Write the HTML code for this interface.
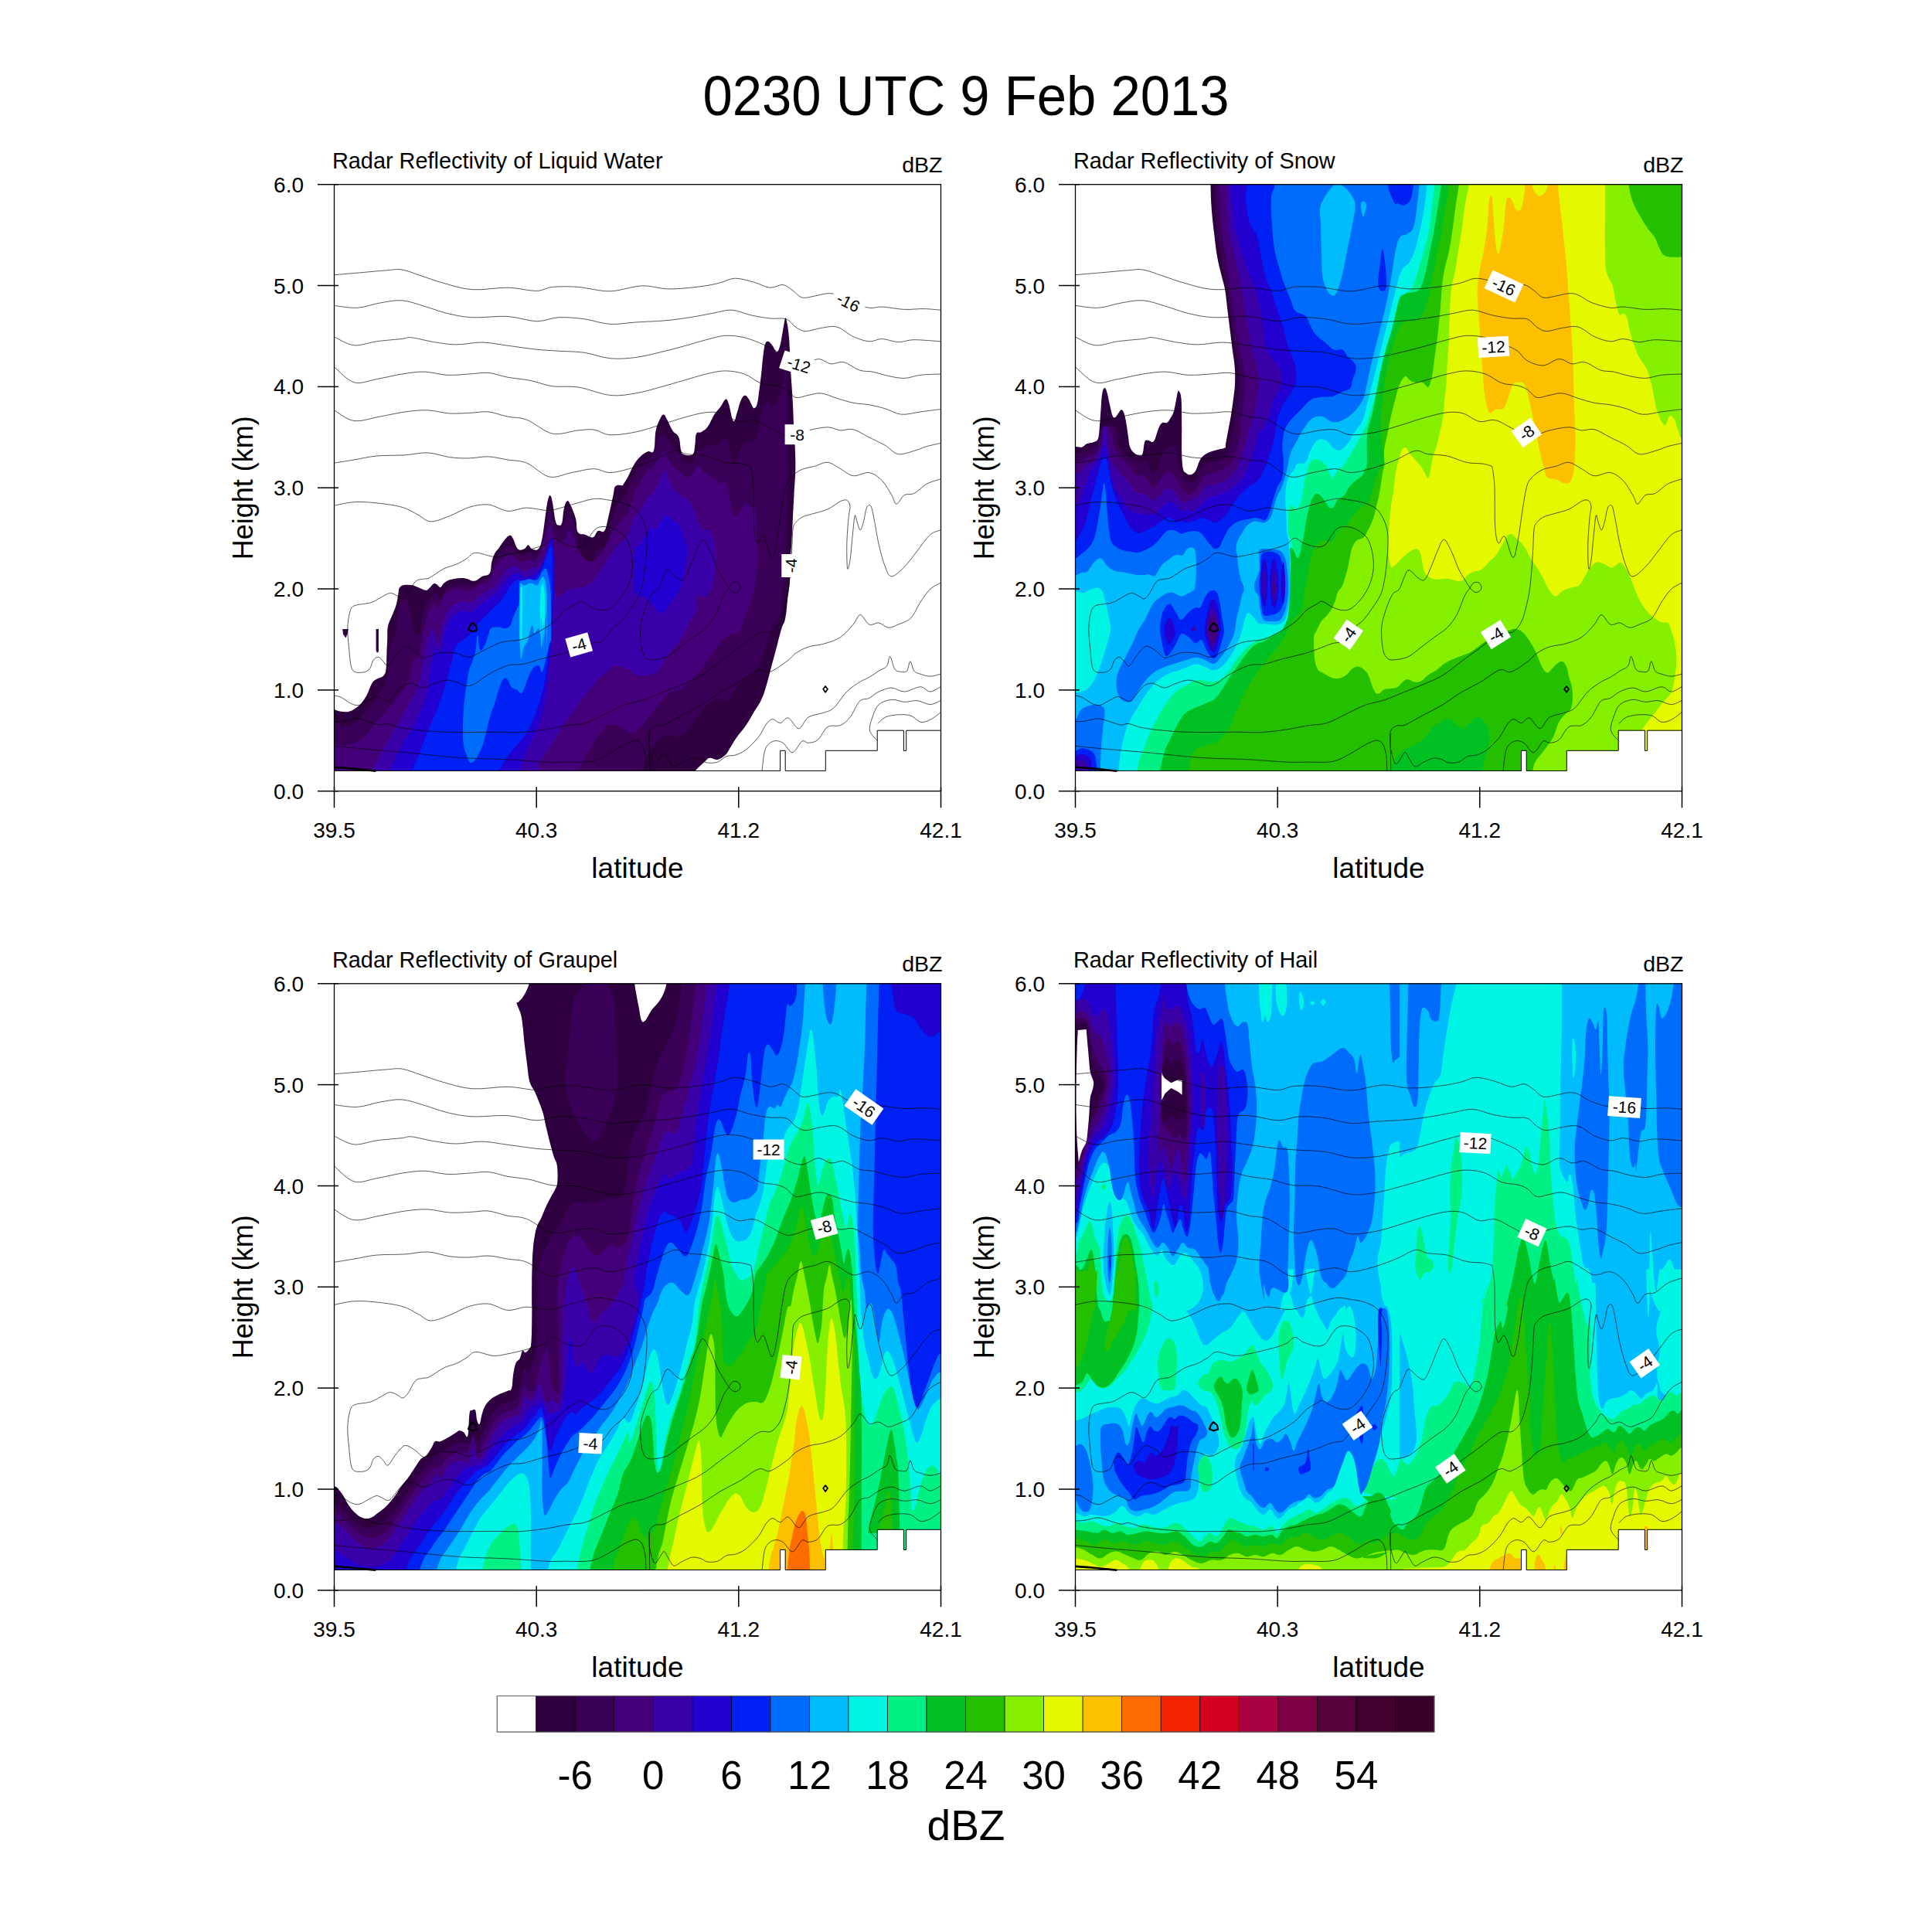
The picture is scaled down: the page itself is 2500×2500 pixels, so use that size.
<!DOCTYPE html>
<html><head><meta charset="utf-8"><title>0230 UTC 9 Feb 2013</title>
<style>html,body{margin:0;padding:0;background:#fff}svg{display:block}text{fill:#000}</style></head><body>
<svg width="2500" height="2500" viewBox="0 0 2500 2500">
<rect width="2500" height="2500" fill="#fff"/>
<text x="1250" y="148.5" font-family="Liberation Sans, Arial, Helvetica, sans-serif" font-size="72" text-anchor="middle" textLength="681" lengthAdjust="spacingAndGlyphs">0230 UTC 9 Feb 2013</text>
<clipPath id="cp0"><rect x="432.5" y="238.7" width="785.0" height="785.0"/></clipPath>
<g clip-path="url(#cp0)">
<g transform="translate(432.5,238.7)">
<path d="M-0.0,679.6 C1.8,680.2 5.3,681.6 9.1,682.1 C12.9,682.6 15.4,682.9 19.0,682.1 C22.6,681.3 24.0,680.3 27.3,677.9 C30.6,675.6 32.6,674.0 35.6,670.5 C38.5,667.0 39.5,665.5 42.2,660.6 C44.8,655.6 46.2,649.8 48.8,645.6 C51.5,641.5 52.5,641.8 55.4,639.9 C58.4,637.9 61.4,638.2 63.7,635.7 C66.0,633.2 66.2,633.1 67.0,627.4 C67.9,621.8 67.5,615.4 67.9,607.6 C68.2,599.7 68.4,595.5 68.7,588.3 C69.0,581.2 68.2,578.1 69.5,571.8 C70.8,565.5 73.2,562.5 75.3,556.9 C77.5,551.2 78.8,548.9 80.3,543.6 C81.8,538.3 81.9,534.7 82.8,530.4 C83.6,526.1 82.9,524.5 84.4,522.1 C85.9,519.7 87.1,519.2 90.2,518.4 C93.4,517.7 96.5,517.9 100.2,518.4 C103.8,519.0 104.8,519.9 108.4,521.3 C112.1,522.6 115.4,524.9 118.4,525.1 C121.4,525.2 121.4,523.7 123.3,522.1 C125.3,520.4 126.5,517.7 128.3,516.8 C130.1,515.9 130.6,516.6 132.5,517.4 C134.3,518.3 135.6,521.5 137.4,521.3 C139.2,521.0 139.4,518.1 141.6,516.3 C143.7,514.5 144.9,513.5 148.2,512.1 C151.5,510.8 153.8,510.2 158.1,509.7 C162.4,509.2 165.1,509.0 169.7,509.7 C174.4,510.3 177.0,513.5 181.3,513.0 C185.6,512.5 187.3,509.2 191.3,507.2 C195.2,505.2 198.7,506.7 201.2,503.0 C203.7,499.4 202.4,494.1 203.7,489.0 C205.0,483.8 206.0,481.0 207.8,477.4 C209.6,473.7 210.1,474.4 212.8,470.7 C215.4,467.1 218.3,462.5 221.1,459.1 C223.9,455.8 224.9,454.5 226.9,454.2 C228.9,453.8 228.9,454.0 231.0,457.5 C233.2,461.0 234.7,468.8 237.6,471.6 C240.6,474.4 243.3,472.6 245.9,471.6 C248.6,470.6 248.9,466.6 250.9,466.6 C252.9,466.6 253.2,470.6 255.9,471.6 C258.5,472.6 261.5,474.4 264.1,471.6 C266.8,468.8 267.1,467.3 269.1,457.5 C271.1,447.7 272.6,432.6 274.1,422.7 C275.6,412.8 275.5,411.8 276.6,407.8 C277.7,403.8 278.4,401.8 279.5,402.5 C280.7,403.2 281.0,404.4 282.4,411.1 C283.7,417.8 284.8,430.0 286.5,436.0 C288.2,441.9 289.0,440.6 290.6,440.9 C292.3,441.3 293.5,441.9 294.8,437.6 C296.1,433.3 295.9,425.0 297.3,419.4 C298.6,413.8 299.7,410.5 301.4,409.5 C303.1,408.5 303.3,409.8 305.5,414.4 C307.8,419.1 310.6,425.5 312.5,432.6 C314.4,439.8 312.7,445.8 315.2,449.9 C317.7,454.1 321.1,451.9 325.0,453.2 C328.9,454.5 331.5,457.5 334.8,456.5 C338.1,455.5 338.4,449.9 341.3,448.3 C344.3,446.7 346.9,451.6 349.5,448.3 C352.1,445.1 352.1,441.1 354.4,432.0 C356.6,422.9 358.9,411.0 360.9,402.7 C362.8,394.3 361.5,392.9 364.1,390.3 C366.8,387.7 372.0,389.9 373.9,389.6 C375.8,389.3 372.5,391.2 373.7,388.9 C374.9,386.7 377.0,384.0 379.9,378.6 C382.8,373.2 384.9,367.4 388.2,362.0 C391.5,356.7 393.0,355.0 396.5,351.7 C400.0,348.4 402.4,346.9 405.8,345.5 C409.2,344.0 411.4,349.8 413.4,344.5 C415.5,339.1 414.4,327.1 416.1,318.6 C417.9,310.1 420.3,306.2 422.3,302.0 C424.4,297.9 424.8,297.5 426.5,297.9 C428.1,298.3 428.3,300.0 430.6,304.1 C432.9,308.2 434.8,314.0 437.9,318.6 C440.9,323.1 443.6,321.9 445.7,326.9 C447.9,331.8 447.3,338.9 448.6,343.4 C450.0,347.9 449.3,348.1 452.4,349.2 C455.4,350.4 460.8,351.6 463.7,349.2 C466.6,346.8 465.9,342.5 466.8,337.2 C467.8,331.9 466.8,326.1 468.5,322.7 C470.1,319.3 472.1,322.1 475.1,320.2 C478.1,318.4 480.1,317.9 483.4,313.4 C486.7,308.9 488.4,303.1 491.7,297.9 C495.0,292.7 497.1,291.5 500.0,287.5 C502.8,283.6 504.1,279.1 506.2,278.2 C508.2,277.4 508.2,277.8 510.3,283.4 C512.4,289.0 514.2,304.1 516.5,306.2 C518.8,308.2 519.8,298.9 521.7,293.8 C523.5,288.6 524.0,284.4 525.8,280.3 C527.7,276.2 528.9,273.7 531.0,273.1 C533.1,272.4 534.3,274.7 536.2,277.2 C538.0,279.7 538.9,283.0 540.3,285.5 C541.8,288.0 542.0,289.8 543.4,289.6 C544.8,289.4 545.9,288.6 547.1,284.4 C548.4,280.3 548.5,277.0 549.6,268.9 C550.7,260.8 551.7,253.2 552.7,244.1 C553.8,235.0 553.8,230.8 554.8,223.4 C555.7,215.9 556.1,210.9 557.5,206.8 C558.8,202.8 559.7,202.7 561.6,203.1 C563.6,203.5 565.1,206.2 567.2,208.9 C569.4,211.6 570.5,216.6 572.4,216.8 C574.2,217.0 575.1,214.4 576.5,209.9 C578.0,205.5 578.6,200.0 579.6,194.4 C580.7,188.8 580.8,186.3 581.7,182.0 C582.6,177.6 583.0,172.7 584.0,172.7 C584.9,172.7 585.5,176.8 586.5,182.0 C587.4,187.2 587.9,192.3 588.5,198.6 C589.1,204.8 588.9,204.8 589.4,213.0 C589.8,221.3 590.1,230.4 590.6,239.9 C591.1,249.5 591.5,251.5 592.0,260.6 C592.6,269.7 593.0,274.7 593.5,285.5 C594.0,296.2 594.2,303.7 594.7,314.4 C595.3,325.2 595.8,328.5 596.2,339.3 C596.6,350.0 597.0,356.3 596.8,368.3 C596.6,380.3 595.8,386.9 595.1,399.3 C594.5,411.7 594.1,417.9 593.5,430.3 C592.9,442.8 592.6,451.0 592.0,461.4 C591.5,471.7 591.1,471.7 590.6,482.1 C590.1,492.4 590.1,502.8 589.4,513.1 C588.6,523.5 588.0,524.2 586.9,533.8 C585.8,543.4 585.4,553.0 583.8,561.1 C582.2,569.3 581.2,566.8 578.9,574.4 C576.6,582.1 574.9,589.3 572.3,599.3 C569.6,609.2 568.3,614.2 565.6,624.1 C563.0,634.1 561.7,640.3 559.0,649.0 C556.4,657.6 555.7,660.2 552.4,667.2 C549.1,674.1 546.4,677.1 542.4,683.7 C538.5,690.4 536.8,694.0 532.5,700.3 C528.2,706.6 524.9,709.6 520.9,715.2 C516.9,720.8 515.6,723.8 512.6,728.5 C509.7,733.1 509.3,735.3 506.0,738.4 C502.7,741.5 500.0,743.5 496.1,744.2 C492.1,744.9 489.4,741.5 486.1,742.0 C482.8,742.5 483.5,743.2 479.5,746.7 C475.5,750.1 466.3,759.3 466.3,759.3 L0.0,759.7 L0.0,679.3 C0.0,679.3 -1.9,679.0 -0.0,679.6Z" fill="#2e0040"/>
<path d="M10.7,575.3 L18.2,575.3 L17.3,581.1 L14.9,586.8 L11.5,581.9Z" fill="#2e0040"/>
<path d="M54.1,575.3 L57.4,575.3 L57.4,604.2 L55.4,606.2 L54.1,602.6Z" fill="#2e0040"/>
<path d="M-0.0,694.5 C2.4,695.9 7.6,700.5 12.4,701.1 C17.2,701.8 19.3,700.3 24.0,697.8 C28.6,695.3 30.9,693.5 35.6,688.7 C40.2,683.9 42.5,680.1 47.2,673.8 C51.8,667.5 54.8,663.5 58.8,657.2 C62.7,650.9 64.7,649.6 67.0,642.3 C69.4,635.0 69.4,629.4 70.3,620.8 C71.3,612.2 70.2,607.4 72.0,599.3 C73.8,591.1 77.5,588.9 79.5,580.1 C81.4,571.2 80.5,563.5 81.9,555.2 C83.4,546.9 84.9,542.5 86.9,538.6 C88.9,534.8 89.9,534.8 91.9,536.2 C93.9,537.5 95.2,539.8 96.8,545.3 C98.5,550.7 98.8,556.5 100.2,563.5 C101.5,570.5 102.1,576.1 103.5,580.1 C104.8,584.0 105.1,584.0 106.8,583.4 C108.4,582.7 110.1,582.4 111.8,576.7 C113.4,571.1 113.4,562.5 115.1,555.2 C116.7,547.9 118.0,544.3 120.0,540.3 C122.0,536.3 123.3,537.7 125.0,535.3 C126.7,533.0 127.0,529.7 128.3,528.7 C129.6,527.7 129.6,528.7 131.6,530.4 C133.6,532.0 136.3,537.3 138.3,537.0 C140.2,536.7 139.9,531.7 141.6,528.7 C143.2,525.7 143.9,524.1 146.5,522.1 C149.2,520.1 150.8,519.9 154.8,518.8 C158.8,517.6 161.4,516.1 166.4,516.3 C171.4,516.5 175.4,520.1 179.7,519.6 C184.0,519.1 184.0,516.0 187.9,513.8 C191.9,511.7 196.2,512.1 199.5,508.8 C202.9,505.5 202.9,501.5 204.5,497.2 C206.2,492.9 205.8,491.3 207.8,487.3 C209.8,483.3 211.1,481.3 214.4,477.4 C217.8,473.4 221.1,469.1 224.4,467.4 C227.7,465.8 228.4,467.1 231.0,469.1 C233.7,471.1 234.7,475.4 237.6,477.4 C240.6,479.4 242.9,479.4 245.9,479.0 C248.9,478.7 249.6,475.7 252.5,475.7 C255.5,475.7 257.8,480.0 260.8,479.0 C263.8,478.0 265.1,477.0 267.4,470.7 C269.8,464.4 270.8,456.2 272.4,447.6 C274.1,438.9 274.3,433.0 275.7,427.7 C277.2,422.4 277.9,419.1 279.5,421.1 C281.2,423.0 281.8,432.6 284.0,437.6 C286.2,442.6 288.3,444.6 290.6,445.9 C293.0,447.2 293.9,447.2 295.6,444.2 C297.3,441.3 297.6,434.3 298.9,431.0 C300.2,427.7 299.5,425.4 302.2,427.7 C304.9,430.0 309.6,433.2 312.5,442.6 C315.4,451.9 312.7,465.4 316.9,474.4 C321.0,483.4 328.6,487.5 333.2,487.5 C337.7,487.5 335.8,479.0 339.7,474.4 C343.6,469.8 349.1,471.1 352.7,464.6 C356.3,458.1 355.0,451.6 357.6,441.8 C360.2,432.0 362.1,423.4 365.8,415.7 C369.4,408.0 372.5,408.8 375.8,403.4 C379.0,398.1 379.1,395.2 382.0,388.9 C384.9,382.7 386.5,378.6 390.3,372.4 C394.0,366.2 396.5,362.0 400.6,357.9 C404.8,353.8 407.9,355.8 411.0,351.7 C414.1,347.6 414.1,342.2 416.1,337.2 C418.2,332.2 419.2,330.0 421.3,326.9 C423.4,323.8 424.4,321.3 426.5,321.7 C428.6,322.1 429.0,325.4 431.7,328.9 C434.3,332.5 437.0,335.6 439.9,339.3 C442.8,343.0 444.3,344.0 446.1,347.6 C448.0,351.1 447.2,354.2 449.2,356.9 C451.3,359.6 453.4,360.6 456.5,361.0 C459.6,361.4 462.3,361.6 464.8,358.9 C467.3,356.3 466.8,350.7 468.9,347.6 C471.0,344.5 471.8,345.5 475.1,343.4 C478.4,341.3 481.3,338.5 485.5,337.2 C489.6,336.0 492.1,338.9 495.8,337.2 C499.5,335.6 501.4,329.8 504.1,328.9 C506.8,328.1 507.6,329.3 509.3,333.1 C510.9,336.8 510.9,341.8 512.4,347.6 C513.8,353.4 514.6,361.2 516.5,362.0 C518.4,362.9 519.6,356.3 521.7,351.7 C523.8,347.1 524.6,343.0 526.9,339.3 C529.1,335.6 529.8,334.7 533.1,333.1 C536.4,331.4 540.3,333.9 543.4,331.0 C546.5,328.1 546.5,326.0 548.6,318.6 C550.7,311.1 551.7,301.0 553.8,293.8 C555.8,286.5 556.7,283.8 558.9,282.4 C561.2,280.9 562.5,286.7 565.1,286.5 C567.8,286.3 569.7,285.7 572.4,281.3 C575.1,277.0 576.5,272.2 578.6,264.8 C580.7,257.3 581.5,249.0 582.7,244.1 C584.0,239.1 584.2,235.8 584.8,239.9 C585.4,244.1 585.5,251.5 585.8,264.8 C586.2,278.0 586.3,289.6 586.5,306.2 C586.7,322.7 586.8,331.0 586.9,347.6 C587.0,364.1 587.1,372.4 586.9,388.9 C586.7,405.5 586.5,413.8 585.8,430.3 C585.2,446.9 584.8,455.2 583.8,471.7 C582.7,488.3 582.3,495.2 580.7,513.1 C579.0,531.0 578.2,549.5 575.5,561.1 C572.8,572.7 570.3,565.1 567.3,571.1 C564.3,577.1 563.3,583.0 560.7,591.0 C558.0,598.9 557.0,603.6 554.0,610.9 C551.1,618.2 550.1,621.8 545.8,627.4 C541.5,633.1 537.1,634.7 532.5,639.0 C527.9,643.3 526.5,644.0 522.6,649.0 C518.6,653.9 515.9,660.1 512.6,663.9 C509.3,667.7 509.3,667.7 506.0,668.0 C502.7,668.3 500.0,664.7 496.1,665.2 C492.1,665.7 490.1,667.4 486.1,670.5 C482.2,673.5 480.2,675.8 476.2,680.4 C472.2,685.1 470.6,688.0 466.3,693.7 C462.0,699.3 459.0,704.4 454.7,708.6 C450.4,712.7 449.0,713.6 444.7,714.4 C440.4,715.2 437.1,712.6 433.1,712.7 C429.2,712.9 428.8,712.4 424.8,715.2 C420.9,718.0 417.2,721.8 413.3,726.8 C409.3,731.8 408.0,733.6 405.0,740.1 C402.0,746.6 398.3,759.3 398.3,759.3 L0.0,759.7 L0.0,694.3 C0.0,694.3 -2.5,693.1 -0.0,694.5Z" fill="#3a0058"/>
<path d="M-0.1,724.5 C-0.1,724.5 8.6,726.5 13.9,726.0 C19.2,725.6 21.0,724.8 26.3,722.3 C31.6,719.8 35.6,717.8 40.3,713.6 C45.0,709.4 45.3,706.5 49.6,701.2 C54.0,695.9 57.1,692.8 62.0,687.2 C67.0,681.6 69.8,678.8 74.5,673.2 C79.1,667.6 81.3,664.8 85.3,659.3 C89.4,653.7 91.8,651.2 94.6,645.3 C97.4,639.4 97.7,636.0 99.3,629.7 C100.9,623.5 100.5,617.6 102.4,614.2 C104.3,610.8 106.8,615.8 108.6,612.7 C110.5,609.6 110.5,605.2 111.7,598.7 C113.0,592.2 113.3,587.5 114.8,580.1 C116.4,572.6 117.6,567.6 119.5,561.4 C121.4,555.2 122.3,553.0 124.1,549.0 C126.0,545.0 126.9,541.2 128.8,541.2 C130.7,541.2 131.6,549.3 133.5,549.0 C135.3,548.7 136.3,543.4 138.1,539.7 C140.0,536.0 140.0,533.5 142.8,530.4 C145.6,527.3 148.4,525.7 152.1,524.2 C155.8,522.6 157.1,522.3 161.4,522.6 C165.8,522.9 169.8,525.7 173.8,525.7 C177.9,525.7 178.2,524.5 181.6,522.6 C185.0,520.7 186.9,518.6 190.9,516.4 C195.0,514.2 198.7,515.2 201.8,511.7 C204.9,508.3 204.3,504.0 206.4,499.3 C208.6,494.7 209.5,492.2 212.7,488.4 C215.8,484.7 217.9,482.2 222.0,480.7 C226.0,479.1 229.1,479.1 232.8,480.7 C236.6,482.2 237.2,487.5 240.6,488.4 C244.0,489.4 246.2,485.6 249.9,485.3 C253.6,485.0 255.8,489.1 259.2,486.9 C262.7,484.7 264.2,481.3 267.0,474.5 C269.8,467.6 270.7,459.6 273.2,452.7 C275.7,445.9 277.3,440.0 279.4,440.3 C281.6,440.6 281.9,449.9 284.1,454.3 C286.3,458.6 287.5,461.1 290.3,462.0 C293.1,463.0 295.6,461.7 298.1,458.9 C300.5,456.1 300.5,449.0 302.7,448.1 C304.9,447.1 306.1,449.0 308.9,454.3 C311.7,459.6 312.0,467.6 316.7,474.5 C321.4,481.3 326.0,488.4 332.2,488.4 C338.4,488.4 342.2,482.2 347.7,474.5 C353.3,466.7 354.8,458.2 360.2,449.6 C365.6,441.0 370.4,437.3 374.7,431.4 C379.1,425.4 379.3,426.4 382.0,420.0 C384.7,413.6 385.3,406.3 388.2,399.3 C391.1,392.3 393.2,390.6 396.5,384.8 C399.8,379.0 401.6,374.0 404.8,370.3 C407.9,366.6 409.1,369.1 412.0,366.2 C414.9,363.3 416.3,360.2 419.2,355.8 C422.1,351.5 424.0,344.9 426.5,344.5 C429.0,344.0 429.0,349.4 431.7,353.8 C434.3,358.1 436.2,362.0 439.9,366.2 C443.7,370.3 446.8,371.8 450.3,374.5 C453.8,377.2 454.6,380.0 457.5,379.6 C460.4,379.2 462.3,375.5 464.8,372.4 C467.3,369.3 467.9,364.9 469.9,364.1 C472.0,363.3 472.4,365.8 475.1,368.3 C477.8,370.7 480.1,374.0 483.4,376.5 C486.7,379.0 488.6,378.6 491.7,380.7 C494.8,382.7 496.0,386.1 498.9,386.9 C501.8,387.7 503.9,382.3 506.2,384.8 C508.4,387.3 508.6,392.3 510.3,399.3 C512.0,406.3 512.6,414.0 514.4,420.0 C516.3,426.0 517.1,429.3 519.6,429.3 C522.1,429.3 524.2,423.5 526.9,420.0 C529.5,416.5 530.6,412.1 533.1,411.7 C535.5,411.3 536.9,415.8 539.3,417.9 C541.7,420.0 543.6,415.6 545.1,422.3 C546.5,428.9 545.9,438.0 546.5,451.0 C547.2,464.1 549.0,473.0 548.4,487.5 C547.8,501.9 545.3,512.7 543.4,523.5 C541.5,534.2 540.6,536.0 539.1,541.3 C537.5,546.5 537.8,544.6 535.8,549.6 C533.8,554.6 531.8,560.2 529.2,566.1 C526.5,572.1 525.9,576.1 522.6,579.4 C519.3,582.7 516.6,580.7 512.6,582.7 C508.7,584.7 507.0,585.0 502.7,589.3 C498.4,593.6 495.7,597.9 491.1,604.2 C486.5,610.5 484.5,614.2 479.5,620.8 C474.5,627.4 471.2,632.1 466.3,637.4 C461.3,642.7 458.6,644.0 454.7,647.3 C450.7,650.6 451.0,651.6 446.4,653.9 C441.7,656.2 436.4,655.6 431.5,658.9 C426.5,662.2 426.2,664.9 421.5,670.5 C416.9,676.1 413.6,680.4 408.3,687.1 C403.0,693.7 399.3,699.0 395.0,703.6 C390.7,708.3 389.7,709.4 386.8,710.2 C383.8,711.1 384.1,709.6 380.1,707.8 C376.2,705.9 371.8,702.8 366.9,701.1 C361.9,699.5 359.3,698.3 355.3,699.5 C351.3,700.6 350.6,702.8 347.0,706.9 C343.4,711.1 341.4,713.6 337.1,720.2 C332.8,726.8 329.8,732.2 325.5,740.1 C321.2,747.9 315.5,759.3 315.5,759.3 L0.0,759.7 L-0.1,724.5Z" fill="#440078"/>
<path d="M48.7,759.6 C48.7,759.6 54.4,747.0 58.9,738.4 C63.5,729.9 66.4,725.4 71.4,716.7 C76.3,708.0 78.8,703.7 83.8,695.0 C88.7,686.3 91.8,681.3 96.2,673.2 C100.5,665.2 102.4,662.0 105.5,654.6 C108.6,647.1 109.9,643.4 111.7,636.0 C113.6,628.5 113.3,625.4 114.8,617.3 C116.4,609.3 117.6,603.0 119.5,595.6 C121.4,588.1 122.6,584.1 124.1,580.1 C125.7,576.0 125.7,574.2 127.3,575.4 C128.8,576.6 130.4,582.2 131.9,586.3 C133.5,590.3 133.8,596.8 135.0,595.6 C136.3,594.3 136.6,586.9 138.1,580.1 C139.7,573.2 140.6,567.6 142.8,561.4 C145.0,555.2 146.2,552.7 149.0,549.0 C151.8,545.3 153.0,544.7 156.8,542.8 C160.5,540.9 163.6,540.0 167.6,539.7 C171.7,539.4 173.2,542.5 176.9,541.2 C180.7,540.0 181.9,536.6 186.3,533.5 C190.6,530.4 194.0,528.8 198.7,525.7 C203.3,522.6 205.8,522.0 209.5,517.9 C213.3,513.9 213.9,509.9 217.3,505.5 C220.7,501.2 222.9,498.4 226.6,496.2 C230.4,494.0 232.2,493.7 235.9,494.7 C239.7,495.6 241.5,500.6 245.3,500.9 C249.0,501.2 250.9,497.8 254.6,496.2 C258.3,494.7 260.5,496.2 263.9,493.1 C267.3,490.0 268.9,486.9 271.7,480.7 C274.5,474.5 276.0,467.0 277.9,462.0 C279.7,457.1 279.7,453.3 281.0,455.8 C282.2,458.3 282.8,459.6 284.1,474.5 C285.3,489.4 283.2,520.4 287.2,530.4 C291.2,540.3 295.9,526.6 304.3,524.2 C312.7,521.7 321.0,522.9 329.1,517.9 C337.2,513.0 338.4,508.0 344.6,499.3 C350.9,490.6 354.0,482.5 360.2,474.5 C366.4,466.4 372.6,462.0 375.7,458.9 C378.8,455.9 374.5,461.3 375.8,459.3 C377.0,457.3 379.9,453.9 382.0,449.0 C384.1,444.0 384.1,439.0 386.1,434.5 C388.2,429.9 389.9,429.5 392.3,426.2 C394.8,422.9 396.1,422.1 398.5,417.9 C401.0,413.8 402.1,409.2 404.8,405.5 C407.4,401.8 409.1,402.6 412.0,399.3 C414.9,396.0 416.1,394.7 419.2,388.9 C422.3,383.2 424.6,371.2 427.5,370.3 C430.4,369.5 431.2,379.8 433.7,384.8 C436.2,389.8 436.6,391.4 439.9,395.2 C443.2,398.9 446.1,400.1 450.3,403.4 C454.4,406.7 457.5,408.0 460.6,411.7 C463.7,415.4 463.7,417.1 465.8,422.1 C467.9,427.0 468.7,431.6 471.0,436.5 C473.3,441.5 474.7,445.0 477.2,446.9 C479.7,448.8 481.3,445.0 483.4,445.9 C485.5,446.7 485.9,447.5 487.5,451.0 C489.2,454.6 490.4,456.8 491.7,463.5 C492.9,470.1 493.5,476.3 493.7,484.1 C493.9,492.0 493.5,496.2 492.7,502.8 C491.9,509.4 490.6,512.7 489.6,517.3 C488.6,521.8 488.8,522.6 487.5,525.5 C486.3,528.4 485.5,530.1 483.4,531.7 C481.3,533.4 479.7,533.8 477.2,533.8 C474.7,533.8 473.0,529.3 471.0,531.7 C468.9,534.2 468.1,540.4 466.8,546.2 C465.6,552.1 463.9,562.1 464.8,561.1 C465.6,560.1 470.9,543.3 471.2,541.3 C471.5,539.3 468.9,545.6 466.3,551.2 C463.6,556.9 462.0,561.5 458.0,569.5 C454.0,577.4 451.4,583.4 446.4,591.0 C441.4,598.6 437.8,601.3 433.1,607.6 C428.5,613.8 426.5,617.7 423.2,622.5 C419.9,627.3 419.5,629.3 416.6,631.6 C413.6,633.9 412.6,633.2 408.3,634.1 C404.0,634.9 400.7,637.0 395.0,635.7 C389.4,634.4 385.8,630.1 380.1,627.4 C374.5,624.8 370.9,623.1 366.9,622.5 C362.9,621.8 364.2,621.5 360.3,624.1 C356.3,626.8 352.3,630.7 347.0,635.7 C341.7,640.7 339.7,642.0 333.8,649.0 C327.8,655.9 323.8,661.5 317.2,670.5 C310.6,679.4 307.3,683.7 300.6,693.7 C294.0,703.6 290.7,709.9 284.1,720.2 C277.4,730.5 271.5,737.1 267.5,745.0 C263.5,752.9 264.1,759.7 264.1,759.7 L48.7,759.6Z" fill="#3a00a8"/>
<path d="M72.0,759.6 C72.0,759.6 76.4,747.0 80.7,738.4 C84.9,729.9 88.1,725.4 93.1,716.7 C98.1,708.0 101.2,703.7 105.5,695.0 C109.9,686.3 111.7,681.9 114.8,673.2 C117.9,664.5 119.2,660.2 121.0,651.5 C122.9,642.8 122.9,637.8 124.1,629.7 C125.4,621.7 125.7,617.3 127.3,611.1 C128.8,604.9 130.4,599.9 131.9,598.7 C133.5,597.4 133.5,604.9 135.0,604.9 C136.6,604.9 138.1,603.7 139.7,598.7 C141.2,593.7 140.9,586.9 142.8,580.1 C144.6,573.2 145.9,569.5 149.0,564.5 C152.1,559.6 154.6,557.7 158.3,555.2 C162.0,552.7 163.9,552.4 167.6,552.1 C171.4,551.8 173.2,554.9 176.9,553.7 C180.7,552.4 181.9,549.3 186.3,545.9 C190.6,542.5 193.7,540.3 198.7,536.6 C203.6,532.9 206.8,531.6 211.1,527.3 C215.5,522.9 216.7,519.2 220.4,514.8 C224.1,510.5 226.0,507.7 229.7,505.5 C233.5,503.3 235.3,503.3 239.1,504.0 C242.8,504.6 244.6,508.6 248.4,508.6 C252.1,508.6 254.0,506.5 257.7,504.0 C261.4,501.5 263.9,500.9 267.0,496.2 C270.1,491.5 271.0,486.9 273.2,480.7 C275.4,474.5 276.1,469.5 277.9,465.2 C279.6,460.8 280.7,457.1 281.9,458.9 C283.2,460.8 283.3,465.2 284.1,474.5 C284.8,483.8 285.6,493.1 285.6,505.5 C285.6,517.9 284.7,524.2 284.1,536.6 C283.5,549.0 283.2,555.2 282.5,567.6 C281.9,580.1 281.9,586.9 281.0,598.7 C280.0,610.5 279.1,615.5 277.9,626.6 C276.6,637.8 276.3,644.0 274.8,654.6 C273.2,665.2 272.3,670.1 270.1,679.4 C267.9,688.8 267.0,693.1 263.9,701.2 C260.8,709.3 258.3,711.7 254.6,719.8 C250.9,727.9 248.3,733.6 245.3,741.5 C242.2,749.5 239.4,759.6 239.4,759.6 L72.0,759.6Z" fill="#2200d0"/>
<path d="M389.2,469.7 C390.3,464.7 391.3,471.3 394.4,467.6 C397.5,463.9 401.4,455.7 404.8,451.0 C408.1,446.4 408.7,445.4 411.0,444.4 C413.2,443.4 413.9,447.4 416.1,445.9 C418.4,444.3 420.1,439.7 422.3,436.5 C424.6,433.4 425.7,431.8 427.5,430.3 C429.4,428.9 429.6,428.5 431.7,429.3 C433.7,430.1 435.0,432.2 437.9,434.5 C440.8,436.8 443.7,437.4 446.1,440.7 C448.6,444.0 448.6,446.5 450.3,451.0 C451.9,455.6 453.0,459.3 454.4,463.5 C455.9,467.6 457.3,467.6 457.5,471.7 C457.7,475.9 456.3,479.2 455.5,484.1 C454.6,489.1 454.4,490.8 453.4,496.6 C452.4,502.4 451.7,507.3 450.3,513.1 C448.8,518.9 448.6,520.6 446.1,525.5 C443.7,530.5 441.2,533.0 437.9,538.0 C434.6,542.9 432.5,547.1 429.6,550.4 C426.7,553.7 425.9,554.5 423.4,554.5 C420.9,554.5 420.1,553.3 417.2,550.4 C414.3,547.5 412.2,543.3 408.9,540.0 C405.6,536.7 403.7,535.5 400.6,533.8 C397.5,532.2 395.9,533.8 393.4,531.7 C390.9,529.7 389.0,531.3 388.2,523.5 C387.4,515.6 389.0,503.2 389.2,492.4 C389.4,481.7 388.2,474.6 389.2,469.7Z" fill="#2200d0"/>
<path d="M100.2,759.6 C100.2,759.6 107.6,742.7 111.7,732.2 C115.9,721.8 117.3,716.7 121.0,707.4 C124.8,698.1 126.6,695.0 130.4,685.6 C134.1,676.3 136.6,670.1 139.7,660.8 C142.8,651.5 143.4,647.8 145.9,639.1 C148.4,630.4 149.9,625.4 152.1,617.3 C154.3,609.3 154.6,603.7 156.8,598.7 C158.9,593.7 160.2,595.0 163.0,592.5 C165.8,590.0 167.9,588.8 170.7,586.3 C173.5,583.8 173.8,583.8 176.9,580.1 C180.0,576.3 182.5,572.0 186.3,567.6 C190.0,563.3 191.8,562.0 195.6,558.3 C199.3,554.6 200.5,553.3 204.9,549.0 C209.2,544.7 213.0,542.2 217.3,536.6 C221.7,531.0 222.9,526.0 226.6,521.1 C230.4,516.1 232.2,513.3 235.9,511.7 C239.7,510.2 241.5,513.3 245.3,513.3 C249.0,513.3 250.9,513.3 254.6,511.7 C258.3,510.2 260.5,509.9 263.9,505.5 C267.3,501.2 268.9,496.8 271.7,490.0 C274.5,483.2 276.0,476.0 277.9,471.4 C279.7,466.7 280.0,464.2 281.0,466.7 C281.9,469.2 282.2,472.9 282.5,483.8 C282.8,494.7 282.8,506.8 282.5,521.1 C282.2,535.3 281.6,542.2 281.0,555.2 C280.4,568.3 280.4,573.8 279.4,586.3 C278.5,598.7 277.9,605.5 276.3,617.3 C274.8,629.1 273.8,634.7 271.7,645.3 C269.5,655.8 268.2,660.8 265.5,670.1 C262.7,679.4 261.1,683.8 257.7,691.9 C254.3,699.9 252.7,703.7 248.4,710.5 C244.0,717.3 240.9,719.8 235.9,726.0 C231.0,732.2 228.2,734.8 223.5,741.5 C218.9,748.3 212.7,759.6 212.7,759.6 L100.2,759.6Z" fill="#0020f4"/>
<path d="M178.0,748.3 C174.2,749.3 172.7,741.7 170.6,736.7 C168.4,731.8 168.1,729.5 167.2,723.5 C166.4,717.5 166.4,715.2 166.4,706.9 C166.4,698.6 166.6,692.0 167.2,682.1 C167.9,672.1 168.7,665.5 169.7,657.2 C170.7,649.0 171.2,646.6 172.2,640.7 C173.2,634.7 173.2,632.7 174.7,627.4 C176.2,622.1 178.0,619.1 179.7,614.2 C181.3,609.2 181.8,608.9 183.0,602.6 C184.1,596.3 184.3,582.7 185.5,582.7 C186.6,582.7 187.0,599.9 188.8,602.6 C190.6,605.2 192.4,599.9 194.6,596.0 C196.7,592.0 197.9,587.0 199.5,582.7 C201.2,578.4 200.2,576.4 202.9,574.4 C205.5,572.4 209.1,572.8 212.8,572.8 C216.4,572.8 218.1,574.8 221.1,574.4 C224.1,574.1 225.7,573.8 227.7,571.1 C229.7,568.5 229.4,565.5 231.0,561.2 C232.7,556.9 234.3,553.6 236.0,549.6 C237.6,545.6 238.6,546.8 239.3,541.3 C240.0,535.8 239.1,527.6 239.3,522.1 C239.5,516.6 238.8,515.8 240.1,513.8 C241.4,511.8 243.4,512.8 245.9,512.1 C248.4,511.5 249.6,510.5 252.5,510.5 C255.5,510.5 258.2,512.8 260.8,512.1 C263.5,511.5 264.1,509.5 265.8,507.2 C267.4,504.9 267.4,502.5 269.1,500.6 C270.8,498.6 272.4,495.9 274.1,497.2 C275.7,498.6 276.2,501.9 277.4,507.2 C278.5,512.5 279.2,515.8 279.9,523.7 C280.5,531.7 280.5,530.4 280.7,546.9 C280.9,563.4 280.9,597.4 280.7,606.2 C280.5,615.0 281.5,588.1 279.9,591.0 C278.2,593.9 274.7,612.9 272.4,620.8 C270.1,628.8 269.6,630.1 268.3,630.7 C267.0,631.4 267.0,625.8 265.8,624.1 C264.6,622.5 264.1,622.1 262.5,622.5 C260.8,622.8 259.5,623.5 257.5,625.8 C255.5,628.1 254.5,629.7 252.5,634.1 C250.6,638.4 249.6,642.5 247.6,647.3 C245.6,652.1 244.9,656.7 242.6,658.1 C240.3,659.4 238.6,655.4 236.0,653.9 C233.3,652.4 231.7,653.3 229.4,650.6 C227.0,648.0 226.4,642.8 224.4,640.7 C222.4,638.5 221.4,638.2 219.4,639.9 C217.4,641.5 216.8,642.8 214.4,649.0 C212.1,655.1 210.5,662.2 207.8,670.5 C205.2,678.8 203.5,682.4 201.2,690.4 C198.9,698.3 198.5,702.0 196.2,710.2 C193.9,718.5 193.2,724.2 189.6,731.8 C186.0,739.4 181.8,747.3 178.0,748.3Z" fill="#006cfc"/>
<path d="M240.9,516.3 C241.9,514.4 243.7,518.9 245.9,518.8 C248.1,518.6 251.4,515.5 254.2,515.5 C257.0,515.5 260.4,519.3 262.5,518.8 C264.5,518.2 265.4,514.1 266.6,512.1 C267.9,510.2 268.8,506.9 269.9,507.2 C271.0,507.5 272.4,509.9 273.2,513.8 C274.1,517.7 274.5,522.1 274.9,530.4 C275.3,538.6 275.7,550.9 275.7,563.5 C275.7,576.1 275.0,609.9 274.9,606.2 C274.8,602.5 275.0,549.4 274.9,541.3 C274.8,533.2 274.8,551.0 274.1,557.9 C273.4,564.8 271.7,575.8 270.8,582.7 C269.8,589.6 269.0,599.3 268.3,599.3 C267.6,599.3 267.3,586.8 266.6,582.7 C265.9,578.6 265.4,574.7 264.1,574.4 C262.9,574.2 260.4,581.6 259.2,581.1 C257.9,580.5 257.5,572.2 256.7,571.1 C255.9,570.0 255.2,571.4 254.2,574.4 C253.2,577.5 252.3,585.5 250.9,589.3 C249.5,593.2 247.2,594.6 245.9,597.6 C244.7,600.7 244.1,604.8 243.4,607.6 C242.7,610.3 242.3,616.1 241.8,614.2 C241.2,612.2 240.5,602.6 240.1,596.0 C239.7,589.3 239.4,583.5 239.3,574.4 C239.2,565.3 239.3,543.1 239.3,541.3 C239.3,539.5 239.2,565.3 239.3,563.5 C239.4,561.7 239.8,538.2 240.1,530.4 C240.4,522.5 240.0,518.2 240.9,516.3Z" fill="#00bcfc"/>
<path d="M267.4,522.1 L270.4,515.5 L272.4,530.4 L272.1,571.8 L270.8,606.2 L271.6,566.1 L269.4,574.4 L267.4,557.9 L266.6,580.1 L266.1,546.9Z" fill="#00f4e4"/>
<path d="M240.6,522.1 L243.4,520.4 L243.9,546.9 L242.9,588.3 L240.6,588.3Z" fill="#00f4e4"/>
<path d="M-2.0,790.0 L-2.0,758.7 L577.1,758.7 L577.1,732.6 L583.7,732.6 L583.7,758.7 L635.8,758.7 L635.8,732.6 L702.7,732.6 L702.7,706.5 L736.9,706.5 L736.9,732.6 L740.2,732.6 L740.2,706.5 L785.0,706.5 L790.0,706.5 L790.0,790.0Z" fill="#fff"/>
<path d="M0.0,758.7 L577.1,758.7 L577.1,732.6 L583.7,732.6 L583.7,758.7 L635.8,758.7 L635.8,732.6 L702.7,732.6 L702.7,706.5 L736.9,706.5 L736.9,732.6 L740.2,732.6 L740.2,706.5 L785.0,706.5" fill="none" stroke="#000" stroke-width="1.0"/>
<path d="M-0.0,117.0 C5.6,116.5 22.7,115.0 33.9,114.1 C45.1,113.1 58.1,111.8 67.0,111.2 C76.0,110.6 80.1,109.2 87.7,110.3 C95.3,111.5 103.6,115.3 112.6,118.2 C121.6,121.1 130.5,124.8 141.6,127.7 C152.6,130.7 165.0,135.1 178.8,136.0 C192.6,137.0 210.6,133.3 224.4,133.5 C238.2,133.8 252.0,137.8 261.7,137.7 C271.3,137.5 273.4,133.5 282.4,132.7 C291.3,131.9 303.1,131.8 315.5,132.7 C327.9,133.6 343.1,138.4 356.9,138.1 C370.7,137.8 385.9,131.5 398.3,131.1 C410.7,130.6 419.7,134.9 431.4,135.2 C443.2,135.5 457.6,134.0 468.7,132.7 C479.7,131.5 489.4,129.6 497.7,127.7 C506.0,125.9 510.8,121.7 518.4,121.5 C526.0,121.3 535.6,124.5 543.2,126.5 C550.8,128.5 557.7,133.0 563.9,133.5 C570.1,134.1 575.7,129.3 580.5,129.8 C585.3,130.4 588.8,134.1 592.9,136.8 C597.1,139.6 600.5,145.1 605.3,146.4 C610.2,147.6 616.4,145.2 621.9,144.3 C627.4,143.4 633.6,141.2 638.5,141.0 C643.3,140.8 646.1,141.1 650.9,143.1 C655.7,145.0 660.5,149.8 667.4,152.6 C674.3,155.3 685.4,158.7 692.3,159.6 C699.2,160.6 701.3,158.0 708.9,158.4 C716.4,158.7 728.9,161.3 737.8,161.7 C746.8,162.1 754.9,160.7 762.7,160.9 C770.5,161.0 781.0,162.2 784.6,162.5" fill="none" stroke="#000" stroke-width="0.65" stroke-linejoin="round"/>
<path d="M-0.0,156.7 C4.9,157.2 20.0,160.2 29.8,159.6 C39.6,159.1 49.1,155.0 58.8,153.4 C68.4,151.8 78.1,149.4 87.7,150.1 C97.4,150.8 107.1,154.8 116.7,157.6 C126.4,160.3 135.4,164.2 145.7,166.7 C156.1,169.1 165.7,171.4 178.8,172.0 C191.9,172.7 210.6,170.0 224.4,170.8 C238.2,171.6 250.6,176.8 261.7,177.0 C272.7,177.2 280.3,172.5 290.6,172.0 C301.0,171.6 312.7,172.7 323.8,174.1 C334.8,175.6 345.8,180.1 356.9,180.7 C367.9,181.4 378.3,179.0 390.0,178.3 C401.7,177.5 415.6,177.2 427.3,176.2 C439.0,175.2 450.1,173.6 460.4,172.0 C470.8,170.5 480.4,168.2 489.4,166.7 C498.4,165.1 506.0,162.1 514.2,162.5 C522.5,162.9 530.8,167.4 539.1,169.1 C547.4,170.9 556.3,172.5 563.9,173.3 C571.5,174.1 579.1,172.3 584.6,174.1 C590.2,176.0 592.9,181.8 597.1,184.5 C601.2,187.1 604.0,189.6 609.5,189.9 C615.0,190.1 623.3,186.6 630.2,185.7 C637.1,184.8 644.0,182.6 650.9,184.5 C657.8,186.3 664.7,193.8 671.6,196.9 C678.5,200.0 686.1,202.6 692.3,203.1 C698.5,203.6 702.6,199.7 708.9,199.8 C715.1,199.9 722.7,203.7 729.6,203.9 C736.5,204.1 741.1,201.2 750.3,201.0 C759.4,200.9 778.9,202.8 784.6,203.1" fill="none" stroke="#000" stroke-width="0.65" stroke-linejoin="round"/>
<path d="M-0.0,197.3 C4.2,199.1 16.5,207.1 25.6,208.1 C34.7,209.0 44.3,204.5 54.6,203.1 C65.0,201.7 80.1,200.6 87.7,199.8 C95.3,199.0 93.3,197.4 100.2,198.1 C107.1,198.8 119.5,202.4 129.1,203.9 C138.8,205.4 147.8,207.2 158.1,207.2 C168.5,207.3 180.2,204.1 191.3,204.3 C202.3,204.6 212.7,207.0 224.4,208.5 C236.1,210.0 250.6,212.3 261.7,213.5 C272.7,214.6 280.3,214.8 290.6,215.5 C301.0,216.2 312.7,216.0 323.8,217.6 C334.8,219.2 345.8,224.0 356.9,225.0 C367.9,226.1 379.0,225.2 390.0,223.8 C401.1,222.4 412.8,219.2 423.1,216.8 C433.5,214.4 442.5,211.9 452.1,209.3 C461.8,206.7 472.1,203.3 481.1,201.0 C490.1,198.8 497.7,196.1 506.0,195.6 C514.2,195.2 522.5,196.2 530.8,198.1 C539.1,200.1 548.7,204.3 555.6,207.2 C562.5,210.1 567.4,212.1 572.2,215.5 C577.0,219.0 579.1,224.8 584.6,227.9 C590.2,231.1 598.4,234.5 605.3,234.2 C612.2,233.8 619.8,226.2 626.0,225.9 C632.3,225.5 637.1,231.4 642.6,232.1 C648.1,232.8 653.0,228.6 659.2,230.0 C665.4,231.4 673.7,238.3 679.9,240.4 C686.1,242.4 690.2,241.2 696.4,242.4 C702.6,243.7 710.2,246.4 717.1,247.8 C724.0,249.2 730.9,250.9 737.8,250.7 C744.7,250.5 750.7,247.5 758.5,246.6 C766.3,245.7 780.3,245.5 784.6,245.3" fill="none" stroke="#000" stroke-width="0.65" stroke-linejoin="round"/>
<path d="M-0.0,236.2 C4.2,239.5 16.5,253.5 25.6,256.1 C34.7,258.7 44.3,253.8 54.6,252.0 C65.0,250.2 77.4,246.9 87.7,245.3 C98.1,243.7 107.1,242.2 116.7,242.4 C126.4,242.6 136.0,246.1 145.7,246.6 C155.4,247.1 165.7,245.8 174.7,245.3 C183.7,244.9 191.3,243.0 199.5,243.7 C207.8,244.4 215.4,247.8 224.4,249.5 C233.4,251.1 243.7,251.7 253.4,253.6 C263.0,255.6 272.0,259.6 282.4,261.1 C292.7,262.5 303.1,260.4 315.5,262.3 C327.9,264.2 344.5,271.4 356.9,272.7 C369.3,274.0 379.0,272.0 390.0,270.2 C401.1,268.4 412.8,264.7 423.1,261.9 C433.5,259.1 442.5,256.4 452.1,253.6 C461.8,250.9 472.1,247.4 481.1,245.3 C490.1,243.3 497.7,241.2 506.0,241.2 C514.2,241.2 523.2,242.7 530.8,245.3 C538.4,248.0 544.6,254.4 551.5,256.9 C558.4,259.4 566.7,258.9 572.2,260.2 C577.7,261.6 580.5,262.7 584.6,265.2 C588.8,267.8 592.2,274.3 597.1,275.6 C601.9,276.8 608.1,273.6 613.6,272.7 C619.1,271.8 624.0,269.5 630.2,270.2 C636.4,270.9 644.0,274.7 650.9,276.8 C657.8,278.9 664.7,281.2 671.6,282.6 C678.5,284.0 685.4,283.8 692.3,285.1 C699.2,286.3 706.1,288.0 713.0,290.1 C719.9,292.1 726.1,296.8 733.7,297.5 C741.3,298.2 750.1,295.3 758.5,294.2 C767.0,293.1 780.3,291.4 784.6,290.9" fill="none" stroke="#000" stroke-width="0.65" stroke-linejoin="round"/>
<path d="M-0.0,292.1 C4.2,294.4 15.8,304.4 25.6,305.8 C35.4,307.2 47.7,302.3 58.8,300.4 C69.8,298.5 81.5,295.6 91.9,294.2 C102.2,292.8 111.2,291.8 120.9,292.1 C130.5,292.5 140.2,295.7 149.8,296.3 C159.5,296.8 170.6,295.8 178.8,295.4 C187.1,295.1 191.9,293.4 199.5,294.2 C207.1,295.0 216.1,298.7 224.4,300.4 C232.7,302.1 239.6,300.9 249.2,304.6 C258.9,308.2 271.3,320.1 282.4,322.4 C293.4,324.6 306.5,319.0 315.5,318.2 C324.5,317.4 329.3,316.4 336.2,317.4 C343.1,318.4 347.9,323.5 356.9,324.0 C365.9,324.5 379.0,322.5 390.0,320.3 C401.1,318.1 412.8,313.9 423.1,310.8 C433.5,307.7 442.5,304.3 452.1,301.7 C461.8,299.0 472.8,295.9 481.1,295.0 C489.4,294.1 494.9,294.3 501.8,296.3 C508.7,298.2 515.6,305.2 522.5,306.6 C529.4,308.1 536.3,303.6 543.2,305.0 C550.1,306.3 557.0,311.5 563.9,314.9 C570.8,318.3 578.8,323.9 584.6,325.3 C590.5,326.6 594.3,324.4 599.1,323.2 C604.0,322.0 607.1,319.7 613.6,318.2 C620.2,316.7 631.6,314.1 638.5,314.1 C645.4,314.1 649.5,317.7 655.0,318.2 C660.5,318.7 665.4,315.5 671.6,317.0 C677.8,318.5 685.4,323.9 692.3,327.3 C699.2,330.8 706.8,334.1 713.0,337.7 C719.2,341.3 723.3,347.7 729.6,348.9 C735.8,350.0 744.1,346.4 750.3,344.7 C756.5,343.1 761.1,340.6 766.8,338.9 C772.6,337.3 781.7,335.5 784.6,334.8" fill="none" stroke="#000" stroke-width="0.65" stroke-linejoin="round"/>
<path d="M-0.0,360.5 C4.2,359.8 16.5,357.8 25.6,356.3 C34.7,354.8 43.6,352.4 54.6,351.3 C65.7,350.3 80.8,350.8 91.9,350.1 C102.9,349.4 111.2,346.7 120.9,347.2 C130.5,347.7 140.9,351.8 149.8,353.0 C158.8,354.2 166.4,354.4 174.7,354.2 C183.0,354.1 191.3,351.8 199.5,352.2 C207.8,352.5 216.1,354.9 224.4,356.3 C232.7,357.7 240.3,356.8 249.2,360.5 C258.2,364.1 268.6,376.2 278.2,378.3 C287.9,380.3 297.5,374.6 307.2,372.9 C316.9,371.1 327.9,367.9 336.2,367.9 C344.5,367.9 348.6,373.1 356.9,372.9 C365.2,372.7 376.2,369.4 385.9,366.7 C395.5,363.9 405.9,360.0 414.9,356.3 C423.8,352.7 432.8,346.0 439.7,344.7 C446.6,343.5 449.4,347.8 456.3,348.9 C463.2,350.0 472.8,349.5 481.1,351.3 C489.4,353.1 498.4,358.0 506.0,359.6 C513.5,361.3 521.1,360.5 526.7,361.3 C532.2,362.1 539.1,364.6 539.1,364.6 C539.1,364.6 541.7,376.3 542.4,389.4 C543.1,402.5 542.4,430.8 543.2,443.3 C544.1,455.7 545.3,461.9 547.4,464.0 C549.4,466.0 552.5,452.6 555.6,455.7 C558.8,458.8 563.2,481.2 566.0,482.6 C568.8,484.0 570.1,474.0 572.2,464.0 C574.3,454.0 576.4,435.0 578.4,422.6 C580.5,410.1 582.2,397.0 584.6,389.4 C587.0,381.8 589.5,380.5 592.9,377.0 C596.4,373.6 600.5,370.8 605.3,368.7 C610.2,366.7 616.4,366.1 621.9,364.6 C627.4,363.1 632.9,359.1 638.5,359.6 C644.0,360.2 649.5,365.0 655.0,367.9 C660.5,370.8 665.4,376.2 671.6,377.0 C677.8,377.8 686.1,371.8 692.3,372.9 C698.5,373.9 704.0,378.4 708.9,383.2 C713.7,388.1 718.2,396.8 721.3,401.9 C724.4,406.9 724.7,413.5 727.5,413.5 C730.3,413.5 734.0,404.1 737.8,401.9 C741.6,399.6 745.4,402.2 750.3,399.8 C755.1,397.4 761.1,390.5 766.8,387.4 C772.6,384.3 781.7,382.2 784.6,381.2" fill="none" stroke="#000" stroke-width="0.65" stroke-linejoin="round"/>
<path d="M-0.0,415.5 C4.2,414.8 16.5,411.5 25.6,411.0 C34.7,410.4 44.3,411.1 54.6,412.2 C65.0,413.3 78.8,415.0 87.7,417.6 C96.7,420.1 102.2,424.4 108.4,427.5 C114.7,430.6 118.1,436.0 125.0,436.2 C131.9,436.4 141.6,431.9 149.8,428.8 C158.1,425.7 166.4,420.0 174.7,417.6 C183.0,415.2 191.3,413.5 199.5,414.3 C207.8,415.1 216.1,421.9 224.4,422.6 C232.7,423.3 240.3,418.6 249.2,418.4 C258.2,418.3 268.6,422.4 278.2,421.7 C287.9,421.0 297.5,416.8 307.2,414.3 C316.9,411.8 327.9,407.8 336.2,406.8 C344.5,405.9 350.7,407.8 356.9,408.7 C363.1,409.6 367.9,410.1 373.5,412.0 C379.0,413.9 385.5,416.1 390.0,420.3 C394.5,424.4 398.0,430.6 400.4,436.8 C402.8,443.1 404.2,447.9 404.5,457.6 C404.9,467.2 403.6,483.8 402.4,494.8 C401.3,505.9 399.2,516.9 397.5,523.8 C395.7,530.7 393.9,532.8 392.1,536.2 C390.3,539.7 389.8,540.1 386.7,544.5 C383.6,548.9 377.9,557.8 373.5,562.7 C369.0,567.7 364.6,569.6 360.2,574.3 C355.8,579.0 351.6,587.6 347.0,590.9 C342.3,594.2 339.8,591.7 332.0,594.2 C324.3,596.7 311.3,602.5 300.6,605.8 C289.8,609.1 276.8,611.6 267.4,614.1 C258.1,616.6 251.4,619.3 244.3,620.7 C237.1,622.1 231.8,620.1 224.4,622.4 C216.9,624.6 206.4,630.1 199.5,634.0 C192.6,637.8 187.7,643.1 183.0,645.5 C178.3,648.0 175.5,649.1 171.4,648.9 C167.2,648.6 162.5,645.1 158.1,643.9 C153.7,642.6 149.8,641.0 144.9,641.4 C139.9,641.8 133.3,644.7 128.3,646.4 C123.3,648.0 119.8,651.5 115.1,651.3 C110.4,651.2 104.6,646.0 100.2,645.5 C95.7,645.1 92.2,646.4 88.6,648.9 C85.0,651.3 81.7,657.1 78.6,660.5 C75.6,663.8 73.4,668.0 70.3,668.7 C67.3,669.4 63.2,665.6 60.4,664.6 C57.6,663.6 56.8,662.2 53.8,662.9 C50.7,663.6 45.8,666.9 42.2,668.7 C38.6,670.5 35.6,673.1 32.3,673.7 C28.9,674.3 26.2,673.7 22.3,672.0 C18.4,670.4 12.8,665.6 9.1,663.8 C5.3,662.0 1.5,661.7 -0.0,661.3" fill="none" stroke="#000" stroke-width="0.65" stroke-linejoin="round"/>
<path d="M396.2,573.5 C395.5,582.5 396.9,595.8 398.3,602.5 C399.7,609.2 401.7,611.6 404.5,613.7 C407.3,615.7 410.4,615.4 414.9,614.9 C419.3,614.4 425.9,613.5 431.4,610.8 C436.9,608.0 442.5,602.5 448.0,598.3 C453.5,594.2 459.0,590.1 464.5,585.9 C470.1,581.8 476.3,578.3 481.1,573.5 C485.9,568.7 489.7,563.8 493.5,556.9 C497.3,550.0 501.1,537.7 503.9,532.1 C506.6,526.4 508.2,525.7 510.1,523.0 C512.0,520.2 513.0,516.8 515.1,515.5 C517.1,514.3 520.8,514.3 522.5,515.5 C524.2,516.8 526.0,520.9 525.4,523.0 C524.9,525.0 521.4,527.8 519.2,527.9 C517.0,528.1 514.7,526.6 512.2,523.8 C509.6,521.0 506.6,515.9 503.9,511.4 C501.1,506.9 498.4,502.8 495.6,496.9 C492.8,491.0 490.4,482.4 487.3,476.2 C484.2,470.0 480.1,460.0 477.0,459.6 C473.9,459.3 471.5,468.2 468.7,474.1 C465.9,480.0 463.2,488.6 460.4,494.8 C457.6,501.0 454.9,509.0 452.1,511.4 C449.4,513.8 447.3,511.4 443.8,509.3 C440.4,507.2 434.5,499.0 431.4,499.0 C428.3,499.0 427.3,505.2 425.2,509.3 C423.1,513.5 421.4,520.4 419.0,523.8 C416.6,527.3 413.5,525.9 410.7,530.0 C408.0,534.2 404.9,541.4 402.4,548.6 C400.0,555.9 396.9,564.5 396.2,573.5Z" fill="none" stroke="#000" stroke-width="0.65" stroke-linejoin="round"/>
<path d="M19.8,555.3 C21.2,550.4 21.1,547.7 25.6,545.3 C30.2,543.0 41.6,542.9 47.2,541.2 C52.7,539.5 54.6,537.5 58.8,535.4 C62.9,533.3 68.0,529.2 72.0,528.8 C76.0,528.4 80.0,531.7 82.8,532.9 C85.5,534.2 86.5,536.6 88.6,536.2 C90.6,535.8 92.4,534.2 95.2,530.4 C98.0,526.7 101.8,517.2 105.1,513.9 C108.4,510.6 112.0,511.4 115.1,510.6 C118.1,509.7 118.9,511.1 123.3,508.9 C127.8,506.7 135.8,500.2 141.6,497.3 C147.4,494.4 153.2,493.7 158.1,491.5 C163.1,489.3 167.2,486.5 171.4,484.1 C175.5,481.6 177.2,477.0 183.0,476.6 C188.8,476.2 199.3,481.2 206.2,481.6 C213.1,482.0 217.8,480.3 224.4,479.1 C231.0,477.8 239.3,475.8 245.9,474.1 C252.5,472.5 259.4,470.7 264.1,469.1 C268.8,467.6 270.8,466.9 274.1,465.0 C277.4,463.1 280.4,457.7 284.0,457.6 C287.6,457.4 290.8,462.2 295.6,464.2 C300.4,466.1 307.9,468.9 312.6,469.1 C317.3,469.4 320.5,468.5 323.8,465.8 C327.0,463.2 329.3,457.0 332.0,453.4 C334.8,449.8 336.9,446.0 340.3,444.3 C343.8,442.6 348.6,442.6 352.7,443.1 C356.9,443.5 361.0,444.8 365.2,447.2 C369.3,449.6 374.5,453.1 377.6,457.6 C380.7,462.0 382.4,467.9 383.8,474.1 C385.2,480.3 386.2,487.9 385.9,494.8 C385.5,501.7 384.1,509.0 381.7,515.5 C379.3,522.1 375.5,528.6 371.4,534.2 C367.2,539.7 361.4,545.9 356.9,548.6 C352.4,551.4 348.6,551.1 344.5,550.7 C340.3,550.4 336.2,548.4 332.0,546.6 C327.9,544.7 322.9,540.2 319.6,539.5 C316.4,538.9 316.0,540.9 312.6,542.9 C309.1,544.8 304.0,547.0 298.9,551.1 C293.9,555.3 289.3,562.5 282.4,567.7 C275.5,572.9 264.4,579.0 257.5,582.6 C250.6,586.2 247.8,587.6 240.9,589.2 C234.0,590.9 224.4,590.1 216.1,592.5 C207.8,595.0 198.2,601.0 191.3,604.1 C184.4,607.3 180.2,611.2 174.7,611.6 C169.2,612.0 164.2,607.6 158.1,606.6 C152.1,605.7 143.8,605.2 138.3,605.8 C132.7,606.3 128.9,608.8 125.0,609.9 C121.1,611.0 118.4,613.4 115.1,612.4 C111.8,611.5 108.4,606.5 105.1,604.1 C101.8,601.8 98.0,599.2 95.2,598.3 C92.4,597.5 91.3,597.1 88.6,599.2 C85.8,601.2 81.8,606.8 78.6,610.8 C75.5,614.8 72.0,622.1 69.5,623.2 C67.0,624.3 65.8,619.3 63.7,617.4 C61.7,615.5 59.3,611.9 57.1,611.6 C54.9,611.3 52.4,613.1 50.5,615.7 C48.5,618.4 48.0,624.7 45.5,627.3 C43.0,629.9 39.3,631.5 35.6,631.5 C31.8,631.5 25.9,632.7 23.1,627.3 C20.4,621.9 20.0,608.0 19.0,599.2 C18.0,590.3 17.2,581.6 17.3,574.3 C17.5,567.0 18.4,560.1 19.8,555.3Z" fill="none" stroke="#000" stroke-width="0.65" stroke-linejoin="round"/>
<path d="M-0.0,695.2 C2.0,695.1 7.5,695.1 12.4,694.4 C17.2,693.7 24.0,691.1 28.9,691.1 C33.9,691.1 37.2,693.0 42.2,694.4 C47.2,695.8 54.3,698.8 58.8,699.4 C63.2,699.9 64.3,697.2 68.7,697.7 C73.1,698.3 78.6,701.3 85.3,702.7 C91.9,704.1 99.1,705.0 108.4,706.0 C117.8,707.0 130.5,708.0 141.6,708.5 C152.6,709.0 163.7,708.9 174.7,708.9 C185.7,708.9 196.8,708.5 207.8,708.5 C218.9,708.5 229.9,709.5 240.9,708.9 C252.0,708.3 264.1,706.6 274.1,705.2 C284.0,703.7 292.0,701.6 300.6,700.2 C309.1,698.8 317.1,699.4 325.4,696.9 C333.7,694.4 342.0,689.2 350.3,685.3 C358.5,681.4 366.8,676.7 375.1,673.7 C383.4,670.7 391.7,669.8 400.0,667.1 C408.2,664.3 416.5,660.5 424.8,657.1 C433.1,653.8 441.4,650.8 449.6,647.2 C457.9,643.6 466.2,640.6 474.5,635.6 C482.8,630.6 491.1,623.5 499.3,617.4 C507.6,611.3 515.9,605.2 524.2,599.2 C532.5,593.1 542.1,584.3 549.0,580.9 C555.9,577.6 560.9,581.8 565.6,579.3 C570.3,576.8 574.1,571.8 577.2,566.0 C580.2,560.2 582.0,551.5 583.8,544.5 C585.6,537.5 586.8,531.4 587.9,523.8 C589.0,516.2 589.7,507.2 590.4,499.0 C591.1,490.7 591.5,483.1 592.1,474.1 C592.6,465.1 592.8,451.3 593.7,445.1 C594.7,438.9 596.0,439.3 597.9,436.8 C599.8,434.4 602.0,432.4 605.3,430.6 C608.6,428.9 612.2,428.2 617.8,426.5 C623.3,424.8 632.3,423.0 638.5,420.3 C644.7,417.5 650.9,411.9 655.0,409.9 C659.2,408.0 661.2,407.7 663.3,408.7 C665.4,409.7 667.1,412.1 667.4,416.1 C667.8,420.1 666.1,424.4 665.4,432.7 C664.7,441.0 663.5,455.1 663.3,465.8 C663.1,476.5 663.4,493.4 664.1,496.9 C664.8,500.3 666.3,493.8 667.4,486.5 C668.6,479.3 669.7,463.1 670.8,453.4 C671.8,443.7 672.7,431.3 673.7,428.6 C674.6,425.8 675.4,433.7 676.6,436.8 C677.7,440.0 679.3,447.2 680.7,447.2 C682.1,447.2 683.5,441.7 684.8,436.8 C686.2,432.0 687.4,421.7 689.0,418.2 C690.6,414.8 692.8,413.7 694.4,416.1 C696.0,418.6 696.8,424.4 698.5,432.7 C700.2,441.0 702.3,455.5 704.7,465.8 C707.1,476.2 710.2,487.9 713.0,494.8 C715.8,501.7 717.1,507.2 721.3,507.2 C725.4,507.2 732.3,500.3 737.8,494.8 C743.4,489.3 748.9,481.0 754.4,474.1 C759.9,467.2 765.9,457.9 771.0,453.4 C776.0,448.9 782.4,448.2 784.6,447.2" fill="none" stroke="#000" stroke-width="0.65" stroke-linejoin="round"/>
<path d="M-0.0,726.7 C7.0,727.4 26.9,729.5 42.2,730.8 C57.5,732.2 75.3,733.5 91.9,735.0 C108.4,736.5 127.8,738.7 141.6,740.0 C155.4,741.2 160.9,741.7 174.7,742.4 C188.5,743.1 207.8,743.3 224.4,744.1 C240.9,744.9 261.4,746.9 274.1,747.4 C286.8,748.0 290.6,747.5 300.6,747.4 C310.5,747.3 324.0,748.6 333.7,746.6 C343.4,744.5 351.6,738.6 358.5,735.0 C365.4,731.4 369.9,727.7 375.1,725.0 C380.4,722.4 386.2,719.3 390.0,719.3 C393.9,719.3 396.2,721.6 398.3,725.0 C400.4,728.5 401.6,734.4 402.4,740.0 C403.3,745.5 403.1,755.1 403.3,758.2" fill="none" stroke="#000" stroke-width="0.65" stroke-linejoin="round"/>
<path d="M784.6,515.5 C782.4,516.9 775.3,519.7 771.0,523.8 C766.6,527.9 762.7,534.2 758.5,540.4 C754.4,546.6 751.0,556.2 746.1,561.1 C741.3,565.9 734.4,567.3 729.6,569.4 C724.7,571.4 721.3,573.8 717.1,573.5 C713.0,573.1 708.9,568.0 704.7,567.3 C700.6,566.6 696.3,571.1 692.3,569.4 C688.3,567.6 684.1,556.9 680.7,556.9 C677.2,556.9 675.9,564.5 671.6,569.4 C667.3,574.2 661.2,581.8 655.0,585.9 C648.8,590.1 641.2,592.1 634.3,594.2 C627.4,596.3 619.8,596.3 613.6,598.3 C607.4,600.4 601.6,603.6 597.1,606.6 C592.5,609.7 591.8,612.6 586.3,616.6 C580.8,620.6 570.1,628.7 563.9,630.6 C557.7,632.6 555.6,625.9 549.0,628.2 C542.4,630.4 532.5,639.1 524.2,643.9 C515.9,648.7 507.6,652.2 499.3,657.1 C491.1,662.1 482.8,668.7 474.5,673.7 C466.2,678.7 457.6,682.7 449.6,687.0 C441.6,691.2 432.0,697.2 426.5,699.4 C420.9,701.6 419.6,699.0 416.5,700.2 C413.5,701.4 409.8,703.1 408.2,706.8 C406.7,710.6 407.3,717.9 407.4,722.6 C407.5,727.3 407.8,730.4 409.1,735.0 C410.3,739.5 412.5,749.2 414.9,749.9 C417.2,750.6 421.1,741.6 423.1,739.1 C425.2,736.6 425.6,734.0 427.3,735.0 C428.9,736.0 431.0,741.9 433.1,744.9 C435.2,748.0 436.9,752.7 439.7,753.2 C442.5,753.8 445.8,750.0 449.6,748.2 C453.5,746.4 458.8,743.1 462.9,742.4 C467.0,741.7 471.2,743.1 474.5,744.1 C477.8,745.1 479.2,747.7 482.8,748.2 C486.4,748.8 491.9,748.8 496.0,747.4 C500.2,746.0 503.7,741.5 507.6,740.0 C511.5,738.4 515.1,739.7 519.2,738.3 C523.3,736.9 527.5,735.5 532.5,731.7 C537.4,727.8 544.6,720.6 549.0,715.1 C553.4,709.6 555.9,702.4 559.0,698.5 C562.0,694.7 564.2,692.2 567.2,691.9 C570.3,691.6 573.8,697.2 577.2,696.9 C580.6,696.6 583.5,689.1 587.5,690.3 C591.5,691.4 596.8,704.1 601.2,703.9 C605.5,703.8 608.1,692.9 613.6,689.4 C619.1,686.0 628.8,685.3 634.3,683.2 C639.8,681.2 641.9,681.5 646.7,677.0 C651.6,672.5 657.8,661.8 663.3,656.3 C668.8,650.8 675.0,647.0 679.9,643.9 C684.7,640.8 688.2,640.1 692.3,637.7 C696.4,635.3 700.9,631.8 704.7,629.4 C708.5,627.0 712.7,626.3 715.1,623.2 C717.5,620.1 717.5,610.1 719.2,610.8 C720.9,611.5 723.0,624.0 725.4,627.3 C727.8,630.6 731.1,630.3 733.7,630.6 C736.3,631.0 739.2,631.7 741.2,629.4 C743.1,627.1 743.8,617.0 745.3,617.0 C746.8,617.0 748.1,626.6 750.3,629.4 C752.5,632.2 755.1,632.4 758.5,633.5 C762.0,634.7 766.6,636.4 771.0,636.4 C775.3,636.4 782.4,634.0 784.6,633.5" fill="none" stroke="#000" stroke-width="0.65" stroke-linejoin="round"/>
<path d="M784.6,650.1 C782.4,651.1 775.3,656.3 771.0,656.3 C766.6,656.3 764.1,650.1 758.5,650.1 C753.0,650.1 744.1,656.1 737.8,656.3 C731.6,656.5 726.8,651.3 721.3,651.3 C715.8,651.3 709.5,654.1 704.7,656.3 C699.9,658.5 696.4,662.5 692.3,664.6 C688.2,666.7 684.0,664.6 679.9,668.7 C675.7,672.9 671.6,684.3 667.4,689.4 C663.3,694.6 659.9,697.7 655.0,699.8 C650.2,701.9 643.3,698.8 638.5,701.9 C633.6,705.0 630.2,715.0 626.0,718.4 C621.9,721.9 617.1,722.2 613.6,722.6 C610.2,722.9 608.8,718.4 605.3,720.5 C601.9,722.6 597.1,734.6 592.9,735.0 C588.8,735.3 584.6,725.0 580.5,722.6 C576.4,720.1 571.9,719.1 568.1,720.5 C564.3,721.9 560.1,724.6 557.7,730.8 C555.3,737.1 554.3,753.6 553.6,758.2" fill="none" stroke="#000" stroke-width="0.65" stroke-linejoin="round"/>
<path d="M784.6,667.9 C782.4,668.7 776.0,672.9 771.0,672.9 C765.9,672.9 759.9,668.5 754.4,667.9 C748.9,667.4 743.4,669.8 737.8,669.6 C732.3,669.4 726.8,666.1 721.3,666.7 C715.8,667.2 708.9,669.1 704.7,672.9 C700.6,676.7 698.4,683.8 696.4,689.4 C694.5,695.1 691.9,701.7 693.1,706.8 C694.3,712.0 701.7,718.2 703.5,720.5" fill="none" stroke="#000" stroke-width="0.65" stroke-linejoin="round"/>
<path d="M784.6,683.2 C782.4,684.8 775.3,690.7 771.0,692.7 C766.6,694.8 762.7,696.5 758.5,695.6 C754.4,694.8 751.0,689.0 746.1,687.4 C741.3,685.8 735.1,685.8 729.6,686.1 C724.0,686.5 717.3,687.5 713.0,689.4 C708.6,691.4 705.1,696.3 703.5,697.7" fill="none" stroke="#000" stroke-width="0.65" stroke-linejoin="round"/>
<path d="M408.2,758.2 C408.2,752.2 407.8,730.6 407.8,722.6 C407.8,714.6 408.2,712.2 408.2,710.1" fill="none" stroke="#000" stroke-width="0.65" stroke-linejoin="round"/>
<path d="M-0.0,754.0 C2.9,754.2 11.7,754.8 17.3,755.3 C23.0,755.8 27.8,756.3 33.9,756.9 C40.0,757.6 50.5,758.7 53.8,759.0" fill="none" stroke="#000" stroke-width="2.60" stroke-linejoin="round"/>
<path d="M178.8,567.3 L183.4,571.4 L184.6,576.8 L178.8,578.5 L173.5,576.4 L175.5,571.0Z" fill="none" stroke="#000" stroke-width="2.20" stroke-linejoin="round"/>
<path d="M635.6,649.3 L638.5,653.0 L635.6,657.1 L632.7,653.0Z" fill="none" stroke="#000" stroke-width="1.80" stroke-linejoin="round"/>
<g transform="translate(665.3,152.6) rotate(27.0)">
<rect x="-22.0" y="-12.0" width="44.0" height="24.0" fill="#fff"/>
<text x="0" y="7.5" font-family="Liberation Sans, Arial, Helvetica, sans-serif" font-size="21" text-anchor="middle">-16</text>
</g>
<g transform="translate(601.2,233.2) rotate(18.0)">
<rect x="-23.0" y="-12.0" width="46.0" height="24.0" fill="#fff"/>
<text x="0" y="7.5" font-family="Liberation Sans, Arial, Helvetica, sans-serif" font-size="21" text-anchor="middle">-12</text>
</g>
<g transform="translate(599.1,323.5) rotate(0.0)">
<rect x="-16.0" y="-13.0" width="32.0" height="26.0" fill="#fff"/>
<text x="0" y="7.5" font-family="Liberation Sans, Arial, Helvetica, sans-serif" font-size="21" text-anchor="middle">-8</text>
</g>
<g transform="translate(590.8,493.3) rotate(-90.0)">
<rect x="-15.0" y="-12.0" width="30.0" height="24.0" fill="#fff"/>
<text x="0" y="7.5" font-family="Liberation Sans, Arial, Helvetica, sans-serif" font-size="21" text-anchor="middle">-4</text>
</g>
<g transform="translate(316.7,595.6) rotate(-16.0)">
<rect x="-15.0" y="-12.5" width="30.0" height="25.0" fill="#fff"/>
<text x="0" y="7.5" font-family="Liberation Sans, Arial, Helvetica, sans-serif" font-size="21" text-anchor="middle">-4</text>
</g>
</g>
</g>
<rect x="432.5" y="238.7" width="785.0" height="785.0" fill="none" stroke="#000" stroke-width="1.3"/>
<line x1="411.0" y1="1023.7" x2="438.0" y2="1023.7" stroke="#000" stroke-width="1.5"/>
<text x="393.0" y="1033.7" font-family="Liberation Sans, Arial, Helvetica, sans-serif" font-size="28" text-anchor="end">0.0</text>
<line x1="411.0" y1="892.9" x2="438.0" y2="892.9" stroke="#000" stroke-width="1.5"/>
<text x="393.0" y="902.9" font-family="Liberation Sans, Arial, Helvetica, sans-serif" font-size="28" text-anchor="end">1.0</text>
<line x1="411.0" y1="762.0" x2="438.0" y2="762.0" stroke="#000" stroke-width="1.5"/>
<text x="393.0" y="772.0" font-family="Liberation Sans, Arial, Helvetica, sans-serif" font-size="28" text-anchor="end">2.0</text>
<line x1="411.0" y1="631.2" x2="438.0" y2="631.2" stroke="#000" stroke-width="1.5"/>
<text x="393.0" y="641.2" font-family="Liberation Sans, Arial, Helvetica, sans-serif" font-size="28" text-anchor="end">3.0</text>
<line x1="411.0" y1="500.4" x2="438.0" y2="500.4" stroke="#000" stroke-width="1.5"/>
<text x="393.0" y="510.4" font-family="Liberation Sans, Arial, Helvetica, sans-serif" font-size="28" text-anchor="end">4.0</text>
<line x1="411.0" y1="369.5" x2="438.0" y2="369.5" stroke="#000" stroke-width="1.5"/>
<text x="393.0" y="379.5" font-family="Liberation Sans, Arial, Helvetica, sans-serif" font-size="28" text-anchor="end">5.0</text>
<line x1="411.0" y1="238.7" x2="438.0" y2="238.7" stroke="#000" stroke-width="1.5"/>
<text x="393.0" y="248.7" font-family="Liberation Sans, Arial, Helvetica, sans-serif" font-size="28" text-anchor="end">6.0</text>
<line x1="432.5" y1="1018.2" x2="432.5" y2="1045.2" stroke="#000" stroke-width="1.5"/>
<text x="432.5" y="1084.2" font-family="Liberation Sans, Arial, Helvetica, sans-serif" font-size="28" text-anchor="middle">39.5</text>
<line x1="694.2" y1="1018.2" x2="694.2" y2="1045.2" stroke="#000" stroke-width="1.5"/>
<text x="694.2" y="1084.2" font-family="Liberation Sans, Arial, Helvetica, sans-serif" font-size="28" text-anchor="middle">40.3</text>
<line x1="955.8" y1="1018.2" x2="955.8" y2="1045.2" stroke="#000" stroke-width="1.5"/>
<text x="955.8" y="1084.2" font-family="Liberation Sans, Arial, Helvetica, sans-serif" font-size="28" text-anchor="middle">41.2</text>
<line x1="1217.5" y1="1018.2" x2="1217.5" y2="1045.2" stroke="#000" stroke-width="1.5"/>
<text x="1217.5" y="1084.2" font-family="Liberation Sans, Arial, Helvetica, sans-serif" font-size="28" text-anchor="middle">42.1</text>
<text x="825.0" y="1135.7" font-family="Liberation Sans, Arial, Helvetica, sans-serif" font-size="37" text-anchor="middle">latitude</text>
<text transform="translate(326.5,631.2) rotate(-90)" font-family="Liberation Sans, Arial, Helvetica, sans-serif" font-size="36" text-anchor="middle">Height (km)</text>
<text x="429.9" y="217.7" font-family="Liberation Sans, Arial, Helvetica, sans-serif" font-size="28.9">Radar Reflectivity of Liquid Water</text>
<text x="1219.5" y="223.0" font-family="Liberation Sans, Arial, Helvetica, sans-serif" font-size="28.5" text-anchor="end">dBZ</text>
<clipPath id="cp1"><rect x="1391.5" y="238.7" width="785.0" height="785.0"/></clipPath>
<g clip-path="url(#cp1)">
<g transform="translate(1391.5,238.7)">
<path d="M175.0,-12.4 C175.0,-12.4 174.8,-8.3 175.0,-0.0 C175.2,8.3 175.2,16.6 176.1,28.9 C177.0,41.2 177.8,48.5 179.4,61.5 C180.9,74.6 181.8,82.8 183.7,94.1 C185.7,105.4 187.2,109.8 189.2,118.0 C191.1,126.3 192.0,126.7 193.5,135.4 C195.0,144.1 195.5,151.1 196.8,161.5 C198.1,172.0 198.7,177.2 200.0,187.6 C201.3,198.0 202.1,204.1 203.3,213.7 C204.5,223.3 205.5,226.7 206.1,235.4 C206.8,244.1 206.8,249.3 206.5,257.2 C206.3,265.0 205.8,266.7 204.8,274.6 C203.8,282.4 203.2,287.6 201.8,296.3 C200.4,305.0 199.3,310.2 197.8,318.0 C196.4,325.9 195.5,330.9 194.6,335.4 C193.7,340.0 195.5,339.3 193.5,340.9 C191.5,342.4 188.7,342.0 184.8,343.0 C180.9,344.1 177.6,344.8 173.9,346.3 C170.2,347.8 168.9,348.5 166.3,350.6 C163.7,352.8 162.6,354.1 160.9,357.2 C159.2,360.2 158.9,362.8 157.6,365.9 C156.3,368.9 156.1,370.4 154.4,372.4 C152.6,374.3 151.1,375.4 148.9,375.6 C146.8,375.9 145.5,375.2 143.5,373.5 C141.5,371.7 140.3,372.8 139.2,367.0 C138.0,361.1 137.6,344.1 137.6,344.1 C137.6,344.1 137.8,314.1 137.6,300.6 C137.5,287.2 137.5,283.2 137.0,276.7 C136.4,270.3 135.7,270.1 134.8,268.5 C133.9,266.8 133.5,266.4 132.6,268.5 C131.8,270.6 131.5,273.8 130.5,278.9 C129.4,284.0 128.7,289.3 127.2,294.1 C125.7,298.9 124.6,300.0 122.8,302.8 C121.1,305.6 120.7,307.1 118.5,308.3 C116.3,309.4 114.2,307.2 112.0,308.7 C109.8,310.2 109.4,311.8 107.6,315.9 C105.9,319.9 104.8,325.4 103.3,328.9 C101.8,332.4 101.5,332.7 100.0,333.3 C98.5,333.8 97.4,332.0 95.7,331.5 C93.9,331.1 92.6,330.3 91.3,331.1 C90.0,331.9 90.0,332.0 89.2,335.4 C88.3,338.9 88.3,345.4 87.0,348.5 C85.7,351.5 84.8,350.9 82.6,350.6 C80.5,350.4 78.5,349.6 76.1,347.4 C73.7,345.2 72.2,343.9 70.7,339.8 C69.2,335.6 69.4,332.4 68.5,326.7 C67.6,321.1 67.4,317.6 66.3,311.5 C65.2,305.4 64.5,300.3 63.1,296.3 C61.7,292.3 60.9,291.5 59.4,291.5 C57.8,291.5 57.1,294.3 55.5,296.3 C53.8,298.3 52.6,301.3 51.1,301.7 C49.6,302.2 49.2,301.7 47.8,298.5 C46.5,295.2 45.9,291.1 44.6,285.4 C43.3,279.8 42.6,274.6 41.3,270.2 C40.0,265.8 39.4,263.3 38.1,263.3 C36.8,263.3 35.8,264.9 34.8,270.2 C33.8,275.5 33.7,281.5 33.1,289.8 C32.4,298.0 32.3,303.7 31.5,311.5 C30.8,319.3 30.9,324.6 29.4,328.9 C27.8,333.3 26.8,332.0 23.9,333.3 C21.1,334.6 18.3,334.1 15.2,335.4 C12.2,336.7 11.8,339.0 8.7,339.8 C5.7,340.6 5.7,339.4 0.0,339.3 C-5.6,339.3 -19.5,339.3 -19.5,339.3 L-50.0,700.0 L-50.0,900.0 L900.0,900.0 L900.0,-50.0 L175.0,-12.4Z" fill="#2e0040"/>
<path d="M180.0,-12.4 C180.0,-12.4 179.7,-8.3 180.0,-0.0 C180.3,8.3 180.7,16.6 181.5,28.9 C182.4,41.2 183.1,49.8 184.4,61.5 C185.7,73.3 186.5,77.2 188.1,87.6 C189.7,98.0 190.7,104.1 192.4,113.7 C194.2,123.3 195.2,125.9 196.8,135.4 C198.3,145.0 198.7,151.1 200.0,161.5 C201.3,172.0 201.8,177.2 203.3,187.6 C204.8,198.0 206.1,204.1 207.6,213.7 C209.2,223.3 210.0,226.7 210.9,235.4 C211.8,244.1 212.1,248.5 212.0,257.2 C211.9,265.9 211.3,270.2 210.5,278.9 C209.6,287.6 208.8,292.8 207.6,300.6 C206.4,308.5 205.2,313.9 204.4,318.0 C203.6,322.2 204.4,317.2 203.6,321.3 C202.9,325.4 202.2,332.9 200.7,338.7 C199.3,344.5 198.7,346.8 196.4,350.3 C194.1,353.8 192.3,354.3 189.2,356.1 C186.0,357.8 183.9,358.1 180.5,359.0 C177.0,359.9 174.9,359.3 171.8,360.4 C168.6,361.6 166.8,362.2 164.5,364.8 C162.2,367.4 161.9,370.0 160.2,373.5 C158.4,377.0 157.8,379.7 155.8,382.2 C153.8,384.6 152.3,385.5 150.0,385.8 C147.7,386.1 146.5,385.2 144.2,383.6 C141.9,382.0 140.3,380.7 138.4,377.8 C136.5,374.9 136.0,373.2 134.8,369.1 C133.6,365.1 133.5,362.7 132.6,357.5 C131.8,352.3 131.6,346.7 130.5,343.0 C129.3,339.4 129.0,339.7 126.8,339.4 C124.7,339.1 122.2,340.0 119.6,341.6 C117.0,343.2 115.8,344.2 113.8,347.4 C111.8,350.6 110.9,353.5 109.4,357.5 C108.0,361.6 108.3,364.6 106.5,367.7 C104.8,370.7 102.8,372.7 100.7,372.7 C98.7,372.7 98.1,370.1 96.4,367.7 C94.7,365.2 93.8,362.5 92.1,360.4 C90.3,358.4 89.4,357.5 87.7,357.5 C86.0,357.5 85.4,360.4 83.4,360.4 C81.3,360.4 79.9,358.5 77.6,357.5 C75.2,356.5 74.1,356.8 71.8,355.4 C69.4,353.9 68.6,352.7 66.0,350.3 C63.4,347.8 61.0,346.5 58.7,343.0 C56.4,339.6 55.5,338.1 54.4,332.9 C53.2,327.7 55.2,321.0 52.9,317.0 C50.6,312.9 46.8,312.6 42.8,312.6 C38.7,312.6 34.9,314.1 32.6,317.0 C30.4,319.9 32.2,323.3 31.5,327.1 C30.7,330.9 30.4,333.3 29.0,335.8 C27.6,338.3 27.1,338.0 24.7,339.4 C22.2,340.9 20.0,341.4 16.7,343.0 C13.4,344.6 11.3,346.3 8.0,347.4 C4.7,348.5 4.7,348.3 0.0,348.5 C-4.6,348.8 -15.2,348.5 -15.2,348.5 L-50.0,700.0 L-50.0,900.0 L900.0,900.0 L900.0,-50.0 L180.0,-12.4Z" fill="#3a0058"/>
<path d="M185.9,-12.4 C185.9,-12.4 185.7,-8.3 185.9,-0.0 C186.1,8.3 186.3,16.6 187.0,28.9 C187.6,41.2 187.8,49.8 189.2,61.5 C190.5,73.3 191.8,77.2 193.5,87.6 C195.2,98.0 196.3,104.1 197.8,113.7 C199.4,123.3 199.6,125.9 201.1,135.4 C202.6,145.0 203.9,151.1 205.5,161.5 C207.0,172.0 207.2,177.2 208.7,187.6 C210.2,198.0 211.3,204.1 213.1,213.7 C214.8,223.3 216.1,226.7 217.4,235.4 C218.7,244.1 219.5,248.5 219.6,257.2 C219.7,265.9 218.7,270.2 217.8,278.9 C217.0,287.6 216.1,292.8 215.2,300.6 C214.4,308.5 213.8,313.9 213.5,318.0 C213.2,322.2 214.3,317.7 213.8,321.3 C213.3,324.9 212.3,330.3 210.9,335.8 C209.4,341.3 208.6,343.9 206.5,348.8 C204.5,353.8 203.6,356.7 200.7,360.4 C197.8,364.2 195.8,365.4 192.1,367.7 C188.3,370.0 186.0,370.6 181.9,372.0 C177.8,373.5 175.2,373.5 171.8,374.9 C168.3,376.4 167.1,376.1 164.5,379.3 C161.9,382.5 161.0,387.1 158.7,390.9 C156.4,394.6 155.2,396.1 152.9,398.1 C150.6,400.1 149.4,401.0 147.1,401.0 C144.8,401.0 143.6,400.1 141.3,398.1 C139.0,396.1 137.6,394.1 135.5,390.9 C133.5,387.7 132.9,385.4 131.2,382.2 C129.4,379.0 128.9,377.0 126.8,374.9 C124.8,372.9 123.6,371.7 121.0,372.0 C118.4,372.3 116.4,373.8 113.8,376.4 C111.2,379.0 110.6,381.9 108.0,385.1 C105.4,388.3 103.6,392.9 100.7,392.3 C97.8,391.7 96.1,385.4 93.5,382.2 C90.9,379.0 90.3,377.5 87.7,376.4 C85.1,375.2 83.1,377.2 80.5,376.4 C77.8,375.5 76.4,374.1 74.7,372.0 C72.9,370.0 73.5,368.5 71.8,366.2 C70.0,363.9 68.6,363.0 66.0,360.4 C63.4,357.8 61.3,356.1 58.7,353.2 C56.1,350.3 54.8,349.4 52.9,345.9 C51.0,342.5 50.7,341.6 49.3,335.8 C47.8,330.0 47.6,321.6 45.7,317.0 C43.8,312.3 42.1,312.6 39.9,312.6 C37.6,312.6 35.7,313.2 34.4,317.0 C33.1,320.7 34.3,326.2 33.4,331.4 C32.4,336.7 31.6,339.6 29.7,343.0 C27.8,346.5 26.8,347.0 23.9,348.8 C21.0,350.7 18.4,350.9 15.2,352.5 C12.1,354.1 11.0,355.6 8.0,356.8 C4.9,358.0 4.7,358.0 0.0,358.3 C-4.6,358.5 -15.2,358.3 -15.2,358.3 L-50.0,700.0 L-50.0,900.0 L900.0,900.0 L900.0,-50.0 L185.9,-12.4Z" fill="#440078"/>
<path d="M195.7,-12.4 C195.7,-12.4 195.5,-8.3 195.7,-0.0 C195.9,8.3 196.1,16.6 196.8,28.9 C197.4,41.2 197.4,49.8 198.9,61.5 C200.5,73.3 202.0,77.2 204.4,87.6 C206.8,98.0 208.7,104.1 210.9,113.7 C213.1,123.3 213.5,125.9 215.2,135.4 C217.0,145.0 217.8,151.1 219.6,161.5 C221.3,172.0 222.2,177.2 223.9,187.6 C225.7,198.0 226.1,204.1 228.3,213.7 C230.5,223.3 232.8,226.7 234.8,235.4 C236.8,244.1 238.1,248.5 238.1,257.2 C238.1,265.9 236.3,270.2 234.8,278.9 C233.3,287.6 232.4,292.8 230.5,300.6 C228.5,308.5 226.3,313.9 225.0,318.0 C223.7,322.2 224.7,318.3 223.9,321.3 C223.1,324.3 222.5,327.7 221.0,332.9 C219.6,338.1 218.7,341.3 216.7,347.4 C214.7,353.5 213.5,357.8 210.9,363.3 C208.3,368.8 206.8,371.2 203.6,374.9 C200.5,378.7 198.7,379.9 194.9,382.2 C191.2,384.5 188.9,385.1 184.8,386.5 C180.7,388.0 178.4,388.0 174.7,389.4 C170.9,390.9 168.9,391.2 166.0,393.8 C163.1,396.4 162.8,399.9 160.2,402.5 C157.6,405.1 155.5,405.4 152.9,406.8 C150.3,408.3 149.4,408.8 147.1,409.7 C144.8,410.6 143.9,411.7 141.3,411.2 C138.7,410.6 136.7,409.4 134.1,406.8 C131.5,404.2 130.6,400.7 128.3,398.1 C126.0,395.5 125.1,394.3 122.5,393.8 C119.9,393.2 118.1,393.5 115.2,395.2 C112.3,397.0 110.9,399.7 108.0,402.5 C105.1,405.2 103.9,409.0 100.7,409.0 C97.6,409.0 95.5,404.3 92.1,402.5 C88.6,400.6 86.5,400.7 83.4,399.6 C80.2,398.4 78.4,398.7 76.1,396.7 C73.8,394.6 73.8,392.3 71.8,389.4 C69.7,386.5 68.3,384.8 66.0,382.2 C63.6,379.6 62.5,379.0 60.2,376.4 C57.8,373.8 56.7,372.0 54.4,369.1 C52.1,366.2 50.6,366.2 48.6,361.9 C46.5,357.5 45.5,353.2 44.2,347.4 C42.9,341.6 42.9,339.0 42.1,332.9 C41.2,326.8 41.0,321.0 40.2,317.0 C39.3,312.9 38.8,312.6 37.8,312.6 C36.9,312.6 36.1,313.5 35.5,317.0 C34.9,320.4 35.5,324.8 34.8,330.0 C34.1,335.2 33.5,338.1 31.9,343.0 C30.3,348.0 29.3,351.2 26.8,354.6 C24.4,358.1 22.5,358.4 19.6,360.4 C16.7,362.5 14.8,362.5 12.3,364.8 C9.9,367.1 9.7,370.4 7.3,372.0 C4.8,373.6 4.5,372.6 0.0,372.7 C-4.5,372.9 -15.2,372.7 -15.2,372.7 L-50.0,700.0 L-50.0,900.0 L900.0,900.0 L900.0,-50.0 L195.7,-12.4Z" fill="#3a00a8"/>
<path d="M201.1,-12.4 C201.1,-12.4 200.7,-8.3 201.1,-0.0 C201.5,8.3 202.0,16.6 203.3,28.9 C204.6,41.2 205.2,49.8 207.6,61.5 C210.0,73.3 212.0,77.2 215.2,87.6 C218.5,98.0 220.5,104.1 223.9,113.7 C227.4,123.3 229.6,125.9 232.6,135.4 C235.7,145.0 237.0,151.1 239.2,161.5 C241.3,172.0 241.8,177.2 243.5,187.6 C245.2,198.0 244.8,205.0 247.8,213.7 C250.9,222.4 255.2,225.4 258.7,231.1 C262.2,236.7 263.9,235.9 265.2,242.0 C266.5,248.0 267.0,254.1 265.2,261.5 C263.5,268.9 259.6,271.1 256.5,278.9 C253.5,286.7 253.1,292.8 250.0,300.6 C247.0,308.5 243.9,313.9 241.3,318.0 C238.7,322.2 238.7,317.2 237.0,321.3 C235.2,325.4 234.4,332.3 232.6,338.7 C230.9,345.1 230.3,347.4 228.3,353.2 C226.3,359.0 224.8,362.5 222.5,367.7 C220.2,372.9 219.6,375.2 216.7,379.3 C213.8,383.3 211.5,384.8 208.0,388.0 C204.5,391.2 202.8,392.9 199.3,395.2 C195.8,397.5 194.1,398.1 190.6,399.6 C187.1,401.0 185.4,401.3 181.9,402.5 C178.4,403.6 176.4,403.6 173.2,405.4 C170.0,407.1 168.9,408.5 166.0,411.2 C163.1,413.8 161.3,416.1 158.7,418.4 C156.1,420.7 155.5,422.2 152.9,422.7 C150.3,423.3 148.6,421.3 145.7,421.3 C142.8,421.3 141.0,423.3 138.4,422.7 C135.8,422.2 134.7,420.3 132.6,418.4 C130.6,416.5 130.6,414.8 128.3,413.3 C126.0,411.9 123.9,410.7 121.0,411.2 C118.1,411.6 116.1,413.8 113.8,415.5 C111.5,417.2 111.5,417.8 109.4,419.9 C107.4,421.9 106.5,424.2 103.6,425.6 C100.7,427.1 98.4,427.0 94.9,427.1 C91.5,427.2 89.7,426.8 86.3,426.4 C82.8,425.9 80.7,425.9 77.6,424.9 C74.4,423.9 73.2,424.1 70.3,421.3 C67.4,418.5 65.7,414.9 63.1,411.2 C60.5,407.4 59.6,405.9 57.3,402.5 C54.9,399.0 53.5,398.4 51.5,393.8 C49.4,389.1 48.6,385.1 47.1,379.3 C45.7,373.5 45.5,371.2 44.2,364.8 C42.9,358.4 42.1,353.3 40.6,347.4 C39.2,341.4 38.4,335.1 37.0,335.1 C35.5,335.1 35.1,342.6 33.4,347.4 C31.6,352.2 30.7,354.6 28.3,359.0 C25.8,363.3 23.6,364.5 21.0,369.1 C18.4,373.8 17.3,377.0 15.2,382.2 C13.2,387.4 12.6,390.0 10.9,395.2 C9.2,400.4 8.7,404.3 6.5,408.3 C4.4,412.2 4.4,413.5 0.0,414.8 C-4.3,416.1 -15.2,414.8 -15.2,414.8 L-50.0,700.0 L-50.0,900.0 L900.0,900.0 L900.0,-50.0 L201.1,-12.4Z" fill="#2200d0"/>
<path d="M221.8,-12.4 C221.8,-12.4 222.0,-7.4 221.8,-0.0 C221.5,7.4 219.8,14.4 220.7,24.6 C221.5,34.7 223.3,42.4 226.1,50.6 C228.9,58.9 232.2,58.5 234.8,65.9 C237.4,73.3 237.0,77.2 239.2,87.6 C241.3,98.0 243.1,108.5 245.7,118.0 C248.3,127.6 249.2,126.7 252.2,135.4 C255.2,144.1 257.6,152.0 260.9,161.5 C264.2,171.1 265.9,174.6 268.5,183.3 C271.1,192.0 271.5,197.2 273.9,205.0 C276.3,212.8 278.3,216.3 280.5,222.4 C282.6,228.5 283.9,228.5 284.8,235.4 C285.7,242.4 286.1,250.2 284.8,257.2 C283.5,264.1 281.3,265.0 278.3,270.2 C275.2,275.4 272.8,277.2 269.6,283.3 C266.3,289.3 264.1,293.7 262.0,300.6 C259.9,307.6 259.8,313.9 259.2,318.0 C258.5,322.2 259.7,316.9 258.7,321.3 C257.8,325.7 256.4,332.9 254.4,340.1 C252.3,347.4 250.9,351.2 248.6,357.5 C246.3,363.9 245.4,366.8 242.8,372.0 C240.2,377.2 238.7,380.1 235.5,383.6 C232.3,387.1 230.3,386.8 226.8,389.4 C223.4,392.0 221.3,393.8 218.1,396.7 C214.9,399.6 213.8,400.4 210.9,403.9 C208.0,407.4 206.5,409.7 203.6,414.1 C200.7,418.4 199.3,421.9 196.4,425.6 C193.5,429.4 192.1,430.6 189.2,432.9 C186.3,435.2 184.5,436.7 181.9,437.2 C179.3,437.8 178.4,436.7 176.1,435.8 C173.8,434.9 172.6,433.8 170.3,432.9 C168.0,432.0 166.8,431.4 164.5,431.4 C162.2,431.4 161.3,432.0 158.7,432.9 C156.1,433.8 154.4,434.9 151.5,435.8 C148.6,436.7 146.8,437.2 144.2,437.2 C141.6,437.2 140.7,435.8 138.4,435.8 C136.1,435.8 134.9,437.7 132.6,437.2 C130.3,436.8 129.2,434.8 126.8,433.6 C124.5,432.5 123.6,431.3 121.0,431.4 C118.4,431.6 116.7,432.9 113.8,434.3 C110.9,435.8 109.7,436.7 106.5,438.7 C103.4,440.7 101.3,442.5 97.8,444.5 C94.4,446.5 92.6,447.5 89.2,448.8 C85.7,450.1 83.9,451.9 80.5,451.0 C77.0,450.1 74.9,448.4 71.8,444.5 C68.6,440.6 67.1,436.4 64.5,431.4 C61.9,426.5 61.0,424.5 58.7,419.9 C56.4,415.2 55.2,414.3 52.9,408.3 C50.6,402.2 49.0,396.7 47.1,389.4 C45.2,382.2 44.7,378.1 43.5,372.0 C42.3,365.9 42.6,362.9 41.3,359.0 C40.0,355.1 38.6,352.5 37.0,352.5 C35.4,352.5 34.8,355.1 33.4,359.0 C31.9,362.9 31.3,366.2 29.7,372.0 C28.1,377.8 27.1,381.3 25.4,388.0 C23.6,394.6 22.8,398.4 21.0,405.4 C19.3,412.3 18.4,415.8 16.7,422.7 C14.9,429.7 14.4,434.3 12.3,440.1 C10.3,445.9 9.0,447.8 6.5,451.7 C4.1,455.6 4.4,458.1 0.0,459.7 C-4.3,461.3 -15.2,459.7 -15.2,459.7 L-50.0,700.0 L-50.0,900.0 L900.0,900.0 L900.0,-50.0 L221.8,-12.4Z" fill="#0020f4"/>
<path d="M257.6,-12.4 C257.6,-12.4 258.5,-3.3 257.6,2.8 C256.8,8.9 253.9,8.5 253.3,18.0 C252.6,27.6 253.5,37.6 254.4,50.6 C255.2,63.7 255.9,72.4 257.6,83.3 C259.4,94.1 260.7,96.3 263.1,105.0 C265.5,113.7 266.5,118.0 269.6,126.7 C272.6,135.4 275.2,141.1 278.3,148.5 C281.3,155.9 280.9,159.3 284.8,163.7 C288.7,168.0 293.9,166.3 297.8,170.2 C301.8,174.1 301.8,178.5 304.4,183.3 C307.0,188.0 307.0,189.8 310.9,194.1 C314.8,198.5 319.2,201.1 323.9,205.0 C328.7,208.9 330.5,212.0 334.8,213.7 C339.2,215.4 342.2,212.0 345.7,213.7 C349.2,215.4 349.2,218.9 352.2,222.4 C355.2,225.9 358.7,227.6 360.9,231.1 C363.1,234.6 363.5,235.4 363.1,239.8 C362.6,244.1 360.2,248.0 358.7,252.8 C357.2,257.6 358.1,260.6 355.5,263.7 C352.8,266.7 349.8,266.1 345.7,268.0 C341.5,270.0 338.3,272.2 334.8,273.5 C331.3,274.8 332.2,274.1 328.3,274.6 C324.4,275.0 320.0,274.8 315.2,275.6 C310.5,276.5 308.7,276.1 304.4,278.9 C300.0,281.7 297.8,285.4 293.5,289.8 C289.2,294.1 286.5,296.3 282.6,300.6 C278.7,305.0 276.5,307.2 273.9,311.5 C271.3,315.9 270.8,316.7 269.6,322.4 C268.4,328.0 267.9,333.3 267.8,339.8 C267.8,346.3 269.1,347.4 269.2,355.0 C269.2,362.6 269.6,370.6 268.1,377.8 C266.6,385.0 264.1,384.8 261.6,390.9 C259.2,397.0 258.0,401.3 255.8,408.3 C253.6,415.2 252.8,420.4 250.7,425.6 C248.7,430.9 247.8,432.9 245.7,434.3 C243.5,435.8 242.5,433.5 239.9,432.9 C237.3,432.3 235.5,431.4 232.6,431.4 C229.7,431.4 228.6,432.3 225.4,432.9 C222.2,433.5 220.2,433.5 216.7,434.3 C213.2,435.2 210.9,435.8 208.0,437.2 C205.1,438.7 204.5,439.3 202.2,441.6 C199.9,443.9 198.7,445.1 196.4,448.8 C194.1,452.6 192.6,456.4 190.6,460.4 C188.6,464.5 188.3,467.0 186.3,469.1 C184.2,471.3 182.8,471.9 180.5,471.3 C178.1,470.7 177.0,468.7 174.7,466.2 C172.3,463.8 171.2,461.9 168.9,459.0 C166.5,456.1 165.4,453.8 163.1,451.7 C160.7,449.7 159.9,449.4 157.3,448.8 C154.7,448.3 152.9,448.5 150.0,448.8 C147.1,449.1 145.4,449.7 142.8,450.3 C140.2,450.9 139.3,452.0 137.0,451.7 C134.7,451.4 133.5,449.7 131.2,448.8 C128.9,448.0 128.0,447.4 125.4,447.4 C122.8,447.4 120.7,447.4 118.1,448.8 C115.5,450.3 114.9,451.7 112.3,454.6 C109.7,457.5 108.0,460.4 105.1,463.3 C102.2,466.2 101.0,467.1 97.8,469.1 C94.7,471.2 92.6,472.0 89.2,473.5 C85.7,474.9 84.2,476.1 80.5,476.4 C76.7,476.7 74.1,475.5 70.3,474.9 C66.5,474.3 65.1,474.6 61.6,473.5 C58.1,472.3 55.8,471.2 52.9,469.1 C50.0,467.1 48.9,466.8 47.1,463.3 C45.4,459.9 45.2,457.5 44.2,451.7 C43.2,445.9 42.8,441.9 42.1,434.3 C41.3,426.8 41.2,421.6 40.6,414.1 C40.0,406.5 39.9,402.2 39.2,396.7 C38.4,391.2 37.8,385.9 37.0,386.5 C36.1,387.1 35.8,392.9 34.8,399.6 C33.8,406.2 33.1,412.3 31.9,419.9 C30.7,427.4 30.3,430.3 29.0,437.2 C27.7,444.2 27.0,449.1 25.4,454.6 C23.8,460.1 23.1,461.3 21.0,464.8 C19.0,468.3 17.8,469.4 15.2,472.0 C12.6,474.6 11.0,475.5 8.0,477.8 C4.9,480.1 4.7,482.5 0.0,483.6 C-4.6,484.8 -15.2,483.6 -15.2,483.6 L-50.0,700.0 L-50.0,900.0 L900.0,900.0 L900.0,-50.0 L257.6,-12.4Z" fill="#006cfc"/>
<path d="M402.8,-8.0 C402.8,-8.0 404.8,3.9 406.5,9.3 C408.3,14.8 411.8,22.0 413.5,24.6 C415.2,27.1 414.9,24.2 417.0,24.6 C419.0,24.9 422.8,27.8 425.7,26.7 C428.6,25.6 432.2,23.8 434.4,18.0 C436.5,12.2 438.7,-8.0 438.7,-8.0 L402.8,-8.0Z" fill="#0020f4"/>
<path d="M397.4,83.3 C398.5,84.0 400.2,97.0 401.1,105.0 C402.0,113.0 403.1,125.6 402.6,131.1 C402.2,136.6 399.8,137.3 398.3,138.0 C396.8,138.8 394.6,137.3 393.5,135.4 C392.4,133.5 391.6,132.5 391.8,126.7 C391.9,120.9 393.6,107.9 394.6,100.6 C395.5,93.4 396.3,82.5 397.4,83.3Z" fill="#0020f4"/>
<path d="M445.2,-12.4 C445.2,-12.4 445.9,-8.3 445.2,-0.0 C444.6,8.3 443.5,17.9 442.0,28.9 C440.5,39.9 440.0,48.0 437.6,55.0 C435.2,62.0 433.5,61.1 430.0,63.7 C426.5,66.3 423.3,64.1 420.2,68.0 C417.2,72.0 416.8,75.0 414.8,83.3 C412.8,91.5 412.2,98.9 410.5,109.3 C408.7,119.8 408.1,125.0 406.1,135.4 C404.2,145.9 403.1,151.1 400.7,161.5 C398.3,172.0 396.8,177.2 394.2,187.6 C391.5,198.0 390.2,203.3 387.6,213.7 C385.0,224.1 383.5,229.3 381.1,239.8 C378.7,250.2 377.5,258.0 375.7,265.9 C373.8,273.7 374.7,273.3 371.8,278.9 C368.8,284.6 366.1,288.9 360.9,294.1 C355.7,299.3 351.3,302.4 345.7,305.0 C340.0,307.6 337.8,308.0 332.6,307.2 C327.4,306.3 324.8,301.5 319.6,300.6 C314.4,299.8 311.3,299.8 306.5,302.8 C301.8,305.9 299.6,310.2 295.7,315.9 C291.8,321.5 290.5,324.6 287.0,331.1 C283.5,337.6 280.9,340.9 278.3,348.5 C275.7,356.1 276.1,360.6 273.9,369.1 C271.8,377.6 269.9,384.2 267.4,390.9 C264.9,397.5 263.6,397.5 261.6,402.5 C259.6,407.4 259.0,410.0 257.3,415.5 C255.5,421.0 255.2,425.6 252.9,430.0 C250.6,434.3 248.3,435.8 245.7,437.2 C243.1,438.7 242.5,437.5 239.9,437.2 C237.3,437.0 235.5,435.5 232.6,435.8 C229.7,436.1 228.0,437.0 225.4,438.7 C222.8,440.4 221.6,441.9 219.6,444.5 C217.6,447.1 217.0,448.8 215.2,451.7 C213.5,454.6 212.3,455.5 210.9,459.0 C209.4,462.5 208.3,464.8 208.0,469.1 C207.7,473.5 208.9,475.5 209.4,480.7 C210.0,485.9 210.0,489.4 210.9,495.2 C211.8,501.0 212.3,504.2 213.8,509.7 C215.2,515.2 217.8,518.1 218.1,522.7 C218.4,527.4 216.5,527.8 215.2,532.8 C214.0,537.9 213.3,542.4 212.0,548.0 C210.7,553.7 210.0,554.6 208.7,561.1 C207.4,567.6 207.2,574.1 205.5,580.6 C203.7,587.2 202.4,588.9 200.0,593.7 C197.6,598.5 196.1,600.6 193.5,604.6 C190.9,608.5 189.6,610.2 187.0,613.3 C184.4,616.3 183.1,618.7 180.5,619.8 C177.8,620.9 177.0,619.8 173.9,618.7 C170.9,617.6 169.2,615.6 165.2,614.3 C161.3,613.0 158.7,612.0 154.4,612.2 C150.0,612.4 147.8,614.1 143.5,615.4 C139.2,616.7 137.0,617.4 132.6,618.7 C128.3,620.0 126.1,620.4 121.8,622.0 C117.4,623.5 115.2,624.1 110.9,626.3 C106.5,628.5 104.4,629.3 100.0,632.8 C95.7,636.3 93.1,638.9 89.2,643.7 C85.2,648.5 83.5,652.0 80.5,656.7 C77.4,661.5 76.5,665.0 73.9,667.6 C71.3,670.2 70.2,670.0 67.4,669.8 C64.6,669.6 62.4,669.1 59.8,666.5 C57.2,663.9 55.7,661.7 54.4,656.7 C53.1,651.7 52.8,647.2 53.3,641.5 C53.7,635.9 54.6,633.7 56.5,628.5 C58.5,623.3 60.5,620.6 63.1,615.4 C65.7,610.2 67.3,607.0 69.6,602.4 C71.9,597.8 72.8,596.4 74.7,592.3 C76.5,588.3 77.3,585.9 79.0,582.2 C80.7,578.4 81.3,577.0 83.4,573.5 C85.4,570.0 87.1,568.3 89.2,564.8 C91.2,561.3 91.8,559.6 93.5,556.1 C95.2,552.6 96.1,550.6 97.8,547.4 C99.6,544.2 100.2,542.5 102.2,540.1 C104.2,537.8 105.7,537.5 108.0,535.8 C110.3,534.1 111.5,532.9 113.8,531.4 C116.1,530.0 117.0,529.1 119.6,528.5 C122.2,528.0 124.2,528.0 126.8,528.5 C129.4,529.1 130.3,530.6 132.6,531.4 C134.9,532.3 136.1,533.2 138.4,532.9 C140.7,532.6 141.9,531.2 144.2,530.0 C146.5,528.8 148.0,528.5 150.0,527.1 C152.1,525.6 153.2,526.2 154.4,522.7 C155.5,519.3 155.4,515.2 155.8,509.7 C156.3,504.2 156.5,501.0 156.5,495.2 C156.5,489.4 156.3,485.4 155.8,480.7 C155.4,476.1 155.7,474.2 154.4,472.0 C153.1,469.9 151.3,469.9 149.3,469.9 C147.3,469.9 145.8,470.7 144.2,472.0 C142.6,473.3 142.5,474.8 141.3,476.4 C140.2,478.0 140.2,479.4 138.4,480.0 C136.7,480.6 134.9,479.1 132.6,479.3 C130.3,479.4 129.2,479.6 126.8,480.7 C124.5,481.9 123.4,483.3 121.0,485.1 C118.7,486.8 117.3,487.7 115.2,489.4 C113.2,491.2 112.6,491.4 110.9,493.8 C109.2,496.1 108.3,498.4 106.5,501.0 C104.8,503.6 104.5,506.1 102.2,506.8 C99.9,507.5 97.6,504.9 94.9,504.6 C92.3,504.3 92.1,505.2 89.2,505.4 C86.3,505.5 83.9,505.6 80.5,505.4 C77.0,505.1 75.2,504.6 71.8,503.9 C68.3,503.2 66.5,502.3 63.1,501.7 C59.6,501.2 57.6,501.7 54.4,501.0 C51.2,500.3 49.7,499.6 47.1,498.1 C44.5,496.7 43.4,495.8 41.3,493.8 C39.3,491.7 38.4,489.9 37.0,488.0 C35.5,486.1 35.5,485.1 34.1,484.3 C32.6,483.6 31.8,483.3 29.7,484.3 C27.7,485.4 26.0,487.2 23.9,489.4 C21.9,491.6 21.3,492.9 19.6,495.2 C17.8,497.5 17.6,499.6 15.2,501.0 C12.9,502.5 11.0,501.6 8.0,502.5 C4.9,503.3 4.7,504.8 0.0,505.4 C-4.6,505.9 -15.2,505.4 -15.2,505.4 L-50.0,700.0 L-50.0,900.0 L900.0,900.0 L900.0,-50.0 L445.2,-12.4Z" fill="#00bcfc"/>
<path d="M317.4,26.7 C319.9,18.8 328.6,7.3 332.6,2.8 C336.6,-1.6 338.1,-0.7 341.3,-0.0 C344.6,0.7 348.8,3.1 352.2,7.2 C355.6,11.3 360.9,17.3 362.0,24.6 C363.1,31.8 360.3,40.9 358.7,50.6 C357.1,60.4 354.4,72.4 352.2,83.3 C350.0,94.1 347.8,106.8 345.7,115.9 C343.5,124.9 341.1,132.9 339.2,137.6 C337.2,142.3 335.9,144.1 333.7,144.1 C331.5,144.1 328.5,142.0 326.1,137.6 C323.8,133.3 320.9,127.1 319.6,118.0 C318.3,109.0 318.9,94.5 318.5,83.3 C318.1,72.0 317.6,60.1 317.4,50.6 C317.2,41.2 314.9,34.7 317.4,26.7Z" fill="#00bcfc"/>
<path d="M369.6,24.6 C370.2,22.7 372.3,21.6 373.5,22.0 C374.7,22.3 376.3,24.5 376.5,26.7 C376.8,29.0 375.7,32.9 375.0,35.4 C374.3,38.0 373.0,42.3 372.2,42.0 C371.4,41.6 370.5,36.2 370.0,33.3 C369.6,30.4 369.0,26.4 369.6,24.6Z" fill="#00bcfc"/>
<path d="M455.0,-12.4 C455.0,-12.4 455.7,-8.3 455.0,-0.0 C454.4,8.3 453.5,17.5 451.8,28.9 C450.0,40.3 448.7,46.3 446.3,57.2 C443.9,68.0 442.6,74.6 439.8,83.3 C437.0,92.0 435.5,95.4 432.2,100.6 C428.9,105.9 426.5,104.1 423.5,109.3 C420.5,114.6 419.6,118.0 417.0,126.7 C414.4,135.4 413.1,142.4 410.5,152.8 C407.8,163.3 406.5,168.5 403.9,178.9 C401.3,189.3 400.0,194.6 397.4,205.0 C394.8,215.4 393.5,220.6 390.9,231.1 C388.3,241.5 387.0,246.7 384.4,257.2 C381.8,267.6 380.4,273.7 377.8,283.3 C375.3,292.8 374.7,298.0 371.8,305.0 C368.8,312.0 367.0,312.0 363.1,318.0 C359.2,324.1 356.5,330.2 352.2,335.4 C347.8,340.6 345.2,343.3 341.3,344.1 C337.4,345.0 336.1,342.4 332.6,339.8 C329.2,337.2 327.8,332.8 323.9,331.1 C320.0,329.3 317.0,328.5 313.1,331.1 C309.2,333.7 307.4,338.5 304.4,344.1 C301.3,349.8 301.3,355.9 297.8,359.3 C294.4,362.8 290.0,359.5 287.2,361.3 C284.4,363.1 285.9,364.9 283.8,368.1 C281.8,371.3 279.1,372.9 277.0,377.2 C274.8,381.6 274.0,383.9 273.0,389.8 C272.0,395.7 271.8,398.9 271.8,406.9 C271.8,414.8 272.5,420.5 273.0,429.6 C273.4,438.7 273.5,445.7 274.1,452.4 C274.8,459.1 275.4,454.1 276.1,463.3 C276.9,472.4 277.5,485.0 277.8,498.0 C278.2,511.1 278.4,518.0 277.8,528.5 C277.3,538.9 276.7,542.8 275.0,550.2 C273.4,557.6 272.8,561.5 269.6,565.4 C266.3,569.3 263.1,569.1 258.7,569.8 C254.4,570.4 252.2,569.1 247.8,568.7 C243.5,568.3 240.7,569.6 237.0,567.6 C233.3,565.6 232.0,561.5 229.4,558.9 C226.8,556.3 225.9,554.1 223.9,554.6 C222.0,555.0 221.3,556.3 219.6,561.1 C217.8,565.9 217.4,571.5 215.2,578.5 C213.1,585.4 211.8,589.3 208.7,595.9 C205.7,602.4 203.9,605.4 200.0,611.1 C196.1,616.7 193.5,620.6 189.2,624.1 C184.8,627.6 182.6,628.5 178.3,628.5 C173.9,628.5 171.8,625.6 167.4,624.1 C163.1,622.6 160.9,620.9 156.5,620.9 C152.2,620.9 150.0,622.6 145.7,624.1 C141.3,625.6 139.2,627.0 134.8,628.5 C130.5,630.0 128.3,630.0 123.9,631.7 C119.6,633.5 117.4,634.3 113.1,637.2 C108.7,640.0 106.1,642.0 102.2,645.9 C98.3,649.8 97.0,652.0 93.5,656.7 C90.0,661.5 87.8,665.0 84.8,669.8 C81.8,674.6 80.9,676.3 78.3,680.6 C75.7,685.0 74.4,686.3 71.8,691.5 C69.2,696.7 67.4,700.2 65.2,706.7 C63.1,713.3 62.4,717.2 60.9,724.1 C59.4,731.1 58.7,732.8 57.6,741.5 C56.5,750.2 55.5,767.6 55.5,767.6 L900.0,900.0 L900.0,-50.0 L455.0,-12.4Z" fill="#00f4e4"/>
<path d="M-10.8,526.3 C-10.8,526.3 -3.6,525.9 0.0,526.3 C3.6,526.7 7.6,528.8 10.9,528.5 C14.2,528.1 16.7,525.2 19.6,524.1 C22.5,523.0 25.7,521.6 28.3,522.0 C30.8,522.3 33.0,523.0 34.8,526.3 C36.6,529.6 37.7,535.7 39.2,541.5 C40.6,547.3 42.4,555.3 43.5,561.1 C44.6,566.9 46.0,570.9 45.7,576.3 C45.3,581.7 43.1,587.2 41.3,593.7 C39.5,600.2 37.0,608.9 34.8,615.4 C32.6,622.0 30.5,627.7 28.3,632.8 C26.1,637.9 24.3,642.2 21.8,645.9 C19.2,649.5 16.7,652.6 13.1,654.6 C9.4,656.6 4.0,657.3 0.0,657.8 C-4.0,658.4 -10.8,657.8 -10.8,657.8 L-10.8,526.3Z" fill="#00f4e4"/>
<path d="M464.8,-12.4 C464.8,-12.4 465.5,-8.3 464.8,-0.0 C464.2,8.3 463.1,16.6 461.5,28.9 C460.0,41.2 459.2,50.6 457.2,61.5 C455.2,72.4 454.2,74.6 451.8,83.3 C449.4,92.0 447.8,96.3 445.2,105.0 C442.6,113.7 441.3,120.2 438.7,126.7 C436.1,133.3 435.0,134.1 432.2,137.6 C429.4,141.1 427.4,139.3 424.6,144.1 C421.8,148.9 420.5,153.7 418.1,161.5 C415.7,169.3 415.0,174.6 412.6,183.3 C410.2,192.0 408.7,196.3 406.1,205.0 C403.5,213.7 402.2,217.2 399.6,226.7 C397.0,236.3 395.7,242.4 393.1,252.8 C390.5,263.3 389.2,269.3 386.5,278.9 C383.9,288.5 382.6,292.8 380.0,300.6 C377.4,308.5 379.8,305.9 373.5,318.0 C367.2,330.2 355.0,351.5 348.7,361.3 C342.4,371.1 344.4,364.3 341.9,367.0 C339.4,369.7 338.2,372.7 336.2,375.0 C334.1,377.2 333.5,379.8 331.6,378.4 C329.8,377.0 328.9,371.6 327.1,368.1 C325.3,364.7 325.5,363.8 322.5,361.3 C319.6,358.8 315.9,356.1 312.3,355.6 C308.6,355.1 306.8,355.6 304.3,359.0 C301.8,362.4 301.3,367.7 299.8,372.7 C298.2,377.7 297.5,378.4 296.3,384.1 C295.2,389.8 295.2,395.2 294.1,401.2 C292.9,407.1 292.2,410.0 290.6,413.7 C289.0,417.3 287.9,418.9 286.1,419.4 C284.3,419.8 283.4,416.2 281.5,416.0 C279.7,415.7 278.2,415.5 277.0,418.2 C275.7,421.0 275.5,422.8 275.3,429.6 C275.0,436.5 274.9,445.7 275.8,452.4 C276.8,459.1 278.7,454.1 280.0,463.3 C281.3,472.4 281.8,485.0 282.2,498.0 C282.6,511.1 282.8,517.6 282.2,528.5 C281.6,539.3 281.0,544.1 279.4,552.4 C277.7,560.6 277.2,564.6 273.9,569.8 C270.7,575.0 267.8,575.4 263.1,578.5 C258.3,581.5 255.2,582.8 250.0,585.0 C244.8,587.2 241.8,587.2 237.0,589.3 C232.2,591.5 230.5,592.4 226.1,595.9 C221.8,599.3 219.2,602.4 215.2,606.7 C211.3,611.1 210.0,612.8 206.5,617.6 C203.1,622.4 201.3,626.3 197.8,630.6 C194.4,635.0 193.1,636.7 189.2,639.3 C185.2,642.0 183.1,643.3 178.3,643.7 C173.5,644.1 170.0,641.7 165.2,641.5 C160.5,641.3 158.7,641.3 154.4,642.6 C150.0,643.9 147.8,645.6 143.5,648.0 C139.2,650.4 137.0,651.1 132.6,654.6 C128.3,658.0 125.7,660.6 121.8,665.4 C117.8,670.2 116.5,672.8 113.1,678.5 C109.6,684.1 107.8,687.2 104.4,693.7 C100.9,700.2 98.7,704.1 95.7,711.1 C92.6,718.0 91.8,721.5 89.2,728.5 C86.5,735.4 84.8,738.0 82.6,745.9 C80.5,753.7 78.3,767.6 78.3,767.6 L900.0,900.0 L900.0,-50.0 L464.8,-12.4Z" fill="#00f084"/>
<path d="M473.5,-12.4 C473.5,-12.4 474.4,-8.3 473.5,-0.0 C472.6,8.3 471.1,16.6 469.2,28.9 C467.2,41.2 465.7,50.6 463.7,61.5 C461.8,72.4 461.1,74.6 459.4,83.3 C457.6,92.0 457.0,96.3 455.0,105.0 C453.1,113.7 452.0,120.2 449.6,126.7 C447.2,133.3 446.1,135.0 443.1,137.6 C440.0,140.2 437.8,138.9 434.4,139.8 C430.9,140.6 428.7,140.2 425.7,142.0 C422.6,143.7 421.5,142.8 419.2,148.5 C416.8,154.1 415.9,161.5 413.7,170.2 C411.5,178.9 410.7,183.3 408.3,192.0 C405.9,200.6 404.4,204.1 401.8,213.7 C399.2,223.3 397.6,228.9 395.2,239.8 C392.8,250.6 392.0,256.7 389.8,268.0 C387.6,279.3 386.8,285.4 384.4,296.3 C382.0,307.2 379.3,309.4 377.8,322.4 C376.4,335.4 377.8,352.2 377.2,361.3 C376.6,370.4 376.1,365.2 374.9,368.1 C373.8,371.1 373.6,373.4 371.5,376.1 C369.5,378.8 367.4,379.5 364.7,381.8 C361.9,384.1 360.1,385.2 357.8,387.5 C355.6,389.8 355.1,390.5 353.3,393.2 C351.5,395.9 350.8,398.7 348.7,401.2 C346.7,403.7 345.1,404.1 343.0,405.7 C341.0,407.3 340.1,407.1 338.5,409.1 C336.9,411.2 336.4,414.0 335.1,416.0 C333.7,417.9 333.0,418.5 331.6,418.8 C330.3,419.2 329.8,419.2 328.2,417.7 C326.6,416.2 325.5,414.0 323.7,411.4 C321.8,408.8 320.9,406.7 319.1,404.6 C317.3,402.4 316.4,401.3 314.6,400.6 C312.7,399.9 311.8,399.5 310.0,401.2 C308.2,402.9 307.0,405.3 305.4,409.1 C303.9,413.0 303.4,415.3 302.0,420.5 C300.7,425.8 299.8,429.4 298.6,435.3 C297.5,441.3 297.2,444.9 296.3,450.1 C295.4,455.4 294.9,457.7 294.1,461.5 C293.3,465.4 293.0,466.1 292.3,469.5 C291.7,472.9 291.4,475.9 290.6,478.6 C289.8,481.3 289.3,482.5 288.4,483.2 C287.5,483.9 287.2,483.9 286.1,482.0 C284.9,480.2 284.1,476.6 282.7,474.1 C281.2,471.6 279.7,469.3 278.7,469.5 C277.7,469.7 277.5,471.8 277.5,475.2 C277.5,478.6 278.5,479.8 278.7,486.6 C278.8,493.4 278.6,500.3 278.3,509.4 C278.1,518.5 278.0,523.0 277.5,532.1 C277.0,541.3 277.1,547.4 275.8,554.9 C274.6,562.4 273.4,565.0 271.3,569.7 C269.2,574.4 268.6,575.4 265.2,578.5 C261.9,581.5 258.7,582.4 254.4,585.0 C250.0,587.6 247.8,589.3 243.5,591.5 C239.2,593.7 237.0,592.8 232.6,595.9 C228.3,598.9 226.1,601.5 221.8,606.7 C217.4,612.0 215.2,615.9 210.9,622.0 C206.5,628.0 204.4,630.6 200.0,637.2 C195.7,643.7 193.1,648.9 189.2,654.6 C185.2,660.2 184.8,662.0 180.5,665.4 C176.1,668.9 173.1,669.3 167.4,672.0 C161.8,674.6 157.4,675.9 152.2,678.5 C147.0,681.1 145.2,681.1 141.3,685.0 C137.4,688.9 136.1,692.0 132.6,698.0 C129.2,704.1 127.4,708.0 123.9,715.4 C120.5,722.8 118.5,724.6 115.2,735.0 C112.0,745.4 107.6,767.6 107.6,767.6 L900.0,900.0 L900.0,-50.0 L473.5,-12.4Z" fill="#00c024"/>
<path d="M483.3,-12.4 C483.3,-12.4 484.2,-8.3 483.3,-0.0 C482.4,8.3 480.9,16.6 478.9,28.9 C477.0,41.2 475.5,50.6 473.5,61.5 C471.5,72.4 470.9,74.6 469.2,83.3 C467.4,92.0 466.5,96.3 464.8,105.0 C463.1,113.7 462.2,118.0 460.5,126.7 C458.7,135.4 458.7,139.8 456.1,148.5 C453.5,157.2 450.9,164.6 447.4,170.2 C443.9,175.9 442.2,175.4 438.7,176.7 C435.2,178.0 433.5,175.9 430.0,176.7 C426.5,177.6 424.4,177.2 421.3,181.1 C418.3,185.0 417.4,188.9 414.8,196.3 C412.2,203.7 410.7,209.3 408.3,218.0 C405.9,226.7 404.8,229.8 402.8,239.8 C400.9,249.8 400.0,255.9 398.5,268.0 C397.0,280.2 395.7,288.9 395.2,300.6 C394.8,312.4 395.6,314.6 396.3,326.7 C397.0,338.9 399.2,353.0 398.8,361.3 C398.4,369.6 396.1,364.7 394.3,368.1 C392.5,371.6 391.3,374.1 389.7,378.4 C388.1,382.7 387.7,385.2 386.3,389.8 C384.9,394.3 384.3,397.1 382.9,401.2 C381.5,405.3 381.3,407.3 379.5,410.3 C377.7,413.2 376.3,413.9 373.8,416.0 C371.3,418.0 369.7,418.2 367.0,420.5 C364.2,422.8 362.9,424.2 360.1,427.4 C357.4,430.5 355.8,433.3 353.3,436.5 C350.8,439.7 350.1,441.3 347.6,443.3 C345.1,445.4 342.8,444.9 340.8,446.7 C338.7,448.5 338.7,449.7 337.3,452.4 C336.0,455.1 335.5,458.3 333.9,460.4 C332.3,462.4 331.4,462.7 329.4,462.7 C327.3,462.7 326.2,460.4 323.7,460.4 C321.2,460.4 319.3,461.3 316.8,462.7 C314.3,464.0 313.2,464.3 311.1,467.2 C309.1,470.2 308.2,472.5 306.6,477.5 C305.0,482.5 304.5,485.9 303.2,492.3 C301.8,498.7 301.1,502.5 299.8,509.4 C298.4,516.2 297.5,519.6 296.3,526.4 C295.2,533.3 295.2,537.8 294.1,543.5 C292.9,549.2 292.9,551.3 290.6,554.9 C288.4,558.6 285.4,558.3 282.7,561.8 C279.9,565.2 279.0,568.1 277.0,572.0 C274.9,575.9 274.8,577.0 272.4,581.3 C270.1,585.7 270.2,586.9 265.2,593.7 C260.3,600.5 254.4,607.2 247.8,615.4 C241.3,623.7 238.3,626.7 232.6,635.0 C227.0,643.3 224.4,647.6 219.6,656.7 C214.8,665.9 212.6,671.5 208.7,680.6 C204.8,689.8 204.8,694.6 200.0,702.4 C195.2,710.2 191.3,715.0 184.8,719.8 C178.3,724.6 173.9,723.3 167.4,726.3 C160.9,729.3 156.5,726.7 152.2,735.0 C147.8,743.3 145.7,767.6 145.7,767.6 L900.0,900.0 L900.0,-50.0 L483.3,-12.4Z" fill="#24c000"/>
<path d="M403.9,767.6 C403.9,767.6 409.4,751.7 412.6,745.9 C415.9,740.1 419.5,736.1 423.5,732.8 C427.5,729.6 432.6,728.5 436.5,726.3 C440.5,724.1 444.2,722.3 447.4,719.8 C450.7,717.2 453.2,714.3 456.1,711.1 C459.0,707.8 461.5,703.1 464.8,700.2 C468.1,697.3 472.4,695.1 475.7,693.7 C478.9,692.2 481.5,690.8 484.4,691.5 C487.3,692.2 490.2,695.9 493.1,698.0 C496.0,700.2 498.9,704.9 501.8,704.6 C504.7,704.2 507.2,698.4 510.5,695.9 C513.7,693.3 518.4,689.7 521.3,689.3 C524.2,689.0 525.7,691.2 527.8,693.7 C530.0,696.2 533.1,700.2 534.4,704.6 C535.6,708.9 535.8,714.7 535.5,719.8 C535.1,724.9 533.5,729.9 532.2,735.0 C530.9,740.1 528.9,744.8 527.8,750.2 C526.8,755.6 525.7,767.6 525.7,767.6 L403.9,767.6Z" fill="#00c024"/>
<path d="M496.3,-12.4 C496.3,-12.4 497.2,-8.3 496.3,-0.0 C495.5,8.3 493.7,16.6 492.0,28.9 C490.2,41.2 489.4,49.8 487.6,61.5 C485.9,73.3 485.2,78.0 483.3,87.6 C481.3,97.2 479.6,100.6 477.8,109.3 C476.1,118.0 475.7,121.1 474.6,131.1 C473.5,141.1 473.5,147.2 472.4,159.3 C471.3,171.5 470.7,178.9 469.2,192.0 C467.6,205.0 466.3,213.3 464.8,224.6 C463.3,235.9 463.1,241.1 461.5,248.5 C460.0,255.9 458.7,259.1 457.2,261.5 C455.7,263.9 455.7,261.5 453.9,260.4 C452.2,259.3 451.5,257.0 448.5,256.1 C445.5,255.2 442.0,256.7 438.7,256.1 C435.5,255.4 434.6,254.3 432.2,252.8 C429.8,251.3 429.2,247.6 426.8,248.5 C424.4,249.3 422.6,252.0 420.2,257.2 C417.8,262.4 417.2,265.9 414.8,274.6 C412.4,283.3 410.5,291.1 408.3,300.6 C406.1,310.2 405.7,313.7 403.9,322.4 C402.2,331.1 400.4,336.3 399.6,344.1 C398.8,351.9 400.4,355.6 400.0,361.3 C399.6,367.0 398.5,368.1 397.7,372.7 C396.9,377.2 396.9,378.4 396.0,384.1 C395.1,389.8 394.4,394.8 393.1,401.2 C391.9,407.5 391.1,410.3 389.7,416.0 C388.4,421.7 387.7,425.1 386.3,429.6 C384.9,434.2 384.5,435.1 382.9,438.7 C381.3,442.4 379.9,444.7 378.3,447.9 C376.7,451.0 376.5,452.6 374.9,454.7 C373.3,456.7 372.4,457.0 370.4,458.1 C368.3,459.2 366.7,458.8 364.7,460.4 C362.6,462.0 361.7,463.1 360.1,466.1 C358.5,469.0 357.8,471.1 356.7,475.2 C355.6,479.3 355.3,482.0 354.4,486.6 C353.5,491.1 353.3,493.4 352.1,498.0 C351.0,502.5 350.1,505.0 348.7,509.4 C347.4,513.7 347.1,516.0 345.3,519.6 C343.5,523.3 341.4,523.7 339.6,527.6 C337.8,531.5 337.8,534.6 336.2,539.0 C334.6,543.3 333.7,545.6 331.6,549.2 C329.6,552.9 328.5,554.2 325.9,557.2 C323.4,560.2 321.4,561.1 319.1,564.0 C316.8,567.0 316.4,568.5 314.6,572.0 C312.7,575.5 311.0,580.5 310.0,581.3 C309.1,582.2 310.1,573.0 309.8,576.3 C309.5,579.6 308.3,588.5 308.7,598.0 C309.2,607.6 309.4,617.2 312.0,624.1 C314.6,631.1 316.8,629.8 321.8,632.8 C326.8,635.9 331.3,638.9 337.0,639.3 C342.6,639.8 345.7,637.6 350.0,635.0 C354.4,632.4 355.2,628.5 358.7,626.3 C362.2,624.1 363.9,623.3 367.4,624.1 C370.9,625.0 373.6,628.0 376.1,630.6 C378.6,633.3 377.9,632.4 380.0,637.2 C382.1,642.0 384.2,650.2 386.5,654.6 C388.9,658.9 389.4,659.1 392.0,658.9 C394.6,658.7 396.3,654.8 399.6,653.5 C402.8,652.2 404.8,653.0 408.3,652.4 C411.8,651.7 413.9,652.0 417.0,650.2 C420.0,648.5 420.9,645.6 423.5,643.7 C426.1,641.7 427.0,640.4 430.0,640.4 C433.1,640.4 435.2,643.3 438.7,643.7 C442.2,644.1 443.9,644.3 447.4,642.6 C450.9,640.9 452.2,637.8 456.1,635.0 C460.0,632.2 462.6,631.5 467.0,628.5 C471.3,625.4 473.5,622.6 477.8,619.8 C482.2,617.0 484.4,616.3 488.7,614.3 C493.1,612.4 495.2,611.7 499.6,610.0 C503.9,608.3 506.1,608.0 510.5,605.6 C514.8,603.3 517.4,600.9 521.3,598.0 C525.2,595.2 525.2,594.6 530.0,591.5 C534.8,588.5 539.2,585.6 545.2,582.8 C551.3,580.0 555.7,578.9 560.5,577.4 C565.2,575.9 565.7,575.0 569.2,575.2 C572.6,575.4 574.6,576.1 577.8,578.5 C581.1,580.9 582.8,583.7 585.5,587.2 C588.1,590.6 588.5,591.5 590.9,595.9 C593.3,600.2 594.8,603.3 597.4,608.9 C600.0,614.6 601.3,619.6 603.9,624.1 C606.5,628.7 607.8,631.3 610.5,631.7 C613.1,632.2 614.4,628.7 617.0,626.3 C619.6,623.9 620.9,621.6 623.5,619.8 C626.1,618.0 627.6,616.3 630.0,617.2 C632.4,618.0 633.7,620.1 635.5,624.1 C637.2,628.1 637.2,631.1 638.7,637.2 C640.2,643.3 642.4,646.7 643.1,654.6 C643.7,662.4 643.7,670.2 642.0,676.3 C640.2,682.4 637.6,681.1 634.4,685.0 C631.1,688.9 628.7,690.2 625.7,695.9 C622.6,701.5 621.8,707.6 619.2,713.3 C616.5,718.9 615.2,720.2 612.6,724.1 C610.0,728.0 609.2,728.9 606.1,732.8 C603.1,736.7 600.0,739.8 597.4,743.7 C594.8,747.6 594.4,747.6 593.1,752.4 C591.8,757.2 590.9,767.6 590.9,767.6 L900.0,900.0 L799.6,93.7 C799.6,93.7 789.8,93.6 785.0,93.7 C780.2,93.8 780.2,94.5 775.7,94.1 C771.2,93.8 766.5,94.1 762.6,92.0 C758.7,89.8 758.7,88.0 756.1,83.3 C753.5,78.5 752.6,73.3 749.6,68.0 C746.5,62.8 744.8,62.8 740.9,57.2 C737.0,51.5 733.9,46.7 730.0,39.8 C726.1,32.8 724.2,30.3 721.3,22.4 C718.5,14.4 717.0,7.0 715.9,-0.0 C714.8,-7.0 715.9,-12.4 715.9,-12.4 L496.3,-12.4Z" fill="#84f000"/>
<path d="M509.4,-12.4 C509.4,-12.4 510.5,-8.3 509.4,-0.0 C508.3,8.3 505.9,16.6 503.9,28.9 C502.0,41.2 501.3,49.8 499.6,61.5 C497.8,73.3 496.8,78.0 495.2,87.6 C493.7,97.2 493.7,99.8 492.0,109.3 C490.2,118.9 488.1,123.3 486.5,135.4 C485.0,147.6 485.0,156.7 484.4,170.2 C483.7,183.7 483.9,189.8 483.3,202.8 C482.6,215.9 481.8,224.6 481.1,235.4 C480.5,246.3 480.7,248.5 480.0,257.2 C479.4,265.9 478.7,270.2 477.8,278.9 C477.0,287.6 477.0,292.0 475.7,300.6 C474.4,309.3 473.1,314.6 471.3,322.4 C469.6,330.2 468.7,333.7 467.0,339.8 C465.2,345.9 464.2,346.7 462.6,352.8 C461.1,358.9 460.7,364.8 459.4,370.2 C458.1,375.6 457.6,379.6 456.1,380.0 C454.6,380.4 453.7,375.6 451.8,372.4 C449.8,369.1 448.9,367.2 446.3,363.7 C443.7,360.2 441.3,358.0 438.7,355.0 C436.1,352.0 435.5,351.3 433.3,348.5 C431.1,345.6 430.0,341.7 427.8,340.9 C425.7,340.0 424.6,340.0 422.4,344.1 C420.2,348.3 418.7,354.6 417.0,361.5 C415.2,368.5 414.8,371.5 413.7,378.9 C412.6,386.3 412.4,392.5 411.5,398.5 C410.7,404.5 410.5,400.3 409.4,408.9 C408.3,417.5 407.0,428.5 406.1,441.5 C405.2,454.6 404.6,463.7 405.0,474.1 C405.5,484.6 406.3,490.2 408.3,493.7 C410.2,497.2 411.8,493.7 414.8,491.5 C417.8,489.3 419.6,486.3 423.5,482.8 C427.4,479.3 430.5,476.3 434.4,474.1 C438.3,472.0 440.5,470.6 443.1,472.0 C445.7,473.3 445.9,475.4 447.4,480.6 C448.9,485.9 448.9,492.8 450.7,498.0 C452.4,503.3 452.8,504.1 456.1,506.7 C459.4,509.3 462.2,510.4 467.0,511.1 C471.8,511.7 475.2,509.8 480.0,510.0 C484.8,510.2 487.0,511.5 490.9,512.2 C494.8,512.8 496.5,514.3 499.6,513.3 C502.6,512.2 503.1,509.1 506.1,506.7 C509.2,504.3 510.9,503.0 514.8,501.3 C518.7,499.6 521.3,500.9 525.7,498.0 C530.0,495.2 532.6,491.1 536.5,487.2 C540.5,483.3 541.8,483.3 545.2,478.5 C548.7,473.7 550.5,468.5 553.9,463.3 C557.4,458.0 559.2,453.3 562.6,452.4 C566.1,451.5 567.8,455.9 571.3,458.9 C574.8,462.0 576.5,462.8 580.0,467.6 C583.5,472.4 585.2,477.2 588.7,482.8 C592.2,488.5 593.9,490.2 597.4,495.9 C600.9,501.5 603.1,505.4 606.1,511.1 C609.2,516.7 609.6,519.8 612.6,524.1 C615.7,528.5 617.8,532.4 621.3,532.8 C624.8,533.3 626.1,528.5 630.0,526.3 C633.9,524.1 636.5,523.5 640.9,522.0 C645.2,520.4 648.3,521.3 651.8,518.7 C655.2,516.1 655.7,513.0 658.3,508.9 C660.9,504.8 661.8,502.0 664.8,498.0 C667.8,494.1 670.0,490.9 673.5,489.3 C677.0,487.8 678.3,489.1 682.2,490.4 C686.1,491.7 689.6,495.4 693.1,495.9 C696.5,496.3 697.0,493.9 699.6,492.6 C702.2,491.3 703.5,488.3 706.1,489.3 C708.7,490.4 710.0,493.7 712.6,498.0 C715.2,502.4 716.5,505.0 719.2,511.1 C721.8,517.2 723.1,522.4 725.7,528.5 C728.3,534.6 729.2,536.5 732.2,541.5 C735.2,546.5 737.4,549.6 740.9,553.5 C744.4,557.4 746.1,558.5 749.6,561.1 C753.1,563.7 754.8,565.2 758.3,566.5 C761.8,567.8 764.4,565.2 767.0,567.6 C769.6,570.0 769.6,573.3 771.3,578.5 C773.1,583.7 774.4,586.3 775.7,593.7 C777.0,601.1 777.8,606.7 777.8,615.4 C777.8,624.1 777.0,628.9 775.7,637.2 C774.4,645.4 773.9,650.6 771.3,656.7 C768.7,662.8 766.1,663.3 762.6,667.6 C759.2,672.0 757.4,674.1 753.9,678.5 C750.5,682.8 748.3,685.4 745.2,689.3 C742.2,693.3 742.6,692.8 738.7,698.0 C734.8,703.3 725.7,715.4 725.7,715.4 L799.6,715.4 L799.6,328.9 C799.6,328.9 788.9,331.1 785.0,328.9 C781.1,326.7 781.9,322.8 780.0,318.0 C778.2,313.3 777.8,308.7 775.7,305.0 C773.5,301.3 771.8,298.3 769.2,299.6 C766.5,300.9 765.7,312.2 762.6,311.5 C759.6,310.9 756.5,302.8 753.9,296.3 C751.3,289.8 751.3,286.7 749.6,278.9 C747.8,271.1 747.4,265.4 745.2,257.2 C743.1,248.9 741.8,244.1 738.7,237.6 C735.7,231.1 733.1,230.2 730.0,224.6 C727.0,218.9 725.9,215.9 723.5,209.3 C721.1,202.8 720.0,199.3 718.1,192.0 C716.1,184.6 715.5,177.4 713.7,172.4 C712.0,167.4 711.3,167.8 709.4,167.0 C707.4,166.1 705.9,170.9 703.9,168.0 C702.0,165.2 701.3,160.2 699.6,152.8 C697.8,145.4 697.0,137.2 695.2,131.1 C693.5,125.0 692.6,126.7 690.9,122.4 C689.2,118.0 687.6,117.2 686.5,109.3 C685.5,101.5 685.7,97.2 685.5,83.3 C685.2,69.3 685.5,56.4 685.5,39.8 C685.5,23.1 685.5,10.4 685.5,-0.0 C685.5,-10.4 685.5,-12.4 685.5,-12.4 L509.4,-12.4Z" fill="#e4f800"/>
<path d="M736.5,702.4 L740.9,702.4 L740.9,737.2 L736.5,737.2Z" fill="#e4f800"/>
<path d="M582.2,-12.4 C582.2,-12.4 582.8,-7.4 582.2,-0.0 C581.5,7.4 580.2,17.9 578.9,24.6 C577.6,31.2 577.4,31.7 575.7,33.3 C573.9,34.8 572.4,34.8 570.2,32.2 C568.1,29.6 566.8,23.3 564.8,20.2 C562.8,17.2 562.0,16.1 560.5,17.0 C558.9,17.8 558.5,16.5 557.2,24.6 C555.9,32.6 555.5,45.4 553.9,57.2 C552.4,68.9 551.0,76.7 549.6,83.3 C548.2,89.8 548.1,90.6 547.0,89.8 C545.9,88.9 545.4,88.9 544.2,78.9 C542.9,68.9 541.9,52.2 540.9,39.8 C539.9,27.4 540.2,20.9 539.2,17.0 C538.1,13.0 536.6,13.5 535.5,20.2 C534.3,27.0 534.6,38.0 533.3,50.6 C532.0,63.3 530.9,71.5 528.9,83.3 C527.0,95.0 525.2,98.9 523.5,109.3 C521.8,119.8 520.7,125.0 520.2,135.4 C519.8,145.9 520.7,150.2 521.3,161.5 C522.0,172.8 522.6,179.3 523.5,192.0 C524.4,204.6 524.8,212.4 525.7,224.6 C526.5,236.7 527.0,242.8 527.8,252.8 C528.7,262.8 528.9,267.2 530.0,274.6 C531.1,282.0 532.0,285.5 533.3,289.8 C534.6,294.0 534.8,295.4 536.5,295.9 C538.3,296.3 539.8,293.0 542.0,292.0 C544.2,291.0 545.0,291.3 547.4,290.9 C549.8,290.4 551.8,291.7 553.9,289.8 C556.1,287.8 556.5,285.4 558.3,281.1 C560.0,276.7 560.9,272.8 562.6,268.0 C564.4,263.3 564.8,259.6 567.0,257.2 C569.2,254.8 570.9,256.1 573.5,256.1 C576.1,256.1 577.8,254.8 580.0,257.2 C582.2,259.6 582.6,262.4 584.4,268.0 C586.1,273.7 587.0,278.0 588.7,285.4 C590.5,292.8 591.3,296.7 593.1,305.0 C594.8,313.3 595.7,318.0 597.4,326.7 C599.2,335.4 600.0,340.6 601.8,348.5 C603.5,356.3 604.4,359.8 606.1,365.9 C607.8,372.0 607.8,375.9 610.5,378.9 C613.1,382.0 616.1,380.2 619.2,381.1 C622.2,382.0 623.1,382.2 625.7,383.3 C628.3,384.3 629.4,386.1 632.2,386.5 C635.0,387.0 637.4,387.8 639.8,385.4 C642.2,383.0 642.8,380.6 644.2,374.6 C645.5,368.5 645.8,365.4 646.3,355.0 C646.9,344.6 647.2,337.6 647.0,322.4 C646.8,307.2 645.8,296.3 645.2,278.9 C644.7,261.5 644.8,252.8 644.2,235.4 C643.5,218.0 643.1,209.3 642.0,192.0 C640.9,174.6 640.0,165.9 638.7,148.5 C637.4,131.1 637.0,122.4 635.5,105.0 C633.9,87.6 632.8,77.6 631.1,61.5 C629.4,45.4 628.1,36.9 626.8,24.6 C625.5,12.3 625.0,7.4 624.6,-0.0 C624.2,-7.4 624.6,-12.4 624.6,-12.4 L582.2,-12.4Z" fill="#fcc000"/>
<path d="M589.8,-12.4 C589.8,-12.4 590.2,-3.0 590.9,0.6 C591.6,4.3 592.5,7.0 594.2,9.3 C595.8,11.7 598.3,14.8 600.7,14.8 C603.0,14.8 606.5,11.7 608.3,9.3 C610.1,7.0 610.8,4.3 611.5,0.6 C612.3,-3.0 612.6,-12.4 612.6,-12.4 L589.8,-12.4Z" fill="#e4f800"/>
<path d="M112.0,556.7 C113.4,551.5 116.5,547.0 118.5,544.8 C120.5,542.6 121.9,542.1 123.9,543.7 C125.9,545.3 128.3,551.3 130.5,554.6 C132.6,557.8 134.4,563.3 137.0,563.3 C139.5,563.3 142.8,557.1 145.7,554.6 C148.6,552.0 151.7,549.3 154.4,548.0 C157.1,546.8 159.8,549.1 162.0,547.0 C164.2,544.8 165.4,538.4 167.4,535.0 C169.4,531.6 171.4,527.6 173.9,526.3 C176.5,525.0 180.5,524.9 182.6,527.4 C184.8,529.9 185.7,535.5 187.0,541.5 C188.2,547.5 189.3,557.1 190.2,563.3 C191.1,569.4 192.8,573.0 192.4,578.5 C192.1,583.9 189.7,590.4 188.1,595.9 C186.4,601.3 184.6,608.4 182.6,611.1 C180.6,613.8 178.3,613.6 176.1,612.2 C173.9,610.7 171.8,606.2 169.6,602.4 C167.4,598.6 165.4,590.8 163.1,589.3 C160.7,587.9 158.4,594.4 155.5,593.7 C152.6,593.0 148.8,587.0 145.7,585.0 C142.6,583.0 139.5,580.3 137.0,581.7 C134.4,583.2 132.6,589.9 130.5,593.7 C128.3,597.5 126.1,601.8 123.9,604.6 C121.8,607.3 119.2,611.1 117.4,610.0 C115.6,608.9 114.3,603.7 113.1,598.0 C111.8,592.4 110.0,583.2 109.8,576.3 C109.6,569.4 110.5,562.0 112.0,556.7Z" fill="#0020f4"/>
<path d="M115.2,574.1 C115.5,569.6 118.2,565.4 119.6,563.3 C120.9,561.1 122.0,560.0 123.3,561.1 C124.6,562.2 126.2,566.9 127.2,569.8 C128.2,572.7 129.6,575.4 129.4,578.5 C129.2,581.6 127.4,585.5 126.1,588.3 C124.8,591.0 123.1,594.4 121.8,594.8 C120.4,595.1 118.9,593.9 117.8,590.4 C116.8,587.0 114.9,578.7 115.2,574.1Z" fill="#2200d0"/>
<path d="M167.4,576.3 C167.4,570.1 169.4,560.7 170.7,554.6 C171.9,548.4 173.4,542.1 175.0,539.3 C176.7,536.6 178.8,536.4 180.5,538.3 C182.1,540.1 183.5,544.6 184.8,550.2 C186.1,555.8 188.1,565.1 188.1,572.0 C188.1,578.8 186.1,586.1 184.8,591.5 C183.5,597.0 182.1,602.7 180.5,604.6 C178.8,606.4 176.7,604.6 175.0,602.4 C173.4,600.2 171.9,595.9 170.7,591.5 C169.4,587.2 167.4,582.5 167.4,576.3Z" fill="#2200d0"/>
<path d="M169.6,575.2 C169.5,569.4 171.6,561.3 172.8,556.7 C174.1,552.2 175.6,548.0 177.2,548.0 C178.8,548.0 180.9,552.4 182.2,556.7 C183.5,561.1 184.8,568.3 184.8,574.1 C184.8,579.9 183.4,587.2 182.2,591.5 C181.0,595.9 179.3,600.2 177.8,600.2 C176.4,600.2 174.9,595.7 173.5,591.5 C172.1,587.4 169.7,581.0 169.6,575.2Z" fill="#3a00a8"/>
<path d="M172.2,575.2 C172.3,570.9 174.0,564.2 175.0,561.1 C176.0,558.0 177.2,556.0 178.3,556.7 C179.4,557.5 180.8,562.2 181.5,565.4 C182.3,568.7 182.8,572.3 182.6,576.3 C182.4,580.3 181.4,586.4 180.5,589.3 C179.6,592.2 178.2,594.1 177.2,593.7 C176.2,593.3 175.2,590.2 174.4,587.2 C173.5,584.1 172.1,579.6 172.2,575.2Z" fill="#440078"/>
<path d="M149.6,575.2 L153.3,572.0 L157.0,575.2 L153.3,578.9Z" fill="#3a00a8"/>
<path d="M239.2,472.0 C241.9,470.5 250.0,471.6 254.4,472.0 C258.7,472.3 262.3,472.0 265.2,474.1 C268.1,476.3 270.1,479.6 271.8,485.0 C273.4,490.4 274.5,498.8 275.0,506.7 C275.6,514.7 275.6,525.6 275.0,532.8 C274.5,540.1 273.4,545.1 271.8,550.2 C270.1,555.3 268.1,560.7 265.2,563.3 C262.3,565.8 258.0,565.4 254.4,565.4 C250.7,565.4 246.0,565.8 243.5,563.3 C241.0,560.7 240.2,555.3 239.2,550.2 C238.1,545.1 238.1,536.8 237.0,532.8 C235.9,528.8 233.5,528.8 232.6,526.3 C231.7,523.8 231.2,520.5 231.5,517.6 C231.9,514.7 233.7,512.2 234.8,508.9 C235.9,505.6 237.5,502.7 238.1,498.0 C238.6,493.3 237.9,485.0 238.1,480.6 C238.2,476.3 236.4,473.4 239.2,472.0Z" fill="#006cfc"/>
<path d="M241.3,478.5 C243.8,474.7 250.6,474.9 254.4,475.2 C258.2,475.6 261.6,476.8 264.2,480.6 C266.7,484.5 268.3,491.9 269.6,498.0 C270.9,504.2 271.8,510.7 271.8,517.6 C271.8,524.5 270.9,533.5 269.6,539.3 C268.3,545.1 266.7,549.5 264.2,552.4 C261.6,555.3 257.8,556.0 254.4,556.7 C250.9,557.5 245.9,559.6 243.5,556.7 C241.1,553.8 241.1,545.5 240.2,539.3 C239.3,533.2 238.2,526.7 238.1,519.8 C238.0,512.9 239.0,504.9 239.6,498.0 C240.1,491.2 238.9,482.3 241.3,478.5Z" fill="#0020f4"/>
<path d="M240.9,498.0 C241.4,491.5 242.5,486.4 243.5,485.0 C244.5,483.5 245.9,485.7 246.8,489.3 C247.7,493.0 248.7,500.2 248.9,506.7 C249.2,513.3 248.8,522.0 248.3,528.5 C247.7,535.0 246.7,543.7 245.7,545.9 C244.7,548.0 243.3,545.1 242.4,541.5 C241.5,537.9 240.7,531.4 240.5,524.1 C240.2,516.9 240.4,504.6 240.9,498.0Z" fill="#2200d0"/>
<path d="M251.8,506.7 C251.9,498.8 253.4,493.1 254.4,489.3 C255.3,485.5 256.5,482.5 257.6,483.9 C258.8,485.4 260.4,492.1 261.3,498.0 C262.2,504.0 263.1,512.9 263.1,519.8 C263.0,526.7 261.9,534.6 260.9,539.3 C259.9,544.1 258.2,548.4 257.0,548.0 C255.7,547.7 254.2,544.1 253.3,537.2 C252.4,530.3 251.6,514.7 251.8,506.7Z" fill="#2200d0"/>
<path d="M266.3,515.4 C266.5,508.9 267.3,498.0 267.8,493.7 C268.4,489.3 269.0,487.2 269.6,489.3 C270.2,491.5 271.0,500.2 271.3,506.7 C271.6,513.3 271.7,522.5 271.3,528.5 C271.0,534.5 269.9,541.9 269.2,542.6 C268.4,543.3 267.4,537.4 267.0,532.8 C266.5,528.3 266.2,522.0 266.3,515.4Z" fill="#2200d0"/>
<path d="M241.8,517.6 C241.9,512.5 242.8,502.0 243.5,500.2 C244.2,498.4 245.2,502.7 245.7,506.7 C246.2,510.7 246.7,519.1 246.5,524.1 C246.4,529.2 245.2,536.1 244.6,537.2 C243.9,538.3 243.1,533.9 242.6,530.6 C242.2,527.4 241.6,522.7 241.8,517.6Z" fill="#3a00a8"/>
<path d="M253.9,522.0 C253.9,516.2 255.0,508.2 255.7,504.6 C256.3,500.9 257.1,499.1 257.8,500.2 C258.6,501.3 259.5,506.7 260.0,511.1 C260.5,515.4 261.1,521.8 260.9,526.3 C260.7,530.8 259.5,536.1 258.7,538.3 C257.9,540.4 256.9,542.1 256.1,539.3 C255.3,536.6 254.0,527.7 253.9,522.0Z" fill="#3a00a8"/>
<path d="M255.2,523.0 L257.0,516.5 L259.2,523.0 L257.0,529.6Z" fill="#440078"/>
<path d="M-10.8,692.6 C-10.8,692.6 -2.9,694.6 0.0,692.6 C2.9,690.6 4.0,683.5 6.5,680.6 C9.1,677.7 12.0,676.5 15.2,675.2 C18.5,673.9 22.7,672.9 26.1,673.0 C29.6,673.2 33.9,674.3 35.9,676.3 C37.9,678.3 38.1,680.6 38.1,685.0 C38.1,689.3 36.6,695.9 35.9,702.4 C35.2,708.9 34.3,716.9 33.7,724.1 C33.2,731.4 32.8,738.6 32.6,745.9 C32.4,753.1 32.6,767.6 32.6,767.6 L-10.8,767.6 L-10.8,692.6Z" fill="#006cfc"/>
<path d="M-10.8,732.8 C-10.8,732.8 -3.2,733.4 0.0,732.8 C3.3,732.3 5.5,729.6 8.7,729.6 C12.0,729.6 16.7,730.8 19.6,732.8 C22.5,734.8 24.7,735.7 26.1,741.5 C27.6,747.3 28.3,767.6 28.3,767.6 L-10.8,767.6 L-10.8,732.8Z" fill="#0020f4"/>
<path d="M-10.8,739.3 C-10.8,739.3 -3.6,739.7 0.0,739.3 C3.6,739.0 7.6,736.4 10.9,737.2 C14.2,737.9 17.4,738.6 19.6,743.7 C21.8,748.8 23.9,767.6 23.9,767.6 L-10.8,767.6 L-10.8,739.3Z" fill="#2200d0"/>
<path d="M-10.8,745.9 C-10.8,745.9 -3.2,746.0 0.0,745.9 C3.3,745.7 6.2,744.1 8.7,744.8 C11.3,745.5 13.8,746.4 15.2,750.2 C16.7,754.0 17.4,767.6 17.4,767.6 L-10.8,767.6 L-10.8,745.9Z" fill="#3a00a8"/>
<path d="M-2.0,790.0 L-2.0,758.7 L577.1,758.7 L577.1,732.6 L583.7,732.6 L583.7,758.7 L635.8,758.7 L635.8,732.6 L702.7,732.6 L702.7,706.5 L736.9,706.5 L736.9,732.6 L740.2,732.6 L740.2,706.5 L785.0,706.5 L790.0,706.5 L790.0,790.0Z" fill="#fff"/>
<path d="M0.0,758.7 L577.1,758.7 L577.1,732.6 L583.7,732.6 L583.7,758.7 L635.8,758.7 L635.8,732.6 L702.7,732.6 L702.7,706.5 L736.9,706.5 L736.9,732.6 L740.2,732.6 L740.2,706.5 L785.0,706.5" fill="none" stroke="#000" stroke-width="1.0"/>
<path d="M-0.0,117.0 C5.6,116.5 22.7,115.0 33.9,114.1 C45.1,113.1 58.1,111.8 67.0,111.2 C76.0,110.6 80.1,109.2 87.7,110.3 C95.3,111.5 103.6,115.3 112.6,118.2 C121.6,121.1 130.5,124.8 141.6,127.7 C152.6,130.7 165.0,135.1 178.8,136.0 C192.6,137.0 210.6,133.3 224.4,133.5 C238.2,133.8 252.0,137.8 261.7,137.7 C271.3,137.5 273.4,133.5 282.4,132.7 C291.3,131.9 303.1,131.8 315.5,132.7 C327.9,133.6 343.1,138.4 356.9,138.1 C370.7,137.8 385.9,131.5 398.3,131.1 C410.7,130.6 419.7,134.9 431.4,135.2 C443.2,135.5 457.6,134.0 468.7,132.7 C479.7,131.5 489.4,129.6 497.7,127.7 C506.0,125.9 510.8,121.7 518.4,121.5 C526.0,121.3 535.6,124.5 543.2,126.5 C550.8,128.5 557.7,133.0 563.9,133.5 C570.1,134.1 575.7,129.3 580.5,129.8 C585.3,130.4 588.8,134.1 592.9,136.8 C597.1,139.6 600.5,145.1 605.3,146.4 C610.2,147.6 616.4,145.2 621.9,144.3 C627.4,143.4 633.6,141.2 638.5,141.0 C643.3,140.8 646.1,141.1 650.9,143.1 C655.7,145.0 660.5,149.8 667.4,152.6 C674.3,155.3 685.4,158.7 692.3,159.6 C699.2,160.6 701.3,158.0 708.9,158.4 C716.4,158.7 728.9,161.3 737.8,161.7 C746.8,162.1 754.9,160.7 762.7,160.9 C770.5,161.0 781.0,162.2 784.6,162.5" fill="none" stroke="#000" stroke-width="0.65" stroke-linejoin="round"/>
<path d="M-0.0,156.7 C4.9,157.2 20.0,160.2 29.8,159.6 C39.6,159.1 49.1,155.0 58.8,153.4 C68.4,151.8 78.1,149.4 87.7,150.1 C97.4,150.8 107.1,154.8 116.7,157.6 C126.4,160.3 135.4,164.2 145.7,166.7 C156.1,169.1 165.7,171.4 178.8,172.0 C191.9,172.7 210.6,170.0 224.4,170.8 C238.2,171.6 250.6,176.8 261.7,177.0 C272.7,177.2 280.3,172.5 290.6,172.0 C301.0,171.6 312.7,172.7 323.8,174.1 C334.8,175.6 345.8,180.1 356.9,180.7 C367.9,181.4 378.3,179.0 390.0,178.3 C401.7,177.5 415.6,177.2 427.3,176.2 C439.0,175.2 450.1,173.6 460.4,172.0 C470.8,170.5 480.4,168.2 489.4,166.7 C498.4,165.1 506.0,162.1 514.2,162.5 C522.5,162.9 530.8,167.4 539.1,169.1 C547.4,170.9 556.3,172.5 563.9,173.3 C571.5,174.1 579.1,172.3 584.6,174.1 C590.2,176.0 592.9,181.8 597.1,184.5 C601.2,187.1 604.0,189.6 609.5,189.9 C615.0,190.1 623.3,186.6 630.2,185.7 C637.1,184.8 644.0,182.6 650.9,184.5 C657.8,186.3 664.7,193.8 671.6,196.9 C678.5,200.0 686.1,202.6 692.3,203.1 C698.5,203.6 702.6,199.7 708.9,199.8 C715.1,199.9 722.7,203.7 729.6,203.9 C736.5,204.1 741.1,201.2 750.3,201.0 C759.4,200.9 778.9,202.8 784.6,203.1" fill="none" stroke="#000" stroke-width="0.65" stroke-linejoin="round"/>
<path d="M-0.0,197.3 C4.2,199.1 16.5,207.1 25.6,208.1 C34.7,209.0 44.3,204.5 54.6,203.1 C65.0,201.7 80.1,200.6 87.7,199.8 C95.3,199.0 93.3,197.4 100.2,198.1 C107.1,198.8 119.5,202.4 129.1,203.9 C138.8,205.4 147.8,207.2 158.1,207.2 C168.5,207.3 180.2,204.1 191.3,204.3 C202.3,204.6 212.7,207.0 224.4,208.5 C236.1,210.0 250.6,212.3 261.7,213.5 C272.7,214.6 280.3,214.8 290.6,215.5 C301.0,216.2 312.7,216.0 323.8,217.6 C334.8,219.2 345.8,224.0 356.9,225.0 C367.9,226.1 379.0,225.2 390.0,223.8 C401.1,222.4 412.8,219.2 423.1,216.8 C433.5,214.4 442.5,211.9 452.1,209.3 C461.8,206.7 472.1,203.3 481.1,201.0 C490.1,198.8 497.7,196.1 506.0,195.6 C514.2,195.2 522.5,196.2 530.8,198.1 C539.1,200.1 548.7,204.3 555.6,207.2 C562.5,210.1 567.4,212.1 572.2,215.5 C577.0,219.0 579.1,224.8 584.6,227.9 C590.2,231.1 598.4,234.5 605.3,234.2 C612.2,233.8 619.8,226.2 626.0,225.9 C632.3,225.5 637.1,231.4 642.6,232.1 C648.1,232.8 653.0,228.6 659.2,230.0 C665.4,231.4 673.7,238.3 679.9,240.4 C686.1,242.4 690.2,241.2 696.4,242.4 C702.6,243.7 710.2,246.4 717.1,247.8 C724.0,249.2 730.9,250.9 737.8,250.7 C744.7,250.5 750.7,247.5 758.5,246.6 C766.3,245.7 780.3,245.5 784.6,245.3" fill="none" stroke="#000" stroke-width="0.65" stroke-linejoin="round"/>
<path d="M-0.0,236.2 C4.2,239.5 16.5,253.5 25.6,256.1 C34.7,258.7 44.3,253.8 54.6,252.0 C65.0,250.2 77.4,246.9 87.7,245.3 C98.1,243.7 107.1,242.2 116.7,242.4 C126.4,242.6 136.0,246.1 145.7,246.6 C155.4,247.1 165.7,245.8 174.7,245.3 C183.7,244.9 191.3,243.0 199.5,243.7 C207.8,244.4 215.4,247.8 224.4,249.5 C233.4,251.1 243.7,251.7 253.4,253.6 C263.0,255.6 272.0,259.6 282.4,261.1 C292.7,262.5 303.1,260.4 315.5,262.3 C327.9,264.2 344.5,271.4 356.9,272.7 C369.3,274.0 379.0,272.0 390.0,270.2 C401.1,268.4 412.8,264.7 423.1,261.9 C433.5,259.1 442.5,256.4 452.1,253.6 C461.8,250.9 472.1,247.4 481.1,245.3 C490.1,243.3 497.7,241.2 506.0,241.2 C514.2,241.2 523.2,242.7 530.8,245.3 C538.4,248.0 544.6,254.4 551.5,256.9 C558.4,259.4 566.7,258.9 572.2,260.2 C577.7,261.6 580.5,262.7 584.6,265.2 C588.8,267.8 592.2,274.3 597.1,275.6 C601.9,276.8 608.1,273.6 613.6,272.7 C619.1,271.8 624.0,269.5 630.2,270.2 C636.4,270.9 644.0,274.7 650.9,276.8 C657.8,278.9 664.7,281.2 671.6,282.6 C678.5,284.0 685.4,283.8 692.3,285.1 C699.2,286.3 706.1,288.0 713.0,290.1 C719.9,292.1 726.1,296.8 733.7,297.5 C741.3,298.2 750.1,295.3 758.5,294.2 C767.0,293.1 780.3,291.4 784.6,290.9" fill="none" stroke="#000" stroke-width="0.65" stroke-linejoin="round"/>
<path d="M-0.0,292.1 C4.2,294.4 15.8,304.4 25.6,305.8 C35.4,307.2 47.7,302.3 58.8,300.4 C69.8,298.5 81.5,295.6 91.9,294.2 C102.2,292.8 111.2,291.8 120.9,292.1 C130.5,292.5 140.2,295.7 149.8,296.3 C159.5,296.8 170.6,295.8 178.8,295.4 C187.1,295.1 191.9,293.4 199.5,294.2 C207.1,295.0 216.1,298.7 224.4,300.4 C232.7,302.1 239.6,300.9 249.2,304.6 C258.9,308.2 271.3,320.1 282.4,322.4 C293.4,324.6 306.5,319.0 315.5,318.2 C324.5,317.4 329.3,316.4 336.2,317.4 C343.1,318.4 347.9,323.5 356.9,324.0 C365.9,324.5 379.0,322.5 390.0,320.3 C401.1,318.1 412.8,313.9 423.1,310.8 C433.5,307.7 442.5,304.3 452.1,301.7 C461.8,299.0 472.8,295.9 481.1,295.0 C489.4,294.1 494.9,294.3 501.8,296.3 C508.7,298.2 515.6,305.2 522.5,306.6 C529.4,308.1 536.3,303.6 543.2,305.0 C550.1,306.3 557.0,311.5 563.9,314.9 C570.8,318.3 578.8,323.9 584.6,325.3 C590.5,326.6 594.3,324.4 599.1,323.2 C604.0,322.0 607.1,319.7 613.6,318.2 C620.2,316.7 631.6,314.1 638.5,314.1 C645.4,314.1 649.5,317.7 655.0,318.2 C660.5,318.7 665.4,315.5 671.6,317.0 C677.8,318.5 685.4,323.9 692.3,327.3 C699.2,330.8 706.8,334.1 713.0,337.7 C719.2,341.3 723.3,347.7 729.6,348.9 C735.8,350.0 744.1,346.4 750.3,344.7 C756.5,343.1 761.1,340.6 766.8,338.9 C772.6,337.3 781.7,335.5 784.6,334.8" fill="none" stroke="#000" stroke-width="0.65" stroke-linejoin="round"/>
<path d="M-0.0,360.5 C4.2,359.8 16.5,357.8 25.6,356.3 C34.7,354.8 43.6,352.4 54.6,351.3 C65.7,350.3 80.8,350.8 91.9,350.1 C102.9,349.4 111.2,346.7 120.9,347.2 C130.5,347.7 140.9,351.8 149.8,353.0 C158.8,354.2 166.4,354.4 174.7,354.2 C183.0,354.1 191.3,351.8 199.5,352.2 C207.8,352.5 216.1,354.9 224.4,356.3 C232.7,357.7 240.3,356.8 249.2,360.5 C258.2,364.1 268.6,376.2 278.2,378.3 C287.9,380.3 297.5,374.6 307.2,372.9 C316.9,371.1 327.9,367.9 336.2,367.9 C344.5,367.9 348.6,373.1 356.9,372.9 C365.2,372.7 376.2,369.4 385.9,366.7 C395.5,363.9 405.9,360.0 414.9,356.3 C423.8,352.7 432.8,346.0 439.7,344.7 C446.6,343.5 449.4,347.8 456.3,348.9 C463.2,350.0 472.8,349.5 481.1,351.3 C489.4,353.1 498.4,358.0 506.0,359.6 C513.5,361.3 521.1,360.5 526.7,361.3 C532.2,362.1 539.1,364.6 539.1,364.6 C539.1,364.6 541.7,376.3 542.4,389.4 C543.1,402.5 542.4,430.8 543.2,443.3 C544.1,455.7 545.3,461.9 547.4,464.0 C549.4,466.0 552.5,452.6 555.6,455.7 C558.8,458.8 563.2,481.2 566.0,482.6 C568.8,484.0 570.1,474.0 572.2,464.0 C574.3,454.0 576.4,435.0 578.4,422.6 C580.5,410.1 582.2,397.0 584.6,389.4 C587.0,381.8 589.5,380.5 592.9,377.0 C596.4,373.6 600.5,370.8 605.3,368.7 C610.2,366.7 616.4,366.1 621.9,364.6 C627.4,363.1 632.9,359.1 638.5,359.6 C644.0,360.2 649.5,365.0 655.0,367.9 C660.5,370.8 665.4,376.2 671.6,377.0 C677.8,377.8 686.1,371.8 692.3,372.9 C698.5,373.9 704.0,378.4 708.9,383.2 C713.7,388.1 718.2,396.8 721.3,401.9 C724.4,406.9 724.7,413.5 727.5,413.5 C730.3,413.5 734.0,404.1 737.8,401.9 C741.6,399.6 745.4,402.2 750.3,399.8 C755.1,397.4 761.1,390.5 766.8,387.4 C772.6,384.3 781.7,382.2 784.6,381.2" fill="none" stroke="#000" stroke-width="0.65" stroke-linejoin="round"/>
<path d="M-0.0,415.5 C4.2,414.8 16.5,411.5 25.6,411.0 C34.7,410.4 44.3,411.1 54.6,412.2 C65.0,413.3 78.8,415.0 87.7,417.6 C96.7,420.1 102.2,424.4 108.4,427.5 C114.7,430.6 118.1,436.0 125.0,436.2 C131.9,436.4 141.6,431.9 149.8,428.8 C158.1,425.7 166.4,420.0 174.7,417.6 C183.0,415.2 191.3,413.5 199.5,414.3 C207.8,415.1 216.1,421.9 224.4,422.6 C232.7,423.3 240.3,418.6 249.2,418.4 C258.2,418.3 268.6,422.4 278.2,421.7 C287.9,421.0 297.5,416.8 307.2,414.3 C316.9,411.8 327.9,407.8 336.2,406.8 C344.5,405.9 350.7,407.8 356.9,408.7 C363.1,409.6 367.9,410.1 373.5,412.0 C379.0,413.9 385.5,416.1 390.0,420.3 C394.5,424.4 398.0,430.6 400.4,436.8 C402.8,443.1 404.2,447.9 404.5,457.6 C404.9,467.2 403.6,483.8 402.4,494.8 C401.3,505.9 399.2,516.9 397.5,523.8 C395.7,530.7 393.9,532.8 392.1,536.2 C390.3,539.7 389.8,540.1 386.7,544.5 C383.6,548.9 377.9,557.8 373.5,562.7 C369.0,567.7 364.6,569.6 360.2,574.3 C355.8,579.0 351.6,587.6 347.0,590.9 C342.3,594.2 339.8,591.7 332.0,594.2 C324.3,596.7 311.3,602.5 300.6,605.8 C289.8,609.1 276.8,611.6 267.4,614.1 C258.1,616.6 251.4,619.3 244.3,620.7 C237.1,622.1 231.8,620.1 224.4,622.4 C216.9,624.6 206.4,630.1 199.5,634.0 C192.6,637.8 187.7,643.1 183.0,645.5 C178.3,648.0 175.5,649.1 171.4,648.9 C167.2,648.6 162.5,645.1 158.1,643.9 C153.7,642.6 149.8,641.0 144.9,641.4 C139.9,641.8 133.3,644.7 128.3,646.4 C123.3,648.0 119.8,651.5 115.1,651.3 C110.4,651.2 104.6,646.0 100.2,645.5 C95.7,645.1 92.2,646.4 88.6,648.9 C85.0,651.3 81.7,657.1 78.6,660.5 C75.6,663.8 73.4,668.0 70.3,668.7 C67.3,669.4 63.2,665.6 60.4,664.6 C57.6,663.6 56.8,662.2 53.8,662.9 C50.7,663.6 45.8,666.9 42.2,668.7 C38.6,670.5 35.6,673.1 32.3,673.7 C28.9,674.3 26.2,673.7 22.3,672.0 C18.4,670.4 12.8,665.6 9.1,663.8 C5.3,662.0 1.5,661.7 -0.0,661.3" fill="none" stroke="#000" stroke-width="0.65" stroke-linejoin="round"/>
<path d="M396.2,573.5 C395.5,582.5 396.9,595.8 398.3,602.5 C399.7,609.2 401.7,611.6 404.5,613.7 C407.3,615.7 410.4,615.4 414.9,614.9 C419.3,614.4 425.9,613.5 431.4,610.8 C436.9,608.0 442.5,602.5 448.0,598.3 C453.5,594.2 459.0,590.1 464.5,585.9 C470.1,581.8 476.3,578.3 481.1,573.5 C485.9,568.7 489.7,563.8 493.5,556.9 C497.3,550.0 501.1,537.7 503.9,532.1 C506.6,526.4 508.2,525.7 510.1,523.0 C512.0,520.2 513.0,516.8 515.1,515.5 C517.1,514.3 520.8,514.3 522.5,515.5 C524.2,516.8 526.0,520.9 525.4,523.0 C524.9,525.0 521.4,527.8 519.2,527.9 C517.0,528.1 514.7,526.6 512.2,523.8 C509.6,521.0 506.6,515.9 503.9,511.4 C501.1,506.9 498.4,502.8 495.6,496.9 C492.8,491.0 490.4,482.4 487.3,476.2 C484.2,470.0 480.1,460.0 477.0,459.6 C473.9,459.3 471.5,468.2 468.7,474.1 C465.9,480.0 463.2,488.6 460.4,494.8 C457.6,501.0 454.9,509.0 452.1,511.4 C449.4,513.8 447.3,511.4 443.8,509.3 C440.4,507.2 434.5,499.0 431.4,499.0 C428.3,499.0 427.3,505.2 425.2,509.3 C423.1,513.5 421.4,520.4 419.0,523.8 C416.6,527.3 413.5,525.9 410.7,530.0 C408.0,534.2 404.9,541.4 402.4,548.6 C400.0,555.9 396.9,564.5 396.2,573.5Z" fill="none" stroke="#000" stroke-width="0.65" stroke-linejoin="round"/>
<path d="M19.8,555.3 C21.2,550.4 21.1,547.7 25.6,545.3 C30.2,543.0 41.6,542.9 47.2,541.2 C52.7,539.5 54.6,537.5 58.8,535.4 C62.9,533.3 68.0,529.2 72.0,528.8 C76.0,528.4 80.0,531.7 82.8,532.9 C85.5,534.2 86.5,536.6 88.6,536.2 C90.6,535.8 92.4,534.2 95.2,530.4 C98.0,526.7 101.8,517.2 105.1,513.9 C108.4,510.6 112.0,511.4 115.1,510.6 C118.1,509.7 118.9,511.1 123.3,508.9 C127.8,506.7 135.8,500.2 141.6,497.3 C147.4,494.4 153.2,493.7 158.1,491.5 C163.1,489.3 167.2,486.5 171.4,484.1 C175.5,481.6 177.2,477.0 183.0,476.6 C188.8,476.2 199.3,481.2 206.2,481.6 C213.1,482.0 217.8,480.3 224.4,479.1 C231.0,477.8 239.3,475.8 245.9,474.1 C252.5,472.5 259.4,470.7 264.1,469.1 C268.8,467.6 270.8,466.9 274.1,465.0 C277.4,463.1 280.4,457.7 284.0,457.6 C287.6,457.4 290.8,462.2 295.6,464.2 C300.4,466.1 307.9,468.9 312.6,469.1 C317.3,469.4 320.5,468.5 323.8,465.8 C327.0,463.2 329.3,457.0 332.0,453.4 C334.8,449.8 336.9,446.0 340.3,444.3 C343.8,442.6 348.6,442.6 352.7,443.1 C356.9,443.5 361.0,444.8 365.2,447.2 C369.3,449.6 374.5,453.1 377.6,457.6 C380.7,462.0 382.4,467.9 383.8,474.1 C385.2,480.3 386.2,487.9 385.9,494.8 C385.5,501.7 384.1,509.0 381.7,515.5 C379.3,522.1 375.5,528.6 371.4,534.2 C367.2,539.7 361.4,545.9 356.9,548.6 C352.4,551.4 348.6,551.1 344.5,550.7 C340.3,550.4 336.2,548.4 332.0,546.6 C327.9,544.7 322.9,540.2 319.6,539.5 C316.4,538.9 316.0,540.9 312.6,542.9 C309.1,544.8 304.0,547.0 298.9,551.1 C293.9,555.3 289.3,562.5 282.4,567.7 C275.5,572.9 264.4,579.0 257.5,582.6 C250.6,586.2 247.8,587.6 240.9,589.2 C234.0,590.9 224.4,590.1 216.1,592.5 C207.8,595.0 198.2,601.0 191.3,604.1 C184.4,607.3 180.2,611.2 174.7,611.6 C169.2,612.0 164.2,607.6 158.1,606.6 C152.1,605.7 143.8,605.2 138.3,605.8 C132.7,606.3 128.9,608.8 125.0,609.9 C121.1,611.0 118.4,613.4 115.1,612.4 C111.8,611.5 108.4,606.5 105.1,604.1 C101.8,601.8 98.0,599.2 95.2,598.3 C92.4,597.5 91.3,597.1 88.6,599.2 C85.8,601.2 81.8,606.8 78.6,610.8 C75.5,614.8 72.0,622.1 69.5,623.2 C67.0,624.3 65.8,619.3 63.7,617.4 C61.7,615.5 59.3,611.9 57.1,611.6 C54.9,611.3 52.4,613.1 50.5,615.7 C48.5,618.4 48.0,624.7 45.5,627.3 C43.0,629.9 39.3,631.5 35.6,631.5 C31.8,631.5 25.9,632.7 23.1,627.3 C20.4,621.9 20.0,608.0 19.0,599.2 C18.0,590.3 17.2,581.6 17.3,574.3 C17.5,567.0 18.4,560.1 19.8,555.3Z" fill="none" stroke="#000" stroke-width="0.65" stroke-linejoin="round"/>
<path d="M-0.0,695.2 C2.0,695.1 7.5,695.1 12.4,694.4 C17.2,693.7 24.0,691.1 28.9,691.1 C33.9,691.1 37.2,693.0 42.2,694.4 C47.2,695.8 54.3,698.8 58.8,699.4 C63.2,699.9 64.3,697.2 68.7,697.7 C73.1,698.3 78.6,701.3 85.3,702.7 C91.9,704.1 99.1,705.0 108.4,706.0 C117.8,707.0 130.5,708.0 141.6,708.5 C152.6,709.0 163.7,708.9 174.7,708.9 C185.7,708.9 196.8,708.5 207.8,708.5 C218.9,708.5 229.9,709.5 240.9,708.9 C252.0,708.3 264.1,706.6 274.1,705.2 C284.0,703.7 292.0,701.6 300.6,700.2 C309.1,698.8 317.1,699.4 325.4,696.9 C333.7,694.4 342.0,689.2 350.3,685.3 C358.5,681.4 366.8,676.7 375.1,673.7 C383.4,670.7 391.7,669.8 400.0,667.1 C408.2,664.3 416.5,660.5 424.8,657.1 C433.1,653.8 441.4,650.8 449.6,647.2 C457.9,643.6 466.2,640.6 474.5,635.6 C482.8,630.6 491.1,623.5 499.3,617.4 C507.6,611.3 515.9,605.2 524.2,599.2 C532.5,593.1 542.1,584.3 549.0,580.9 C555.9,577.6 560.9,581.8 565.6,579.3 C570.3,576.8 574.1,571.8 577.2,566.0 C580.2,560.2 582.0,551.5 583.8,544.5 C585.6,537.5 586.8,531.4 587.9,523.8 C589.0,516.2 589.7,507.2 590.4,499.0 C591.1,490.7 591.5,483.1 592.1,474.1 C592.6,465.1 592.8,451.3 593.7,445.1 C594.7,438.9 596.0,439.3 597.9,436.8 C599.8,434.4 602.0,432.4 605.3,430.6 C608.6,428.9 612.2,428.2 617.8,426.5 C623.3,424.8 632.3,423.0 638.5,420.3 C644.7,417.5 650.9,411.9 655.0,409.9 C659.2,408.0 661.2,407.7 663.3,408.7 C665.4,409.7 667.1,412.1 667.4,416.1 C667.8,420.1 666.1,424.4 665.4,432.7 C664.7,441.0 663.5,455.1 663.3,465.8 C663.1,476.5 663.4,493.4 664.1,496.9 C664.8,500.3 666.3,493.8 667.4,486.5 C668.6,479.3 669.7,463.1 670.8,453.4 C671.8,443.7 672.7,431.3 673.7,428.6 C674.6,425.8 675.4,433.7 676.6,436.8 C677.7,440.0 679.3,447.2 680.7,447.2 C682.1,447.2 683.5,441.7 684.8,436.8 C686.2,432.0 687.4,421.7 689.0,418.2 C690.6,414.8 692.8,413.7 694.4,416.1 C696.0,418.6 696.8,424.4 698.5,432.7 C700.2,441.0 702.3,455.5 704.7,465.8 C707.1,476.2 710.2,487.9 713.0,494.8 C715.8,501.7 717.1,507.2 721.3,507.2 C725.4,507.2 732.3,500.3 737.8,494.8 C743.4,489.3 748.9,481.0 754.4,474.1 C759.9,467.2 765.9,457.9 771.0,453.4 C776.0,448.9 782.4,448.2 784.6,447.2" fill="none" stroke="#000" stroke-width="0.65" stroke-linejoin="round"/>
<path d="M-0.0,726.7 C7.0,727.4 26.9,729.5 42.2,730.8 C57.5,732.2 75.3,733.5 91.9,735.0 C108.4,736.5 127.8,738.7 141.6,740.0 C155.4,741.2 160.9,741.7 174.7,742.4 C188.5,743.1 207.8,743.3 224.4,744.1 C240.9,744.9 261.4,746.9 274.1,747.4 C286.8,748.0 290.6,747.5 300.6,747.4 C310.5,747.3 324.0,748.6 333.7,746.6 C343.4,744.5 351.6,738.6 358.5,735.0 C365.4,731.4 369.9,727.7 375.1,725.0 C380.4,722.4 386.2,719.3 390.0,719.3 C393.9,719.3 396.2,721.6 398.3,725.0 C400.4,728.5 401.6,734.4 402.4,740.0 C403.3,745.5 403.1,755.1 403.3,758.2" fill="none" stroke="#000" stroke-width="0.65" stroke-linejoin="round"/>
<path d="M784.6,515.5 C782.4,516.9 775.3,519.7 771.0,523.8 C766.6,527.9 762.7,534.2 758.5,540.4 C754.4,546.6 751.0,556.2 746.1,561.1 C741.3,565.9 734.4,567.3 729.6,569.4 C724.7,571.4 721.3,573.8 717.1,573.5 C713.0,573.1 708.9,568.0 704.7,567.3 C700.6,566.6 696.3,571.1 692.3,569.4 C688.3,567.6 684.1,556.9 680.7,556.9 C677.2,556.9 675.9,564.5 671.6,569.4 C667.3,574.2 661.2,581.8 655.0,585.9 C648.8,590.1 641.2,592.1 634.3,594.2 C627.4,596.3 619.8,596.3 613.6,598.3 C607.4,600.4 601.6,603.6 597.1,606.6 C592.5,609.7 591.8,612.6 586.3,616.6 C580.8,620.6 570.1,628.7 563.9,630.6 C557.7,632.6 555.6,625.9 549.0,628.2 C542.4,630.4 532.5,639.1 524.2,643.9 C515.9,648.7 507.6,652.2 499.3,657.1 C491.1,662.1 482.8,668.7 474.5,673.7 C466.2,678.7 457.6,682.7 449.6,687.0 C441.6,691.2 432.0,697.2 426.5,699.4 C420.9,701.6 419.6,699.0 416.5,700.2 C413.5,701.4 409.8,703.1 408.2,706.8 C406.7,710.6 407.3,717.9 407.4,722.6 C407.5,727.3 407.8,730.4 409.1,735.0 C410.3,739.5 412.5,749.2 414.9,749.9 C417.2,750.6 421.1,741.6 423.1,739.1 C425.2,736.6 425.6,734.0 427.3,735.0 C428.9,736.0 431.0,741.9 433.1,744.9 C435.2,748.0 436.9,752.7 439.7,753.2 C442.5,753.8 445.8,750.0 449.6,748.2 C453.5,746.4 458.8,743.1 462.9,742.4 C467.0,741.7 471.2,743.1 474.5,744.1 C477.8,745.1 479.2,747.7 482.8,748.2 C486.4,748.8 491.9,748.8 496.0,747.4 C500.2,746.0 503.7,741.5 507.6,740.0 C511.5,738.4 515.1,739.7 519.2,738.3 C523.3,736.9 527.5,735.5 532.5,731.7 C537.4,727.8 544.6,720.6 549.0,715.1 C553.4,709.6 555.9,702.4 559.0,698.5 C562.0,694.7 564.2,692.2 567.2,691.9 C570.3,691.6 573.8,697.2 577.2,696.9 C580.6,696.6 583.5,689.1 587.5,690.3 C591.5,691.4 596.8,704.1 601.2,703.9 C605.5,703.8 608.1,692.9 613.6,689.4 C619.1,686.0 628.8,685.3 634.3,683.2 C639.8,681.2 641.9,681.5 646.7,677.0 C651.6,672.5 657.8,661.8 663.3,656.3 C668.8,650.8 675.0,647.0 679.9,643.9 C684.7,640.8 688.2,640.1 692.3,637.7 C696.4,635.3 700.9,631.8 704.7,629.4 C708.5,627.0 712.7,626.3 715.1,623.2 C717.5,620.1 717.5,610.1 719.2,610.8 C720.9,611.5 723.0,624.0 725.4,627.3 C727.8,630.6 731.1,630.3 733.7,630.6 C736.3,631.0 739.2,631.7 741.2,629.4 C743.1,627.1 743.8,617.0 745.3,617.0 C746.8,617.0 748.1,626.6 750.3,629.4 C752.5,632.2 755.1,632.4 758.5,633.5 C762.0,634.7 766.6,636.4 771.0,636.4 C775.3,636.4 782.4,634.0 784.6,633.5" fill="none" stroke="#000" stroke-width="0.65" stroke-linejoin="round"/>
<path d="M784.6,650.1 C782.4,651.1 775.3,656.3 771.0,656.3 C766.6,656.3 764.1,650.1 758.5,650.1 C753.0,650.1 744.1,656.1 737.8,656.3 C731.6,656.5 726.8,651.3 721.3,651.3 C715.8,651.3 709.5,654.1 704.7,656.3 C699.9,658.5 696.4,662.5 692.3,664.6 C688.2,666.7 684.0,664.6 679.9,668.7 C675.7,672.9 671.6,684.3 667.4,689.4 C663.3,694.6 659.9,697.7 655.0,699.8 C650.2,701.9 643.3,698.8 638.5,701.9 C633.6,705.0 630.2,715.0 626.0,718.4 C621.9,721.9 617.1,722.2 613.6,722.6 C610.2,722.9 608.8,718.4 605.3,720.5 C601.9,722.6 597.1,734.6 592.9,735.0 C588.8,735.3 584.6,725.0 580.5,722.6 C576.4,720.1 571.9,719.1 568.1,720.5 C564.3,721.9 560.1,724.6 557.7,730.8 C555.3,737.1 554.3,753.6 553.6,758.2" fill="none" stroke="#000" stroke-width="0.65" stroke-linejoin="round"/>
<path d="M784.6,667.9 C782.4,668.7 776.0,672.9 771.0,672.9 C765.9,672.9 759.9,668.5 754.4,667.9 C748.9,667.4 743.4,669.8 737.8,669.6 C732.3,669.4 726.8,666.1 721.3,666.7 C715.8,667.2 708.9,669.1 704.7,672.9 C700.6,676.7 698.4,683.8 696.4,689.4 C694.5,695.1 691.9,701.7 693.1,706.8 C694.3,712.0 701.7,718.2 703.5,720.5" fill="none" stroke="#000" stroke-width="0.65" stroke-linejoin="round"/>
<path d="M784.6,683.2 C782.4,684.8 775.3,690.7 771.0,692.7 C766.6,694.8 762.7,696.5 758.5,695.6 C754.4,694.8 751.0,689.0 746.1,687.4 C741.3,685.8 735.1,685.8 729.6,686.1 C724.0,686.5 717.3,687.5 713.0,689.4 C708.6,691.4 705.1,696.3 703.5,697.7" fill="none" stroke="#000" stroke-width="0.65" stroke-linejoin="round"/>
<path d="M408.2,758.2 C408.2,752.2 407.8,730.6 407.8,722.6 C407.8,714.6 408.2,712.2 408.2,710.1" fill="none" stroke="#000" stroke-width="0.65" stroke-linejoin="round"/>
<path d="M-0.0,754.0 C2.9,754.2 11.7,754.8 17.3,755.3 C23.0,755.8 27.8,756.3 33.9,756.9 C40.0,757.6 50.5,758.7 53.8,759.0" fill="none" stroke="#000" stroke-width="2.60" stroke-linejoin="round"/>
<path d="M178.8,567.3 L183.4,571.4 L184.6,576.8 L178.8,578.5 L173.5,576.4 L175.5,571.0Z" fill="none" stroke="#000" stroke-width="2.20" stroke-linejoin="round"/>
<path d="M635.6,649.3 L638.5,653.0 L635.6,657.1 L632.7,653.0Z" fill="none" stroke="#000" stroke-width="1.80" stroke-linejoin="round"/>
<g transform="translate(554.5,131.8) rotate(25.0)">
<rect x="-22.0" y="-13.0" width="44.0" height="26.0" fill="#fff"/>
<text x="0" y="7.5" font-family="Liberation Sans, Arial, Helvetica, sans-serif" font-size="21" text-anchor="middle">-16</text>
</g>
<g transform="translate(541.1,210.2) rotate(-3.0)">
<rect x="-20.0" y="-13.0" width="40.0" height="26.0" fill="#fff"/>
<text x="0" y="7.5" font-family="Liberation Sans, Arial, Helvetica, sans-serif" font-size="21" text-anchor="middle">-12</text>
</g>
<g transform="translate(583.9,321.3) rotate(-35.0)">
<rect x="-15.0" y="-13.0" width="30.0" height="26.0" fill="#fff"/>
<text x="0" y="7.5" font-family="Liberation Sans, Arial, Helvetica, sans-serif" font-size="21" text-anchor="middle">-8</text>
</g>
<g transform="translate(353.3,582.5) rotate(-55.0)">
<rect x="-15.0" y="-13.0" width="30.0" height="26.0" fill="#fff"/>
<text x="0" y="7.5" font-family="Liberation Sans, Arial, Helvetica, sans-serif" font-size="21" text-anchor="middle">-4</text>
</g>
<g transform="translate(544.1,582.5) rotate(-32.0)">
<rect x="-15.0" y="-13.0" width="30.0" height="26.0" fill="#fff"/>
<text x="0" y="7.5" font-family="Liberation Sans, Arial, Helvetica, sans-serif" font-size="21" text-anchor="middle">-4</text>
</g>
</g>
</g>
<rect x="1391.5" y="238.7" width="785.0" height="785.0" fill="none" stroke="#000" stroke-width="1.3"/>
<line x1="1370.0" y1="1023.7" x2="1397.0" y2="1023.7" stroke="#000" stroke-width="1.5"/>
<text x="1352.0" y="1033.7" font-family="Liberation Sans, Arial, Helvetica, sans-serif" font-size="28" text-anchor="end">0.0</text>
<line x1="1370.0" y1="892.9" x2="1397.0" y2="892.9" stroke="#000" stroke-width="1.5"/>
<text x="1352.0" y="902.9" font-family="Liberation Sans, Arial, Helvetica, sans-serif" font-size="28" text-anchor="end">1.0</text>
<line x1="1370.0" y1="762.0" x2="1397.0" y2="762.0" stroke="#000" stroke-width="1.5"/>
<text x="1352.0" y="772.0" font-family="Liberation Sans, Arial, Helvetica, sans-serif" font-size="28" text-anchor="end">2.0</text>
<line x1="1370.0" y1="631.2" x2="1397.0" y2="631.2" stroke="#000" stroke-width="1.5"/>
<text x="1352.0" y="641.2" font-family="Liberation Sans, Arial, Helvetica, sans-serif" font-size="28" text-anchor="end">3.0</text>
<line x1="1370.0" y1="500.4" x2="1397.0" y2="500.4" stroke="#000" stroke-width="1.5"/>
<text x="1352.0" y="510.4" font-family="Liberation Sans, Arial, Helvetica, sans-serif" font-size="28" text-anchor="end">4.0</text>
<line x1="1370.0" y1="369.5" x2="1397.0" y2="369.5" stroke="#000" stroke-width="1.5"/>
<text x="1352.0" y="379.5" font-family="Liberation Sans, Arial, Helvetica, sans-serif" font-size="28" text-anchor="end">5.0</text>
<line x1="1370.0" y1="238.7" x2="1397.0" y2="238.7" stroke="#000" stroke-width="1.5"/>
<text x="1352.0" y="248.7" font-family="Liberation Sans, Arial, Helvetica, sans-serif" font-size="28" text-anchor="end">6.0</text>
<line x1="1391.5" y1="1018.2" x2="1391.5" y2="1045.2" stroke="#000" stroke-width="1.5"/>
<text x="1391.5" y="1084.2" font-family="Liberation Sans, Arial, Helvetica, sans-serif" font-size="28" text-anchor="middle">39.5</text>
<line x1="1653.2" y1="1018.2" x2="1653.2" y2="1045.2" stroke="#000" stroke-width="1.5"/>
<text x="1653.2" y="1084.2" font-family="Liberation Sans, Arial, Helvetica, sans-serif" font-size="28" text-anchor="middle">40.3</text>
<line x1="1914.8" y1="1018.2" x2="1914.8" y2="1045.2" stroke="#000" stroke-width="1.5"/>
<text x="1914.8" y="1084.2" font-family="Liberation Sans, Arial, Helvetica, sans-serif" font-size="28" text-anchor="middle">41.2</text>
<line x1="2176.5" y1="1018.2" x2="2176.5" y2="1045.2" stroke="#000" stroke-width="1.5"/>
<text x="2176.5" y="1084.2" font-family="Liberation Sans, Arial, Helvetica, sans-serif" font-size="28" text-anchor="middle">42.1</text>
<text x="1784.0" y="1135.7" font-family="Liberation Sans, Arial, Helvetica, sans-serif" font-size="37" text-anchor="middle">latitude</text>
<text transform="translate(1285.5,631.2) rotate(-90)" font-family="Liberation Sans, Arial, Helvetica, sans-serif" font-size="36" text-anchor="middle">Height (km)</text>
<text x="1388.9" y="217.7" font-family="Liberation Sans, Arial, Helvetica, sans-serif" font-size="28.9">Radar Reflectivity of Snow</text>
<text x="2178.5" y="223.0" font-family="Liberation Sans, Arial, Helvetica, sans-serif" font-size="28.5" text-anchor="end">dBZ</text>
<clipPath id="cp2"><rect x="432.5" y="1272.8" width="785.0" height="785.0"/></clipPath>
<g clip-path="url(#cp2)">
<g transform="translate(432.5,1272.8)">
<path d="M252.2,-12.5 C252.2,-12.5 253.6,-5.8 252.2,-0.1 C250.8,5.5 247.9,11.1 245.2,15.8 C242.5,20.5 240.5,21.4 238.7,23.4 C236.9,25.3 236.1,23.8 236.1,25.5 C236.1,27.3 237.5,28.8 238.7,32.1 C239.9,35.3 240.9,36.9 242.0,41.9 C243.1,46.9 243.3,49.7 244.2,57.1 C245.0,64.5 245.2,69.2 246.3,78.8 C247.4,88.4 248.3,95.3 249.6,104.9 C250.9,114.5 250.9,119.7 252.8,126.6 C254.8,133.6 257.0,134.5 259.4,139.7 C261.8,144.9 262.6,147.1 264.8,152.7 C267.0,158.4 268.3,161.0 270.2,167.9 C272.2,174.9 272.6,179.2 274.6,187.5 C276.5,195.8 278.1,201.9 280.0,209.2 C282.0,216.6 282.7,219.2 284.4,224.5 C286.0,229.7 287.4,228.8 288.3,235.3 C289.2,241.9 289.3,250.8 288.7,257.1 C288.2,263.4 287.2,262.9 285.5,266.9 C283.7,270.8 282.4,272.1 280.0,276.6 C277.6,281.2 275.9,284.5 273.5,289.7 C271.1,294.9 270.2,297.9 268.1,302.7 C265.9,307.5 264.4,308.8 262.6,313.6 C260.9,318.4 260.5,320.5 259.4,326.6 C258.3,332.7 257.8,336.2 257.2,344.0 C256.5,351.9 256.4,357.1 256.1,365.8 C255.8,374.5 255.8,377.4 255.7,387.5 C255.6,397.6 255.6,409.8 255.7,416.2 C255.7,422.6 255.9,412.5 255.9,419.7 C255.8,426.9 255.8,442.3 255.5,452.3 C255.2,462.3 254.4,469.7 254.4,469.7 C254.4,469.7 250.0,476.2 247.8,477.3 C245.7,478.4 245.0,473.6 243.5,475.1 C242.0,476.6 242.0,481.6 240.2,484.9 C238.5,488.2 236.5,487.1 234.8,491.4 C233.1,495.8 232.6,500.1 231.5,506.6 C230.5,513.2 230.9,519.9 229.4,524.0 C227.8,528.2 227.6,525.5 223.9,527.3 C220.2,529.0 215.2,530.5 210.9,532.7 C206.5,534.9 205.2,535.5 202.2,538.2 C199.2,540.8 197.8,542.1 195.7,545.8 C193.5,549.5 192.8,551.9 191.3,556.6 C189.8,561.4 189.4,567.9 188.1,569.7 C186.8,571.4 185.9,568.8 184.8,565.3 C183.7,561.9 183.9,554.9 182.6,552.3 C181.3,549.7 179.8,551.4 178.3,552.3 C176.8,553.2 176.1,550.1 175.0,556.6 C173.9,563.2 174.4,580.1 172.8,584.9 C171.3,589.7 169.6,581.9 167.4,580.5 C165.2,579.2 164.2,578.2 162.0,578.4 C159.8,578.6 159.8,579.7 156.5,581.6 C153.3,583.6 149.6,586.0 145.7,588.2 C141.8,590.3 140.0,591.6 137.0,592.5 C133.9,593.4 132.6,591.0 130.5,592.5 C128.3,594.0 128.3,596.6 126.1,600.1 C123.9,603.6 122.4,606.9 119.6,609.9 C116.8,612.9 115.0,612.1 112.0,615.3 C108.9,618.6 107.6,621.4 104.4,626.2 C101.1,631.0 99.2,634.5 95.7,639.2 C92.2,644.0 90.5,645.3 87.0,650.1 C83.5,654.9 82.2,657.9 78.3,663.2 C74.4,668.4 71.8,671.9 67.4,676.2 C63.1,680.5 60.7,681.9 56.5,684.9 C52.4,687.9 50.7,690.1 46.8,691.4 C42.8,692.7 40.7,692.5 37.0,691.4 C33.3,690.3 31.8,689.0 28.3,686.0 C24.8,682.9 22.8,680.8 19.6,676.2 C16.3,671.6 14.8,667.5 12.0,663.2 C9.2,658.8 7.8,657.0 5.5,654.5 C3.1,651.9 5.0,651.9 0.0,650.5 C-5.0,649.2 -19.5,647.9 -19.5,647.9 L-50.0,650.0 L-50.0,900.0 L900.0,900.0 L900.0,-50.0 L252.2,-12.5Z" fill="#2e0040"/>
<path d="M388.7,-10.3 C388.7,-10.3 388.3,-4.9 388.7,-0.1 C389.2,4.7 389.8,7.4 390.9,13.6 C392.0,19.8 392.8,24.2 394.2,31.0 C395.5,37.7 395.9,43.8 397.4,47.3 C398.9,50.8 400.0,49.5 401.8,48.4 C403.5,47.3 404.2,44.9 406.1,41.9 C408.1,38.8 408.9,36.6 411.5,33.2 C414.2,29.7 416.3,28.4 419.2,24.5 C422.0,20.5 423.5,18.5 425.7,13.6 C427.8,8.7 429.2,4.7 430.0,-0.1 C430.9,-4.9 430.0,-10.3 430.0,-10.3 L388.7,-10.3Z" fill="#ffffff"/>
<path d="M449.6,-12.5 C449.6,-12.5 450.2,-7.5 449.6,-0.1 C448.9,7.3 447.8,14.3 446.3,24.5 C444.8,34.6 443.9,42.3 442.0,50.5 C440.0,58.8 439.2,59.7 436.5,65.8 C433.9,71.9 432.0,74.9 428.9,81.0 C425.9,87.1 424.2,89.7 421.3,96.2 C418.5,102.7 417.2,105.8 414.8,113.6 C412.4,121.4 411.5,125.8 409.4,135.3 C407.2,144.9 406.8,152.3 403.9,161.4 C401.1,170.5 398.5,174.0 395.2,181.0 C392.0,187.9 390.2,189.7 387.6,196.2 C385.0,202.7 383.7,205.8 382.2,213.6 C380.7,221.4 380.9,226.6 380.0,235.3 C379.2,244.0 379.2,249.7 377.8,257.1 C376.5,264.5 376.1,267.9 373.5,272.3 C370.9,276.6 368.3,277.9 364.8,278.8 C361.3,279.7 360.0,276.2 356.1,276.6 C352.2,277.1 349.6,279.7 345.2,281.0 C340.9,282.3 338.3,282.5 334.4,283.2 C330.5,283.8 330.0,284.2 325.7,284.2 C321.3,284.2 317.0,282.1 312.6,283.2 C308.3,284.2 307.0,286.2 303.9,289.7 C300.9,293.2 299.8,296.2 297.4,300.5 C295.0,304.9 294.6,307.1 292.0,311.4 C289.4,315.8 287.2,317.5 284.4,322.3 C281.5,327.1 280.7,330.1 277.8,335.3 C275.0,340.5 272.8,343.2 270.2,348.4 C267.6,353.6 266.3,355.3 264.8,361.4 C263.3,367.5 262.8,371.4 262.6,378.8 C262.4,386.2 263.6,390.2 263.7,398.4 C263.8,406.5 263.4,406.7 263.1,419.7 C262.7,432.6 262.8,450.1 262.0,463.2 C261.1,476.2 260.5,477.9 258.7,484.9 C257.0,491.9 255.0,493.6 253.3,497.9 C251.5,502.3 251.3,506.6 250.0,506.6 C248.7,506.6 248.1,497.9 246.8,497.9 C245.5,497.9 245.0,501.4 243.5,506.6 C242.0,511.9 240.9,517.9 239.2,524.0 C237.4,530.1 237.4,533.6 234.8,537.1 C232.2,540.5 230.0,539.7 226.1,541.4 C222.2,543.2 219.2,543.2 215.2,545.8 C211.3,548.4 209.6,550.5 206.5,554.5 C203.5,558.4 202.6,560.5 200.0,565.3 C197.4,570.1 196.1,573.2 193.5,578.4 C190.9,583.6 189.6,588.4 187.0,591.4 C184.4,594.5 183.1,592.7 180.5,593.6 C177.8,594.5 177.0,595.8 173.9,595.8 C170.9,595.8 168.7,593.6 165.2,593.6 C161.8,593.6 160.5,594.0 156.5,595.8 C152.6,597.5 149.6,600.1 145.7,602.3 C141.8,604.5 140.0,604.9 137.0,606.6 C133.9,608.4 133.1,608.4 130.5,611.0 C127.8,613.6 127.0,616.2 123.9,619.7 C120.9,623.2 118.7,624.5 115.2,628.4 C111.8,632.3 110.0,634.5 106.5,639.2 C103.1,644.0 101.3,647.1 97.8,652.3 C94.4,657.5 92.6,660.1 89.2,665.3 C85.7,670.5 84.4,673.2 80.5,678.4 C76.5,683.6 73.9,687.1 69.6,691.4 C65.2,695.8 63.1,697.5 58.7,700.1 C54.4,702.7 52.2,703.8 47.8,704.5 C43.5,705.1 41.3,705.1 37.0,703.4 C32.6,701.6 30.0,699.0 26.1,695.8 C22.2,692.5 20.9,690.5 17.4,687.1 C13.9,683.6 12.2,681.0 8.7,678.4 C5.2,675.8 5.7,675.3 0.0,674.0 C-5.6,672.7 -19.5,671.9 -19.5,671.9 L-50.0,650.0 L-50.0,900.0 L900.0,900.0 L900.0,-50.0 L449.6,-12.5Z" fill="#3a0058"/>
<path d="M323.5,-10.3 C323.5,-10.3 325.2,-4.5 323.5,-0.1 C321.8,4.2 317.8,6.1 314.8,11.4 C311.8,16.8 310.2,16.6 308.3,26.6 C306.3,36.6 306.3,47.9 305.0,61.4 C303.7,74.9 303.1,81.0 301.8,94.0 C300.5,107.1 298.5,116.6 298.5,126.6 C298.5,136.6 300.0,137.1 301.8,144.0 C303.5,151.0 304.6,154.5 307.2,161.4 C309.8,168.4 311.1,172.3 314.8,178.8 C318.5,185.3 321.5,189.0 325.7,194.0 C329.8,199.0 332.2,202.9 335.5,203.8 C338.7,204.7 339.2,202.1 342.0,198.4 C344.8,194.7 346.3,191.9 349.6,185.3 C352.8,178.8 355.5,173.2 358.3,165.8 C361.1,158.4 362.1,156.2 363.7,148.4 C365.4,140.5 366.1,137.5 366.5,126.6 C367.0,115.8 366.3,107.1 365.9,94.0 C365.5,81.0 364.8,74.5 364.4,61.4 C363.9,48.4 364.7,38.4 363.7,28.8 C362.7,19.2 361.3,19.4 359.4,13.6 C357.4,7.8 355.0,4.7 353.9,-0.1 C352.8,-4.9 353.9,-10.3 353.9,-10.3 L323.5,-10.3Z" fill="#3a0058"/>
<path d="M468.1,-12.5 C468.1,-12.5 468.7,-7.5 468.1,-0.1 C467.4,7.3 466.3,12.2 464.8,24.5 C463.3,36.8 462.4,47.5 460.5,61.4 C458.5,75.3 457.2,82.7 455.0,94.0 C452.8,105.3 452.0,109.7 449.6,117.9 C447.2,126.2 446.1,131.0 443.1,135.3 C440.0,139.7 437.8,137.9 434.4,139.7 C430.9,141.4 428.5,140.5 425.7,144.0 C422.8,147.5 422.4,150.1 420.2,157.1 C418.1,164.0 417.2,170.1 414.8,178.8 C412.4,187.5 410.9,191.9 408.3,200.5 C405.7,209.2 404.4,214.0 401.8,222.3 C399.2,230.5 397.6,233.6 395.2,241.9 C392.8,250.1 391.8,254.0 389.8,263.6 C387.8,273.2 387.0,278.8 385.5,289.7 C383.9,300.5 384.2,308.8 382.2,317.9 C380.2,327.1 378.7,330.5 375.7,335.3 C372.6,340.1 370.9,341.2 367.0,341.9 C363.1,342.5 360.0,337.7 356.1,338.6 C352.2,339.5 350.9,343.6 347.4,346.2 C343.9,348.8 342.2,352.1 338.7,351.6 C335.2,351.2 333.5,348.2 330.0,344.0 C326.5,339.9 324.8,334.7 321.3,331.0 C317.8,327.3 315.9,325.5 312.6,325.5 C309.4,325.5 307.6,327.3 305.0,331.0 C302.4,334.7 301.8,337.9 299.6,344.0 C297.4,350.1 296.1,353.6 294.2,361.4 C292.2,369.2 291.0,374.5 289.8,383.2 C288.6,391.9 288.4,397.6 288.3,404.9 C288.2,412.2 288.8,408.0 289.2,419.7 C289.5,431.3 290.0,445.8 290.2,463.2 C290.5,480.5 290.1,493.6 290.2,506.6 C290.4,519.7 292.0,524.5 290.9,528.4 C289.8,532.3 286.9,528.8 284.8,526.2 C282.7,523.6 281.8,522.7 280.5,515.3 C279.2,507.9 279.2,497.9 278.3,489.2 C277.4,480.5 277.4,474.0 276.1,471.9 C274.8,469.7 273.5,474.5 271.8,478.4 C270.0,482.3 269.2,485.8 267.4,491.4 C265.7,497.1 264.6,500.1 263.1,506.6 C261.5,513.2 261.3,519.7 259.8,524.0 C258.3,528.4 257.4,527.9 255.5,528.4 C253.5,528.8 252.0,527.9 250.0,526.2 C248.1,524.5 247.4,518.4 245.7,519.7 C243.9,521.0 243.1,527.1 241.3,532.7 C239.6,538.4 239.6,544.0 237.0,547.9 C234.4,551.9 232.2,550.5 228.3,552.3 C224.4,554.0 221.3,554.0 217.4,556.6 C213.5,559.2 211.8,561.4 208.7,565.3 C205.7,569.2 204.8,571.4 202.2,576.2 C199.6,581.0 198.3,584.0 195.7,589.2 C193.1,594.5 191.3,598.8 189.2,602.3 C187.0,605.8 186.1,608.4 184.8,606.6 C183.5,604.9 183.7,597.9 182.6,593.6 C181.5,589.2 180.7,584.9 179.4,584.9 C178.1,584.9 177.4,589.2 176.1,593.6 C174.8,597.9 175.0,604.2 172.8,606.6 C170.7,609.0 168.5,605.3 165.2,605.5 C162.0,605.8 160.5,606.0 156.5,607.7 C152.6,609.5 149.6,610.5 145.7,614.2 C141.8,617.9 140.0,623.8 137.0,626.2 C133.9,628.6 133.1,624.9 130.5,626.2 C127.8,627.5 127.0,629.7 123.9,632.7 C120.9,635.8 118.7,637.5 115.2,641.4 C111.8,645.3 110.0,647.5 106.5,652.3 C103.1,657.1 101.3,660.1 97.8,665.3 C94.4,670.5 92.6,673.2 89.2,678.4 C85.7,683.6 83.9,686.2 80.5,691.4 C77.0,696.6 75.7,700.1 71.8,704.5 C67.8,708.8 65.2,710.5 60.9,713.2 C56.5,715.8 54.4,717.1 50.0,717.5 C45.7,717.9 43.5,717.1 39.2,715.3 C34.8,713.6 32.6,712.3 28.3,708.8 C23.9,705.3 21.3,701.9 17.4,697.9 C13.5,694.0 12.2,691.9 8.7,689.2 C5.2,686.6 5.7,686.2 0.0,684.9 C-5.6,683.6 -19.5,682.7 -19.5,682.7 L-50.0,650.0 L-50.0,900.0 L900.0,900.0 L900.0,-50.0 L468.1,-12.5Z" fill="#440078"/>
<path d="M482.2,-12.5 C482.2,-12.5 482.8,-8.4 482.2,-0.1 C481.5,8.2 480.5,16.5 478.9,28.8 C477.4,41.1 476.5,48.4 474.6,61.4 C472.6,74.5 471.5,81.9 469.2,94.0 C466.8,106.2 465.2,111.4 462.6,122.3 C460.0,133.2 458.7,138.8 456.1,148.4 C453.5,157.9 451.8,162.3 449.6,170.1 C447.4,177.9 447.4,182.7 445.2,187.5 C443.1,192.3 441.8,193.2 438.7,194.0 C435.7,194.9 433.1,190.1 430.0,191.9 C427.0,193.6 426.1,196.6 423.5,202.7 C420.9,208.8 419.6,214.9 417.0,222.3 C414.4,229.7 413.1,232.7 410.5,239.7 C407.8,246.6 406.5,249.2 403.9,257.1 C401.3,264.9 399.8,270.1 397.4,278.8 C395.0,287.5 393.9,291.9 392.0,300.5 C390.0,309.2 389.6,313.6 387.6,322.3 C385.7,331.0 384.2,335.3 382.2,344.0 C380.2,352.7 379.4,357.5 377.8,365.8 C376.3,374.0 375.8,379.8 374.6,385.3 C373.4,390.9 374.1,388.9 371.8,393.6 C369.5,398.3 366.5,403.6 363.1,408.8 C359.6,414.0 357.8,416.2 354.4,419.7 C350.9,423.2 348.7,422.7 345.7,426.2 C342.6,429.7 341.8,435.3 339.2,437.1 C336.5,438.8 334.8,438.4 332.6,434.9 C330.5,431.4 330.0,425.8 328.3,419.7 C326.5,413.6 325.8,410.0 323.9,404.5 C322.1,398.9 321.2,397.9 319.2,391.9 C317.1,385.9 315.9,379.5 313.7,374.5 C311.5,369.5 310.2,366.9 308.3,366.9 C306.3,366.9 305.7,369.0 303.9,374.5 C302.2,379.9 300.8,387.1 299.6,394.0 C298.4,401.0 298.4,403.2 297.8,409.2 C297.3,415.2 297.2,413.2 296.8,424.0 C296.3,434.8 296.1,446.6 295.7,463.2 C295.2,479.7 295.5,491.0 294.6,506.6 C293.7,522.3 293.7,534.9 291.3,541.4 C288.9,547.9 285.7,539.2 282.6,539.2 C279.6,539.2 278.3,541.9 276.1,541.4 C273.9,541.0 273.3,540.1 271.8,537.1 C270.2,534.0 269.8,530.1 268.5,526.2 C267.2,522.3 266.5,517.1 265.2,517.5 C263.9,517.9 263.7,524.5 262.0,528.4 C260.2,532.3 258.7,534.9 256.5,537.1 C254.4,539.2 253.1,539.7 251.1,539.2 C249.2,538.8 248.3,533.6 246.8,534.9 C245.2,536.2 245.0,541.4 243.5,545.8 C242.0,550.1 241.8,553.6 239.2,556.6 C236.5,559.7 234.4,559.2 230.5,561.0 C226.5,562.7 223.5,562.7 219.6,565.3 C215.7,567.9 214.2,569.7 210.9,574.0 C207.6,578.4 206.1,581.9 203.3,587.1 C200.5,592.3 199.2,595.3 196.8,600.1 C194.4,604.9 193.3,607.9 191.3,611.0 C189.4,614.0 188.5,615.3 187.0,615.3 C185.5,615.3 185.0,614.0 183.7,611.0 C182.4,607.9 181.8,601.0 180.5,600.1 C179.2,599.2 178.7,602.7 177.2,606.6 C175.7,610.5 175.2,617.5 172.8,619.7 C170.5,621.9 168.5,617.5 165.2,617.5 C162.0,617.5 160.5,617.9 156.5,619.7 C152.6,621.4 149.2,622.3 145.7,626.2 C142.2,630.1 141.8,637.1 139.2,639.2 C136.5,641.4 135.7,635.8 132.6,637.1 C129.6,638.4 127.4,642.3 123.9,645.8 C120.5,649.2 118.7,650.5 115.2,654.5 C111.8,658.4 110.0,660.5 106.5,665.3 C103.1,670.1 101.3,673.2 97.8,678.4 C94.4,683.6 92.6,686.2 89.2,691.4 C85.7,696.6 83.9,699.2 80.5,704.5 C77.0,709.7 75.7,713.2 71.8,717.5 C67.8,721.9 65.2,723.6 60.9,726.2 C56.5,728.8 54.4,730.1 50.0,730.5 C45.7,731.0 43.5,730.1 39.2,728.4 C34.8,726.6 32.6,725.3 28.3,721.9 C23.9,718.4 21.3,714.9 17.4,711.0 C13.5,707.1 12.2,705.1 8.7,702.3 C5.2,699.5 5.7,698.4 0.0,696.9 C-5.6,695.3 -19.5,694.7 -19.5,694.7 L-50.0,650.0 L-50.0,900.0 L900.0,900.0 L900.0,-50.0 L482.2,-12.5Z" fill="#3a00a8"/>
<path d="M495.2,-12.5 C495.2,-12.5 495.9,-8.4 495.2,-0.1 C494.6,8.2 493.5,16.5 492.0,28.8 C490.5,41.1 489.6,48.4 487.6,61.4 C485.7,74.5 484.4,81.0 482.2,94.0 C480.0,107.1 478.9,113.6 476.8,126.6 C474.6,139.7 473.3,146.2 471.3,159.2 C469.4,172.3 468.3,178.8 467.0,191.9 C465.7,204.9 466.5,214.9 464.8,224.5 C463.1,234.0 461.8,235.8 458.3,239.7 C454.8,243.6 452.2,241.4 447.4,244.0 C442.6,246.6 438.3,252.3 434.4,252.7 C430.5,253.2 430.5,245.3 427.8,246.2 C425.2,247.1 424.4,251.0 421.3,257.1 C418.3,263.2 415.7,268.8 412.6,276.6 C409.6,284.5 408.5,287.9 406.1,296.2 C403.7,304.5 402.8,308.4 400.7,317.9 C398.5,327.5 397.2,334.5 395.2,344.0 C393.3,353.6 392.2,357.1 390.9,365.8 C389.6,374.5 388.2,378.9 388.7,387.5 C389.2,396.1 393.8,398.0 393.5,408.8 C393.2,419.6 389.8,430.1 387.0,441.4 C384.2,452.7 382.4,457.9 379.4,465.3 C376.3,472.7 375.0,474.9 371.8,478.4 C368.5,481.9 367.0,482.3 363.1,482.7 C359.2,483.2 356.1,480.1 352.2,480.5 C348.3,481.0 346.5,481.4 343.5,484.9 C340.5,488.4 339.4,494.0 337.0,497.9 C334.6,501.9 333.7,504.5 331.5,504.5 C329.4,504.5 328.1,501.0 326.1,497.9 C324.2,494.9 323.5,490.1 321.8,489.2 C320.0,488.4 319.2,492.3 317.4,493.6 C315.7,494.9 314.6,497.5 313.1,495.8 C311.5,494.0 310.9,490.5 309.8,484.9 C308.7,479.2 308.5,473.2 307.6,467.5 C306.8,461.9 306.3,456.6 305.5,456.6 C304.6,456.6 304.2,459.7 303.3,467.5 C302.4,475.3 302.2,483.6 301.1,495.8 C300.0,507.9 299.4,517.5 297.8,528.4 C296.3,539.2 295.7,544.9 293.5,550.1 C291.3,555.3 289.6,553.2 287.0,554.5 C284.4,555.8 283.1,557.5 280.5,556.6 C277.8,555.8 276.1,553.2 273.9,550.1 C271.8,547.1 271.1,544.0 269.6,541.4 C268.1,538.8 268.1,536.2 266.3,537.1 C264.6,537.9 263.3,543.6 260.9,545.8 C258.5,547.9 257.0,545.8 254.4,547.9 C251.8,550.1 250.5,552.7 247.8,556.6 C245.2,560.5 244.4,564.5 241.3,567.5 C238.3,570.5 236.1,569.7 232.6,571.9 C229.2,574.0 227.4,575.3 223.9,578.4 C220.5,581.4 218.7,583.2 215.2,587.1 C211.8,591.0 210.0,593.2 206.5,597.9 C203.1,602.7 201.3,606.2 197.8,611.0 C194.4,615.8 192.6,619.2 189.2,621.9 C185.7,624.5 183.9,623.2 180.5,624.0 C177.0,624.9 175.2,624.5 171.8,626.2 C168.3,627.9 166.5,629.2 163.1,632.7 C159.6,636.2 157.8,638.8 154.4,643.6 C150.9,648.4 149.2,651.9 145.7,656.6 C142.2,661.4 140.5,664.9 137.0,667.5 C133.5,670.1 131.8,667.5 128.3,669.7 C124.8,671.9 123.1,674.5 119.6,678.4 C116.1,682.3 114.4,684.5 110.9,689.2 C107.4,694.0 105.7,697.1 102.2,702.3 C98.7,707.5 97.0,710.1 93.5,715.3 C90.0,720.5 88.3,723.2 84.8,728.4 C81.3,733.6 80.0,737.1 76.1,741.4 C72.2,745.8 70.0,747.5 65.2,750.1 C60.5,752.7 57.8,753.8 52.2,754.5 C46.5,755.1 42.6,754.7 37.0,753.4 C31.3,752.1 29.2,750.8 23.9,747.9 C18.7,745.1 15.7,742.3 10.9,739.2 C6.1,736.2 6.1,734.5 0.0,732.7 C-6.1,731.0 -19.5,730.5 -19.5,730.5 L-50.0,650.0 L-50.0,900.0 L900.0,900.0 L900.0,-50.0 L495.2,-12.5Z" fill="#2200d0"/>
<path d="M511.5,-12.5 C511.5,-12.5 512.4,-8.4 511.5,-0.1 C510.7,8.2 509.2,16.5 507.2,28.8 C505.2,41.1 503.7,48.4 501.8,61.4 C499.8,74.5 499.4,81.0 497.4,94.0 C495.5,107.1 494.2,113.6 492.0,126.6 C489.8,139.7 488.5,146.2 486.5,159.2 C484.6,172.3 483.7,178.8 482.2,191.9 C480.7,204.9 480.2,211.4 478.9,224.5 C477.6,237.5 477.2,246.2 475.7,257.1 C474.2,267.9 473.5,270.1 471.3,278.8 C469.2,287.5 467.4,292.7 464.8,300.5 C462.2,308.4 460.5,314.0 458.3,317.9 C456.1,321.9 456.1,322.3 453.9,320.1 C451.8,317.9 450.5,311.0 447.4,307.1 C444.4,303.2 441.8,302.3 438.7,300.5 C435.7,298.8 434.4,299.5 432.2,298.4 C430.0,297.3 430.0,294.2 427.8,295.1 C425.7,296.0 423.9,297.3 421.3,302.7 C418.7,308.2 417.2,314.0 414.8,322.3 C412.4,330.5 411.3,335.3 409.4,344.0 C407.4,352.7 406.5,357.1 405.0,365.8 C403.5,374.5 403.2,378.9 401.8,387.5 C400.3,396.1 399.5,401.1 397.8,408.8 C396.2,416.5 395.7,417.5 393.5,426.2 C391.3,434.9 389.6,442.7 387.0,452.3 C384.4,461.9 383.5,465.8 380.5,474.0 C377.4,482.3 375.2,487.1 371.8,493.6 C368.3,500.1 366.5,501.9 363.1,506.6 C359.6,511.4 357.8,513.2 354.4,517.5 C350.9,521.9 349.2,524.5 345.7,528.4 C342.2,532.3 340.5,534.0 337.0,537.1 C333.5,540.1 331.8,541.0 328.3,543.6 C324.8,546.2 322.6,547.5 319.6,550.1 C316.5,552.7 315.7,555.8 313.1,556.6 C310.5,557.5 309.2,553.6 306.5,554.5 C303.9,555.3 302.6,557.5 300.0,561.0 C297.4,564.5 296.1,567.1 293.5,571.9 C290.9,576.6 289.2,579.7 287.0,584.9 C284.8,590.1 284.3,593.8 282.6,597.9 C281.0,602.1 280.0,606.4 278.7,605.5 C277.4,604.7 277.1,600.3 276.1,593.6 C275.2,586.9 275.0,579.2 273.9,571.9 C272.8,564.5 272.0,561.4 270.7,556.6 C269.4,551.9 269.4,547.9 267.4,547.9 C265.5,547.9 263.5,553.2 260.9,556.6 C258.3,560.1 257.4,561.4 254.4,565.3 C251.3,569.2 249.2,572.7 245.7,576.2 C242.2,579.7 240.5,580.1 237.0,582.7 C233.5,585.3 231.8,586.2 228.3,589.2 C224.8,592.3 223.1,594.0 219.6,597.9 C216.1,601.9 214.4,604.5 210.9,608.8 C207.4,613.2 205.7,616.2 202.2,619.7 C198.7,623.2 197.0,624.0 193.5,626.2 C190.0,628.4 188.3,627.9 184.8,630.5 C181.3,633.2 179.6,635.8 176.1,639.2 C172.6,642.7 170.9,644.0 167.4,647.9 C163.9,651.9 162.2,654.0 158.7,658.8 C155.2,663.6 153.5,666.6 150.0,671.9 C146.5,677.1 144.8,680.1 141.3,684.9 C137.8,689.7 136.1,691.4 132.6,695.8 C129.2,700.1 127.4,701.9 123.9,706.6 C120.5,711.4 118.7,714.5 115.2,719.7 C111.8,724.9 110.0,727.5 106.5,732.7 C103.1,737.9 101.1,738.8 97.8,745.8 C94.6,752.7 90.2,767.5 90.2,767.5 L900.0,900.0 L900.0,-50.0 L511.5,-12.5Z" fill="#0020f4"/>
<path d="M721.3,-12.5 C721.3,-12.5 720.9,-6.2 721.3,-0.1 C721.8,6.0 722.2,10.9 723.5,17.9 C724.8,25.0 724.8,31.0 727.8,35.3 C730.9,39.7 734.4,37.9 738.7,39.7 C743.1,41.4 745.7,40.5 749.6,44.0 C753.5,47.5 754.8,52.5 758.3,57.1 C761.8,61.6 763.5,64.7 767.0,66.9 C770.5,69.0 772.1,69.0 775.7,67.9 C779.3,66.9 780.2,62.7 785.0,61.4 C789.8,60.1 799.6,61.4 799.6,61.4 L799.6,-12.5 L721.3,-12.5Z" fill="#2200d0"/>
<path d="M598.5,-12.5 C598.5,-12.5 598.7,-6.2 598.5,-0.1 C598.3,6.0 598.9,12.2 597.4,17.9 C595.9,23.7 593.1,27.1 590.9,28.8 C588.7,30.5 587.8,24.5 586.5,26.6 C585.2,28.8 585.2,32.7 584.4,39.7 C583.5,46.6 583.5,52.7 582.2,61.4 C580.9,70.1 579.8,76.9 577.8,83.2 C575.9,89.5 574.6,92.5 572.4,92.9 C570.2,93.4 569.2,88.2 567.0,85.3 C564.8,82.5 563.5,78.8 561.5,78.8 C559.6,78.8 558.7,79.2 557.2,85.3 C555.7,91.4 555.2,98.8 553.9,109.2 C552.6,119.7 552.0,127.5 550.7,137.5 C549.4,147.5 548.7,156.2 547.4,159.2 C546.1,162.3 545.5,159.2 544.2,152.7 C542.8,146.2 542.0,138.4 540.9,126.6 C539.8,114.9 539.8,101.0 538.7,94.0 C537.6,87.1 536.8,87.1 535.5,91.9 C534.2,96.6 534.2,107.5 532.2,117.9 C530.2,128.4 527.8,134.5 525.7,144.0 C523.5,153.6 523.5,157.1 521.3,165.8 C519.2,174.5 517.2,181.4 514.8,187.5 C512.4,193.6 511.5,196.2 509.4,196.2 C507.2,196.2 505.7,191.0 503.9,187.5 C502.2,184.0 502.2,181.0 500.7,178.8 C499.2,176.6 498.1,174.5 496.3,176.6 C494.6,178.8 493.5,182.3 492.0,189.7 C490.5,197.1 490.2,204.5 488.7,213.6 C487.2,222.7 486.1,226.6 484.4,235.3 C482.6,244.0 481.8,246.2 480.0,257.1 C478.3,267.9 477.8,277.5 475.7,289.7 C473.5,301.9 472.2,307.1 469.2,317.9 C466.1,328.8 463.5,337.1 460.5,344.0 C457.4,351.0 457.0,352.7 453.9,352.7 C450.9,352.7 448.7,347.5 445.2,344.0 C441.8,340.5 439.6,336.2 436.5,335.3 C433.5,334.5 432.6,335.3 430.0,339.7 C427.4,344.0 426.1,349.2 423.5,357.1 C420.9,364.9 419.4,370.5 417.0,378.8 C414.6,387.1 414.5,392.4 411.5,398.4 C408.6,404.4 404.5,404.5 402.2,408.8 C399.9,413.1 401.8,411.9 400.0,419.7 C398.3,427.5 396.1,437.1 393.5,447.9 C390.9,458.8 390.0,464.0 387.0,474.0 C383.9,484.0 381.8,489.7 378.3,497.9 C374.8,506.2 373.1,509.2 369.6,515.3 C366.1,521.4 364.4,523.6 360.9,528.4 C357.4,533.2 355.7,534.9 352.2,539.2 C348.7,543.6 347.0,545.8 343.5,550.1 C340.0,554.5 338.3,557.1 334.8,561.0 C331.3,564.9 329.6,566.2 326.1,569.7 C322.6,573.2 320.9,575.3 317.4,578.4 C313.9,581.4 311.8,581.9 308.7,584.9 C305.7,587.9 304.8,589.7 302.2,593.6 C299.6,597.5 298.3,599.7 295.7,604.5 C293.1,609.2 291.5,612.3 289.2,617.5 C286.8,622.7 285.7,626.2 283.7,630.5 C281.8,634.9 280.7,641.4 279.4,639.2 C278.1,637.1 278.1,628.8 277.2,619.7 C276.3,610.5 276.1,603.2 275.0,593.6 C273.9,584.0 273.1,578.4 271.8,571.9 C270.5,565.3 270.2,562.3 268.5,561.0 C266.8,559.7 265.9,562.3 263.1,565.3 C260.2,568.4 257.8,572.3 254.4,576.2 C250.9,580.1 249.2,581.9 245.7,584.9 C242.2,587.9 240.5,588.4 237.0,591.4 C233.5,594.5 231.8,596.6 228.3,600.1 C224.8,603.6 223.1,604.9 219.6,608.8 C216.1,612.7 214.4,615.3 210.9,619.7 C207.4,624.0 205.7,627.5 202.2,630.5 C198.7,633.6 197.0,632.3 193.5,634.9 C190.0,637.5 188.3,639.2 184.8,643.6 C181.3,647.9 179.6,651.4 176.1,656.6 C172.6,661.9 170.9,664.5 167.4,669.7 C163.9,674.9 162.2,677.5 158.7,682.7 C155.2,687.9 153.5,690.5 150.0,695.8 C146.5,701.0 144.8,704.0 141.3,708.8 C137.8,713.6 136.1,714.9 132.6,719.7 C129.2,724.5 127.4,727.5 123.9,732.7 C120.5,737.9 118.5,738.8 115.2,745.8 C112.0,752.7 107.6,767.5 107.6,767.5 L900.0,900.0 L799.6,478.4 C799.6,478.4 789.4,476.2 785.0,478.4 C780.7,480.5 780.6,483.6 777.8,489.2 C775.1,494.9 773.9,499.7 771.3,506.6 C768.7,513.6 767.4,517.1 764.8,524.0 C762.2,531.0 760.7,536.6 758.3,541.4 C755.9,546.2 755.0,550.5 752.8,547.9 C750.7,545.3 749.4,538.8 747.4,528.4 C745.5,517.9 744.6,508.8 743.1,495.8 C741.5,482.7 741.1,476.2 739.8,463.2 C738.5,450.1 737.8,443.6 736.5,430.5 C735.2,417.5 734.6,406.5 733.3,397.9 C732.0,389.3 731.3,393.9 730.0,387.5 C728.7,381.1 728.5,371.9 726.8,365.8 C725.0,359.7 723.5,360.1 721.3,357.1 C719.2,354.0 717.8,353.2 715.9,350.5 C713.9,347.9 713.1,343.2 711.5,344.0 C710.0,344.9 709.8,348.8 708.3,354.9 C706.8,361.0 705.5,372.3 703.9,374.5 C702.4,376.6 701.8,371.9 700.7,365.8 C699.6,359.7 699.2,352.7 698.5,344.0 C697.8,335.3 697.6,331.0 697.4,322.3 C697.2,313.6 697.2,313.6 697.4,300.5 C697.6,287.5 698.1,274.5 698.5,257.1 C698.9,239.7 699.2,231.0 699.6,213.6 C700.0,196.2 700.2,187.5 700.7,170.1 C701.1,152.7 701.3,144.0 701.8,126.6 C702.2,109.2 702.4,100.5 702.8,83.2 C703.3,65.8 703.5,56.3 703.9,39.7 C704.4,23.0 704.8,10.3 705.0,-0.1 C705.2,-10.5 705.0,-12.5 705.0,-12.5 L598.5,-12.5Z" fill="#006cfc"/>
<path d="M609.4,-12.5 C609.4,-12.5 609.6,-6.2 609.4,-0.1 C609.2,6.0 608.9,7.8 608.3,17.9 C607.6,28.1 607.4,37.5 606.1,50.5 C604.8,63.6 603.5,71.4 601.8,83.2 C600.0,94.9 599.2,100.5 597.4,109.2 C595.7,117.9 594.8,121.4 593.1,126.6 C591.3,131.9 590.9,131.0 588.7,135.3 C586.5,139.7 584.4,143.6 582.2,148.4 C580.0,153.2 579.6,157.5 577.8,159.2 C576.1,161.0 575.2,156.6 573.5,157.1 C571.8,157.5 571.3,161.0 569.2,161.4 C567.0,161.9 564.8,157.5 562.6,159.2 C560.5,161.0 559.6,163.6 558.3,170.1 C557.0,176.6 557.0,183.2 556.1,191.9 C555.2,200.5 555.2,202.7 553.9,213.6 C552.6,224.5 550.9,235.8 549.6,246.2 C548.3,256.6 549.2,260.1 547.4,265.8 C545.7,271.4 543.5,271.9 540.9,274.5 C538.3,277.1 537.4,277.7 534.4,278.8 C531.3,279.9 529.2,279.0 525.7,279.9 C522.2,280.8 520.0,283.4 517.0,283.2 C513.9,282.9 512.6,282.3 510.5,278.8 C508.3,275.3 507.8,273.6 506.1,265.8 C504.4,257.9 503.5,248.6 501.8,239.7 C500.0,230.8 498.9,224.2 497.4,221.2 C495.9,218.2 495.2,219.5 494.2,224.5 C493.1,229.5 493.1,235.3 492.0,246.2 C490.9,257.1 490.2,265.8 488.7,278.8 C487.2,291.9 486.5,299.2 484.4,311.4 C482.2,323.6 480.5,328.8 477.8,339.7 C475.2,350.5 473.9,356.2 471.3,365.8 C468.7,375.3 467.4,380.1 464.8,387.5 C462.2,394.9 461.3,400.5 458.3,402.7 C455.2,404.9 453.5,401.4 449.6,398.4 C445.7,395.3 442.6,389.2 438.7,387.5 C434.8,385.8 433.1,387.5 430.0,389.7 C427.0,391.9 425.9,393.6 423.5,398.4 C421.1,403.2 420.4,408.0 418.1,413.6 C415.8,419.2 414.7,419.3 412.0,426.2 C409.2,433.1 407.2,439.2 404.4,447.9 C401.5,456.6 400.9,461.0 397.8,469.7 C394.8,478.4 392.6,482.3 389.2,491.4 C385.7,500.5 383.9,507.1 380.5,515.3 C377.0,523.6 375.2,526.2 371.8,532.7 C368.3,539.2 366.5,542.3 363.1,547.9 C359.6,553.6 357.8,556.2 354.4,561.0 C350.9,565.8 349.2,567.1 345.7,571.9 C342.2,576.6 340.5,580.1 337.0,584.9 C333.5,589.7 331.3,591.4 328.3,595.8 C325.2,600.1 324.4,601.9 321.8,606.6 C319.2,611.4 317.8,614.5 315.2,619.7 C312.6,624.9 311.3,627.5 308.7,632.7 C306.1,637.9 305.2,641.4 302.2,645.8 C299.2,650.1 297.0,650.1 293.5,654.5 C290.0,658.8 287.8,662.3 284.8,667.5 C281.8,672.7 280.7,676.4 278.3,680.5 C275.9,684.7 274.4,688.2 272.8,688.2 C271.3,688.2 271.4,686.4 270.7,680.5 C269.9,674.7 269.5,671.9 269.2,658.8 C268.8,645.8 269.2,630.5 269.2,615.3 C269.2,600.1 269.4,592.7 269.2,582.7 C268.9,572.7 268.6,566.6 267.8,565.3 C267.1,564.0 267.1,571.4 265.2,576.2 C263.4,581.0 261.8,584.5 258.7,589.2 C255.7,594.0 253.5,596.2 250.0,600.1 C246.5,604.0 244.8,605.3 241.3,608.8 C237.8,612.3 236.1,614.0 232.6,617.5 C229.2,621.0 227.4,622.3 223.9,626.2 C220.5,630.1 218.7,632.7 215.2,637.1 C211.8,641.4 210.0,643.6 206.5,647.9 C203.1,652.3 201.3,654.9 197.8,658.8 C194.4,662.7 192.6,663.6 189.2,667.5 C185.7,671.4 183.9,673.6 180.5,678.4 C177.0,683.2 175.2,685.8 171.8,691.4 C168.3,697.1 166.5,701.0 163.1,706.6 C159.6,712.3 157.8,714.5 154.4,719.7 C150.9,724.9 149.2,727.5 145.7,732.7 C142.2,737.9 140.0,738.8 137.0,745.8 C133.9,752.7 130.5,767.5 130.5,767.5 L900.0,900.0 L799.6,502.3 C799.6,502.3 789.8,500.5 785.0,502.3 C780.2,504.0 778.8,506.6 775.7,511.0 C772.5,515.3 771.8,518.4 769.2,524.0 C766.5,529.7 765.2,534.0 762.6,539.2 C760.0,544.5 758.3,548.8 756.1,550.1 C753.9,551.4 753.7,551.0 751.8,545.8 C749.8,540.5 748.5,533.6 746.3,524.0 C744.2,514.5 743.1,507.9 740.9,497.9 C738.7,487.9 737.6,483.2 735.5,474.0 C733.3,464.9 732.2,460.5 730.0,452.3 C727.8,444.0 726.8,438.8 724.6,432.7 C722.4,426.6 721.3,423.6 719.2,421.9 C717.0,420.1 715.9,420.1 713.7,424.0 C711.5,427.9 710.0,433.6 708.3,441.4 C706.5,449.2 706.3,461.9 705.0,463.2 C703.7,464.5 703.1,455.3 701.8,447.9 C700.5,440.5 699.8,432.9 698.5,426.2 C697.2,419.5 696.5,416.4 695.2,414.2 C693.9,412.1 693.3,414.2 692.0,415.3 C690.7,416.4 689.8,423.1 688.7,419.7 C687.6,416.3 687.0,402.6 686.5,398.4 C686.1,394.1 687.4,402.7 686.5,398.4 C685.7,394.0 683.5,387.5 682.2,376.6 C680.9,365.8 680.9,354.9 680.0,344.0 C679.2,333.2 678.3,331.0 677.8,322.3 C677.4,313.6 677.6,313.6 677.8,300.5 C678.1,287.5 678.5,274.5 678.9,257.1 C679.4,239.7 679.6,228.8 680.0,213.6 C680.5,198.4 680.5,194.0 681.1,181.0 C681.8,167.9 682.6,159.2 683.3,148.4 C683.9,137.5 683.7,139.7 684.4,126.6 C685.0,113.6 685.9,100.5 686.5,83.2 C687.2,65.8 687.2,56.3 687.6,39.7 C688.1,23.0 688.5,10.3 688.7,-0.1 C688.9,-10.5 688.7,-12.5 688.7,-12.5 L609.4,-12.5Z" fill="#00bcfc"/>
<path d="M632.2,-12.5 C632.2,-12.5 631.8,-8.4 632.2,-0.1 C632.6,8.2 633.3,19.5 634.4,28.8 C635.5,38.1 636.1,41.4 637.6,46.2 C639.2,51.0 640.5,53.2 642.0,52.7 C643.5,52.3 643.9,51.0 645.2,44.0 C646.5,37.1 647.6,26.8 648.5,17.9 C649.4,9.1 649.4,6.0 649.6,-0.1 C649.8,-6.2 649.6,-12.5 649.6,-12.5 L632.2,-12.5Z" fill="#006cfc"/>
<path d="M617.0,59.2 C615.7,59.2 615.0,65.3 613.7,72.3 C612.4,79.2 611.8,85.3 610.5,94.0 C609.2,102.7 608.5,107.1 607.2,115.8 C605.9,124.5 605.2,128.8 603.9,137.5 C602.6,146.2 602.4,151.4 600.7,159.2 C598.9,167.1 597.6,171.4 595.2,176.6 C592.8,181.9 590.9,182.3 588.7,185.3 C586.5,188.4 585.9,188.4 584.4,191.9 C582.8,195.3 582.4,198.4 581.1,202.7 C579.8,207.1 580.7,209.2 577.8,213.6 C575.0,217.9 570.5,221.0 567.0,224.5 C563.5,227.9 562.2,226.6 560.5,231.0 C558.7,235.3 559.4,238.8 558.3,246.2 C557.2,253.6 556.5,260.1 555.0,267.9 C553.5,275.8 552.6,278.8 550.7,285.3 C548.7,291.9 547.2,294.0 545.2,300.5 C543.3,307.1 542.8,312.3 540.9,317.9 C538.9,323.6 538.1,325.8 535.5,328.8 C532.8,331.9 531.1,332.5 527.8,333.2 C524.6,333.8 522.2,334.2 519.2,332.1 C516.1,329.9 515.0,327.7 512.6,322.3 C510.2,316.9 509.2,312.3 507.2,304.9 C505.2,297.5 504.6,292.7 502.8,285.3 C501.1,277.9 500.0,272.3 498.5,267.9 C497.0,263.6 496.5,261.9 495.2,263.6 C493.9,265.3 493.1,269.2 492.0,276.6 C490.9,284.0 490.9,290.5 489.8,300.5 C488.7,310.5 488.3,315.8 486.5,326.6 C484.8,337.5 483.3,344.5 481.1,354.9 C478.9,365.3 477.8,370.1 475.7,378.8 C473.5,387.5 472.2,390.9 470.2,398.4 C468.3,405.9 467.4,407.6 465.9,416.2 C464.4,424.8 464.6,431.2 462.6,441.4 C460.7,451.7 458.7,457.1 456.1,467.5 C453.5,477.9 452.2,483.6 449.6,493.6 C447.0,503.6 445.7,508.8 443.1,517.5 C440.5,526.2 438.9,531.6 436.5,537.1 C434.2,542.5 433.1,545.5 431.1,544.7 C429.2,543.8 428.5,540.3 426.8,532.7 C425.0,525.1 424.2,517.1 422.4,506.6 C420.7,496.2 420.0,487.1 418.1,480.5 C416.1,474.0 415.0,472.3 412.6,474.0 C410.2,475.8 408.7,480.5 406.1,489.2 C403.5,497.9 402.6,506.2 399.6,517.5 C396.5,528.8 394.4,535.8 390.9,545.8 C387.4,555.8 385.6,564.0 382.2,567.5 C378.8,571.0 377.3,561.0 373.9,563.2 C370.5,565.3 368.7,572.3 365.2,578.4 C361.8,584.5 360.0,587.9 356.5,593.6 C353.1,599.2 350.9,601.9 347.8,606.6 C344.8,611.4 343.9,612.3 341.3,617.5 C338.7,622.7 337.4,626.6 334.8,632.7 C332.2,638.8 330.9,641.4 328.3,647.9 C325.7,654.5 324.4,658.8 321.8,665.3 C319.2,671.9 318.3,674.0 315.2,680.5 C312.2,687.1 310.0,691.0 306.5,697.9 C303.1,704.9 301.3,708.4 297.8,715.3 C294.4,722.3 292.6,726.6 289.2,732.7 C285.7,738.8 283.5,738.8 280.5,745.8 C277.4,752.7 273.9,767.5 273.9,767.5 L254.4,767.5 C254.4,767.5 254.4,741.4 254.4,724.0 C254.4,706.6 254.8,695.3 254.4,680.5 C253.9,665.8 253.5,658.8 252.2,650.1 C250.9,641.4 250.0,640.3 247.8,637.1 C245.7,633.8 244.4,633.4 241.3,633.8 C238.3,634.2 236.1,636.4 232.6,639.2 C229.2,642.1 227.4,644.0 223.9,647.9 C220.5,651.9 218.7,654.5 215.2,658.8 C211.8,663.2 210.0,665.3 206.5,669.7 C203.1,674.0 201.3,676.2 197.8,680.5 C194.4,684.9 192.6,686.2 189.2,691.4 C185.7,696.6 183.5,701.0 180.5,706.6 C177.4,712.3 176.5,714.5 173.9,719.7 C171.3,724.9 170.0,727.5 167.4,732.7 C164.8,737.9 163.3,738.8 160.9,745.8 C158.5,752.7 155.5,767.5 155.5,767.5 L900.0,900.0 L799.6,537.1 C799.6,537.1 789.4,536.2 785.0,537.1 C780.7,537.9 780.6,538.8 777.8,541.4 C775.1,544.0 773.9,544.9 771.3,550.1 C768.7,555.3 767.2,560.5 764.8,567.5 C762.4,574.5 761.5,579.7 759.4,584.9 C757.2,590.1 755.9,593.6 753.9,593.6 C752.0,593.6 751.8,591.4 749.6,584.9 C747.4,578.4 745.7,571.0 743.1,561.0 C740.5,551.0 739.2,544.9 736.5,534.9 C733.9,524.9 732.6,520.1 730.0,511.0 C727.4,501.9 726.1,496.2 723.5,489.2 C720.9,482.3 719.4,477.9 717.0,476.2 C714.6,474.5 713.5,476.2 711.5,480.5 C709.6,484.9 709.2,491.9 707.2,497.9 C705.2,504.0 703.9,509.2 701.8,511.0 C699.6,512.7 698.5,511.9 696.3,506.6 C694.2,501.4 692.8,492.7 690.9,484.9 C688.9,477.1 688.1,476.2 686.5,467.5 C685.0,458.8 684.4,451.7 683.3,441.4 C682.2,431.2 681.8,427.0 681.1,416.2 C680.5,405.4 680.5,397.6 680.0,387.5 C679.6,377.4 679.4,374.5 678.9,365.8 C678.5,357.1 678.3,352.7 677.8,344.0 C677.4,335.3 677.2,331.0 676.8,322.3 C676.3,313.6 676.1,309.2 675.7,300.5 C675.2,291.9 675.2,287.5 674.6,278.8 C673.9,270.1 673.3,265.8 672.4,257.1 C671.5,248.4 671.3,244.0 670.2,235.3 C669.2,226.6 668.3,222.3 667.0,213.6 C665.7,204.9 665.0,200.5 663.7,191.9 C662.4,183.2 661.8,178.8 660.5,170.1 C659.2,161.4 658.3,155.1 657.2,148.4 C656.1,141.6 656.1,136.9 655.0,136.4 C653.9,136.0 653.7,144.2 651.8,146.2 C649.8,148.2 647.8,144.9 645.2,146.2 C642.6,147.5 640.9,148.8 638.7,152.7 C636.5,156.6 635.9,162.3 634.4,165.8 C632.8,169.2 632.4,171.4 631.1,170.1 C629.8,168.8 628.9,165.8 627.8,159.2 C626.8,152.7 626.3,146.2 625.7,137.5 C625.0,128.8 625.2,124.5 624.6,115.8 C623.9,107.1 623.3,102.7 622.4,94.0 C621.5,85.3 621.3,79.2 620.2,72.3 C619.2,65.3 618.3,59.2 617.0,59.2Z" fill="#00f4e4"/>
<path d="M612.6,153.8 C611.3,153.8 610.9,160.3 609.4,165.8 C607.8,171.2 607.0,175.8 605.0,181.0 C603.1,186.2 602.0,187.5 599.6,191.9 C597.2,196.2 595.5,197.9 593.1,202.7 C590.7,207.5 589.6,210.1 587.6,215.8 C585.7,221.4 585.0,224.9 583.3,231.0 C581.5,237.1 580.9,240.1 578.9,246.2 C577.0,252.3 575.7,255.8 573.5,261.4 C571.3,267.1 570.2,269.2 568.1,274.5 C565.9,279.7 564.6,281.4 562.6,287.5 C560.7,293.6 560.0,297.9 558.3,304.9 C556.5,311.9 555.7,314.9 553.9,322.3 C552.2,329.7 551.3,334.0 549.6,341.9 C547.8,349.7 547.0,354.9 545.2,361.4 C543.5,367.9 543.1,370.5 540.9,374.5 C538.7,378.4 537.4,379.2 534.4,381.0 C531.3,382.7 528.7,384.5 525.7,383.2 C522.6,381.9 521.3,377.9 519.2,374.5 C517.0,371.0 516.8,371.9 514.8,365.8 C512.8,359.7 511.5,352.7 509.4,344.0 C507.2,335.3 505.9,330.1 503.9,322.3 C502.0,314.5 501.3,309.2 499.6,304.9 C497.8,300.5 496.8,299.2 495.2,300.5 C493.7,301.9 493.3,304.9 492.0,311.4 C490.7,317.9 490.5,323.2 488.7,333.2 C487.0,343.2 485.5,350.5 483.3,361.4 C481.1,372.3 480.0,376.5 477.8,387.5 C475.7,398.5 474.6,401.1 472.4,416.2 C470.2,431.3 469.4,449.4 467.0,463.2 C464.6,476.9 463.1,476.2 460.5,484.9 C457.8,493.6 456.5,497.9 453.9,506.6 C451.3,515.3 450.0,520.1 447.4,528.4 C444.8,536.6 443.5,540.1 440.9,547.9 C438.3,555.8 437.0,558.4 434.4,567.5 C431.8,576.6 430.0,583.2 427.8,593.6 C425.7,604.0 425.0,612.1 423.5,619.7 C422.0,627.3 421.3,631.2 420.2,631.6 C419.2,632.1 418.7,629.5 418.1,621.9 C417.4,614.2 417.4,605.8 417.0,593.6 C416.5,581.4 416.5,574.0 415.9,561.0 C415.2,547.9 415.0,537.5 413.7,528.4 C412.4,519.2 411.3,515.3 409.4,515.3 C407.4,515.3 406.3,521.4 403.9,528.4 C401.5,535.3 400.0,541.4 397.4,550.1 C394.8,558.8 393.9,563.2 390.9,571.9 C387.8,580.5 384.3,591.9 382.2,593.6 C380.1,595.3 382.5,579.7 380.5,580.5 C378.4,581.4 375.2,591.0 371.8,597.9 C368.3,604.9 366.5,608.4 363.1,615.3 C359.6,622.3 357.4,626.2 354.4,632.7 C351.3,639.2 350.5,641.9 347.8,647.9 C345.2,654.0 343.9,656.6 341.3,663.2 C338.7,669.7 337.4,672.7 334.8,680.5 C332.2,688.4 330.9,693.6 328.3,702.3 C325.7,711.0 323.9,716.2 321.8,724.0 C319.6,731.9 319.4,732.7 317.4,741.4 C315.5,750.1 312.0,767.5 312.0,767.5 L900.0,900.0 L799.6,637.1 C799.6,637.1 788.7,638.4 785.0,637.1 C781.3,635.8 783.0,633.2 781.1,630.5 C779.2,627.9 778.1,624.9 775.7,624.0 C773.3,623.2 771.8,623.6 769.2,626.2 C766.5,628.8 765.2,630.5 762.6,637.1 C760.0,643.6 758.3,651.0 756.1,658.8 C753.9,666.6 753.5,671.9 751.8,676.2 C750.0,680.5 748.7,686.2 747.4,680.5 C746.1,674.9 746.3,661.9 745.2,647.9 C744.2,634.0 743.5,624.5 742.0,611.0 C740.5,597.5 739.6,591.9 737.6,580.5 C735.7,569.2 734.4,564.0 732.2,554.5 C730.0,544.9 728.7,539.2 726.8,532.7 C724.8,526.2 724.4,523.6 722.4,521.9 C720.5,520.1 719.4,521.9 717.0,524.0 C714.6,526.2 713.1,527.5 710.5,532.7 C707.8,537.9 706.3,543.6 703.9,550.1 C701.5,556.6 700.7,561.0 698.5,565.3 C696.3,569.7 695.2,572.7 693.1,571.9 C690.9,571.0 689.6,567.5 687.6,561.0 C685.7,554.5 684.8,550.1 683.3,539.2 C681.8,528.4 681.1,521.9 680.0,506.6 C678.9,491.4 678.5,481.2 677.8,463.2 C677.2,445.1 677.2,429.2 676.8,416.2 C676.3,403.2 676.1,408.5 675.7,398.4 C675.2,388.3 675.0,378.8 674.6,365.8 C674.2,352.7 674.2,344.0 673.5,333.2 C672.8,322.3 672.4,318.4 671.3,311.4 C670.2,304.5 669.2,300.5 668.1,298.4 C667.0,296.2 667.0,296.6 665.9,300.5 C664.8,304.5 664.2,317.9 662.6,317.9 C661.1,317.9 660.0,308.4 658.3,300.5 C656.5,292.7 655.7,287.5 653.9,278.8 C652.2,270.1 651.3,265.8 649.6,257.1 C647.8,248.4 646.8,241.4 645.2,235.3 C643.7,229.2 643.5,228.4 642.0,226.6 C640.5,224.9 639.4,224.9 637.6,226.6 C635.9,228.4 635.0,230.1 633.3,235.3 C631.5,240.5 630.5,247.5 628.9,252.7 C627.4,257.9 626.8,262.7 625.7,261.4 C624.6,260.1 624.4,253.6 623.5,246.2 C622.6,238.8 622.0,233.2 621.3,224.5 C620.7,215.8 620.9,211.4 620.2,202.7 C619.6,194.0 618.9,188.4 618.1,181.0 C617.2,173.6 617.0,171.2 615.9,165.8 C614.8,160.3 613.9,153.8 612.6,153.8Z" fill="#00f084"/>
<path d="M190.2,767.5 C190.2,767.5 193.3,749.7 195.7,741.4 C198.1,733.2 199.2,731.4 202.2,726.2 C205.2,721.0 207.4,719.2 210.9,715.3 C214.4,711.4 216.1,709.7 219.6,706.6 C223.1,703.6 225.2,701.4 228.3,700.1 C231.3,698.8 232.8,698.4 234.8,700.1 C236.8,701.9 237.0,703.2 238.1,708.8 C239.2,714.5 239.4,716.6 240.2,728.4 C241.1,740.1 242.4,767.5 242.4,767.5 L190.2,767.5Z" fill="#00f084"/>
<path d="M608.3,223.4 C606.8,223.4 605.7,229.5 603.9,235.3 C602.2,241.2 601.5,245.8 599.6,252.7 C597.6,259.7 596.3,263.6 594.2,270.1 C592.0,276.6 591.1,279.2 588.7,285.3 C586.3,291.4 584.8,294.0 582.2,300.5 C579.6,307.1 578.3,311.0 575.7,317.9 C573.1,324.9 572.2,328.4 569.2,335.3 C566.1,342.3 563.9,346.6 560.5,352.7 C557.0,358.8 554.8,361.1 551.8,365.8 C548.7,370.5 547.4,369.8 545.2,376.2 C543.1,382.6 543.1,390.5 540.9,397.9 C538.7,405.3 537.0,407.9 534.4,413.2 C531.8,418.4 530.5,420.5 527.8,424.0 C525.2,427.5 523.9,430.1 521.3,430.5 C518.7,431.0 517.2,429.2 514.8,426.2 C512.4,423.2 511.1,421.0 509.4,415.3 C507.6,409.7 507.2,405.7 506.1,397.9 C505.0,390.2 505.5,385.7 503.9,376.6 C502.4,367.6 500.5,360.5 498.5,352.7 C496.5,344.9 495.7,338.4 494.2,337.5 C492.6,336.6 492.4,341.9 490.9,348.4 C489.4,354.9 488.5,361.0 486.5,370.1 C484.6,379.2 483.3,384.8 481.1,394.0 C478.9,403.2 478.3,401.9 475.7,416.2 C473.1,430.5 470.9,451.2 468.1,465.3 C465.2,479.5 464.2,478.4 461.5,487.1 C458.9,495.8 457.6,500.1 455.0,508.8 C452.4,517.5 451.1,522.3 448.5,530.5 C445.9,538.8 444.6,541.9 442.0,550.1 C439.4,558.4 438.1,562.3 435.5,571.9 C432.8,581.4 431.1,588.4 428.9,597.9 C426.8,607.5 426.5,612.7 424.6,619.7 C422.6,626.6 421.1,632.3 419.2,632.7 C417.2,633.2 416.1,629.7 414.8,621.9 C413.5,614.0 413.5,604.5 412.6,593.6 C411.8,582.7 411.8,574.5 410.5,567.5 C409.2,560.5 407.8,559.7 406.1,558.8 C404.4,557.9 403.9,558.4 401.8,563.2 C399.6,567.9 398.7,572.3 395.2,582.7 C391.8,593.2 388.7,604.9 384.4,615.3 C380.0,625.8 376.9,626.2 373.5,634.9 C370.1,643.6 370.4,649.7 367.4,658.8 C364.5,667.9 362.2,671.9 358.7,680.5 C355.2,689.2 353.5,693.6 350.0,702.3 C346.5,711.0 344.4,716.2 341.3,724.0 C338.3,731.9 337.2,732.7 334.8,741.4 C332.4,750.1 329.4,767.5 329.4,767.5 L900.0,900.0 L799.6,737.1 L682.2,737.1 C682.2,737.1 682.2,717.9 682.2,680.5 C682.2,643.2 682.6,584.9 682.2,550.1 C681.8,515.3 681.1,524.0 680.0,506.6 C678.9,489.2 678.3,481.2 676.8,463.2 C675.2,445.1 673.5,431.3 672.4,416.2 C671.3,401.1 672.0,398.5 671.3,387.5 C670.7,376.5 670.2,370.1 669.2,361.4 C668.1,352.7 667.2,346.6 665.9,344.0 C664.6,341.4 663.9,344.9 662.6,348.4 C661.3,351.9 660.7,362.3 659.4,361.4 C658.1,360.5 657.6,351.9 656.1,344.0 C654.6,336.2 653.5,331.0 651.8,322.3 C650.0,313.6 648.9,309.2 647.4,300.5 C645.9,291.9 645.7,284.5 644.2,278.8 C642.6,273.2 641.5,272.3 639.8,272.3 C638.1,272.3 637.2,274.0 635.5,278.8 C633.7,283.6 632.8,290.1 631.1,296.2 C629.4,302.3 628.5,308.4 626.8,309.2 C625.0,310.1 624.2,306.6 622.4,300.5 C620.7,294.5 619.6,287.5 618.1,278.8 C616.5,270.1 616.1,265.8 614.8,257.1 C613.5,248.4 612.8,242.1 611.5,235.3 C610.2,228.6 609.8,223.4 608.3,223.4Z" fill="#00c024"/>
<path d="M720.7,577.3 C718.9,577.3 717.7,586.0 715.9,593.6 C714.1,601.2 713.3,606.6 711.5,615.3 C709.8,624.0 708.9,628.4 707.2,637.1 C705.5,645.8 704.8,650.1 702.8,658.8 C700.9,667.5 699.4,672.7 697.4,680.5 C695.5,688.4 694.4,691.9 693.1,697.9 C691.8,704.0 690.9,711.0 690.9,711.0 L732.2,711.0 C732.2,711.0 731.5,695.3 731.1,680.5 C730.7,665.8 730.7,650.1 730.0,637.1 C729.4,624.0 728.9,624.0 727.8,615.3 C726.8,606.6 726.0,601.2 724.6,593.6 C723.2,586.0 722.4,577.3 720.7,577.3Z" fill="#00c024"/>
<path d="M717.0,656.6 C715.2,656.6 714.4,669.2 712.6,676.2 C710.9,683.2 710.0,684.5 708.3,691.4 C706.5,698.4 703.9,711.0 703.9,711.0 L722.4,711.0 C722.4,711.0 722.4,687.1 721.3,676.2 C720.2,665.3 718.7,656.6 717.0,656.6Z" fill="#24c000"/>
<path d="M605.0,289.7 C603.1,288.4 602.6,298.4 600.7,304.9 C598.7,311.4 597.6,315.3 595.2,322.3 C592.8,329.2 591.8,333.6 588.7,339.7 C585.7,345.8 583.9,347.5 580.0,352.7 C576.1,357.9 573.1,361.1 569.2,365.8 C565.2,370.5 562.6,371.5 560.5,376.2 C558.3,380.9 559.6,382.7 558.3,389.2 C557.0,395.8 555.7,400.5 553.9,408.8 C552.2,417.1 551.3,422.7 549.6,430.5 C547.8,438.4 547.4,442.3 545.2,447.9 C543.1,453.6 541.8,454.0 538.7,458.8 C535.7,463.6 533.5,466.6 530.0,471.9 C526.5,477.1 524.8,480.5 521.3,484.9 C517.8,489.2 516.1,492.7 512.6,493.6 C509.2,494.5 505.9,493.2 503.9,489.2 C502.0,485.3 503.3,483.6 502.8,474.0 C502.4,464.5 502.4,453.0 501.8,441.4 C501.1,429.9 500.7,424.8 499.6,416.2 C498.5,407.6 497.6,405.0 496.3,398.4 C495.0,391.8 494.4,383.2 493.1,383.2 C491.8,383.2 491.1,391.8 489.8,398.4 C488.5,405.0 488.3,407.6 486.5,416.2 C484.8,424.8 483.3,432.0 481.1,441.4 C478.9,450.8 477.8,454.5 475.7,463.2 C473.5,471.9 472.2,476.2 470.2,484.9 C468.3,493.6 467.6,497.9 465.9,506.6 C464.2,515.3 463.3,519.7 461.5,528.4 C459.8,537.1 459.2,541.4 457.2,550.1 C455.2,558.8 453.9,563.2 451.8,571.9 C449.6,580.5 448.5,584.9 446.3,593.6 C444.2,602.3 443.3,606.6 440.9,615.3 C438.5,624.0 437.0,628.4 434.4,637.1 C431.8,645.8 430.5,650.1 427.8,658.8 C425.2,667.5 423.7,671.9 421.3,680.5 C418.9,689.2 418.1,693.6 415.9,702.3 C413.7,711.0 412.4,716.2 410.5,724.0 C408.5,731.9 407.6,732.7 406.1,741.4 C404.6,750.1 402.8,767.5 402.8,767.5 L1200.0,900.0 L1200.0,733.0 L671.8,737.1 C671.8,737.1 672.2,704.9 672.4,680.5 C672.7,656.2 672.8,641.4 673.1,615.3 C673.3,589.2 673.4,576.2 673.5,550.1 C673.6,524.0 673.7,506.6 673.5,484.9 C673.3,463.2 673.3,455.2 672.4,441.4 C671.5,427.7 670.0,424.8 669.2,416.2 C668.3,407.6 668.7,405.9 668.1,398.4 C667.4,390.9 667.0,381.9 665.9,378.8 C664.8,375.8 664.2,379.2 662.6,383.2 C661.1,387.1 659.8,397.5 658.3,398.4 C656.8,399.2 656.5,394.0 655.0,387.5 C653.5,381.0 652.4,374.5 650.7,365.8 C648.9,357.1 648.1,352.7 646.3,344.0 C644.6,335.3 643.9,327.9 642.0,322.3 C640.0,316.6 638.7,314.9 636.5,315.8 C634.4,316.6 633.3,321.0 631.1,326.6 C628.9,332.3 627.8,338.8 625.7,344.0 C623.5,349.2 622.4,354.5 620.2,352.7 C618.1,351.0 616.8,343.6 614.8,335.3 C612.8,327.1 612.4,320.5 610.5,311.4 C608.5,302.3 607.0,291.0 605.0,289.7Z" fill="#24c000"/>
<path d="M357.6,767.5 C357.6,767.5 360.7,753.6 363.1,745.8 C365.5,737.9 367.0,735.3 369.6,728.4 C372.2,721.4 373.5,717.5 376.1,711.0 C378.7,704.5 380.2,699.7 382.6,695.8 C385.0,691.9 385.9,691.0 388.1,691.4 C390.2,691.9 391.5,694.0 393.5,697.9 C395.5,701.9 395.7,707.5 397.8,711.0 C400.0,714.5 400.0,715.3 404.4,715.3 C408.7,715.3 416.5,700.5 419.6,711.0 C422.6,721.4 419.6,767.5 419.6,767.5 L357.6,767.5Z" fill="#24c000"/>
<path d="M603.9,359.2 C602.2,359.2 601.5,368.8 599.6,376.6 C597.6,384.5 595.9,390.5 594.2,398.4 C592.4,406.3 592.4,411.9 590.9,416.2 C589.4,420.5 588.3,414.6 586.5,419.7 C584.8,424.7 583.9,432.7 582.2,441.4 C580.5,450.1 579.6,454.5 577.8,463.2 C576.1,471.9 575.2,477.1 573.5,484.9 C571.8,492.7 570.9,495.3 569.2,502.3 C567.4,509.2 566.8,513.2 564.8,519.7 C562.8,526.2 561.5,530.3 559.4,534.9 C557.2,539.5 556.3,541.2 553.9,542.5 C551.5,543.8 550.5,541.6 547.4,541.4 C544.4,541.2 542.2,540.8 538.7,541.4 C535.2,542.1 533.5,542.5 530.0,544.7 C526.5,546.9 524.4,549.0 521.3,552.3 C518.3,555.5 517.2,557.5 514.8,561.0 C512.4,564.5 511.5,565.8 509.4,569.7 C507.2,573.6 505.9,577.1 503.9,580.5 C502.0,584.0 501.3,588.8 499.6,587.1 C497.8,585.3 496.5,579.2 495.2,571.9 C494.0,564.5 493.9,561.0 493.5,550.1 C493.1,539.2 493.2,530.5 493.1,517.5 C492.9,504.5 493.1,495.8 492.6,484.9 C492.2,474.0 491.9,469.5 490.9,463.2 C489.9,456.9 488.9,453.4 487.6,453.4 C486.3,453.4 485.7,456.9 484.4,463.2 C483.1,469.5 482.4,476.2 481.1,484.9 C479.8,493.6 479.2,497.9 477.8,506.6 C476.5,515.3 476.1,519.7 474.6,528.4 C473.1,537.1 472.2,541.4 470.2,550.1 C468.3,558.8 467.2,563.2 464.8,571.9 C462.4,580.5 460.9,584.9 458.3,593.6 C455.7,602.3 454.4,606.6 451.8,615.3 C449.2,624.0 447.8,628.4 445.2,637.1 C442.6,645.8 441.1,650.1 438.7,658.8 C436.3,667.5 435.2,671.9 433.3,680.5 C431.3,689.2 430.7,693.6 428.9,702.3 C427.2,711.0 426.5,716.2 424.6,724.0 C422.6,731.9 421.1,732.7 419.2,741.4 C417.2,750.1 414.8,767.5 414.8,767.5 L663.7,767.5 C663.7,767.5 664.2,724.0 664.8,702.3 C665.4,680.5 665.9,680.5 666.5,658.8 C667.2,637.1 667.5,619.7 668.1,593.6 C668.6,567.5 668.7,554.5 669.2,528.4 C669.6,502.3 670.2,484.9 670.2,463.2 C670.3,441.4 669.9,430.5 669.6,419.7 C669.3,408.8 669.2,408.8 668.7,408.8 C668.2,408.8 667.8,412.3 667.0,419.7 C666.1,427.1 665.7,437.9 664.4,445.8 C663.1,453.6 662.1,459.7 660.5,458.8 C658.8,457.9 657.8,449.9 656.1,441.4 C654.4,432.9 653.3,424.8 651.8,416.2 C650.2,407.6 650.0,405.9 648.5,398.4 C647.0,390.9 645.7,385.8 644.2,378.8 C642.6,371.9 642.2,363.6 640.9,363.6 C639.6,363.6 639.2,371.9 637.6,378.8 C636.1,385.8 634.6,386.7 633.3,398.4 C632.0,410.0 632.2,425.0 631.1,437.1 C630.0,449.2 628.9,453.2 627.8,458.8 C626.8,464.5 626.5,465.3 625.7,465.3 C624.8,465.3 624.8,464.5 623.5,458.8 C622.2,453.2 620.7,445.6 619.2,437.1 C617.6,428.5 617.2,423.9 615.9,416.2 C614.6,408.5 614.2,406.3 612.6,398.4 C611.1,390.5 610.0,384.5 608.3,376.6 C606.5,368.8 605.7,359.2 603.9,359.2Z" fill="#84f000"/>
<path d="M429.6,767.5 C429.6,767.5 432.5,750.1 434.4,741.4 C436.2,732.7 437.0,731.9 438.7,724.0 C440.5,716.2 441.1,711.0 443.1,702.3 C445.0,693.6 446.3,689.2 448.5,680.5 C450.7,671.9 451.8,667.5 453.9,658.8 C456.1,650.1 457.2,645.8 459.4,637.1 C461.5,628.4 462.8,623.2 464.8,615.3 C466.8,607.5 467.8,602.7 469.2,597.9 C470.5,593.2 470.8,591.0 471.8,591.4 C472.7,591.9 473.2,594.5 473.9,600.1 C474.6,605.8 474.9,610.1 475.2,619.7 C475.6,629.2 475.4,635.8 475.7,647.9 C476.0,660.1 475.9,669.7 476.8,680.5 C477.6,691.4 478.5,696.4 480.0,702.3 C481.5,708.2 482.2,709.9 484.4,709.9 C486.5,709.9 488.3,706.4 490.9,702.3 C493.5,698.2 494.8,694.0 497.4,689.2 C500.0,684.5 501.3,682.7 503.9,678.4 C506.5,674.0 507.8,671.0 510.5,667.5 C513.1,664.0 514.8,662.5 517.0,661.0 C519.2,659.5 519.4,659.0 521.3,659.9 C523.3,660.8 524.6,662.1 526.8,665.3 C528.9,668.6 529.8,672.7 532.2,676.2 C534.6,679.7 536.1,681.2 538.7,682.7 C541.3,684.2 542.6,685.1 545.2,683.8 C547.8,682.5 549.4,681.2 551.8,676.2 C554.2,671.2 555.0,666.6 557.2,658.8 C559.4,651.0 560.5,645.8 562.6,637.1 C564.8,628.4 565.9,624.0 568.1,615.3 C570.2,606.6 571.5,600.5 573.5,593.6 C575.5,586.6 576.1,585.8 577.8,580.5 C579.6,575.3 580.5,573.6 582.2,567.5 C583.9,561.4 585.2,557.9 586.5,550.1 C587.8,542.3 587.8,536.2 588.7,528.4 C589.6,520.5 590.0,520.5 590.9,511.0 C591.8,501.4 592.0,491.0 593.1,480.5 C594.2,470.1 594.8,466.2 596.3,458.8 C597.8,451.4 599.2,447.5 600.7,443.6 C602.1,439.7 602.2,438.4 603.5,439.2 C604.8,440.1 605.6,442.3 607.2,447.9 C608.8,453.6 609.8,459.2 611.5,467.5 C613.3,475.8 614.4,480.5 615.9,489.2 C617.4,497.9 617.6,501.4 619.2,511.0 C620.7,520.5 622.0,527.9 623.5,537.1 C625.0,546.2 625.5,551.0 626.8,556.6 C628.1,562.3 628.7,565.3 630.0,565.3 C631.3,565.3 632.2,564.0 633.3,556.6 C634.4,549.2 634.6,542.7 635.5,528.4 C636.3,514.0 636.8,500.1 637.6,484.9 C638.5,469.7 638.7,462.5 639.8,452.3 C640.9,442.1 641.8,436.0 643.1,433.8 C644.4,431.6 645.0,435.5 646.3,441.4 C647.6,447.3 648.3,452.3 649.6,463.2 C650.9,474.0 651.5,483.6 652.8,495.8 C654.2,507.9 654.8,514.9 656.1,524.0 C657.4,533.2 658.3,534.0 659.4,541.4 C660.5,548.8 660.9,550.5 661.5,561.0 C662.2,571.4 662.4,578.4 662.6,593.6 C662.8,608.8 662.8,619.7 662.6,637.1 C662.4,654.5 662.2,667.5 661.5,680.5 C660.9,693.6 660.0,693.6 659.4,702.3 C658.7,711.0 658.7,711.0 658.3,724.0 C657.8,737.1 657.2,767.5 657.2,767.5 L429.6,767.5Z" fill="#e4f800"/>
<path d="M560.5,767.5 C560.5,767.5 562.8,750.1 564.8,741.4 C566.8,732.7 568.1,731.9 570.2,724.0 C572.4,716.2 573.7,711.0 575.7,702.3 C577.6,693.6 578.3,689.2 580.0,680.5 C581.8,671.9 582.6,667.5 584.4,658.8 C586.1,650.1 587.2,645.8 588.7,637.1 C590.2,628.4 590.7,624.0 592.0,615.3 C593.3,606.6 594.2,602.3 595.2,593.6 C596.3,584.9 596.3,579.7 597.4,571.9 C598.5,564.0 599.3,559.5 600.7,554.5 C602.1,549.5 602.8,547.3 604.4,546.9 C605.9,546.4 606.8,548.2 608.3,552.3 C609.7,556.4 610.2,561.0 611.5,567.5 C612.8,574.0 613.7,577.5 614.8,584.9 C615.9,592.3 616.1,596.2 617.0,604.5 C617.8,612.7 618.3,617.5 619.2,626.2 C620.0,634.9 620.5,639.2 621.3,647.9 C622.2,656.6 622.6,661.0 623.5,669.7 C624.4,678.4 624.8,682.7 625.7,691.4 C626.5,700.1 626.8,704.9 627.8,713.2 C628.9,721.4 629.8,726.2 631.1,732.7 C632.4,739.2 633.4,738.8 634.4,745.8 C635.3,752.7 635.9,767.5 635.9,767.5 L560.5,767.5Z" fill="#fcc000"/>
<path d="M640.5,734.9 C640.5,734.9 641.4,725.7 642.0,721.9 C642.5,718.0 643.2,711.7 643.7,712.1 C644.3,712.4 644.9,720.2 645.2,724.0 C645.6,727.8 645.7,734.9 645.7,734.9 L640.5,734.9Z" fill="#fcc000"/>
<path d="M585.5,767.5 C585.5,767.5 587.2,745.8 588.7,734.9 C590.2,724.0 591.3,721.0 593.1,713.2 C594.8,705.3 595.5,701.4 597.4,695.8 C599.4,690.1 600.9,687.5 602.8,684.9 C604.8,682.3 605.7,681.4 607.2,682.7 C608.7,684.0 609.4,685.3 610.5,691.4 C611.5,697.5 611.8,704.5 612.6,713.2 C613.5,721.9 614.2,724.0 614.8,734.9 C615.5,745.8 615.9,767.5 615.9,767.5 L585.5,767.5Z" fill="#fc6c00"/>
<path d="M736.5,702.3 L740.9,702.3 L740.9,737.1 L736.5,737.1Z" fill="#00f084"/>
<path d="M-2.0,790.0 L-2.0,758.7 L577.1,758.7 L577.1,732.6 L583.7,732.6 L583.7,758.7 L635.8,758.7 L635.8,732.6 L702.7,732.6 L702.7,706.5 L736.9,706.5 L736.9,732.6 L740.2,732.6 L740.2,706.5 L785.0,706.5 L790.0,706.5 L790.0,790.0Z" fill="#fff"/>
<path d="M0.0,758.7 L577.1,758.7 L577.1,732.6 L583.7,732.6 L583.7,758.7 L635.8,758.7 L635.8,732.6 L702.7,732.6 L702.7,706.5 L736.9,706.5 L736.9,732.6 L740.2,732.6 L740.2,706.5 L785.0,706.5" fill="none" stroke="#000" stroke-width="1.0"/>
<path d="M-0.0,117.0 C5.6,116.5 22.7,115.0 33.9,114.1 C45.1,113.1 58.1,111.8 67.0,111.2 C76.0,110.6 80.1,109.2 87.7,110.3 C95.3,111.5 103.6,115.3 112.6,118.2 C121.6,121.1 130.5,124.8 141.6,127.7 C152.6,130.7 165.0,135.1 178.8,136.0 C192.6,137.0 210.6,133.3 224.4,133.5 C238.2,133.8 252.0,137.8 261.7,137.7 C271.3,137.5 273.4,133.5 282.4,132.7 C291.3,131.9 303.1,131.8 315.5,132.7 C327.9,133.6 343.1,138.4 356.9,138.1 C370.7,137.8 385.9,131.5 398.3,131.1 C410.7,130.6 419.7,134.9 431.4,135.2 C443.2,135.5 457.6,134.0 468.7,132.7 C479.7,131.5 489.4,129.6 497.7,127.7 C506.0,125.9 510.8,121.7 518.4,121.5 C526.0,121.3 535.6,124.5 543.2,126.5 C550.8,128.5 557.7,133.0 563.9,133.5 C570.1,134.1 575.7,129.3 580.5,129.8 C585.3,130.4 588.8,134.1 592.9,136.8 C597.1,139.6 600.5,145.1 605.3,146.4 C610.2,147.6 616.4,145.2 621.9,144.3 C627.4,143.4 633.6,141.2 638.5,141.0 C643.3,140.8 646.1,141.1 650.9,143.1 C655.7,145.0 660.5,149.8 667.4,152.6 C674.3,155.3 685.4,158.7 692.3,159.6 C699.2,160.6 701.3,158.0 708.9,158.4 C716.4,158.7 728.9,161.3 737.8,161.7 C746.8,162.1 754.9,160.7 762.7,160.9 C770.5,161.0 781.0,162.2 784.6,162.5" fill="none" stroke="#000" stroke-width="0.65" stroke-linejoin="round"/>
<path d="M-0.0,156.7 C4.9,157.2 20.0,160.2 29.8,159.6 C39.6,159.1 49.1,155.0 58.8,153.4 C68.4,151.8 78.1,149.4 87.7,150.1 C97.4,150.8 107.1,154.8 116.7,157.6 C126.4,160.3 135.4,164.2 145.7,166.7 C156.1,169.1 165.7,171.4 178.8,172.0 C191.9,172.7 210.6,170.0 224.4,170.8 C238.2,171.6 250.6,176.8 261.7,177.0 C272.7,177.2 280.3,172.5 290.6,172.0 C301.0,171.6 312.7,172.7 323.8,174.1 C334.8,175.6 345.8,180.1 356.9,180.7 C367.9,181.4 378.3,179.0 390.0,178.3 C401.7,177.5 415.6,177.2 427.3,176.2 C439.0,175.2 450.1,173.6 460.4,172.0 C470.8,170.5 480.4,168.2 489.4,166.7 C498.4,165.1 506.0,162.1 514.2,162.5 C522.5,162.9 530.8,167.4 539.1,169.1 C547.4,170.9 556.3,172.5 563.9,173.3 C571.5,174.1 579.1,172.3 584.6,174.1 C590.2,176.0 592.9,181.8 597.1,184.5 C601.2,187.1 604.0,189.6 609.5,189.9 C615.0,190.1 623.3,186.6 630.2,185.7 C637.1,184.8 644.0,182.6 650.9,184.5 C657.8,186.3 664.7,193.8 671.6,196.9 C678.5,200.0 686.1,202.6 692.3,203.1 C698.5,203.6 702.6,199.7 708.9,199.8 C715.1,199.9 722.7,203.7 729.6,203.9 C736.5,204.1 741.1,201.2 750.3,201.0 C759.4,200.9 778.9,202.8 784.6,203.1" fill="none" stroke="#000" stroke-width="0.65" stroke-linejoin="round"/>
<path d="M-0.0,197.3 C4.2,199.1 16.5,207.1 25.6,208.1 C34.7,209.0 44.3,204.5 54.6,203.1 C65.0,201.7 80.1,200.6 87.7,199.8 C95.3,199.0 93.3,197.4 100.2,198.1 C107.1,198.8 119.5,202.4 129.1,203.9 C138.8,205.4 147.8,207.2 158.1,207.2 C168.5,207.3 180.2,204.1 191.3,204.3 C202.3,204.6 212.7,207.0 224.4,208.5 C236.1,210.0 250.6,212.3 261.7,213.5 C272.7,214.6 280.3,214.8 290.6,215.5 C301.0,216.2 312.7,216.0 323.8,217.6 C334.8,219.2 345.8,224.0 356.9,225.0 C367.9,226.1 379.0,225.2 390.0,223.8 C401.1,222.4 412.8,219.2 423.1,216.8 C433.5,214.4 442.5,211.9 452.1,209.3 C461.8,206.7 472.1,203.3 481.1,201.0 C490.1,198.8 497.7,196.1 506.0,195.6 C514.2,195.2 522.5,196.2 530.8,198.1 C539.1,200.1 548.7,204.3 555.6,207.2 C562.5,210.1 567.4,212.1 572.2,215.5 C577.0,219.0 579.1,224.8 584.6,227.9 C590.2,231.1 598.4,234.5 605.3,234.2 C612.2,233.8 619.8,226.2 626.0,225.9 C632.3,225.5 637.1,231.4 642.6,232.1 C648.1,232.8 653.0,228.6 659.2,230.0 C665.4,231.4 673.7,238.3 679.9,240.4 C686.1,242.4 690.2,241.2 696.4,242.4 C702.6,243.7 710.2,246.4 717.1,247.8 C724.0,249.2 730.9,250.9 737.8,250.7 C744.7,250.5 750.7,247.5 758.5,246.6 C766.3,245.7 780.3,245.5 784.6,245.3" fill="none" stroke="#000" stroke-width="0.65" stroke-linejoin="round"/>
<path d="M-0.0,236.2 C4.2,239.5 16.5,253.5 25.6,256.1 C34.7,258.7 44.3,253.8 54.6,252.0 C65.0,250.2 77.4,246.9 87.7,245.3 C98.1,243.7 107.1,242.2 116.7,242.4 C126.4,242.6 136.0,246.1 145.7,246.6 C155.4,247.1 165.7,245.8 174.7,245.3 C183.7,244.9 191.3,243.0 199.5,243.7 C207.8,244.4 215.4,247.8 224.4,249.5 C233.4,251.1 243.7,251.7 253.4,253.6 C263.0,255.6 272.0,259.6 282.4,261.1 C292.7,262.5 303.1,260.4 315.5,262.3 C327.9,264.2 344.5,271.4 356.9,272.7 C369.3,274.0 379.0,272.0 390.0,270.2 C401.1,268.4 412.8,264.7 423.1,261.9 C433.5,259.1 442.5,256.4 452.1,253.6 C461.8,250.9 472.1,247.4 481.1,245.3 C490.1,243.3 497.7,241.2 506.0,241.2 C514.2,241.2 523.2,242.7 530.8,245.3 C538.4,248.0 544.6,254.4 551.5,256.9 C558.4,259.4 566.7,258.9 572.2,260.2 C577.7,261.6 580.5,262.7 584.6,265.2 C588.8,267.8 592.2,274.3 597.1,275.6 C601.9,276.8 608.1,273.6 613.6,272.7 C619.1,271.8 624.0,269.5 630.2,270.2 C636.4,270.9 644.0,274.7 650.9,276.8 C657.8,278.9 664.7,281.2 671.6,282.6 C678.5,284.0 685.4,283.8 692.3,285.1 C699.2,286.3 706.1,288.0 713.0,290.1 C719.9,292.1 726.1,296.8 733.7,297.5 C741.3,298.2 750.1,295.3 758.5,294.2 C767.0,293.1 780.3,291.4 784.6,290.9" fill="none" stroke="#000" stroke-width="0.65" stroke-linejoin="round"/>
<path d="M-0.0,292.1 C4.2,294.4 15.8,304.4 25.6,305.8 C35.4,307.2 47.7,302.3 58.8,300.4 C69.8,298.5 81.5,295.6 91.9,294.2 C102.2,292.8 111.2,291.8 120.9,292.1 C130.5,292.5 140.2,295.7 149.8,296.3 C159.5,296.8 170.6,295.8 178.8,295.4 C187.1,295.1 191.9,293.4 199.5,294.2 C207.1,295.0 216.1,298.7 224.4,300.4 C232.7,302.1 239.6,300.9 249.2,304.6 C258.9,308.2 271.3,320.1 282.4,322.4 C293.4,324.6 306.5,319.0 315.5,318.2 C324.5,317.4 329.3,316.4 336.2,317.4 C343.1,318.4 347.9,323.5 356.9,324.0 C365.9,324.5 379.0,322.5 390.0,320.3 C401.1,318.1 412.8,313.9 423.1,310.8 C433.5,307.7 442.5,304.3 452.1,301.7 C461.8,299.0 472.8,295.9 481.1,295.0 C489.4,294.1 494.9,294.3 501.8,296.3 C508.7,298.2 515.6,305.2 522.5,306.6 C529.4,308.1 536.3,303.6 543.2,305.0 C550.1,306.3 557.0,311.5 563.9,314.9 C570.8,318.3 578.8,323.9 584.6,325.3 C590.5,326.6 594.3,324.4 599.1,323.2 C604.0,322.0 607.1,319.7 613.6,318.2 C620.2,316.7 631.6,314.1 638.5,314.1 C645.4,314.1 649.5,317.7 655.0,318.2 C660.5,318.7 665.4,315.5 671.6,317.0 C677.8,318.5 685.4,323.9 692.3,327.3 C699.2,330.8 706.8,334.1 713.0,337.7 C719.2,341.3 723.3,347.7 729.6,348.9 C735.8,350.0 744.1,346.4 750.3,344.7 C756.5,343.1 761.1,340.6 766.8,338.9 C772.6,337.3 781.7,335.5 784.6,334.8" fill="none" stroke="#000" stroke-width="0.65" stroke-linejoin="round"/>
<path d="M-0.0,360.5 C4.2,359.8 16.5,357.8 25.6,356.3 C34.7,354.8 43.6,352.4 54.6,351.3 C65.7,350.3 80.8,350.8 91.9,350.1 C102.9,349.4 111.2,346.7 120.9,347.2 C130.5,347.7 140.9,351.8 149.8,353.0 C158.8,354.2 166.4,354.4 174.7,354.2 C183.0,354.1 191.3,351.8 199.5,352.2 C207.8,352.5 216.1,354.9 224.4,356.3 C232.7,357.7 240.3,356.8 249.2,360.5 C258.2,364.1 268.6,376.2 278.2,378.3 C287.9,380.3 297.5,374.6 307.2,372.9 C316.9,371.1 327.9,367.9 336.2,367.9 C344.5,367.9 348.6,373.1 356.9,372.9 C365.2,372.7 376.2,369.4 385.9,366.7 C395.5,363.9 405.9,360.0 414.9,356.3 C423.8,352.7 432.8,346.0 439.7,344.7 C446.6,343.5 449.4,347.8 456.3,348.9 C463.2,350.0 472.8,349.5 481.1,351.3 C489.4,353.1 498.4,358.0 506.0,359.6 C513.5,361.3 521.1,360.5 526.7,361.3 C532.2,362.1 539.1,364.6 539.1,364.6 C539.1,364.6 541.7,376.3 542.4,389.4 C543.1,402.5 542.4,430.8 543.2,443.3 C544.1,455.7 545.3,461.9 547.4,464.0 C549.4,466.0 552.5,452.6 555.6,455.7 C558.8,458.8 563.2,481.2 566.0,482.6 C568.8,484.0 570.1,474.0 572.2,464.0 C574.3,454.0 576.4,435.0 578.4,422.6 C580.5,410.1 582.2,397.0 584.6,389.4 C587.0,381.8 589.5,380.5 592.9,377.0 C596.4,373.6 600.5,370.8 605.3,368.7 C610.2,366.7 616.4,366.1 621.9,364.6 C627.4,363.1 632.9,359.1 638.5,359.6 C644.0,360.2 649.5,365.0 655.0,367.9 C660.5,370.8 665.4,376.2 671.6,377.0 C677.8,377.8 686.1,371.8 692.3,372.9 C698.5,373.9 704.0,378.4 708.9,383.2 C713.7,388.1 718.2,396.8 721.3,401.9 C724.4,406.9 724.7,413.5 727.5,413.5 C730.3,413.5 734.0,404.1 737.8,401.9 C741.6,399.6 745.4,402.2 750.3,399.8 C755.1,397.4 761.1,390.5 766.8,387.4 C772.6,384.3 781.7,382.2 784.6,381.2" fill="none" stroke="#000" stroke-width="0.65" stroke-linejoin="round"/>
<path d="M-0.0,415.5 C4.2,414.8 16.5,411.5 25.6,411.0 C34.7,410.4 44.3,411.1 54.6,412.2 C65.0,413.3 78.8,415.0 87.7,417.6 C96.7,420.1 102.2,424.4 108.4,427.5 C114.7,430.6 118.1,436.0 125.0,436.2 C131.9,436.4 141.6,431.9 149.8,428.8 C158.1,425.7 166.4,420.0 174.7,417.6 C183.0,415.2 191.3,413.5 199.5,414.3 C207.8,415.1 216.1,421.9 224.4,422.6 C232.7,423.3 240.3,418.6 249.2,418.4 C258.2,418.3 268.6,422.4 278.2,421.7 C287.9,421.0 297.5,416.8 307.2,414.3 C316.9,411.8 327.9,407.8 336.2,406.8 C344.5,405.9 350.7,407.8 356.9,408.7 C363.1,409.6 367.9,410.1 373.5,412.0 C379.0,413.9 385.5,416.1 390.0,420.3 C394.5,424.4 398.0,430.6 400.4,436.8 C402.8,443.1 404.2,447.9 404.5,457.6 C404.9,467.2 403.6,483.8 402.4,494.8 C401.3,505.9 399.2,516.9 397.5,523.8 C395.7,530.7 393.9,532.8 392.1,536.2 C390.3,539.7 389.8,540.1 386.7,544.5 C383.6,548.9 377.9,557.8 373.5,562.7 C369.0,567.7 364.6,569.6 360.2,574.3 C355.8,579.0 351.6,587.6 347.0,590.9 C342.3,594.2 339.8,591.7 332.0,594.2 C324.3,596.7 311.3,602.5 300.6,605.8 C289.8,609.1 276.8,611.6 267.4,614.1 C258.1,616.6 251.4,619.3 244.3,620.7 C237.1,622.1 231.8,620.1 224.4,622.4 C216.9,624.6 206.4,630.1 199.5,634.0 C192.6,637.8 187.7,643.1 183.0,645.5 C178.3,648.0 175.5,649.1 171.4,648.9 C167.2,648.6 162.5,645.1 158.1,643.9 C153.7,642.6 149.8,641.0 144.9,641.4 C139.9,641.8 133.3,644.7 128.3,646.4 C123.3,648.0 119.8,651.5 115.1,651.3 C110.4,651.2 104.6,646.0 100.2,645.5 C95.7,645.1 92.2,646.4 88.6,648.9 C85.0,651.3 81.7,657.1 78.6,660.5 C75.6,663.8 73.4,668.0 70.3,668.7 C67.3,669.4 63.2,665.6 60.4,664.6 C57.6,663.6 56.8,662.2 53.8,662.9 C50.7,663.6 45.8,666.9 42.2,668.7 C38.6,670.5 35.6,673.1 32.3,673.7 C28.9,674.3 26.2,673.7 22.3,672.0 C18.4,670.4 12.8,665.6 9.1,663.8 C5.3,662.0 1.5,661.7 -0.0,661.3" fill="none" stroke="#000" stroke-width="0.65" stroke-linejoin="round"/>
<path d="M396.2,573.5 C395.5,582.5 396.9,595.8 398.3,602.5 C399.7,609.2 401.7,611.6 404.5,613.7 C407.3,615.7 410.4,615.4 414.9,614.9 C419.3,614.4 425.9,613.5 431.4,610.8 C436.9,608.0 442.5,602.5 448.0,598.3 C453.5,594.2 459.0,590.1 464.5,585.9 C470.1,581.8 476.3,578.3 481.1,573.5 C485.9,568.7 489.7,563.8 493.5,556.9 C497.3,550.0 501.1,537.7 503.9,532.1 C506.6,526.4 508.2,525.7 510.1,523.0 C512.0,520.2 513.0,516.8 515.1,515.5 C517.1,514.3 520.8,514.3 522.5,515.5 C524.2,516.8 526.0,520.9 525.4,523.0 C524.9,525.0 521.4,527.8 519.2,527.9 C517.0,528.1 514.7,526.6 512.2,523.8 C509.6,521.0 506.6,515.9 503.9,511.4 C501.1,506.9 498.4,502.8 495.6,496.9 C492.8,491.0 490.4,482.4 487.3,476.2 C484.2,470.0 480.1,460.0 477.0,459.6 C473.9,459.3 471.5,468.2 468.7,474.1 C465.9,480.0 463.2,488.6 460.4,494.8 C457.6,501.0 454.9,509.0 452.1,511.4 C449.4,513.8 447.3,511.4 443.8,509.3 C440.4,507.2 434.5,499.0 431.4,499.0 C428.3,499.0 427.3,505.2 425.2,509.3 C423.1,513.5 421.4,520.4 419.0,523.8 C416.6,527.3 413.5,525.9 410.7,530.0 C408.0,534.2 404.9,541.4 402.4,548.6 C400.0,555.9 396.9,564.5 396.2,573.5Z" fill="none" stroke="#000" stroke-width="0.65" stroke-linejoin="round"/>
<path d="M19.8,555.3 C21.2,550.4 21.1,547.7 25.6,545.3 C30.2,543.0 41.6,542.9 47.2,541.2 C52.7,539.5 54.6,537.5 58.8,535.4 C62.9,533.3 68.0,529.2 72.0,528.8 C76.0,528.4 80.0,531.7 82.8,532.9 C85.5,534.2 86.5,536.6 88.6,536.2 C90.6,535.8 92.4,534.2 95.2,530.4 C98.0,526.7 101.8,517.2 105.1,513.9 C108.4,510.6 112.0,511.4 115.1,510.6 C118.1,509.7 118.9,511.1 123.3,508.9 C127.8,506.7 135.8,500.2 141.6,497.3 C147.4,494.4 153.2,493.7 158.1,491.5 C163.1,489.3 167.2,486.5 171.4,484.1 C175.5,481.6 177.2,477.0 183.0,476.6 C188.8,476.2 199.3,481.2 206.2,481.6 C213.1,482.0 217.8,480.3 224.4,479.1 C231.0,477.8 239.3,475.8 245.9,474.1 C252.5,472.5 259.4,470.7 264.1,469.1 C268.8,467.6 270.8,466.9 274.1,465.0 C277.4,463.1 280.4,457.7 284.0,457.6 C287.6,457.4 290.8,462.2 295.6,464.2 C300.4,466.1 307.9,468.9 312.6,469.1 C317.3,469.4 320.5,468.5 323.8,465.8 C327.0,463.2 329.3,457.0 332.0,453.4 C334.8,449.8 336.9,446.0 340.3,444.3 C343.8,442.6 348.6,442.6 352.7,443.1 C356.9,443.5 361.0,444.8 365.2,447.2 C369.3,449.6 374.5,453.1 377.6,457.6 C380.7,462.0 382.4,467.9 383.8,474.1 C385.2,480.3 386.2,487.9 385.9,494.8 C385.5,501.7 384.1,509.0 381.7,515.5 C379.3,522.1 375.5,528.6 371.4,534.2 C367.2,539.7 361.4,545.9 356.9,548.6 C352.4,551.4 348.6,551.1 344.5,550.7 C340.3,550.4 336.2,548.4 332.0,546.6 C327.9,544.7 322.9,540.2 319.6,539.5 C316.4,538.9 316.0,540.9 312.6,542.9 C309.1,544.8 304.0,547.0 298.9,551.1 C293.9,555.3 289.3,562.5 282.4,567.7 C275.5,572.9 264.4,579.0 257.5,582.6 C250.6,586.2 247.8,587.6 240.9,589.2 C234.0,590.9 224.4,590.1 216.1,592.5 C207.8,595.0 198.2,601.0 191.3,604.1 C184.4,607.3 180.2,611.2 174.7,611.6 C169.2,612.0 164.2,607.6 158.1,606.6 C152.1,605.7 143.8,605.2 138.3,605.8 C132.7,606.3 128.9,608.8 125.0,609.9 C121.1,611.0 118.4,613.4 115.1,612.4 C111.8,611.5 108.4,606.5 105.1,604.1 C101.8,601.8 98.0,599.2 95.2,598.3 C92.4,597.5 91.3,597.1 88.6,599.2 C85.8,601.2 81.8,606.8 78.6,610.8 C75.5,614.8 72.0,622.1 69.5,623.2 C67.0,624.3 65.8,619.3 63.7,617.4 C61.7,615.5 59.3,611.9 57.1,611.6 C54.9,611.3 52.4,613.1 50.5,615.7 C48.5,618.4 48.0,624.7 45.5,627.3 C43.0,629.9 39.3,631.5 35.6,631.5 C31.8,631.5 25.9,632.7 23.1,627.3 C20.4,621.9 20.0,608.0 19.0,599.2 C18.0,590.3 17.2,581.6 17.3,574.3 C17.5,567.0 18.4,560.1 19.8,555.3Z" fill="none" stroke="#000" stroke-width="0.65" stroke-linejoin="round"/>
<path d="M-0.0,695.2 C2.0,695.1 7.5,695.1 12.4,694.4 C17.2,693.7 24.0,691.1 28.9,691.1 C33.9,691.1 37.2,693.0 42.2,694.4 C47.2,695.8 54.3,698.8 58.8,699.4 C63.2,699.9 64.3,697.2 68.7,697.7 C73.1,698.3 78.6,701.3 85.3,702.7 C91.9,704.1 99.1,705.0 108.4,706.0 C117.8,707.0 130.5,708.0 141.6,708.5 C152.6,709.0 163.7,708.9 174.7,708.9 C185.7,708.9 196.8,708.5 207.8,708.5 C218.9,708.5 229.9,709.5 240.9,708.9 C252.0,708.3 264.1,706.6 274.1,705.2 C284.0,703.7 292.0,701.6 300.6,700.2 C309.1,698.8 317.1,699.4 325.4,696.9 C333.7,694.4 342.0,689.2 350.3,685.3 C358.5,681.4 366.8,676.7 375.1,673.7 C383.4,670.7 391.7,669.8 400.0,667.1 C408.2,664.3 416.5,660.5 424.8,657.1 C433.1,653.8 441.4,650.8 449.6,647.2 C457.9,643.6 466.2,640.6 474.5,635.6 C482.8,630.6 491.1,623.5 499.3,617.4 C507.6,611.3 515.9,605.2 524.2,599.2 C532.5,593.1 542.1,584.3 549.0,580.9 C555.9,577.6 560.9,581.8 565.6,579.3 C570.3,576.8 574.1,571.8 577.2,566.0 C580.2,560.2 582.0,551.5 583.8,544.5 C585.6,537.5 586.8,531.4 587.9,523.8 C589.0,516.2 589.7,507.2 590.4,499.0 C591.1,490.7 591.5,483.1 592.1,474.1 C592.6,465.1 592.8,451.3 593.7,445.1 C594.7,438.9 596.0,439.3 597.9,436.8 C599.8,434.4 602.0,432.4 605.3,430.6 C608.6,428.9 612.2,428.2 617.8,426.5 C623.3,424.8 632.3,423.0 638.5,420.3 C644.7,417.5 650.9,411.9 655.0,409.9 C659.2,408.0 661.2,407.7 663.3,408.7 C665.4,409.7 667.1,412.1 667.4,416.1 C667.8,420.1 666.1,424.4 665.4,432.7 C664.7,441.0 663.5,455.1 663.3,465.8 C663.1,476.5 663.4,493.4 664.1,496.9 C664.8,500.3 666.3,493.8 667.4,486.5 C668.6,479.3 669.7,463.1 670.8,453.4 C671.8,443.7 672.7,431.3 673.7,428.6 C674.6,425.8 675.4,433.7 676.6,436.8 C677.7,440.0 679.3,447.2 680.7,447.2 C682.1,447.2 683.5,441.7 684.8,436.8 C686.2,432.0 687.4,421.7 689.0,418.2 C690.6,414.8 692.8,413.7 694.4,416.1 C696.0,418.6 696.8,424.4 698.5,432.7 C700.2,441.0 702.3,455.5 704.7,465.8 C707.1,476.2 710.2,487.9 713.0,494.8 C715.8,501.7 717.1,507.2 721.3,507.2 C725.4,507.2 732.3,500.3 737.8,494.8 C743.4,489.3 748.9,481.0 754.4,474.1 C759.9,467.2 765.9,457.9 771.0,453.4 C776.0,448.9 782.4,448.2 784.6,447.2" fill="none" stroke="#000" stroke-width="0.65" stroke-linejoin="round"/>
<path d="M-0.0,726.7 C7.0,727.4 26.9,729.5 42.2,730.8 C57.5,732.2 75.3,733.5 91.9,735.0 C108.4,736.5 127.8,738.7 141.6,740.0 C155.4,741.2 160.9,741.7 174.7,742.4 C188.5,743.1 207.8,743.3 224.4,744.1 C240.9,744.9 261.4,746.9 274.1,747.4 C286.8,748.0 290.6,747.5 300.6,747.4 C310.5,747.3 324.0,748.6 333.7,746.6 C343.4,744.5 351.6,738.6 358.5,735.0 C365.4,731.4 369.9,727.7 375.1,725.0 C380.4,722.4 386.2,719.3 390.0,719.3 C393.9,719.3 396.2,721.6 398.3,725.0 C400.4,728.5 401.6,734.4 402.4,740.0 C403.3,745.5 403.1,755.1 403.3,758.2" fill="none" stroke="#000" stroke-width="0.65" stroke-linejoin="round"/>
<path d="M784.6,515.5 C782.4,516.9 775.3,519.7 771.0,523.8 C766.6,527.9 762.7,534.2 758.5,540.4 C754.4,546.6 751.0,556.2 746.1,561.1 C741.3,565.9 734.4,567.3 729.6,569.4 C724.7,571.4 721.3,573.8 717.1,573.5 C713.0,573.1 708.9,568.0 704.7,567.3 C700.6,566.6 696.3,571.1 692.3,569.4 C688.3,567.6 684.1,556.9 680.7,556.9 C677.2,556.9 675.9,564.5 671.6,569.4 C667.3,574.2 661.2,581.8 655.0,585.9 C648.8,590.1 641.2,592.1 634.3,594.2 C627.4,596.3 619.8,596.3 613.6,598.3 C607.4,600.4 601.6,603.6 597.1,606.6 C592.5,609.7 591.8,612.6 586.3,616.6 C580.8,620.6 570.1,628.7 563.9,630.6 C557.7,632.6 555.6,625.9 549.0,628.2 C542.4,630.4 532.5,639.1 524.2,643.9 C515.9,648.7 507.6,652.2 499.3,657.1 C491.1,662.1 482.8,668.7 474.5,673.7 C466.2,678.7 457.6,682.7 449.6,687.0 C441.6,691.2 432.0,697.2 426.5,699.4 C420.9,701.6 419.6,699.0 416.5,700.2 C413.5,701.4 409.8,703.1 408.2,706.8 C406.7,710.6 407.3,717.9 407.4,722.6 C407.5,727.3 407.8,730.4 409.1,735.0 C410.3,739.5 412.5,749.2 414.9,749.9 C417.2,750.6 421.1,741.6 423.1,739.1 C425.2,736.6 425.6,734.0 427.3,735.0 C428.9,736.0 431.0,741.9 433.1,744.9 C435.2,748.0 436.9,752.7 439.7,753.2 C442.5,753.8 445.8,750.0 449.6,748.2 C453.5,746.4 458.8,743.1 462.9,742.4 C467.0,741.7 471.2,743.1 474.5,744.1 C477.8,745.1 479.2,747.7 482.8,748.2 C486.4,748.8 491.9,748.8 496.0,747.4 C500.2,746.0 503.7,741.5 507.6,740.0 C511.5,738.4 515.1,739.7 519.2,738.3 C523.3,736.9 527.5,735.5 532.5,731.7 C537.4,727.8 544.6,720.6 549.0,715.1 C553.4,709.6 555.9,702.4 559.0,698.5 C562.0,694.7 564.2,692.2 567.2,691.9 C570.3,691.6 573.8,697.2 577.2,696.9 C580.6,696.6 583.5,689.1 587.5,690.3 C591.5,691.4 596.8,704.1 601.2,703.9 C605.5,703.8 608.1,692.9 613.6,689.4 C619.1,686.0 628.8,685.3 634.3,683.2 C639.8,681.2 641.9,681.5 646.7,677.0 C651.6,672.5 657.8,661.8 663.3,656.3 C668.8,650.8 675.0,647.0 679.9,643.9 C684.7,640.8 688.2,640.1 692.3,637.7 C696.4,635.3 700.9,631.8 704.7,629.4 C708.5,627.0 712.7,626.3 715.1,623.2 C717.5,620.1 717.5,610.1 719.2,610.8 C720.9,611.5 723.0,624.0 725.4,627.3 C727.8,630.6 731.1,630.3 733.7,630.6 C736.3,631.0 739.2,631.7 741.2,629.4 C743.1,627.1 743.8,617.0 745.3,617.0 C746.8,617.0 748.1,626.6 750.3,629.4 C752.5,632.2 755.1,632.4 758.5,633.5 C762.0,634.7 766.6,636.4 771.0,636.4 C775.3,636.4 782.4,634.0 784.6,633.5" fill="none" stroke="#000" stroke-width="0.65" stroke-linejoin="round"/>
<path d="M784.6,650.1 C782.4,651.1 775.3,656.3 771.0,656.3 C766.6,656.3 764.1,650.1 758.5,650.1 C753.0,650.1 744.1,656.1 737.8,656.3 C731.6,656.5 726.8,651.3 721.3,651.3 C715.8,651.3 709.5,654.1 704.7,656.3 C699.9,658.5 696.4,662.5 692.3,664.6 C688.2,666.7 684.0,664.6 679.9,668.7 C675.7,672.9 671.6,684.3 667.4,689.4 C663.3,694.6 659.9,697.7 655.0,699.8 C650.2,701.9 643.3,698.8 638.5,701.9 C633.6,705.0 630.2,715.0 626.0,718.4 C621.9,721.9 617.1,722.2 613.6,722.6 C610.2,722.9 608.8,718.4 605.3,720.5 C601.9,722.6 597.1,734.6 592.9,735.0 C588.8,735.3 584.6,725.0 580.5,722.6 C576.4,720.1 571.9,719.1 568.1,720.5 C564.3,721.9 560.1,724.6 557.7,730.8 C555.3,737.1 554.3,753.6 553.6,758.2" fill="none" stroke="#000" stroke-width="0.65" stroke-linejoin="round"/>
<path d="M784.6,667.9 C782.4,668.7 776.0,672.9 771.0,672.9 C765.9,672.9 759.9,668.5 754.4,667.9 C748.9,667.4 743.4,669.8 737.8,669.6 C732.3,669.4 726.8,666.1 721.3,666.7 C715.8,667.2 708.9,669.1 704.7,672.9 C700.6,676.7 698.4,683.8 696.4,689.4 C694.5,695.1 691.9,701.7 693.1,706.8 C694.3,712.0 701.7,718.2 703.5,720.5" fill="none" stroke="#000" stroke-width="0.65" stroke-linejoin="round"/>
<path d="M784.6,683.2 C782.4,684.8 775.3,690.7 771.0,692.7 C766.6,694.8 762.7,696.5 758.5,695.6 C754.4,694.8 751.0,689.0 746.1,687.4 C741.3,685.8 735.1,685.8 729.6,686.1 C724.0,686.5 717.3,687.5 713.0,689.4 C708.6,691.4 705.1,696.3 703.5,697.7" fill="none" stroke="#000" stroke-width="0.65" stroke-linejoin="round"/>
<path d="M408.2,758.2 C408.2,752.2 407.8,730.6 407.8,722.6 C407.8,714.6 408.2,712.2 408.2,710.1" fill="none" stroke="#000" stroke-width="0.65" stroke-linejoin="round"/>
<path d="M-0.0,754.0 C2.9,754.2 11.7,754.8 17.3,755.3 C23.0,755.8 27.8,756.3 33.9,756.9 C40.0,757.6 50.5,758.7 53.8,759.0" fill="none" stroke="#000" stroke-width="2.60" stroke-linejoin="round"/>
<path d="M178.8,567.3 L183.4,571.4 L184.6,576.8 L178.8,578.5 L173.5,576.4 L175.5,571.0Z" fill="none" stroke="#000" stroke-width="2.20" stroke-linejoin="round"/>
<path d="M635.6,649.3 L638.5,653.0 L635.6,657.1 L632.7,653.0Z" fill="none" stroke="#000" stroke-width="1.80" stroke-linejoin="round"/>
<g transform="translate(685.4,159.8) rotate(35.0)">
<rect x="-22.0" y="-13.0" width="44.0" height="26.0" fill="#fff"/>
<text x="0" y="7.5" font-family="Liberation Sans, Arial, Helvetica, sans-serif" font-size="21" text-anchor="middle">-16</text>
</g>
<g transform="translate(562.1,214.7) rotate(0.0)">
<rect x="-20.0" y="-13.0" width="40.0" height="26.0" fill="#fff"/>
<text x="0" y="7.5" font-family="Liberation Sans, Arial, Helvetica, sans-serif" font-size="21" text-anchor="middle">-12</text>
</g>
<g transform="translate(634.2,314.9) rotate(-15.0)">
<rect x="-15.0" y="-13.0" width="30.0" height="26.0" fill="#fff"/>
<text x="0" y="7.5" font-family="Liberation Sans, Arial, Helvetica, sans-serif" font-size="21" text-anchor="middle">-8</text>
</g>
<g transform="translate(591.0,496.4) rotate(-84.0)">
<rect x="-15.0" y="-12.5" width="30.0" height="25.0" fill="#fff"/>
<text x="0" y="7.5" font-family="Liberation Sans, Arial, Helvetica, sans-serif" font-size="21" text-anchor="middle">-4</text>
</g>
<g transform="translate(331.5,595.0) rotate(3.0)">
<rect x="-15.0" y="-13.0" width="30.0" height="26.0" fill="#fff"/>
<text x="0" y="7.5" font-family="Liberation Sans, Arial, Helvetica, sans-serif" font-size="21" text-anchor="middle">-4</text>
</g>
</g>
</g>
<rect x="432.5" y="1272.8" width="785.0" height="785.0" fill="none" stroke="#000" stroke-width="1.3"/>
<line x1="411.0" y1="2057.8" x2="438.0" y2="2057.8" stroke="#000" stroke-width="1.5"/>
<text x="393.0" y="2067.8" font-family="Liberation Sans, Arial, Helvetica, sans-serif" font-size="28" text-anchor="end">0.0</text>
<line x1="411.0" y1="1927.0" x2="438.0" y2="1927.0" stroke="#000" stroke-width="1.5"/>
<text x="393.0" y="1937.0" font-family="Liberation Sans, Arial, Helvetica, sans-serif" font-size="28" text-anchor="end">1.0</text>
<line x1="411.0" y1="1796.1" x2="438.0" y2="1796.1" stroke="#000" stroke-width="1.5"/>
<text x="393.0" y="1806.1" font-family="Liberation Sans, Arial, Helvetica, sans-serif" font-size="28" text-anchor="end">2.0</text>
<line x1="411.0" y1="1665.3" x2="438.0" y2="1665.3" stroke="#000" stroke-width="1.5"/>
<text x="393.0" y="1675.3" font-family="Liberation Sans, Arial, Helvetica, sans-serif" font-size="28" text-anchor="end">3.0</text>
<line x1="411.0" y1="1534.5" x2="438.0" y2="1534.5" stroke="#000" stroke-width="1.5"/>
<text x="393.0" y="1544.5" font-family="Liberation Sans, Arial, Helvetica, sans-serif" font-size="28" text-anchor="end">4.0</text>
<line x1="411.0" y1="1403.6" x2="438.0" y2="1403.6" stroke="#000" stroke-width="1.5"/>
<text x="393.0" y="1413.6" font-family="Liberation Sans, Arial, Helvetica, sans-serif" font-size="28" text-anchor="end">5.0</text>
<line x1="411.0" y1="1272.8" x2="438.0" y2="1272.8" stroke="#000" stroke-width="1.5"/>
<text x="393.0" y="1282.8" font-family="Liberation Sans, Arial, Helvetica, sans-serif" font-size="28" text-anchor="end">6.0</text>
<line x1="432.5" y1="2052.3" x2="432.5" y2="2079.3" stroke="#000" stroke-width="1.5"/>
<text x="432.5" y="2118.3" font-family="Liberation Sans, Arial, Helvetica, sans-serif" font-size="28" text-anchor="middle">39.5</text>
<line x1="694.2" y1="2052.3" x2="694.2" y2="2079.3" stroke="#000" stroke-width="1.5"/>
<text x="694.2" y="2118.3" font-family="Liberation Sans, Arial, Helvetica, sans-serif" font-size="28" text-anchor="middle">40.3</text>
<line x1="955.8" y1="2052.3" x2="955.8" y2="2079.3" stroke="#000" stroke-width="1.5"/>
<text x="955.8" y="2118.3" font-family="Liberation Sans, Arial, Helvetica, sans-serif" font-size="28" text-anchor="middle">41.2</text>
<line x1="1217.5" y1="2052.3" x2="1217.5" y2="2079.3" stroke="#000" stroke-width="1.5"/>
<text x="1217.5" y="2118.3" font-family="Liberation Sans, Arial, Helvetica, sans-serif" font-size="28" text-anchor="middle">42.1</text>
<text x="825.0" y="2169.8" font-family="Liberation Sans, Arial, Helvetica, sans-serif" font-size="37" text-anchor="middle">latitude</text>
<text transform="translate(326.5,1665.3) rotate(-90)" font-family="Liberation Sans, Arial, Helvetica, sans-serif" font-size="36" text-anchor="middle">Height (km)</text>
<text x="429.9" y="1251.8" font-family="Liberation Sans, Arial, Helvetica, sans-serif" font-size="28.9">Radar Reflectivity of Graupel</text>
<text x="1219.5" y="1257.1" font-family="Liberation Sans, Arial, Helvetica, sans-serif" font-size="28.5" text-anchor="end">dBZ</text>
<clipPath id="cp3"><rect x="1391.5" y="1272.8" width="785.0" height="785.0"/></clipPath>
<g clip-path="url(#cp3)">
<g transform="translate(1391.5,1272.8)">
<path d="M-10.0,-10.0 L800.0,-10.0 L800.0,800.0 L-10.0,800.0Z" fill="#00bcfc"/>
<path d="M-10.8,371.9 L419.6,371.9 L419.6,767.5 L-10.8,767.5Z" fill="#00f4e4"/>
<path d="M-10.8,565.3 C-10.8,565.3 -3.9,565.8 0.0,565.3 C3.9,564.9 5.2,564.5 8.7,563.2 C12.2,561.9 13.9,560.5 17.4,558.8 C20.9,557.1 22.2,556.2 26.1,554.5 C30.0,552.7 32.6,551.4 37.0,550.1 C41.3,548.8 43.5,547.9 47.8,547.9 C52.2,547.9 55.2,547.5 58.7,550.1 C62.2,552.7 63.1,556.6 65.2,561.0 C67.4,565.3 67.8,572.7 69.6,571.9 C71.3,571.0 71.8,562.7 73.9,556.6 C76.1,550.5 77.4,545.3 80.5,541.4 C83.5,537.5 85.7,537.1 89.2,537.1 C92.6,537.1 94.4,540.1 97.8,541.4 C101.3,542.7 103.1,544.0 106.5,543.6 C110.0,543.2 111.8,541.0 115.2,539.2 C118.7,537.5 120.5,536.2 123.9,534.9 C127.4,533.6 129.6,534.5 132.6,532.7 C135.7,531.0 136.5,527.1 139.2,526.2 C141.8,525.3 142.6,526.2 145.7,528.4 C148.7,530.5 150.9,533.6 154.4,537.1 C157.8,540.5 160.0,543.6 163.1,545.8 C166.1,547.9 167.4,545.8 169.6,547.9 C171.8,550.1 172.2,553.2 173.9,556.6 C175.7,560.1 176.5,561.0 178.3,565.3 C180.0,569.7 181.1,572.7 182.6,578.4 C184.2,584.0 185.9,588.4 185.9,593.6 C185.9,598.8 184.6,601.0 182.6,604.5 C180.7,607.9 179.2,610.1 176.1,611.0 C173.1,611.9 170.0,607.1 167.4,608.8 C164.8,610.5 164.4,614.0 163.1,619.7 C161.8,625.3 161.8,630.1 160.9,637.1 C160.0,644.0 160.0,648.8 158.7,654.5 C157.4,660.1 157.0,662.3 154.4,665.3 C151.8,668.4 149.6,668.4 145.7,669.7 C141.8,671.0 139.2,670.5 134.8,671.9 C130.5,673.2 127.8,674.5 123.9,676.2 C120.0,677.9 119.6,678.4 115.2,680.5 C110.9,682.7 107.0,686.2 102.2,687.1 C97.4,687.9 95.7,684.5 91.3,684.9 C87.0,685.3 84.8,689.2 80.5,689.2 C76.1,689.2 73.5,687.5 69.6,684.9 C65.7,682.3 64.8,676.2 60.9,676.2 C57.0,676.2 54.8,682.3 50.0,684.9 C45.2,687.5 42.6,688.8 37.0,689.2 C31.3,689.7 27.0,687.1 21.8,687.1 C16.5,687.1 15.2,689.7 10.9,689.2 C6.5,688.8 4.4,685.8 0.0,684.9 C-4.3,684.0 -10.8,684.9 -10.8,684.9 L-10.8,565.3Z" fill="#00bcfc"/>
<path d="M123.9,369.7 C123.9,369.7 125.7,389.2 128.3,397.9 C130.9,406.6 133.5,407.5 137.0,413.2 C140.5,418.8 142.2,420.5 145.7,426.2 C149.2,431.9 150.9,434.0 154.4,441.4 C157.8,448.8 160.0,457.9 163.1,463.2 C166.1,468.4 166.5,467.9 169.6,467.5 C172.6,467.1 174.4,464.0 178.3,461.0 C182.2,457.9 184.8,455.3 189.2,452.3 C193.5,449.2 195.7,450.1 200.0,445.8 C204.4,441.4 207.4,434.9 210.9,430.5 C214.4,426.2 214.8,423.6 217.4,424.0 C220.0,424.5 220.9,427.9 223.9,432.7 C227.0,437.5 228.7,442.3 232.6,447.9 C236.5,453.6 239.6,458.8 243.5,461.0 C247.4,463.2 248.7,462.3 252.2,458.8 C255.7,455.3 257.8,449.2 260.9,443.6 C263.9,437.9 264.8,435.3 267.4,430.5 C270.0,425.8 271.3,422.7 273.9,419.7 C276.5,416.6 277.8,414.5 280.5,415.3 C283.1,416.2 284.4,420.5 287.0,424.0 C289.6,427.5 291.3,432.7 293.5,432.7 C295.7,432.7 295.7,429.7 297.8,424.0 C300.0,418.4 302.2,406.2 304.4,404.5 C306.5,402.7 306.5,410.1 308.7,415.3 C310.9,420.5 312.6,425.3 315.2,430.5 C317.8,435.8 319.6,437.9 321.8,441.4 C323.9,444.9 324.4,448.8 326.1,447.9 C327.8,447.1 328.3,441.0 330.5,437.1 C332.6,433.2 334.4,431.9 337.0,428.4 C339.6,424.9 340.9,420.5 343.5,419.7 C346.1,418.8 350.5,411.9 350.0,424.0 C349.6,436.2 343.5,467.5 341.3,480.5 C339.2,493.6 340.5,485.8 339.2,489.2 C337.8,492.7 337.0,494.5 334.8,497.9 C332.6,501.4 330.9,504.0 328.3,506.6 C325.7,509.2 323.9,512.7 321.8,511.0 C319.6,509.2 318.9,503.2 317.4,497.9 C315.9,492.7 315.5,485.8 314.2,484.9 C312.8,484.0 312.4,489.2 310.9,493.6 C309.4,497.9 308.3,501.9 306.5,506.6 C304.8,511.4 303.9,513.2 302.2,517.5 C300.5,521.9 299.6,524.5 297.8,528.4 C296.1,532.3 295.2,533.6 293.5,537.1 C291.8,540.5 290.9,541.9 289.2,545.8 C287.4,549.7 286.3,555.8 284.8,556.6 C283.3,557.5 282.8,555.8 281.5,550.1 C280.2,544.5 279.4,535.3 278.3,528.4 C277.2,521.4 277.0,515.3 276.1,515.3 C275.2,515.3 275.2,522.3 273.9,528.4 C272.6,534.5 271.8,540.5 269.6,545.8 C267.4,551.0 265.7,551.4 263.1,554.5 C260.5,557.5 259.2,557.5 256.5,561.0 C253.9,564.5 252.6,567.1 250.0,571.9 C247.4,576.6 245.7,580.1 243.5,584.9 C241.3,589.7 240.9,595.8 239.2,595.8 C237.4,595.8 236.1,589.7 234.8,584.9 C233.5,580.1 233.5,576.6 232.6,571.9 C231.8,567.1 231.8,562.3 230.5,561.0 C229.2,559.7 227.8,561.9 226.1,565.3 C224.4,568.8 223.5,572.7 221.8,578.4 C220.0,584.0 219.2,588.4 217.4,593.6 C215.7,598.8 214.8,601.0 213.1,604.5 C211.3,607.9 210.0,606.6 208.7,611.0 C207.4,615.3 206.1,618.8 206.5,626.2 C207.0,633.6 208.7,640.5 210.9,647.9 C213.1,655.3 213.9,658.4 217.4,663.2 C220.9,667.9 224.8,668.4 228.3,671.9 C231.8,675.3 231.8,677.5 234.8,680.5 C237.8,683.6 240.0,687.1 243.5,687.1 C247.0,687.1 249.2,680.1 252.2,680.5 C255.2,681.0 256.1,687.1 258.7,689.2 C261.3,691.4 261.8,693.2 265.2,691.4 C268.7,689.7 272.2,683.6 276.1,680.5 C280.0,677.5 281.3,678.4 284.8,676.2 C288.3,674.0 290.0,671.9 293.5,669.7 C297.0,667.5 298.7,664.9 302.2,665.3 C305.7,665.8 307.4,671.4 310.9,671.9 C314.4,672.3 316.5,670.1 319.6,667.5 C322.6,664.9 323.5,661.4 326.1,658.8 C328.7,656.2 330.0,658.8 332.6,654.5 C335.2,650.1 336.5,644.0 339.2,637.1 C341.8,630.1 343.1,625.8 345.7,619.7 C348.3,613.6 349.6,610.1 352.2,606.6 C354.8,603.2 356.5,600.5 358.7,602.3 C360.9,604.0 361.3,608.4 363.1,615.3 C364.8,622.3 365.9,628.4 367.4,637.1 C368.9,645.8 368.9,657.1 370.7,658.8 C372.4,660.5 373.7,652.3 376.1,645.8 C378.5,639.2 380.0,634.5 382.6,626.2 C385.2,617.9 386.5,613.2 389.2,604.5 C391.8,595.8 393.1,591.4 395.7,582.7 C398.3,574.0 399.6,571.9 402.2,561.0 C404.8,550.1 407.2,543.6 408.7,528.4 C410.2,513.2 409.8,502.3 409.8,484.9 C409.8,467.5 409.8,454.5 408.7,441.4 C407.6,428.4 406.1,424.9 404.4,419.7 C402.6,414.5 401.8,419.7 400.0,415.3 C398.3,411.0 396.5,407.1 395.7,397.9 C394.8,388.8 395.7,369.7 395.7,369.7 L123.9,369.7Z" fill="#00bcfc"/>
<path d="M269.6,369.7 C269.6,369.7 272.4,387.5 273.9,393.6 C275.5,399.7 275.9,401.0 277.2,400.1 C278.5,399.2 279.4,395.3 280.5,389.2 C281.5,383.2 282.6,369.7 282.6,369.7 L269.6,369.7Z" fill="#00f4e4"/>
<path d="M297.8,369.7 C297.8,369.7 300.8,387.3 302.2,393.6 C303.6,399.9 303.7,402.1 304.8,401.2 C305.9,400.3 306.6,395.5 307.6,389.2 C308.6,382.9 309.8,369.7 309.8,369.7 L297.8,369.7Z" fill="#00f4e4"/>
<path d="M346.8,441.4 C347.2,433.6 348.5,428.8 350.0,424.0 C351.5,419.2 352.6,417.5 354.4,417.5 C356.1,417.5 357.2,419.2 358.7,424.0 C360.2,428.8 361.1,433.6 362.0,441.4 C362.8,449.2 363.3,455.3 363.1,463.2 C362.8,471.0 362.2,476.6 360.9,480.5 C359.6,484.5 358.5,483.6 356.5,482.7 C354.6,481.9 352.8,480.1 351.1,476.2 C349.4,472.3 348.7,470.1 347.8,463.2 C347.0,456.2 346.3,449.2 346.8,441.4Z" fill="#00f4e4"/>
<path d="M493.1,-10.3 C493.1,-10.3 493.9,-5.8 493.1,-0.1 C492.2,5.5 490.5,10.0 488.7,17.9 C487.0,25.9 486.1,30.1 484.4,39.7 C482.6,49.2 481.8,54.9 480.0,65.8 C478.3,76.6 477.2,83.6 475.7,94.0 C474.2,104.5 474.6,111.0 472.4,117.9 C470.2,124.9 467.6,123.6 464.8,128.8 C462.0,134.0 460.9,136.6 458.3,144.0 C455.7,151.4 453.9,157.1 451.8,165.8 C449.6,174.5 448.9,179.7 447.4,187.5 C445.9,195.3 445.5,199.7 444.2,204.9 C442.8,210.1 442.8,211.0 440.9,213.6 C438.9,216.2 437.4,216.6 434.4,217.9 C431.3,219.2 428.5,218.8 425.7,220.1 C422.8,221.4 422.4,225.8 420.2,224.5 C418.1,223.2 416.8,217.1 414.8,213.6 C412.8,210.1 412.2,207.1 410.5,207.1 C408.7,207.1 407.4,207.9 406.1,213.6 C404.8,219.2 404.6,224.5 403.9,235.3 C403.3,246.2 403.5,254.9 402.8,267.9 C402.2,281.0 401.5,289.7 400.7,300.5 C399.8,311.4 399.4,313.6 398.5,322.3 C397.6,331.0 397.4,335.3 396.3,344.0 C395.2,352.7 393.3,358.8 393.1,365.8 C392.8,372.7 393.5,373.6 395.2,378.8 C397.0,384.0 399.6,386.6 401.8,391.9 C403.9,397.1 404.8,400.0 406.1,404.9 C407.4,409.8 404.8,404.5 408.3,416.2 C411.8,427.9 418.3,445.1 423.5,463.2 C428.7,481.2 431.3,489.2 434.4,506.6 C437.4,524.0 437.4,532.7 438.7,550.1 C440.0,567.5 442.6,581.4 440.9,593.6 C439.2,605.8 434.8,606.6 430.0,611.0 C425.2,615.3 421.8,613.2 417.0,615.3 C412.2,617.5 410.5,621.9 406.1,621.9 C401.8,621.9 399.2,615.3 395.2,615.3 C391.3,615.3 389.6,617.5 386.5,621.9 C383.5,626.2 383.1,630.1 380.0,637.1 C377.0,644.0 373.1,643.6 371.3,656.6 C369.6,669.7 371.3,702.3 371.3,702.3 L799.6,702.3 L799.6,528.4 C799.6,528.4 789.4,527.5 785.0,528.4 C780.7,529.2 780.6,532.7 777.8,532.7 C775.1,532.7 773.9,528.4 771.3,528.4 C768.7,528.4 767.0,530.5 764.8,532.7 C762.6,534.9 762.6,538.4 760.5,539.2 C758.3,540.1 755.5,541.4 753.9,537.1 C752.4,532.7 754.2,519.7 752.8,517.5 C751.5,515.3 750.2,523.6 747.4,526.2 C744.6,528.8 741.8,528.4 738.7,530.5 C735.7,532.7 734.8,537.1 732.2,537.1 C729.6,537.1 728.3,532.7 725.7,530.5 C723.1,528.4 721.8,526.2 719.2,526.2 C716.5,526.2 715.7,528.8 712.6,530.5 C709.6,532.3 707.8,533.6 703.9,534.9 C700.0,536.2 696.5,535.8 693.1,537.1 C689.6,538.4 688.7,538.8 686.5,541.4 C684.4,544.0 683.9,550.5 682.2,550.1 C680.5,549.7 679.2,547.9 677.8,539.2 C676.5,530.5 676.3,521.9 675.7,506.6 C675.0,491.4 675.0,480.5 674.6,463.2 C674.2,445.8 673.8,434.5 673.5,419.7 C673.2,404.9 673.9,395.7 673.1,389.2 C672.2,382.8 670.8,391.3 669.2,387.5 C667.5,383.7 667.0,374.5 664.8,370.1 C662.6,365.8 660.5,371.0 658.3,365.8 C656.1,360.5 655.5,352.7 653.9,344.0 C652.4,335.3 652.0,331.0 650.7,322.3 C649.4,313.6 648.5,310.1 647.4,300.5 C646.3,291.0 646.1,283.2 645.2,274.5 C644.4,265.8 644.2,262.7 643.1,257.1 C642.0,251.4 641.1,246.2 639.8,246.2 C638.5,246.2 637.8,255.8 636.5,257.1 C635.2,258.4 634.6,254.9 633.3,252.7 C632.0,250.5 631.3,249.7 630.0,246.2 C628.7,242.7 627.4,241.9 626.8,235.3 C626.1,228.8 626.6,226.6 626.8,213.6 C626.9,200.5 627.2,187.5 627.4,170.1 C627.6,152.7 627.5,144.0 627.8,126.6 C628.2,109.2 628.6,100.5 628.9,83.2 C629.3,65.8 629.5,56.3 629.6,39.7 C629.7,23.0 629.6,9.9 629.6,-0.1 C629.6,-10.1 629.6,-10.3 629.6,-10.3 L493.1,-10.3Z" fill="#00f4e4"/>
<path d="M755.0,423.4 C755.0,423.4 749.8,416.4 747.4,409.2 C745.0,402.1 743.9,398.4 743.1,387.5 C742.2,376.6 742.8,368.4 743.1,354.9 C743.3,341.4 743.5,322.3 744.2,320.1 C744.8,317.9 745.5,332.7 746.3,344.0 C747.2,355.3 747.4,365.8 748.5,376.6 C749.6,387.5 750.2,398.4 751.8,398.4 C753.3,398.4 753.9,383.2 756.1,376.6 C758.3,370.1 760.0,369.7 762.6,365.8 C765.2,361.9 766.5,356.2 769.2,357.1 C771.8,357.9 773.1,364.9 775.7,370.1 C778.3,375.3 777.4,379.7 782.2,383.2 C787.0,386.6 799.6,387.5 799.6,387.5 L799.6,422.3 L755.0,423.4Z" fill="#00f4e4"/>
<path d="M756.1,369.7 C756.1,369.7 752.6,387.9 752.8,397.9 C753.1,407.9 757.4,409.7 757.2,419.7 C757.0,429.7 752.0,437.1 751.8,447.9 C751.5,458.8 755.9,464.0 756.1,474.0 C756.3,484.0 753.1,489.2 752.8,497.9 C752.6,506.6 752.6,510.5 755.0,517.5 C757.4,524.5 755.9,529.7 764.8,532.7 C773.7,535.8 799.6,532.7 799.6,532.7 L799.6,369.7 L756.1,369.7Z" fill="#00f4e4"/>
<path d="M738.7,369.7 C738.7,369.7 739.3,396.2 739.8,408.8 C740.3,421.4 740.7,432.7 741.3,432.7 C742.0,432.7 742.6,421.4 743.1,408.8 C743.5,396.2 743.5,369.7 743.5,369.7 L738.7,369.7Z" fill="#00f4e4"/>
<path d="M643.1,74.5 C643.5,68.8 644.4,69.7 645.2,72.3 C646.1,74.9 647.1,80.1 647.4,87.5 C647.8,94.9 647.6,102.3 647.0,109.2 C646.3,116.2 644.9,124.0 644.2,122.3 C643.4,120.5 643.3,110.1 643.1,100.5 C642.8,91.0 642.6,80.1 643.1,74.5Z" fill="#00f4e4"/>
<path d="M237.0,-10.3 C237.0,-10.3 237.4,7.9 238.1,17.9 C238.7,27.9 239.4,33.2 240.2,39.7 C241.1,46.2 241.4,50.1 242.4,50.5 C243.4,51.0 243.9,42.1 245.2,41.9 C246.5,41.6 247.3,49.9 248.9,49.5 C250.5,49.0 252.2,46.0 253.3,39.7 C254.4,33.4 253.9,27.9 254.4,17.9 C254.8,7.9 255.5,-10.3 255.5,-10.3 L237.0,-10.3Z" fill="#00f4e4"/>
<path d="M259.8,-10.3 C259.8,-10.3 258.7,5.3 259.2,13.6 C259.6,21.9 260.2,25.3 262.0,31.0 C263.7,36.6 265.7,41.4 267.8,41.9 C270.0,42.3 271.6,38.8 272.8,33.2 C274.1,27.5 274.2,22.3 273.9,13.6 C273.7,4.9 271.8,-10.3 271.8,-10.3 L259.8,-10.3Z" fill="#00f4e4"/>
<path d="M289.6,13.6 C290.0,10.1 291.2,9.2 292.4,11.4 C293.6,13.6 295.5,19.9 295.7,24.5 C295.8,29.0 294.2,33.4 293.1,34.2 C292.0,35.1 290.9,32.9 290.2,28.8 C289.5,24.7 289.2,17.1 289.6,13.6Z" fill="#00f4e4"/>
<path d="M303.3,24.5 L307.6,22.3 L310.9,25.5 L306.5,28.4Z" fill="#00f4e4"/>
<path d="M317.0,24.0 L320.7,19.0 L324.4,24.0 L320.7,29.2Z" fill="#00f4e4"/>
<path d="M419.6,204.9 C419.6,204.9 416.1,203.2 413.5,204.9 C410.9,206.6 408.8,207.5 406.5,213.6 C404.3,219.7 403.5,224.5 402.2,235.3 C400.9,246.2 400.9,254.9 400.0,267.9 C399.2,281.0 398.7,287.5 397.8,300.5 C397.0,313.6 397.0,322.3 395.7,333.2 C394.4,344.0 392.0,346.2 391.3,354.9 C390.7,363.6 391.1,367.9 392.4,376.6 C393.7,385.3 395.0,389.2 397.8,398.4 C400.7,407.5 402.2,417.5 406.5,422.3 C410.9,427.1 419.6,422.3 419.6,422.3 L419.6,204.9Z" fill="#00f4e4"/>
<path d="M265.2,422.3 C265.2,422.3 266.8,409.7 268.5,404.9 C270.2,400.1 271.8,398.4 273.9,398.4 C276.1,398.4 277.6,400.1 279.4,404.9 C281.1,409.7 282.6,422.3 282.6,422.3 L265.2,422.3Z" fill="#00f4e4"/>
<path d="M296.8,422.3 C296.8,422.3 298.5,412.7 300.0,409.2 C301.5,405.8 302.8,404.5 304.4,404.9 C305.9,405.3 306.5,407.9 307.6,411.4 C308.7,414.9 309.8,422.3 309.8,422.3 L296.8,422.3Z" fill="#00f4e4"/>
<path d="M-10.8,328.8 C-10.8,328.8 -3.0,331.0 0.0,328.8 C3.1,326.6 2.6,324.5 4.4,317.9 C6.1,311.4 6.5,304.9 8.7,296.2 C10.9,287.5 12.2,283.2 15.2,274.5 C18.3,265.8 20.5,260.5 23.9,252.7 C27.4,244.9 29.6,239.5 32.6,235.3 C35.7,231.2 36.8,231.2 39.2,232.1 C41.5,232.9 42.6,234.7 44.6,239.7 C46.5,244.7 47.0,249.7 48.9,257.1 C50.9,264.5 51.5,272.3 54.4,276.6 C57.2,281.0 60.2,276.6 63.1,278.8 C65.9,281.0 66.3,282.3 68.5,287.5 C70.7,292.7 71.5,299.2 73.9,304.9 C76.3,310.5 77.4,311.4 80.5,315.8 C83.5,320.1 86.1,321.9 89.2,326.6 C92.2,331.4 93.5,335.8 95.7,339.7 C97.8,343.6 97.8,343.6 100.0,346.2 C102.2,348.8 104.2,353.2 106.5,352.7 C108.9,352.3 110.2,344.0 112.0,344.0 C113.7,344.0 113.3,349.2 115.2,352.7 C117.2,356.2 119.2,359.2 121.8,361.4 C124.4,363.6 125.7,365.3 128.3,363.6 C130.9,361.9 132.2,355.8 134.8,352.7 C137.4,349.7 138.7,348.4 141.3,348.4 C143.9,348.4 145.2,350.1 147.8,352.7 C150.5,355.3 151.8,357.9 154.4,361.4 C157.0,364.9 158.7,364.9 160.9,370.1 C163.1,375.3 164.8,380.5 165.2,387.5 C165.7,394.5 165.2,398.8 163.1,404.9 C160.9,411.0 158.3,414.2 154.4,417.9 C150.5,421.6 143.5,423.4 143.5,423.4 L-10.8,423.4 L-10.8,328.8Z" fill="#00f4e4"/>
<path d="M-10.8,352.7 C-10.8,352.7 -3.0,356.2 0.0,352.7 C3.1,349.2 2.6,340.5 4.4,335.3 C6.1,330.1 7.0,330.1 8.7,326.6 C10.5,323.2 11.3,321.9 13.1,317.9 C14.8,314.0 15.7,307.9 17.4,307.1 C19.2,306.2 20.0,308.8 21.8,313.6 C23.5,318.4 24.4,325.8 26.1,331.0 C27.8,336.2 29.2,334.5 30.5,339.7 C31.8,344.9 32.0,349.7 32.6,357.1 C33.3,364.5 33.1,368.4 33.7,376.6 C34.4,384.9 34.6,391.9 35.9,398.4 C37.2,404.9 38.3,407.1 40.2,409.2 C42.2,411.4 43.6,411.4 45.7,409.2 C47.7,407.1 49.4,402.7 50.5,398.4 C51.5,394.0 50.8,396.2 51.1,387.5 C51.5,378.8 51.3,367.9 52.2,354.9 C53.1,341.9 53.7,332.3 55.5,322.3 C57.2,312.3 58.5,309.2 60.9,304.9 C63.3,300.5 64.8,299.7 67.4,300.5 C70.0,301.4 71.5,304.0 73.9,309.2 C76.3,314.5 77.2,319.7 79.4,326.6 C81.5,333.6 82.8,336.2 84.8,344.0 C86.8,351.9 87.4,357.1 89.2,365.8 C90.9,374.5 91.8,378.8 93.5,387.5 C95.2,396.2 96.5,403.5 97.8,409.2 C99.2,415.0 100.0,411.9 100.0,416.2 C100.0,420.5 99.2,424.2 97.8,430.5 C96.5,436.9 95.7,441.4 93.5,447.9 C91.3,454.5 89.6,457.5 87.0,463.2 C84.4,468.8 83.5,471.0 80.5,476.2 C77.4,481.4 75.2,484.0 71.8,489.2 C68.3,494.5 66.5,497.9 63.1,502.3 C59.6,506.6 57.8,507.5 54.4,511.0 C50.9,514.5 49.2,517.1 45.7,519.7 C42.2,522.3 40.5,524.5 37.0,524.0 C33.5,523.6 31.3,520.1 28.3,517.5 C25.2,514.9 24.4,511.0 21.8,511.0 C19.2,511.0 17.8,514.5 15.2,517.5 C12.6,520.5 11.8,524.0 8.7,526.2 C5.7,528.4 3.9,527.9 0.0,528.4 C-3.9,528.8 -10.8,528.4 -10.8,528.4 L-10.8,352.7Z" fill="#00f084"/>
<path d="M33.7,263.2 L37.0,258.2 L40.2,263.2 L37.0,267.9Z" fill="#00f084"/>
<path d="M102.2,387.5 C102.6,384.0 104.4,384.0 105.5,385.3 C106.5,386.6 107.4,390.1 107.6,394.0 C107.8,397.9 107.4,403.2 106.5,404.9 C105.7,406.6 104.2,406.2 103.3,402.7 C102.4,399.2 101.8,391.0 102.2,387.5Z" fill="#00f084"/>
<path d="M44.6,276.6 C42.6,277.1 40.9,289.2 39.2,300.5 C37.4,311.9 36.8,320.1 35.9,333.2 C35.0,346.2 34.4,354.0 34.8,365.8 C35.2,377.5 36.1,383.6 38.1,391.9 C40.0,400.1 42.4,408.4 44.6,407.1 C46.8,405.8 47.6,395.8 48.9,385.3 C50.2,374.9 50.8,367.5 51.1,354.9 C51.4,342.3 50.9,333.6 50.5,322.3 C50.0,311.0 50.1,307.5 48.9,298.4 C47.8,289.2 46.5,276.2 44.6,276.6Z" fill="#00f4e4"/>
<path d="M44.6,282.1 C43.1,282.1 41.8,290.3 40.2,300.5 C38.7,310.8 37.8,320.1 37.0,333.2 C36.2,346.2 35.9,354.9 36.3,365.8 C36.8,376.6 37.5,380.1 39.2,387.5 C40.8,394.9 42.8,403.6 44.6,402.7 C46.3,401.9 46.8,392.7 47.8,383.2 C48.9,373.6 49.8,367.1 50.0,354.9 C50.2,342.7 49.4,333.2 48.9,322.3 C48.5,311.4 48.7,308.6 47.8,300.5 C47.0,292.5 46.1,282.1 44.6,282.1Z" fill="#00bcfc"/>
<path d="M43.9,317.9 C43.1,322.3 42.2,333.6 41.8,344.0 C41.3,354.5 41.2,361.4 41.8,370.1 C42.3,378.8 43.6,388.4 44.6,387.5 C45.6,386.6 46.3,375.3 46.8,365.8 C47.2,356.2 47.1,348.4 47.0,339.7 C46.8,331.0 46.7,326.6 46.1,322.3 C45.5,317.9 44.8,313.6 43.9,317.9Z" fill="#006cfc"/>
<path d="M43.7,354.9 L45.5,352.7 L45.9,365.8 L44.4,372.3Z" fill="#0020f4"/>
<path d="M-10.8,363.6 C-10.8,363.6 -3.5,362.3 0.0,363.6 C3.5,364.9 4.4,369.7 6.5,370.1 C8.7,370.5 8.9,369.2 10.9,365.8 C12.8,362.3 14.4,357.1 16.3,352.7 C18.3,348.4 19.2,343.2 20.7,344.0 C22.2,344.9 22.8,350.1 23.9,357.1 C25.0,364.0 25.5,370.5 26.1,378.8 C26.8,387.1 26.5,390.9 27.2,398.4 C27.8,405.9 28.3,411.1 29.4,416.2 C30.5,421.3 31.1,420.1 32.6,424.0 C34.2,428.0 35.0,433.5 37.0,436.0 C38.9,438.5 40.5,437.3 42.4,436.6 C44.4,436.0 45.5,438.3 46.8,432.7 C48.1,427.2 48.4,415.7 48.9,408.8 C49.5,401.9 48.9,406.1 49.6,398.4 C50.2,390.6 51.0,381.0 52.2,370.1 C53.4,359.2 53.9,352.3 55.5,344.0 C57.0,335.8 57.8,332.7 59.8,328.8 C61.8,324.9 63.1,324.5 65.2,324.5 C67.4,324.5 68.7,324.9 70.7,328.8 C72.6,332.7 73.5,336.6 75.0,344.0 C76.5,351.4 77.0,357.1 78.3,365.8 C79.6,374.5 80.7,377.4 81.5,387.5 C82.4,397.6 82.6,407.6 82.6,416.2 C82.6,424.8 82.2,423.3 81.5,430.5 C80.9,437.8 80.9,444.0 79.4,452.3 C77.8,460.5 76.8,464.5 73.9,471.9 C71.1,479.2 68.7,483.2 65.2,489.2 C61.8,495.3 60.0,497.1 56.5,502.3 C53.1,507.5 51.3,511.4 47.8,515.3 C44.4,519.2 42.6,520.5 39.2,521.9 C35.7,523.2 33.9,523.6 30.5,521.9 C27.0,520.1 24.8,516.6 21.8,513.2 C18.7,509.7 17.8,504.0 15.2,504.5 C12.6,504.9 11.8,512.3 8.7,515.3 C5.7,518.4 3.9,518.8 0.0,519.7 C-3.9,520.5 -10.8,519.7 -10.8,519.7 L-10.8,363.6Z" fill="#00c024"/>
<path d="M54.4,422.3 C54.4,422.3 54.8,401.0 55.5,387.5 C56.1,374.0 56.5,365.3 57.6,354.9 C58.7,344.5 59.4,340.5 60.9,335.3 C62.4,330.1 63.5,328.8 65.2,328.8 C67.0,328.8 67.8,330.1 69.6,335.3 C71.3,340.5 72.4,345.3 73.9,354.9 C75.5,364.5 76.1,369.7 77.2,383.2 C78.3,396.6 79.4,422.3 79.4,422.3 L54.4,422.3Z" fill="#24c000"/>
<path d="M52.2,371.9 C52.2,371.9 52.0,388.4 51.1,397.9 C50.2,407.5 49.4,411.0 47.8,419.7 C46.3,428.4 45.2,433.6 43.5,441.4 C41.8,449.2 40.2,452.7 39.2,458.8 C38.1,464.9 37.2,468.8 38.1,471.9 C38.9,474.9 41.5,475.8 43.5,474.0 C45.5,472.3 45.2,467.9 47.8,463.2 C50.5,458.4 53.1,456.2 56.5,450.1 C60.0,444.0 62.2,439.7 65.2,432.7 C68.3,425.8 69.6,422.3 71.8,415.3 C73.9,408.4 74.6,406.6 76.1,397.9 C77.6,389.2 79.4,371.9 79.4,371.9 L52.2,371.9Z" fill="#24c000"/>
<path d="M-10.8,497.9 C-10.8,497.9 -3.5,499.7 0.0,497.9 C3.5,496.2 3.9,494.5 6.5,489.2 C9.2,484.0 10.9,479.2 13.1,471.9 C15.2,464.5 15.7,460.5 17.4,452.3 C19.2,444.0 20.0,439.2 21.8,430.5 C23.5,421.9 24.8,420.5 26.1,408.8 C27.4,397.1 28.3,371.9 28.3,371.9 L-10.8,371.9 L-10.8,497.9Z" fill="#24c000"/>
<path d="M-10.8,383.2 C-10.8,383.2 -3.5,382.3 0.0,383.2 C3.5,384.0 3.9,388.4 6.5,387.5 C9.2,386.6 10.7,384.0 13.1,378.8 C15.5,373.6 16.8,366.6 18.5,361.4 C20.2,356.2 20.3,351.9 21.3,352.7 C22.3,353.6 22.8,358.8 23.5,365.8 C24.2,372.7 24.5,376.2 25.0,387.5 C25.5,398.8 26.1,422.3 26.1,422.3 L-10.8,422.3 L-10.8,383.2Z" fill="#24c000"/>
<path d="M158.7,517.5 C158.7,513.6 162.6,509.2 165.2,506.6 C167.8,504.0 169.2,507.5 171.8,504.5 C174.4,501.4 174.8,494.9 178.3,491.4 C181.8,487.9 184.8,487.5 189.2,487.1 C193.5,486.6 195.7,489.7 200.0,489.2 C204.4,488.8 207.0,487.1 210.9,484.9 C214.8,482.7 216.5,481.4 219.6,478.4 C222.6,475.3 223.9,471.6 226.1,469.7 C228.3,467.7 228.7,466.9 230.5,468.6 C232.2,470.3 233.1,474.2 234.8,478.4 C236.5,482.5 237.0,485.3 239.2,489.2 C241.3,493.2 243.1,494.0 245.7,497.9 C248.3,501.9 250.2,504.5 252.2,508.8 C254.2,513.2 255.5,515.8 255.5,519.7 C255.5,523.6 254.2,525.8 252.2,528.4 C250.2,531.0 248.3,530.1 245.7,532.7 C243.1,535.3 241.8,538.8 239.2,541.4 C236.5,544.0 234.8,545.8 232.6,545.8 C230.5,545.8 230.0,540.5 228.3,541.4 C226.5,542.3 225.2,545.3 223.9,550.1 C222.6,554.9 222.6,558.8 221.8,565.3 C220.9,571.9 220.9,576.6 219.6,582.7 C218.3,588.8 217.4,591.9 215.2,595.8 C213.1,599.7 211.3,601.4 208.7,602.3 C206.1,603.2 204.8,602.3 202.2,600.1 C199.6,597.9 197.8,595.8 195.7,591.4 C193.5,587.1 192.8,584.0 191.3,578.4 C189.8,572.7 189.4,568.8 188.1,563.2 C186.8,557.5 186.3,555.3 184.8,550.1 C183.3,544.9 182.6,541.4 180.5,537.1 C178.3,532.7 177.0,530.5 173.9,528.4 C170.9,526.2 168.3,528.4 165.2,526.2 C162.2,524.0 158.7,521.4 158.7,517.5Z" fill="#00f084"/>
<path d="M179.4,521.9 C178.9,517.9 180.9,515.8 182.6,513.2 C184.4,510.5 185.9,508.4 188.1,508.8 C190.2,509.2 191.5,513.6 193.5,515.3 C195.5,517.1 196.1,517.9 197.8,517.5 C199.6,517.1 200.2,514.5 202.2,513.2 C204.2,511.9 205.5,510.1 207.6,511.0 C209.8,511.9 211.3,514.0 213.1,517.5 C214.8,521.0 215.9,522.7 216.3,528.4 C216.8,534.0 215.7,538.8 215.2,545.8 C214.8,552.7 214.8,557.1 214.2,563.2 C213.5,569.2 213.3,571.9 212.0,576.2 C210.7,580.5 209.6,582.7 207.6,584.9 C205.7,587.1 204.2,587.9 202.2,587.1 C200.2,586.2 199.4,584.0 197.8,580.5 C196.3,577.1 195.7,574.9 194.6,569.7 C193.5,564.5 193.5,560.1 192.4,554.5 C191.3,548.8 190.7,545.8 189.2,541.4 C187.6,537.1 186.8,536.6 184.8,532.7 C182.8,528.8 179.8,525.8 179.4,521.9Z" fill="#00c024"/>
<path d="M221.8,521.9 C222.2,517.9 223.7,513.2 225.0,508.8 C226.3,504.5 227.0,501.0 228.3,500.1 C229.6,499.2 230.2,501.4 231.5,504.5 C232.8,507.5 233.7,511.0 234.8,515.3 C235.9,519.7 237.4,523.4 237.0,526.2 C236.5,529.0 234.6,528.4 232.6,529.5 C230.7,530.5 229.2,531.9 227.2,531.6 C225.2,531.4 223.9,530.3 222.8,528.4 C221.8,526.4 221.3,525.8 221.8,521.9Z" fill="#00c024"/>
<path d="M106.5,489.2 C107.2,482.3 108.7,477.5 110.9,471.9 C113.1,466.2 114.8,463.4 117.4,461.0 C120.0,458.6 121.5,458.6 123.9,459.9 C126.3,461.2 127.8,462.5 129.4,467.5 C130.9,472.5 131.3,477.1 131.5,484.9 C131.8,492.7 131.1,498.8 130.5,506.6 C129.8,514.5 130.5,520.1 128.3,524.0 C126.1,527.9 123.1,526.2 119.6,526.2 C116.1,526.2 113.3,527.9 110.9,524.0 C108.5,520.1 108.5,513.6 107.6,506.6 C106.8,499.7 105.9,496.2 106.5,489.2Z" fill="#00f084"/>
<path d="M263.1,463.2 C263.3,454.5 263.9,451.0 265.2,445.8 C266.5,440.5 267.4,438.6 269.6,437.1 C271.8,435.5 273.9,435.5 276.1,438.2 C278.3,440.8 279.2,444.2 280.5,450.1 C281.8,456.0 283.1,461.4 282.6,467.5 C282.2,473.6 280.0,476.2 278.3,480.5 C276.5,484.9 275.7,484.0 273.9,489.2 C272.2,494.5 271.1,502.3 269.6,506.6 C268.1,511.0 267.4,514.5 266.3,511.0 C265.2,507.5 264.8,498.8 264.2,489.2 C263.5,479.7 262.8,471.9 263.1,463.2Z" fill="#00f084"/>
<path d="M158.7,626.2 C158.9,620.1 160.2,618.4 162.0,615.3 C163.7,612.3 165.0,610.5 167.4,611.0 C169.8,611.4 172.0,613.2 173.9,617.5 C175.9,621.9 176.8,626.2 177.2,632.7 C177.6,639.2 177.2,645.3 176.1,650.1 C175.0,654.9 173.9,655.3 171.8,656.6 C169.6,657.9 167.4,658.8 165.2,656.6 C163.1,654.5 162.2,651.9 160.9,645.8 C159.6,639.7 158.5,632.3 158.7,626.2Z" fill="#00f084"/>
<path d="M607.2,150.5 C606.3,152.3 606.1,159.7 605.0,170.1 C603.9,180.5 602.8,190.5 601.8,202.7 C600.7,214.9 600.9,222.3 599.6,231.0 C598.3,239.7 597.0,245.3 595.2,246.2 C593.5,247.1 592.4,240.5 590.9,235.3 C589.4,230.1 589.2,224.9 587.6,220.1 C586.1,215.3 585.0,210.1 583.3,211.4 C581.5,212.7 580.5,221.4 578.9,226.6 C577.4,231.9 577.4,233.6 575.7,237.5 C573.9,241.4 572.2,243.2 570.2,246.2 C568.3,249.2 567.6,253.6 565.9,252.7 C564.2,251.9 563.1,245.3 561.5,241.9 C560.0,238.4 559.8,234.9 558.3,235.3 C556.8,235.8 555.5,241.0 553.9,244.0 C552.4,247.1 552.0,251.0 550.7,250.5 C549.4,250.1 548.5,240.5 547.4,241.9 C546.3,243.2 546.1,249.7 545.2,257.1 C544.4,264.5 543.7,267.9 543.1,278.8 C542.4,289.7 542.4,298.4 542.0,311.4 C541.5,324.5 541.5,331.0 540.9,344.0 C540.2,357.1 540.5,365.8 538.7,376.6 C537.0,387.5 534.8,390.5 532.2,398.4 C529.6,406.3 525.9,418.0 525.7,416.2 C525.5,414.4 530.7,390.3 531.1,389.2 C531.5,388.2 528.9,401.4 527.8,411.0 C526.8,420.5 526.5,426.6 525.7,437.1 C524.8,447.5 524.8,452.7 523.5,463.2 C522.2,473.6 520.9,479.7 519.2,489.2 C517.4,498.8 516.5,504.5 514.8,511.0 C513.1,517.5 512.6,520.5 510.5,521.9 C508.3,523.2 507.0,518.8 503.9,517.5 C500.9,516.2 498.3,515.3 495.2,515.3 C492.2,515.3 490.9,514.9 488.7,517.5 C486.5,520.1 486.5,524.5 484.4,528.4 C482.2,532.3 480.9,533.6 477.8,537.1 C474.8,540.5 472.6,543.6 469.2,545.8 C465.7,547.9 463.5,544.9 460.5,547.9 C457.4,551.0 456.1,554.0 453.9,561.0 C451.8,567.9 451.3,574.9 449.6,582.7 C447.8,590.5 447.4,594.0 445.2,600.1 C443.1,606.2 441.3,608.8 438.7,613.2 C436.1,617.5 434.8,620.5 432.2,621.9 C429.6,623.2 427.8,621.0 425.7,619.7 C423.5,618.4 423.1,614.0 421.3,615.3 C419.6,616.6 418.7,621.9 417.0,626.2 C415.2,630.5 414.4,635.8 412.6,637.1 C410.9,638.4 410.5,636.2 408.3,632.7 C406.1,629.2 404.4,623.2 401.8,619.7 C399.2,616.2 398.3,614.9 395.2,615.3 C392.2,615.8 389.6,617.5 386.5,621.9 C383.5,626.2 383.1,630.1 380.0,637.1 C377.0,644.0 364.6,651.0 371.3,656.6 C378.0,662.3 406.5,663.2 413.5,665.3 C420.5,667.5 409.7,667.5 406.5,667.5 C403.4,667.5 401.3,666.6 397.8,665.3 C394.4,664.0 392.6,661.0 389.2,661.0 C385.7,661.0 383.9,663.2 380.5,665.3 C377.0,667.5 375.2,669.7 371.8,671.9 C368.3,674.0 366.5,677.1 363.1,676.2 C359.6,675.3 357.8,669.7 354.4,667.5 C350.9,665.3 349.2,664.9 345.7,665.3 C342.2,665.8 340.5,667.9 337.0,669.7 C333.5,671.4 331.8,671.9 328.3,674.0 C324.8,676.2 323.1,678.4 319.6,680.5 C316.1,682.7 314.4,684.9 310.9,684.9 C307.4,684.9 305.7,680.5 302.2,680.5 C298.7,680.5 297.0,683.2 293.5,684.9 C290.0,686.6 288.3,687.5 284.8,689.2 C281.3,691.0 279.6,691.0 276.1,693.6 C272.6,696.2 270.5,698.8 267.4,702.3 C264.4,705.8 263.5,711.0 260.9,711.0 C258.3,711.0 257.8,703.2 254.4,702.3 C250.9,701.4 247.8,706.6 243.5,706.6 C239.2,706.6 237.0,703.6 232.6,702.3 C228.3,701.0 226.1,701.4 221.8,700.1 C217.4,698.8 214.8,697.5 210.9,695.8 C207.0,694.0 205.2,691.4 202.2,691.4 C199.2,691.4 198.3,692.7 195.7,695.8 C193.1,698.8 191.8,702.7 189.2,706.6 C186.5,710.5 185.7,714.5 182.6,715.3 C179.6,716.2 177.0,711.0 173.9,711.0 C170.9,711.0 170.0,713.2 167.4,715.3 C164.8,717.5 163.9,721.9 160.9,721.9 C157.8,721.9 156.1,718.8 152.2,715.3 C148.3,711.9 145.7,707.9 141.3,704.5 C137.0,701.0 134.8,698.4 130.5,697.9 C126.1,697.5 123.9,701.0 119.6,702.3 C115.2,703.6 113.1,704.5 108.7,704.5 C104.4,704.5 102.2,703.2 97.8,702.3 C93.5,701.4 91.3,699.7 87.0,700.1 C82.6,700.5 80.5,704.0 76.1,704.5 C71.8,704.9 69.6,703.6 65.2,702.3 C60.9,701.0 58.7,697.9 54.4,697.9 C50.0,697.9 47.8,701.9 43.5,702.3 C39.2,702.7 37.0,701.4 32.6,700.1 C28.3,698.8 26.1,696.2 21.8,695.8 C17.4,695.3 15.2,697.9 10.9,697.9 C6.5,697.9 4.4,696.2 0.0,695.8 C-4.3,695.3 -10.8,695.8 -10.8,695.8 L-10.8,767.5 L799.6,767.5 L799.6,528.4 C799.6,528.4 789.4,527.5 785.0,528.4 C780.7,529.2 780.6,532.7 777.8,532.7 C775.1,532.7 773.9,528.4 771.3,528.4 C768.7,528.4 767.0,530.5 764.8,532.7 C762.6,534.9 762.6,538.4 760.5,539.2 C758.3,540.1 756.5,538.4 753.9,537.1 C751.3,535.8 750.5,532.7 747.4,532.7 C744.4,532.7 742.2,534.9 738.7,537.1 C735.2,539.2 733.5,541.9 730.0,543.6 C726.5,545.3 724.4,544.5 721.3,545.8 C718.3,547.1 717.4,548.8 714.8,550.1 C712.2,551.4 710.9,550.5 708.3,552.3 C705.7,554.0 704.4,556.6 701.8,558.8 C699.2,561.0 697.8,562.7 695.2,563.2 C692.6,563.6 691.3,562.3 688.7,561.0 C686.1,559.7 684.4,558.8 682.2,556.6 C680.0,554.5 680.0,553.6 677.8,550.1 C675.7,546.6 673.5,545.8 671.3,539.2 C669.2,532.7 668.1,528.4 667.0,517.5 C665.9,506.6 665.9,497.9 665.9,484.9 C665.9,471.9 667.0,462.7 667.0,452.3 C667.0,441.9 666.5,434.5 665.9,432.7 C665.2,431.0 664.8,442.7 663.7,443.6 C662.6,444.5 662.0,441.9 660.5,437.1 C658.9,432.3 657.8,427.5 656.1,419.7 C654.4,411.9 653.2,405.8 651.8,397.9 C650.4,390.1 650.0,382.6 649.2,380.5 C648.3,378.5 648.4,390.5 647.4,387.5 C646.4,384.5 645.5,374.5 644.2,365.8 C642.8,357.1 642.4,351.0 640.9,344.0 C639.4,337.1 638.9,334.5 636.5,331.0 C634.2,327.5 631.5,329.2 628.9,326.6 C626.3,324.0 625.2,323.2 623.5,317.9 C621.8,312.7 621.5,310.5 620.2,300.5 C618.9,290.5 618.1,281.0 617.0,267.9 C615.9,254.9 615.5,248.4 614.8,235.3 C614.2,222.3 614.4,214.5 613.7,202.7 C613.1,191.0 612.4,184.9 611.5,176.6 C610.7,168.4 610.2,166.6 609.4,161.4 C608.5,156.2 608.1,148.8 607.2,150.5Z" fill="#00f084"/>
<path d="M493.1,199.5 C491.3,198.6 491.1,206.4 489.8,213.6 C488.5,220.8 487.5,224.5 486.5,235.3 C485.5,246.2 485.0,254.9 484.8,267.9 C484.6,281.0 485.5,287.5 485.5,300.5 C485.4,313.6 485.0,321.0 484.4,333.2 C483.7,345.3 482.2,353.2 482.2,361.4 C482.2,369.7 483.3,373.6 484.4,374.5 C485.5,375.3 486.3,374.0 487.6,365.8 C488.9,357.5 489.4,346.2 490.9,333.2 C492.4,320.1 493.5,312.3 495.2,300.5 C497.0,288.8 498.5,285.3 499.6,274.5 C500.7,263.6 500.9,257.5 500.7,246.2 C500.5,234.9 500.0,227.3 498.5,217.9 C497.0,208.6 494.8,200.3 493.1,199.5Z" fill="#00f084"/>
<path d="M445.2,313.6 C443.7,313.6 442.8,319.7 442.0,326.6 C441.1,333.6 441.3,340.5 440.9,348.4 C440.5,356.2 439.4,359.7 439.8,365.8 C440.2,371.9 441.5,375.5 443.1,378.8 C444.6,382.1 445.7,382.9 447.4,382.1 C449.2,381.2 449.6,376.2 451.8,374.5 C453.9,372.7 455.9,375.1 458.3,373.4 C460.7,371.6 463.3,369.0 463.7,365.8 C464.2,362.5 462.0,359.2 460.5,357.1 C458.9,354.9 457.6,357.5 456.1,354.9 C454.6,352.3 454.2,349.7 452.8,344.0 C451.5,338.4 451.1,332.7 449.6,326.6 C448.1,320.5 446.8,313.6 445.2,313.6Z" fill="#00f084"/>
<path d="M578.9,328.8 C577.2,330.5 575.5,336.6 573.5,344.0 C571.5,351.4 570.9,357.1 569.2,365.8 C567.4,374.5 566.5,379.7 564.8,387.5 C563.1,395.3 561.8,399.2 560.5,404.9 C559.2,410.6 558.5,413.2 558.3,416.2 C558.1,419.2 559.8,415.5 559.4,419.7 C558.9,423.9 557.4,431.9 556.1,437.1 C554.8,442.3 553.9,445.8 552.8,445.8 C551.8,445.8 551.8,437.9 550.7,437.1 C549.6,436.2 548.9,438.4 547.4,441.4 C545.9,444.5 544.8,445.3 543.1,452.3 C541.3,459.2 540.5,466.2 538.7,476.2 C537.0,486.2 536.5,491.9 534.4,502.3 C532.2,512.7 530.5,519.2 527.8,528.4 C525.2,537.5 524.4,540.1 521.3,547.9 C518.3,555.8 516.1,560.5 512.6,567.5 C509.2,574.5 507.4,576.6 503.9,582.7 C500.5,588.8 498.7,591.9 495.2,597.9 C491.8,604.0 490.0,607.5 486.5,613.2 C483.1,618.8 481.3,621.4 477.8,626.2 C474.4,631.0 472.6,633.2 469.2,637.1 C465.7,641.0 463.5,642.7 460.5,645.8 C457.4,648.8 456.1,648.4 453.9,652.3 C451.8,656.2 451.3,659.7 449.6,665.3 C447.8,671.0 447.4,675.3 445.2,680.5 C443.1,685.8 441.8,687.9 438.7,691.4 C435.7,694.9 433.1,694.9 430.0,697.9 C427.0,701.0 426.1,705.8 423.5,706.6 C420.9,707.5 419.6,704.5 417.0,702.3 C414.4,700.1 412.6,700.1 410.5,695.8 C408.3,691.4 407.8,686.2 406.1,680.5 C404.4,674.9 403.5,671.4 401.8,667.5 C400.0,663.6 399.6,662.7 397.4,661.0 C395.2,659.2 393.9,658.4 390.9,658.8 C387.8,659.2 385.7,661.9 382.2,663.2 C378.7,664.5 368.6,661.0 373.5,665.3 C378.4,669.7 400.8,684.0 406.5,684.9 C412.3,685.8 403.9,674.0 402.2,669.7 C400.5,665.3 400.0,665.1 397.8,663.2 C395.7,661.2 394.4,659.5 391.3,659.9 C388.3,660.3 385.7,662.1 382.6,665.3 C379.6,668.6 378.7,671.4 376.1,676.2 C373.5,681.0 372.6,687.5 369.6,689.2 C366.5,691.0 364.8,687.5 360.9,684.9 C357.0,682.3 353.9,678.4 350.0,676.2 C346.1,674.0 344.8,673.6 341.3,674.0 C337.8,674.5 336.5,676.2 332.6,678.4 C328.7,680.5 325.7,683.2 321.8,684.9 C317.8,686.6 317.0,685.8 313.1,687.1 C309.2,688.4 306.1,689.7 302.2,691.4 C298.3,693.2 297.0,694.0 293.5,695.8 C290.0,697.5 288.3,698.8 284.8,700.1 C281.3,701.4 279.6,700.5 276.1,702.3 C272.6,704.0 270.5,705.8 267.4,708.8 C264.4,711.9 263.5,716.6 260.9,717.5 C258.3,718.4 257.8,713.6 254.4,713.2 C250.9,712.7 247.8,715.3 243.5,715.3 C239.2,715.3 237.0,713.2 232.6,713.2 C228.3,713.2 225.7,715.8 221.8,715.3 C217.8,714.9 216.5,712.3 213.1,711.0 C209.6,709.7 207.4,709.7 204.4,708.8 C201.3,707.9 200.5,705.3 197.8,706.6 C195.2,707.9 194.4,711.9 191.3,715.3 C188.3,718.8 186.1,722.7 182.6,724.0 C179.2,725.3 177.8,721.0 173.9,721.9 C170.0,722.7 167.4,727.5 163.1,728.4 C158.7,729.2 156.5,728.8 152.2,726.2 C147.8,723.6 145.7,718.8 141.3,715.3 C137.0,711.9 134.8,709.7 130.5,708.8 C126.1,707.9 124.4,710.5 119.6,711.0 C114.8,711.4 111.8,711.4 106.5,711.0 C101.3,710.5 98.7,708.8 93.5,708.8 C88.3,708.8 85.7,710.1 80.5,711.0 C75.2,711.9 71.8,713.6 67.4,713.2 C63.1,712.7 62.6,709.2 58.7,708.8 C54.8,708.4 52.2,711.4 47.8,711.0 C43.5,710.5 40.9,706.6 37.0,706.6 C33.1,706.6 32.6,710.5 28.3,711.0 C23.9,711.4 20.9,709.7 15.2,708.8 C9.6,707.9 5.2,707.1 0.0,706.6 C-5.2,706.2 -10.8,706.6 -10.8,706.6 L-10.8,767.5 L799.6,767.5 L799.6,552.3 C799.6,552.3 788.9,551.4 785.0,552.3 C781.1,553.2 782.3,556.6 780.0,556.6 C777.7,556.6 776.1,552.3 773.5,552.3 C770.9,552.3 769.6,554.5 767.0,556.6 C764.4,558.8 763.5,561.0 760.5,563.2 C757.4,565.3 755.2,565.8 751.8,567.5 C748.3,569.2 746.1,569.7 743.1,571.9 C740.0,574.0 739.2,577.9 736.5,578.4 C733.9,578.8 732.6,574.5 730.0,574.0 C727.4,573.6 726.1,574.5 723.5,576.2 C720.9,577.9 719.6,582.7 717.0,582.7 C714.4,582.7 713.1,578.4 710.5,576.2 C707.8,574.0 706.1,571.4 703.9,571.9 C701.8,572.3 701.3,576.6 699.6,578.4 C697.8,580.1 697.4,581.0 695.2,580.5 C693.1,580.1 691.3,576.2 688.7,576.2 C686.1,576.2 684.8,578.8 682.2,580.5 C679.6,582.3 678.3,583.6 675.7,584.9 C673.1,586.2 671.3,587.5 669.2,587.1 C667.0,586.6 666.5,585.8 664.8,582.7 C663.1,579.7 662.2,577.1 660.5,571.9 C658.7,566.6 658.1,563.2 656.1,556.6 C654.2,550.1 652.4,549.2 650.7,539.2 C648.9,529.2 648.5,519.7 647.4,506.6 C646.3,493.6 646.1,487.1 645.2,474.0 C644.4,461.0 643.9,453.0 643.1,441.4 C642.2,429.9 642.0,424.5 640.9,416.2 C639.8,407.9 639.6,402.0 637.6,400.1 C635.7,398.2 633.3,404.0 631.1,406.6 C628.9,409.2 628.3,414.0 626.8,413.2 C625.2,412.3 624.8,408.4 623.5,402.3 C622.2,396.2 621.1,386.5 620.2,382.7 C619.4,378.9 620.2,386.5 619.2,383.2 C618.1,379.8 616.3,373.6 614.8,365.8 C613.3,357.9 612.8,350.8 611.5,344.0 C610.2,337.3 609.8,332.1 608.3,332.1 C606.8,332.1 605.7,337.3 603.9,344.0 C602.2,350.8 601.3,357.1 599.6,365.8 C597.8,374.5 597.0,385.3 595.2,387.5 C593.5,389.7 592.6,383.6 590.9,376.6 C589.2,369.7 588.3,361.0 586.5,352.7 C584.8,344.5 583.7,340.1 582.2,335.3 C580.7,330.5 580.7,327.1 578.9,328.8Z" fill="#00c024"/>
<path d="M575.7,406.6 C574.4,407.9 573.7,412.7 572.4,419.7 C571.1,426.6 570.7,431.4 569.2,441.4 C567.6,451.4 566.5,458.8 564.8,469.7 C563.1,480.5 562.6,486.2 560.5,495.8 C558.3,505.3 556.5,509.7 553.9,517.5 C551.3,525.3 550.0,528.8 547.4,534.9 C544.8,541.0 543.5,542.7 540.9,547.9 C538.3,553.2 537.0,556.2 534.4,561.0 C531.8,565.8 530.5,567.5 527.8,571.9 C525.2,576.2 523.9,577.5 521.3,582.7 C518.7,587.9 517.4,592.3 514.8,597.9 C512.2,603.6 510.9,605.8 508.3,611.0 C505.7,616.2 504.4,618.8 501.8,624.0 C499.2,629.2 497.8,631.0 495.2,637.1 C492.6,643.2 491.3,648.4 488.7,654.5 C486.1,660.5 485.2,662.3 482.2,667.5 C479.2,672.7 477.0,676.2 473.5,680.5 C470.0,684.9 467.8,686.6 464.8,689.2 C461.8,691.9 460.9,691.0 458.3,693.6 C455.7,696.2 454.4,697.9 451.8,702.3 C449.2,706.6 448.3,711.9 445.2,715.3 C442.2,718.8 440.0,719.2 436.5,719.7 C433.1,720.1 431.8,719.2 427.8,717.5 C423.9,715.8 421.3,711.9 417.0,711.0 C412.6,710.1 410.5,711.4 406.1,713.2 C401.8,714.9 399.6,717.5 395.2,719.7 C390.9,721.9 388.7,723.6 384.4,724.0 C380.0,724.5 369.1,724.0 373.5,721.9 C377.9,719.7 402.1,714.5 406.5,713.2 C411.0,711.9 400.0,714.0 395.7,715.3 C391.3,716.6 389.2,717.9 384.8,719.7 C380.5,721.4 378.3,723.2 373.9,724.0 C369.6,724.9 367.4,725.8 363.1,724.0 C358.7,722.3 356.5,717.9 352.2,715.3 C347.8,712.7 345.7,711.0 341.3,711.0 C337.0,711.0 334.8,713.6 330.5,715.3 C326.1,717.1 323.9,719.7 319.6,719.7 C315.2,719.7 313.1,717.1 308.7,715.3 C304.4,713.6 302.2,711.0 297.8,711.0 C293.5,711.0 291.3,714.0 287.0,715.3 C282.6,716.6 280.5,715.3 276.1,717.5 C271.8,719.7 269.6,724.9 265.2,726.2 C260.9,727.5 258.7,723.6 254.4,724.0 C250.0,724.5 247.8,727.9 243.5,728.4 C239.2,728.8 237.0,726.2 232.6,726.2 C228.3,726.2 226.1,728.8 221.8,728.4 C217.4,727.9 214.8,725.8 210.9,724.0 C207.0,722.3 205.2,719.2 202.2,719.7 C199.2,720.1 198.7,723.2 195.7,726.2 C192.6,729.2 190.9,733.2 187.0,734.9 C183.1,736.6 180.5,733.6 176.1,734.9 C171.8,736.2 170.0,741.0 165.2,741.4 C160.5,741.9 157.0,739.7 152.2,737.1 C147.4,734.5 146.1,731.4 141.3,728.4 C136.5,725.3 133.5,722.3 128.3,721.9 C123.1,721.4 120.5,725.8 115.2,726.2 C110.0,726.6 107.4,724.9 102.2,724.0 C97.0,723.2 94.4,721.4 89.2,721.9 C83.9,722.3 81.3,726.2 76.1,726.2 C70.9,726.2 68.3,722.3 63.1,721.9 C57.8,721.4 55.2,724.5 50.0,724.0 C44.8,723.6 41.8,719.2 37.0,719.7 C32.2,720.1 30.5,725.8 26.1,726.2 C21.8,726.6 20.5,723.6 15.2,721.9 C10.0,720.1 5.2,718.4 0.0,717.5 C-5.2,716.6 -10.8,717.5 -10.8,717.5 L-10.8,767.5 L799.6,767.5 L799.6,582.7 C799.6,582.7 789.4,581.9 785.0,582.7 C780.7,583.6 781.0,584.9 777.8,587.1 C774.7,589.2 772.6,593.2 769.2,593.6 C765.7,594.0 763.9,589.2 760.5,589.2 C757.0,589.2 755.2,591.9 751.8,593.6 C748.3,595.3 746.1,595.8 743.1,597.9 C740.0,600.1 739.2,604.9 736.5,604.5 C733.9,604.0 732.6,596.6 730.0,595.8 C727.4,594.9 725.7,597.1 723.5,600.1 C721.3,603.2 720.9,610.1 719.2,611.0 C717.4,611.9 717.0,608.4 714.8,604.5 C712.6,600.5 710.9,593.2 708.3,591.4 C705.7,589.7 703.9,592.7 701.8,595.8 C699.6,598.8 699.2,605.3 697.4,606.6 C695.7,607.9 695.2,604.9 693.1,602.3 C690.9,599.7 689.6,594.5 686.5,593.6 C683.5,592.7 681.3,596.6 677.8,597.9 C674.4,599.2 672.6,598.8 669.2,600.1 C665.7,601.4 663.9,602.7 660.5,604.5 C657.0,606.2 655.2,607.1 651.8,608.8 C648.3,610.5 646.1,611.9 643.1,613.2 C640.0,614.5 638.9,614.0 636.5,615.3 C634.2,616.6 633.3,621.9 631.1,619.7 C628.9,617.5 627.4,614.0 625.7,604.5 C623.9,594.9 623.5,587.1 622.4,571.9 C621.3,556.6 621.1,545.8 620.2,528.4 C619.4,511.0 618.9,500.1 618.1,484.9 C617.2,469.7 616.8,461.4 615.9,452.3 C615.0,443.2 614.6,439.2 613.7,439.2 C612.8,439.2 612.4,443.2 611.5,452.3 C610.7,461.4 610.2,471.9 609.4,484.9 C608.5,497.9 608.1,504.5 607.2,517.5 C606.3,530.5 605.9,537.1 605.0,550.1 C604.2,563.2 603.9,571.9 602.8,582.7 C601.8,593.6 601.1,598.8 599.6,604.5 C598.1,610.1 597.0,613.2 595.2,611.0 C593.5,608.8 592.2,601.4 590.9,593.6 C589.6,585.8 589.4,582.7 588.7,571.9 C588.1,561.0 588.3,552.3 587.6,539.2 C587.0,526.2 586.3,519.7 585.5,506.6 C584.6,493.6 584.2,487.1 583.3,474.0 C582.4,461.0 582.0,453.6 581.1,441.4 C580.2,429.2 580.0,420.1 578.9,413.2 C577.8,406.2 577.0,405.3 575.7,406.6Z" fill="#24c000"/>
<path d="M571.3,526.2 C570.2,527.5 569.4,534.5 568.1,541.4 C566.8,548.4 566.3,552.7 564.8,561.0 C563.3,569.2 562.2,574.9 560.5,582.7 C558.7,590.5 557.8,593.6 556.1,600.1 C554.4,606.6 553.5,610.1 551.8,615.3 C550.0,620.5 549.2,621.4 547.4,626.2 C545.7,631.0 545.2,634.0 543.1,639.2 C540.9,644.5 539.2,647.9 536.5,652.3 C533.9,656.6 533.1,657.5 530.0,661.0 C527.0,664.5 523.9,665.8 521.3,669.7 C518.7,673.6 518.7,676.6 517.0,680.5 C515.2,684.5 515.2,686.2 512.6,689.2 C510.0,692.3 507.4,693.6 503.9,695.8 C500.5,697.9 498.7,697.9 495.2,700.1 C491.8,702.3 489.2,703.6 486.5,706.6 C483.9,709.7 483.5,711.9 482.2,715.3 C480.9,718.8 481.3,720.5 480.0,724.0 C478.7,727.5 478.3,731.0 475.7,732.7 C473.1,734.5 470.9,732.7 467.0,732.7 C463.1,732.7 460.0,732.3 456.1,732.7 C452.2,733.2 450.9,733.6 447.4,734.9 C443.9,736.2 442.6,738.8 438.7,739.2 C434.8,739.7 432.2,738.4 427.8,737.1 C423.5,735.8 421.3,733.2 417.0,732.7 C412.6,732.3 410.5,733.2 406.1,734.9 C401.8,736.6 399.6,739.7 395.2,741.4 C390.9,743.2 388.7,743.6 384.4,743.6 C380.0,743.6 367.7,743.4 373.5,741.4 C379.3,739.5 409.1,735.1 413.5,733.8 C417.9,732.5 401.4,734.2 395.7,734.9 C389.9,735.5 389.2,735.8 384.8,737.1 C380.5,738.4 378.3,740.1 373.9,741.4 C369.6,742.7 367.4,744.0 363.1,743.6 C358.7,743.2 356.5,741.4 352.2,739.2 C347.8,737.1 345.7,734.9 341.3,732.7 C337.0,730.5 334.8,728.4 330.5,728.4 C326.1,728.4 323.9,731.4 319.6,732.7 C315.2,734.0 313.1,734.9 308.7,734.9 C304.4,734.9 302.2,734.0 297.8,732.7 C293.5,731.4 291.3,728.4 287.0,728.4 C282.6,728.4 280.5,730.5 276.1,732.7 C271.8,734.9 269.6,738.4 265.2,739.2 C260.9,740.1 258.7,736.6 254.4,737.1 C250.0,737.5 247.8,741.0 243.5,741.4 C239.2,741.9 237.0,739.2 232.6,739.2 C228.3,739.2 226.1,741.9 221.8,741.4 C217.4,741.0 215.2,737.5 210.9,737.1 C206.5,736.6 204.4,737.5 200.0,739.2 C195.7,741.0 193.9,744.5 189.2,745.8 C184.4,747.1 181.3,744.9 176.1,745.8 C170.9,746.6 168.3,750.1 163.1,750.1 C157.8,750.1 154.8,747.9 150.0,745.8 C145.2,743.6 143.5,741.4 139.2,739.2 C134.8,737.1 132.6,734.9 128.3,734.9 C123.9,734.9 121.8,739.2 117.4,739.2 C113.1,739.2 110.9,735.3 106.5,734.9 C102.2,734.5 100.0,734.9 95.7,737.1 C91.3,739.2 88.7,744.5 84.8,745.8 C80.9,747.1 80.0,744.9 76.1,743.6 C72.2,742.3 69.6,741.0 65.2,739.2 C60.9,737.5 58.7,735.3 54.4,734.9 C50.0,734.5 47.8,735.3 43.5,737.1 C39.2,738.8 37.0,743.2 32.6,743.6 C28.3,744.0 26.1,741.4 21.8,739.2 C17.4,737.1 15.2,734.7 10.9,732.7 C6.5,730.8 4.4,730.1 0.0,729.5 C-4.3,728.8 -10.8,729.5 -10.8,729.5 L-10.8,767.5 L799.6,767.5 L799.6,600.1 C799.6,600.1 789.4,598.8 785.0,600.1 C780.7,601.4 780.6,604.5 777.8,606.6 C775.1,608.8 773.9,610.5 771.3,611.0 C768.7,611.4 767.8,608.4 764.8,608.8 C761.8,609.2 759.2,611.4 756.1,613.2 C753.1,614.9 752.2,617.1 749.6,617.5 C747.0,617.9 745.2,614.5 743.1,615.3 C740.9,616.2 740.9,619.2 738.7,621.9 C736.5,624.5 734.8,629.2 732.2,628.4 C729.6,627.5 727.8,618.4 725.7,617.5 C723.5,616.6 723.1,620.5 721.3,624.0 C719.6,627.5 718.7,635.8 717.0,634.9 C715.2,634.0 714.8,624.0 712.6,619.7 C710.5,615.3 708.7,612.7 706.1,613.2 C703.5,613.6 701.8,617.5 699.6,621.9 C697.4,626.2 697.0,634.5 695.2,634.9 C693.5,635.3 692.6,627.5 690.9,624.0 C689.2,620.5 688.7,617.9 686.5,617.5 C684.4,617.1 682.6,619.2 680.0,621.9 C677.4,624.5 676.5,627.9 673.5,630.5 C670.5,633.2 668.3,633.2 664.8,634.9 C661.3,636.6 659.2,637.9 656.1,639.2 C653.1,640.5 651.8,639.2 649.6,641.4 C647.4,643.6 647.0,647.1 645.2,650.1 C643.5,653.2 643.1,656.2 640.9,656.6 C638.7,657.1 636.8,654.5 634.4,652.3 C632.0,650.1 631.1,648.2 628.9,645.8 C626.8,643.4 625.7,641.2 623.5,640.3 C621.3,639.5 620.2,639.9 618.1,641.4 C615.9,642.9 614.4,645.3 612.6,647.9 C610.9,650.5 611.1,653.2 609.4,654.5 C607.6,655.8 606.1,654.0 603.9,654.5 C601.8,654.9 600.7,655.3 598.5,656.6 C596.3,657.9 595.0,660.5 593.1,661.0 C591.1,661.4 590.5,660.5 588.7,658.8 C587.0,657.1 585.9,655.3 584.4,652.3 C582.8,649.2 582.2,648.8 581.1,643.6 C580.0,638.4 579.8,636.2 578.9,626.2 C578.1,616.2 577.6,606.6 576.8,593.6 C575.9,580.5 575.2,572.7 574.6,561.0 C573.9,549.2 574.2,541.9 573.5,534.9 C572.8,527.9 572.4,524.9 571.3,526.2Z" fill="#84f000"/>
<path d="M421.3,767.5 C421.3,767.5 417.8,760.8 421.3,758.6 C424.8,756.4 430.9,757.2 438.7,756.6 C446.5,756.0 452.6,756.0 460.5,755.5 C468.3,755.1 472.6,756.4 477.8,754.5 C483.1,752.5 483.1,749.7 486.5,745.8 C490.0,741.9 491.8,737.5 495.2,734.9 C498.7,732.3 500.5,734.9 503.9,732.7 C507.4,730.5 509.2,727.5 512.6,724.0 C516.1,720.5 518.7,719.7 521.3,715.3 C523.9,711.0 523.1,705.8 525.7,702.3 C528.3,698.8 531.3,700.5 534.4,697.9 C537.4,695.3 538.3,691.9 540.9,689.2 C543.5,686.6 544.8,687.9 547.4,684.9 C550.0,681.9 551.3,678.8 553.9,674.0 C556.5,669.2 558.3,664.5 560.5,661.0 C562.6,657.5 563.1,656.2 564.8,656.6 C566.5,657.1 567.0,659.7 569.2,663.2 C571.3,666.6 573.1,671.0 575.7,674.0 C578.3,677.1 579.6,676.2 582.2,678.4 C584.8,680.5 586.5,682.7 588.7,684.9 C590.9,687.1 591.3,690.1 593.1,689.2 C594.8,688.4 595.7,682.7 597.4,680.5 C599.2,678.4 600.0,676.6 601.8,678.4 C603.5,680.1 604.6,686.2 606.1,689.2 C607.6,692.3 608.1,694.5 609.4,693.6 C610.7,692.7 611.1,688.4 612.6,684.9 C614.2,681.4 614.8,679.2 617.0,676.2 C619.2,673.2 621.1,672.7 623.5,669.7 C625.9,666.6 626.8,661.4 628.9,661.0 C631.1,660.5 632.2,664.0 634.4,667.5 C636.5,671.0 638.1,673.6 639.8,678.4 C641.5,683.2 641.5,691.0 643.1,691.4 C644.6,691.9 645.2,684.9 647.4,680.5 C649.6,676.2 650.9,673.6 653.9,669.7 C657.0,665.8 659.2,663.6 662.6,661.0 C666.1,658.4 668.3,658.4 671.3,656.6 C674.4,654.9 675.2,653.6 677.8,652.3 C680.5,651.0 681.8,648.8 684.4,650.1 C687.0,651.4 688.9,654.0 690.9,658.8 C692.8,663.6 692.8,674.0 694.2,674.0 C695.5,674.0 695.9,664.5 697.4,658.8 C698.9,653.2 699.8,648.8 701.8,645.8 C703.7,642.7 705.0,642.7 707.2,643.6 C709.4,644.5 710.9,642.7 712.6,650.1 C714.4,657.5 714.8,672.7 715.9,680.5 C717.0,688.4 717.0,690.1 718.1,689.2 C719.2,688.4 720.2,683.2 721.3,676.2 C722.4,669.2 722.4,657.9 723.5,654.5 C724.6,651.0 725.5,653.6 726.8,658.8 C728.1,664.0 728.9,674.9 730.0,680.5 C731.1,686.2 730.9,688.4 732.2,687.1 C733.5,685.8 734.8,679.7 736.5,674.0 C738.3,668.4 739.2,663.6 740.9,658.8 C742.6,654.0 743.1,652.7 745.2,650.1 C747.4,647.5 749.2,647.1 751.8,645.8 C754.4,644.5 755.7,645.3 758.3,643.6 C760.9,641.9 762.6,637.1 764.8,637.1 C767.0,637.1 767.0,641.4 769.2,643.6 C771.3,645.8 773.3,649.2 775.7,647.9 C778.1,646.6 779.2,640.1 781.1,637.1 C783.0,634.0 781.3,633.6 785.0,632.7 C788.7,631.9 799.6,632.7 799.6,632.7 L799.6,767.5 L421.3,767.5Z" fill="#e4f800"/>
<path d="M-10.8,743.6 C-10.8,743.6 -4.3,743.2 0.0,743.6 C4.4,744.0 6.5,744.5 10.9,745.8 C15.2,747.1 17.4,748.4 21.8,750.1 C26.1,751.9 28.3,754.5 32.6,754.5 C37.0,754.5 39.6,751.9 43.5,750.1 C47.4,748.4 48.7,745.8 52.2,745.8 C55.7,745.8 57.8,748.4 60.9,750.1 C63.9,751.9 64.4,751.0 67.4,754.5 C70.5,757.9 76.1,767.5 76.1,767.5 L-10.8,767.5 L-10.8,743.6Z" fill="#e4f800"/>
<path d="M80.5,767.5 C80.5,767.5 83.9,754.5 87.0,750.1 C90.0,745.8 92.2,745.8 95.7,745.8 C99.2,745.8 101.3,745.8 104.4,750.1 C107.4,754.5 110.9,767.5 110.9,767.5 L80.5,767.5Z" fill="#e4f800"/>
<path d="M117.4,767.5 C117.4,767.5 120.9,752.7 123.9,747.9 C127.0,743.2 129.2,743.6 132.6,743.6 C136.1,743.6 137.8,745.8 141.3,747.9 C144.8,750.1 146.5,752.7 150.0,754.5 C153.5,756.2 155.2,754.0 158.7,756.6 C162.2,759.2 167.4,767.5 167.4,767.5 L117.4,767.5Z" fill="#e4f800"/>
<path d="M284.8,767.5 C284.8,767.5 288.3,757.7 291.3,754.5 C294.4,751.2 296.5,751.6 300.0,751.2 C303.5,750.8 305.2,751.4 308.7,752.3 C312.2,753.2 314.8,752.5 317.4,755.5 C320.0,758.6 321.8,767.5 321.8,767.5 L284.8,767.5Z" fill="#e4f800"/>
<path d="M533.3,767.5 C533.3,767.5 535.9,754.9 538.7,750.1 C541.5,745.3 543.9,745.8 547.4,743.6 C550.9,741.4 553.1,740.5 556.1,739.2 C559.2,737.9 560.0,736.2 562.6,737.1 C565.2,737.9 566.2,741.9 569.2,743.6 C572.1,745.3 575.2,741.0 577.2,745.8 C579.2,750.5 578.9,767.5 578.9,767.5 L533.3,767.5Z" fill="#fcc000"/>
<path d="M593.1,767.5 C593.1,767.5 593.9,751.4 595.2,745.8 C596.5,740.1 597.8,739.2 599.6,739.2 C601.3,739.2 602.2,742.7 603.9,745.8 C605.7,748.8 607.0,750.1 608.3,754.5 C609.6,758.8 610.5,767.5 610.5,767.5 L593.1,767.5Z" fill="#fcc000"/>
<path d="M617.0,767.5 C617.0,767.5 618.9,752.3 620.2,752.3 C621.5,752.3 623.5,767.5 623.5,767.5 L617.0,767.5Z" fill="#fcc000"/>
<path d="M631.1,767.5 C631.1,767.5 632.3,751.0 633.3,745.8 C634.2,740.5 635.0,737.1 635.9,741.4 C636.8,745.8 637.6,767.5 637.6,767.5 L631.1,767.5Z" fill="#fcc000"/>
<path d="M626.8,706.6 L628.3,700.1 L630.5,708.8 L628.9,714.2Z" fill="#fcc000"/>
<path d="M736.5,702.3 L740.9,702.3 L740.9,737.1 L736.5,737.1Z" fill="#fcc000"/>
<path d="M-10.8,-10.3 L193.5,-10.3 C193.5,-10.3 193.1,-5.8 193.5,-0.1 C193.9,5.5 194.4,10.0 195.7,17.9 C197.0,25.9 197.4,32.3 200.0,39.7 C202.6,47.1 205.2,52.9 208.7,54.9 C212.2,56.9 214.6,49.9 217.4,49.5 C220.2,49.0 221.3,48.2 222.8,52.7 C224.4,57.3 223.9,61.9 225.0,72.3 C226.1,82.7 226.8,93.2 228.3,104.9 C229.8,116.6 231.3,120.1 232.6,131.0 C233.9,141.9 234.8,147.1 234.8,159.2 C234.8,171.4 233.9,181.0 232.6,191.9 C231.3,202.7 230.5,205.8 228.3,213.6 C226.1,221.4 224.4,224.5 221.8,231.0 C219.2,237.5 217.4,238.8 215.2,246.2 C213.1,253.6 212.2,257.1 210.9,267.9 C209.6,278.8 208.7,287.5 208.7,300.5 C208.7,313.6 210.9,321.9 210.9,333.2 C210.9,344.5 210.5,348.8 208.7,357.1 C207.0,365.3 204.8,368.4 202.2,374.5 C199.6,380.5 197.8,381.9 195.7,387.5 C193.5,393.2 193.1,400.5 191.3,402.7 C189.6,404.9 189.2,402.3 187.0,398.4 C184.8,394.5 183.1,388.8 180.5,383.2 C177.8,377.5 176.5,374.5 173.9,370.1 C171.3,365.8 170.0,364.9 167.4,361.4 C164.8,357.9 163.5,356.2 160.9,352.7 C158.3,349.2 157.4,346.2 154.4,344.0 C151.3,341.9 148.7,343.6 145.7,341.9 C142.6,340.1 141.8,334.9 139.2,335.3 C136.5,335.8 135.2,340.5 132.6,344.0 C130.0,347.5 128.7,353.2 126.1,352.7 C123.5,352.3 122.2,345.3 119.6,341.9 C117.0,338.4 115.7,335.3 113.1,335.3 C110.5,335.3 109.2,341.9 106.5,341.9 C103.9,341.9 102.6,339.2 100.0,335.3 C97.4,331.4 96.1,327.1 93.5,322.3 C90.9,317.5 89.6,315.8 87.0,311.4 C84.4,307.1 82.6,305.8 80.5,300.5 C78.3,295.3 77.8,291.4 76.1,285.3 C74.4,279.2 73.5,275.8 71.8,270.1 C70.0,264.5 69.6,255.8 67.4,257.1 C65.2,258.4 63.5,272.3 60.9,276.6 C58.3,281.0 57.0,281.4 54.4,278.8 C51.8,276.2 50.0,272.3 47.8,263.6 C45.7,254.9 45.7,244.5 43.5,235.3 C41.3,226.2 39.6,220.1 37.0,217.9 C34.4,215.8 33.1,220.1 30.5,224.5 C27.8,228.8 26.5,233.2 23.9,239.7 C21.3,246.2 20.0,249.2 17.4,257.1 C14.8,264.9 13.1,270.1 10.9,278.8 C8.7,287.5 8.1,293.6 6.5,300.5 C5.0,307.5 4.6,309.2 3.3,313.6 C2.0,317.9 2.8,320.5 0.0,322.3 C-2.8,324.0 -10.8,322.3 -10.8,322.3 L-10.8,-10.3Z" fill="#006cfc"/>
<path d="M-10.8,-10.3 L143.5,-10.3 C143.5,-10.3 142.6,-5.8 143.5,-0.1 C144.4,5.5 145.7,12.2 147.8,17.9 C150.0,23.7 151.8,25.8 154.4,28.8 C157.0,31.9 158.3,32.7 160.9,33.2 C163.5,33.6 165.2,29.7 167.4,31.0 C169.6,32.3 169.6,35.3 171.8,39.7 C173.9,44.0 175.7,51.0 178.3,52.7 C180.9,54.5 182.4,49.7 184.8,48.4 C187.2,47.1 188.5,43.6 190.2,46.2 C192.0,48.8 192.2,54.0 193.5,61.4 C194.8,68.8 195.5,75.3 196.8,83.2 C198.1,91.0 197.6,94.5 200.0,100.5 C202.4,106.6 205.2,111.4 208.7,113.6 C212.2,115.8 214.8,108.8 217.4,111.4 C220.0,114.0 220.7,120.1 221.8,126.6 C222.8,133.2 223.3,137.1 222.8,144.0 C222.4,151.0 222.0,156.2 219.6,161.4 C217.2,166.6 213.1,164.0 210.9,170.1 C208.7,176.2 209.4,183.2 208.7,191.9 C208.1,200.5 208.1,204.9 207.6,213.6 C207.2,222.3 207.0,226.6 206.5,235.3 C206.1,244.0 205.9,248.4 205.5,257.1 C205.0,265.8 205.5,273.2 204.4,278.8 C203.3,284.5 201.8,282.7 200.0,285.3 C198.3,287.9 197.0,286.6 195.7,291.9 C194.4,297.1 194.4,302.7 193.5,311.4 C192.6,320.1 192.4,327.9 191.3,335.3 C190.2,342.7 189.4,348.4 188.1,348.4 C186.8,348.4 185.9,342.7 184.8,335.3 C183.7,327.9 183.5,320.5 182.6,311.4 C181.8,302.3 181.3,298.4 180.5,289.7 C179.6,281.0 179.2,278.8 178.3,267.9 C177.4,257.1 177.0,245.3 176.1,235.3 C175.2,225.3 175.2,219.7 173.9,217.9 C172.6,216.2 171.3,225.8 169.6,226.6 C167.8,227.5 167.0,223.6 165.2,222.3 C163.5,221.0 162.6,217.5 160.9,220.1 C159.2,222.7 158.1,225.8 156.5,235.3 C155.0,244.9 154.6,254.9 153.3,267.9 C152.0,281.0 151.3,289.7 150.0,300.5 C148.7,311.4 148.1,317.1 146.8,322.3 C145.5,327.5 145.0,327.9 143.5,326.6 C142.0,325.3 140.7,320.1 139.2,315.8 C137.6,311.4 137.6,305.3 135.9,304.9 C134.2,304.5 132.4,310.1 130.5,313.6 C128.5,317.1 127.8,323.2 126.1,322.3 C124.4,321.4 123.5,314.5 121.8,309.2 C120.0,304.0 118.9,301.0 117.4,296.2 C115.9,291.4 115.5,284.5 114.2,285.3 C112.8,286.2 112.4,294.9 110.9,300.5 C109.4,306.2 108.5,309.2 106.5,313.6 C104.6,317.9 103.3,322.7 101.1,322.3 C98.9,321.9 97.8,316.6 95.7,311.4 C93.5,306.2 92.4,301.9 90.2,296.2 C88.1,290.5 86.8,288.8 84.8,283.2 C82.8,277.5 82.0,275.3 80.5,267.9 C78.9,260.5 78.1,257.1 77.2,246.2 C76.3,235.3 76.8,226.6 76.1,213.6 C75.5,200.5 75.0,193.2 73.9,181.0 C72.8,168.8 72.2,160.1 70.7,152.7 C69.2,145.3 68.1,143.2 66.3,144.0 C64.6,144.9 63.5,149.7 62.0,157.1 C60.5,164.5 60.7,174.0 58.7,181.0 C56.8,187.9 55.2,188.8 52.2,191.9 C49.2,194.9 47.0,193.6 43.5,196.2 C40.0,198.8 38.3,201.4 34.8,204.9 C31.3,208.4 29.2,209.2 26.1,213.6 C23.1,217.9 22.0,220.1 19.6,226.6 C17.2,233.2 16.1,237.9 14.2,246.2 C12.2,254.5 11.5,259.2 9.8,267.9 C8.1,276.6 7.0,281.4 5.5,289.7 C3.9,297.9 5.5,304.5 2.2,309.2 C-1.1,314.0 -10.8,313.6 -10.8,313.6 L-10.8,-10.3Z" fill="#0020f4"/>
<path d="M13.1,-10.3 C13.1,-10.3 14.4,-5.8 13.1,-0.1 C11.8,5.5 9.2,13.9 6.5,17.9 C3.9,22.0 3.5,19.7 0.0,20.1 C-3.5,20.5 -10.8,20.1 -10.8,20.1 L-10.8,300.5 C-10.8,300.5 -2.6,301.4 0.0,300.5 C2.6,299.7 0.9,301.4 2.2,296.2 C3.5,291.0 4.8,283.2 6.5,274.5 C8.3,265.8 9.2,261.4 10.9,252.7 C12.6,244.0 13.1,238.8 15.2,231.0 C17.4,223.2 19.2,218.8 21.8,213.6 C24.4,208.4 25.2,207.9 28.3,204.9 C31.3,201.9 33.5,201.9 37.0,198.4 C40.5,194.9 42.8,193.2 45.7,187.5 C48.5,181.9 49.4,177.9 51.1,170.1 C52.8,162.3 53.5,158.8 54.4,148.4 C55.2,137.9 55.5,131.0 55.5,117.9 C55.5,104.9 54.8,98.8 54.4,83.2 C53.9,67.5 53.7,56.3 53.3,39.7 C52.8,23.0 52.4,9.9 52.2,-0.1 C52.0,-10.1 52.2,-10.3 52.2,-10.3 L13.1,-10.3Z" fill="#2200d0"/>
<path d="M110.9,-10.3 C110.9,-10.3 111.5,-5.8 110.9,-0.1 C110.2,5.5 109.4,10.9 107.6,17.9 C105.9,25.0 103.7,26.6 102.2,35.3 C100.7,44.0 100.9,51.0 100.0,61.4 C99.2,71.9 99.2,77.1 97.8,87.5 C96.5,97.9 95.2,103.2 93.5,113.6 C91.8,124.0 90.7,128.4 89.2,139.7 C87.6,151.0 87.0,157.5 85.9,170.1 C84.8,182.7 84.4,189.7 83.7,202.7 C83.1,215.8 82.4,222.3 82.6,235.3 C82.8,248.4 83.1,257.9 84.8,267.9 C86.5,277.9 89.2,279.7 91.3,285.3 C93.5,291.0 93.9,289.7 95.7,296.2 C97.4,302.7 98.5,315.8 100.0,317.9 C101.5,320.1 102.0,313.6 103.3,307.1 C104.6,300.5 105.0,294.5 106.5,285.3 C108.1,276.2 109.4,267.9 110.9,261.4 C112.4,254.9 112.8,252.3 114.2,252.7 C115.5,253.2 115.9,257.1 117.4,263.6 C118.9,270.1 120.0,277.1 121.8,285.3 C123.5,293.6 124.6,298.8 126.1,304.9 C127.6,311.0 128.1,316.6 129.4,315.8 C130.7,314.9 131.3,306.6 132.6,300.5 C133.9,294.5 134.4,286.2 135.9,285.3 C137.4,284.5 138.7,289.2 140.2,296.2 C141.8,303.2 142.2,317.5 143.5,320.1 C144.8,322.7 145.7,317.5 146.8,309.2 C147.8,301.0 148.1,291.4 148.9,278.8 C149.8,266.2 150.0,259.2 151.1,246.2 C152.2,233.2 152.8,225.3 154.4,213.6 C155.9,201.9 156.5,192.3 158.7,187.5 C160.9,182.7 163.5,191.9 165.2,189.7 C167.0,187.5 166.5,181.9 167.4,176.6 C168.3,171.4 167.8,166.6 169.6,163.6 C171.3,160.5 174.2,157.9 176.1,161.4 C178.1,164.9 178.3,170.5 179.4,181.0 C180.5,191.4 180.9,200.5 181.5,213.6 C182.2,226.6 182.2,233.2 182.6,246.2 C183.1,259.2 183.1,267.9 183.7,278.8 C184.4,289.7 184.8,294.9 185.9,300.5 C187.0,306.2 187.8,309.2 189.2,307.1 C190.5,304.9 190.9,294.5 192.4,289.7 C193.9,284.9 195.0,286.2 196.8,283.2 C198.5,280.1 199.8,281.9 201.1,274.5 C202.4,267.1 203.1,258.4 203.3,246.2 C203.5,234.0 202.6,226.6 202.2,213.6 C201.8,200.5 201.8,194.0 201.1,181.0 C200.5,167.9 200.0,161.0 198.9,148.4 C197.8,135.8 197.0,129.2 195.7,117.9 C194.4,106.6 193.7,100.1 192.4,91.9 C191.1,83.6 190.7,77.5 189.2,76.6 C187.6,75.8 186.5,82.7 184.8,87.5 C183.1,92.3 182.2,96.6 180.5,100.5 C178.7,104.5 177.8,107.1 176.1,107.1 C174.4,107.1 173.5,105.3 171.8,100.5 C170.0,95.8 168.9,88.8 167.4,83.2 C165.9,77.5 165.5,71.4 164.2,72.3 C162.8,73.2 162.4,84.5 160.9,87.5 C159.4,90.5 158.1,92.7 156.5,87.5 C155.0,82.3 154.6,71.0 153.3,61.4 C152.0,51.9 151.5,47.5 150.0,39.7 C148.5,31.9 147.0,30.2 145.7,22.3 C144.4,14.3 143.9,6.4 143.5,-0.1 C143.1,-6.6 143.5,-10.3 143.5,-10.3 L110.9,-10.3Z" fill="#2200d0"/>
<path d="M-10.8,24.5 C-10.8,24.5 -3.5,25.3 0.0,24.5 C3.5,23.6 3.5,20.5 6.5,20.1 C9.6,19.7 11.3,17.9 15.2,22.3 C19.2,26.6 21.8,39.7 26.1,41.9 C30.5,44.0 33.5,31.4 37.0,33.2 C40.5,34.9 41.3,40.5 43.5,50.5 C45.7,60.5 46.5,69.7 47.8,83.2 C49.2,96.6 50.0,105.8 50.0,117.9 C50.0,130.1 49.2,134.5 47.8,144.0 C46.5,153.6 45.7,157.9 43.5,165.8 C41.3,173.6 40.0,177.5 37.0,183.2 C33.9,188.8 31.3,190.1 28.3,194.0 C25.2,197.9 24.4,197.9 21.8,202.7 C19.2,207.5 17.4,211.4 15.2,217.9 C13.1,224.5 12.6,227.5 10.9,235.3 C9.2,243.2 8.3,249.2 6.5,257.1 C4.8,264.9 3.5,270.1 2.2,274.5 C0.9,278.8 2.6,277.9 0.0,278.8 C-2.6,279.7 -10.8,278.8 -10.8,278.8 L-10.8,24.5Z" fill="#3a00a8"/>
<path d="M115.2,13.6 C113.7,14.5 112.6,25.8 110.9,35.3 C109.2,44.9 108.1,49.7 106.5,61.4 C105.0,73.2 104.4,81.0 103.3,94.0 C102.2,107.1 102.0,113.6 101.1,126.6 C100.2,139.7 99.8,146.2 98.9,159.2 C98.1,172.3 97.6,178.8 96.8,191.9 C95.9,204.9 94.6,211.4 94.6,224.5 C94.6,237.5 95.7,246.6 96.8,257.1 C97.8,267.5 98.9,275.3 100.0,276.6 C101.1,277.9 101.1,270.5 102.2,263.6 C103.3,256.6 103.9,248.4 105.5,241.9 C107.0,235.3 108.3,232.3 109.8,231.0 C111.3,229.7 111.8,231.4 113.1,235.3 C114.4,239.2 114.8,244.0 116.3,250.5 C117.8,257.1 119.2,266.6 120.7,267.9 C122.2,269.2 122.4,261.4 123.9,257.1 C125.5,252.7 126.5,247.1 128.3,246.2 C130.0,245.3 130.9,248.4 132.6,252.7 C134.4,257.1 135.2,262.7 137.0,267.9 C138.7,273.2 139.8,279.2 141.3,278.8 C142.8,278.4 143.5,274.5 144.6,265.8 C145.7,257.1 145.9,247.9 146.8,235.3 C147.6,222.7 148.1,215.8 148.9,202.7 C149.8,189.7 150.5,183.2 151.1,170.1 C151.8,157.1 152.4,150.5 152.2,137.5 C152.0,124.5 150.9,116.6 150.0,104.9 C149.2,93.2 148.9,88.4 147.8,78.8 C146.8,69.2 146.3,64.9 144.6,57.1 C142.8,49.2 141.5,45.3 139.2,39.7 C136.8,34.0 135.7,30.1 132.6,28.8 C129.6,27.5 126.8,32.7 123.9,33.2 C121.1,33.6 120.2,34.9 118.5,31.0 C116.8,27.1 116.8,12.7 115.2,13.6Z" fill="#3a00a8"/>
<path d="M184.8,117.9 C185.9,107.1 187.4,104.9 189.2,104.9 C190.9,104.9 192.2,109.2 193.5,117.9 C194.8,126.6 195.0,133.6 195.7,148.4 C196.3,163.2 196.8,174.5 196.8,191.9 C196.8,209.2 196.3,217.9 195.7,235.3 C195.0,252.7 194.6,264.9 193.5,278.8 C192.4,292.7 191.3,303.6 190.2,304.9 C189.2,306.2 188.9,297.1 188.1,285.3 C187.2,273.6 186.6,262.7 185.9,246.2 C185.2,229.7 184.8,220.1 184.4,202.7 C183.9,185.3 183.6,176.2 183.7,159.2 C183.8,142.3 183.7,128.8 184.8,117.9Z" fill="#3a00a8"/>
<path d="M162.0,126.6 C162.2,115.3 163.1,113.6 164.2,113.6 C165.2,113.6 166.5,117.5 167.4,126.6 C168.3,135.8 168.7,147.1 168.5,159.2 C168.3,171.4 167.4,185.3 166.3,187.5 C165.2,189.7 163.9,182.3 163.1,170.1 C162.2,157.9 161.8,137.9 162.0,126.6Z" fill="#3a00a8"/>
<path d="M-10.8,39.7 C-10.8,39.7 -3.5,40.5 0.0,39.7 C3.5,38.8 3.5,35.3 6.5,35.3 C9.6,35.3 11.8,34.5 15.2,39.7 C18.7,44.9 20.5,55.8 23.9,61.4 C27.4,67.1 29.2,61.4 32.6,67.9 C36.1,74.5 38.9,84.0 41.3,94.0 C43.7,104.0 44.2,109.2 44.6,117.9 C45.0,126.6 44.6,129.7 43.5,137.5 C42.4,145.3 41.3,149.7 39.2,157.1 C37.0,164.5 35.2,168.8 32.6,174.5 C30.0,180.1 28.7,181.0 26.1,185.3 C23.5,189.7 21.8,191.4 19.6,196.2 C17.4,201.0 17.0,203.2 15.2,209.2 C13.5,215.3 12.8,219.2 10.9,226.6 C8.9,234.0 7.6,241.0 5.5,246.2 C3.3,251.4 3.3,251.4 0.0,252.7 C-3.2,254.0 -10.8,252.7 -10.8,252.7 L-10.8,39.7Z" fill="#440078"/>
<path d="M117.4,50.5 C115.2,54.0 114.4,61.4 113.1,72.3 C111.8,83.2 111.5,89.7 110.9,104.9 C110.2,120.1 110.2,133.2 109.8,148.4 C109.4,163.6 109.2,170.1 108.7,181.0 C108.3,191.9 107.2,195.3 107.6,202.7 C108.1,210.1 109.4,216.6 110.9,217.9 C112.4,219.2 113.5,207.9 115.2,209.2 C117.0,210.5 117.8,218.4 119.6,224.5 C121.3,230.5 122.2,239.2 123.9,239.7 C125.7,240.1 126.5,231.9 128.3,226.6 C130.0,221.4 130.9,212.7 132.6,213.6 C134.4,214.5 135.2,222.3 137.0,231.0 C138.7,239.7 139.8,256.2 141.3,257.1 C142.8,257.9 143.5,246.2 144.6,235.3 C145.7,224.5 145.9,215.8 146.8,202.7 C147.6,189.7 148.5,183.2 148.9,170.1 C149.4,157.1 149.4,149.7 148.9,137.5 C148.5,125.3 147.8,120.1 146.8,109.2 C145.7,98.4 145.0,92.7 143.5,83.2 C142.0,73.6 141.3,67.9 139.2,61.4 C137.0,54.9 135.7,51.9 132.6,50.5 C129.6,49.2 127.0,54.9 123.9,54.9 C120.9,54.9 119.6,47.1 117.4,50.5Z" fill="#440078"/>
<path d="M-10.8,46.2 C-10.8,46.2 -3.9,46.6 0.0,46.2 C3.9,45.8 5.5,42.7 8.7,44.0 C12.0,45.3 13.7,45.8 16.3,52.7 C18.9,59.7 19.4,69.7 21.8,78.8 C24.2,87.9 25.2,91.4 28.3,98.4 C31.3,105.3 34.6,107.9 37.0,113.6 C39.4,119.2 40.2,120.5 40.2,126.6 C40.2,132.7 38.9,137.1 37.0,144.0 C35.0,151.0 33.1,154.9 30.5,161.4 C27.8,167.9 26.3,171.0 23.9,176.6 C21.5,182.3 20.7,184.0 18.5,189.7 C16.3,195.3 15.2,197.9 13.1,204.9 C10.9,211.9 9.6,218.4 7.6,224.5 C5.7,230.5 7.0,233.2 3.3,235.3 C-0.4,237.5 -10.8,235.3 -10.8,235.3 L-10.8,46.2Z" fill="#3a0058"/>
<path d="M118.5,72.3 C116.3,75.3 115.5,83.2 114.2,94.0 C112.8,104.9 112.6,111.4 112.0,126.6 C111.3,141.9 110.2,158.4 110.9,170.1 C111.5,181.9 113.1,181.0 115.2,185.3 C117.4,189.7 119.2,188.8 121.8,191.9 C124.4,194.9 125.7,199.7 128.3,200.5 C130.9,201.4 132.2,195.8 134.8,196.2 C137.4,196.6 139.4,204.5 141.3,202.7 C143.3,201.0 143.7,196.2 144.6,187.5 C145.5,178.8 145.7,170.5 145.7,159.2 C145.7,147.9 145.2,141.9 144.6,131.0 C143.9,120.1 143.7,114.5 142.4,104.9 C141.1,95.3 140.0,89.2 138.1,83.2 C136.1,77.1 135.2,75.3 132.6,74.5 C130.0,73.6 127.8,79.2 125.0,78.8 C122.2,78.4 120.7,69.2 118.5,72.3Z" fill="#3a0058"/>
<path d="M-10.8,52.7 C-10.8,52.7 -2.8,53.2 2.2,52.7 C7.2,52.3 11.1,47.5 14.2,50.5 C17.2,53.6 15.9,59.2 17.4,67.9 C18.9,76.6 20.0,85.8 21.8,94.0 C23.5,102.3 23.5,103.2 26.1,109.2 C28.7,115.3 32.6,120.1 34.8,124.5 C37.0,128.8 37.6,126.6 37.0,131.0 C36.3,135.3 34.2,139.2 31.5,146.2 C28.9,153.2 26.5,158.8 23.9,165.8 C21.3,172.7 20.5,174.9 18.5,181.0 C16.5,187.1 16.1,189.7 14.2,196.2 C12.2,202.7 10.7,206.6 8.7,213.6 C6.8,220.5 8.3,227.1 4.4,231.0 C0.5,234.9 -10.8,233.2 -10.8,233.2 L-10.8,52.7Z" fill="#2e0040"/>
<path d="M119.6,96.2 C117.6,96.2 115.7,100.5 114.2,104.9 C112.6,109.2 112.4,104.9 112.0,117.9 C111.5,131.0 110.9,158.4 112.0,170.1 C113.1,181.9 115.0,176.6 117.4,176.6 C119.8,176.6 121.3,170.1 123.9,170.1 C126.5,170.1 127.8,175.8 130.5,176.6 C133.1,177.5 134.6,175.8 137.0,174.5 C139.4,173.2 141.1,175.3 142.4,170.1 C143.7,164.9 143.7,157.9 143.5,148.4 C143.3,138.8 142.6,131.4 141.3,122.3 C140.0,113.2 139.2,107.5 137.0,102.7 C134.8,97.9 133.1,97.9 130.5,98.4 C127.8,98.8 126.1,105.3 123.9,104.9 C121.8,104.5 121.5,96.2 119.6,96.2Z" fill="#2e0040"/>
<path d="M3.3,60.3 L14.2,59.2 C14.2,59.2 15.7,75.9 16.3,83.2 C17.0,90.4 18.2,107.8 19.2,113.6 C20.1,119.4 23.0,123.7 23.5,126.6 C24.0,129.5 23.4,132.4 22.8,135.3 C22.3,138.2 19.8,143.7 19.2,148.4 C18.5,153.0 18.2,164.9 17.8,170.1 C17.5,175.3 16.8,182.9 16.3,187.5 C15.8,192.1 15.2,201.1 14.2,204.9 C13.1,208.7 10.0,212.3 8.7,215.8 C7.4,219.2 4.4,231.0 4.4,231.0 C4.4,231.0 2.6,210.8 2.2,202.7 C1.8,194.6 1.3,180.3 1.1,170.1 C1.0,160.0 1.0,138.2 1.1,126.6 C1.3,115.0 1.9,92.0 2.2,83.2 C2.5,74.3 3.3,60.3 3.3,60.3Z" fill="#ffffff"/>
<path d="M111.5,115.3 L115.2,122.3 L123.9,128.4 L132.6,124.5 L138.1,125.5 L138.1,144.0 L132.6,139.7 L123.9,135.3 L116.3,141.9 L111.5,151.0Z" fill="#ffffff"/>
<path d="M345.7,83.2 C350.0,82.7 351.3,86.6 354.4,89.7 C357.4,92.7 358.9,93.2 360.9,98.4 C362.8,103.6 362.6,116.9 364.2,115.8 C365.7,114.7 366.8,94.2 368.5,92.9 C370.2,91.6 371.3,101.6 372.8,109.2 C374.4,116.9 374.8,118.8 376.1,131.0 C377.4,143.2 377.6,153.6 379.4,170.1 C381.1,186.6 383.1,196.2 384.8,213.6 C386.5,231.0 388.1,239.7 388.1,257.1 C388.1,274.5 386.8,287.5 384.8,300.5 C382.8,313.6 381.3,315.3 378.3,322.3 C375.2,329.2 372.2,334.5 369.6,335.3 C367.0,336.2 367.0,324.9 365.2,326.6 C363.5,328.4 363.1,337.1 360.9,344.0 C358.7,351.0 356.5,354.9 354.4,361.4 C352.2,367.9 352.2,371.9 350.0,376.6 C347.8,381.4 346.1,382.3 343.5,385.3 C340.9,388.4 339.6,390.1 337.0,391.9 C334.4,393.6 333.1,395.3 330.5,394.0 C327.8,392.7 326.5,390.1 323.9,385.3 C321.3,380.5 320.0,378.4 317.4,370.1 C314.8,361.9 313.5,351.6 310.9,344.0 C308.3,336.4 306.8,331.2 304.4,332.1 C302.0,332.9 300.9,339.9 298.9,348.4 C297.0,356.9 296.3,366.2 294.6,374.5 C292.8,382.7 292.0,387.9 290.2,389.7 C288.5,391.4 287.2,390.1 285.9,383.2 C284.6,376.2 284.4,367.1 283.7,354.9 C283.1,342.7 282.6,337.5 282.6,322.3 C282.6,307.1 283.3,296.2 283.7,278.8 C284.2,261.4 284.2,250.5 284.8,235.3 C285.5,220.1 286.1,215.8 287.0,202.7 C287.8,189.7 288.1,181.0 289.2,170.1 C290.2,159.2 290.9,157.1 292.4,148.4 C293.9,139.7 294.8,134.0 296.8,126.6 C298.7,119.2 299.8,116.2 302.2,111.4 C304.6,106.6 305.2,104.9 308.7,102.7 C312.2,100.5 314.8,102.7 319.6,100.5 C324.4,98.4 327.4,95.3 332.6,91.9 C337.8,88.4 341.3,83.6 345.7,83.2Z" fill="#006cfc"/>
<path d="M264.2,202.7 C262.6,203.2 262.2,206.2 260.9,213.6 C259.6,221.0 259.4,229.7 257.6,239.7 C255.9,249.7 254.4,255.8 252.2,263.6 C250.0,271.4 248.7,271.4 246.8,278.8 C244.8,286.2 243.7,289.7 242.4,300.5 C241.1,311.4 241.1,320.1 240.2,333.2 C239.4,346.2 238.1,354.9 238.1,365.8 C238.1,376.6 238.9,378.8 240.2,387.5 C241.5,396.2 243.9,408.9 244.6,409.2 C245.2,409.6 242.8,390.6 243.5,389.2 C244.2,387.9 246.3,399.2 247.8,402.3 C249.4,405.3 249.6,406.2 251.1,404.5 C252.6,402.7 250.9,394.8 255.5,393.6 C260.0,392.4 270.0,403.9 273.9,398.4 C277.8,392.8 274.6,378.8 275.0,365.8 C275.5,352.7 275.7,346.2 276.1,333.2 C276.5,320.1 277.0,313.6 277.2,300.5 C277.4,287.5 277.4,281.0 277.2,267.9 C277.0,254.9 276.8,246.2 276.1,235.3 C275.5,224.5 275.5,218.4 273.9,213.6 C272.4,208.8 270.5,213.6 268.5,211.4 C266.5,209.2 265.7,202.3 264.2,202.7Z" fill="#006cfc"/>
<path d="M407.2,-10.3 C407.2,-10.3 407.8,21.0 408.3,39.7 C408.7,58.4 408.9,71.0 409.4,83.2 C409.8,95.3 409.6,98.4 410.5,100.5 C411.3,102.7 412.8,106.2 413.7,94.0 C414.6,81.9 414.2,60.5 414.8,39.7 C415.5,18.8 417.0,-10.3 417.0,-10.3 L407.2,-10.3Z" fill="#006cfc"/>
<path d="M431.1,-10.3 C431.1,-10.3 430.5,21.0 430.0,39.7 C429.6,58.4 429.2,65.8 428.9,83.2 C428.7,100.5 428.1,114.5 428.9,126.6 C429.8,138.8 431.3,137.5 433.3,144.0 C435.2,150.5 436.8,158.4 438.7,159.2 C440.7,160.1 442.0,159.2 443.1,148.4 C444.2,137.5 443.7,122.3 444.2,104.9 C444.6,87.5 444.4,75.8 445.2,61.4 C446.1,47.1 446.3,38.4 448.5,33.2 C450.7,27.9 453.7,32.7 456.1,35.3 C458.5,37.9 458.3,43.6 460.5,46.2 C462.6,48.8 464.8,49.7 467.0,48.4 C469.2,47.1 470.0,51.4 471.3,39.7 C472.6,27.9 473.5,-10.3 473.5,-10.3 L431.1,-10.3Z" fill="#006cfc"/>
<path d="M730.0,-10.3 C730.0,-10.3 727.8,7.9 725.7,17.9 C723.5,27.9 721.3,31.0 719.2,39.7 C717.0,48.4 716.3,52.7 714.8,61.4 C713.3,70.1 712.6,74.5 711.5,83.2 C710.5,91.9 709.6,96.2 709.4,104.9 C709.2,113.6 709.8,117.9 710.5,126.6 C711.1,135.3 711.8,139.7 712.6,148.4 C713.5,157.1 714.2,161.4 714.8,170.1 C715.5,178.8 715.5,183.2 715.9,191.9 C716.3,200.5 716.3,205.3 717.0,213.6 C717.6,221.9 718.1,228.4 719.2,233.2 C720.2,237.9 721.3,237.5 722.4,237.5 C723.5,237.5 723.9,232.3 724.6,233.2 C725.2,234.0 724.8,245.8 725.7,241.9 C726.5,237.9 727.6,223.6 728.9,213.6 C730.2,203.6 730.7,197.1 732.2,191.9 C733.7,186.6 735.2,191.9 736.5,187.5 C737.8,183.2 738.1,182.3 738.7,170.1 C739.4,157.9 739.4,144.0 739.8,126.6 C740.2,109.2 741.1,100.5 740.9,83.2 C740.7,65.8 739.4,58.4 738.7,39.7 C738.1,21.0 737.6,-10.3 737.6,-10.3 L730.0,-10.3Z" fill="#006cfc"/>
<path d="M662.6,50.5 C663.7,46.0 664.4,44.7 665.9,45.1 C667.4,45.5 668.7,49.9 670.2,52.7 C671.8,55.5 672.2,60.1 673.5,59.2 C674.8,58.4 675.9,45.8 676.8,48.4 C677.6,51.0 677.2,58.4 677.8,72.3 C678.5,86.2 679.2,115.8 680.0,117.9 C680.9,120.1 681.5,98.8 682.2,83.2 C682.8,67.5 682.8,50.1 683.3,39.7 C683.8,29.2 683.9,31.0 684.8,31.0 C685.7,31.0 686.8,29.2 687.6,39.7 C688.4,50.1 688.3,65.8 688.7,83.2 C689.2,100.5 689.4,113.6 689.8,126.6 C690.2,139.7 690.7,135.3 690.9,148.4 C691.1,161.4 691.1,174.5 690.9,191.9 C690.7,209.2 690.2,217.9 689.8,235.3 C689.4,252.7 689.2,263.6 688.7,278.8 C688.3,294.0 688.3,300.5 687.6,311.4 C687.0,322.3 686.5,325.8 685.5,333.2 C684.4,340.5 683.3,344.0 682.2,348.4 C681.1,352.7 681.1,357.5 680.0,354.9 C678.9,352.3 677.8,346.2 676.8,335.3 C675.7,324.5 675.7,313.2 674.6,300.5 C673.5,287.9 672.8,278.8 671.3,272.3 C669.8,265.8 668.5,265.3 667.0,267.9 C665.5,270.5 665.2,280.3 663.7,285.3 C662.2,290.3 661.1,293.4 659.4,292.9 C657.6,292.5 656.8,288.2 655.0,283.2 C653.3,278.2 652.2,275.3 650.7,267.9 C649.2,260.5 648.3,257.1 647.4,246.2 C646.5,235.3 646.1,225.3 646.3,213.6 C646.5,201.9 647.2,199.7 648.5,187.5 C649.8,175.3 651.3,164.9 652.8,152.7 C654.4,140.5 654.8,138.4 656.1,126.6 C657.4,114.9 658.5,105.8 659.4,94.0 C660.2,82.3 659.8,76.6 660.5,67.9 C661.1,59.2 661.5,55.1 662.6,50.5Z" fill="#006cfc"/>
<path d="M775.7,-10.3 C775.7,-10.3 773.1,9.2 771.3,17.9 C769.6,26.6 768.7,28.4 767.0,33.2 C765.2,37.9 764.4,39.7 762.6,41.9 C760.9,44.0 759.8,46.4 758.3,44.0 C756.8,41.6 756.3,32.9 755.0,29.9 C753.7,26.9 752.6,22.5 751.8,28.8 C750.9,35.1 750.9,46.2 750.7,61.4 C750.5,76.6 750.5,87.5 750.7,104.9 C750.9,122.3 751.3,131.0 751.8,148.4 C752.2,165.8 752.2,176.6 752.8,191.9 C753.5,207.1 753.7,214.9 755.0,224.5 C756.3,234.0 757.4,234.0 759.4,239.7 C761.3,245.3 762.4,247.1 764.8,252.7 C767.2,258.4 768.7,261.9 771.3,267.9 C773.9,274.0 775.1,278.8 777.8,283.2 C780.6,287.5 780.7,288.4 785.0,289.7 C789.4,291.0 799.6,289.7 799.6,289.7 L799.6,-10.3 L775.7,-10.3Z" fill="#006cfc"/>
<path d="M406.5,-10.3 C406.5,-10.3 407.0,18.8 407.6,39.7 C408.3,60.5 407.4,83.2 409.8,94.0 C412.2,104.9 419.6,94.0 419.6,94.0 L419.6,-10.3 L406.5,-10.3Z" fill="#006cfc"/>
<path d="M171.8,363.2 C171.8,363.2 173.3,381.0 175.0,389.2 C176.8,397.5 178.3,400.1 180.5,404.5 C182.6,408.8 183.9,411.4 185.9,411.0 C187.8,410.5 188.5,406.6 190.2,402.3 C192.0,397.9 192.8,397.1 194.6,389.2 C196.3,381.4 198.9,363.2 198.9,363.2 L171.8,363.2Z" fill="#006cfc"/>
<path d="M315.2,363.2 C315.2,363.2 317.0,377.7 319.6,382.7 C322.2,387.7 324.8,386.9 328.3,388.2 C331.8,389.5 333.9,390.3 337.0,389.2 C340.0,388.2 341.5,387.9 343.5,382.7 C345.5,377.5 346.8,363.2 346.8,363.2 L315.2,363.2Z" fill="#006cfc"/>
<path d="M393.1,426.2 C394.4,422.1 396.5,419.9 398.5,420.8 C400.5,421.6 401.3,424.2 402.8,430.5 C404.4,436.9 405.5,441.4 406.1,452.3 C406.8,463.2 407.0,471.9 406.1,484.9 C405.2,497.9 403.5,504.5 401.8,517.5 C400.0,530.5 398.7,537.1 397.4,550.1 C396.1,563.2 396.5,571.9 395.2,582.7 C393.9,593.6 393.1,595.8 390.9,604.5 C388.7,613.2 387.0,617.5 384.4,626.2 C381.8,634.9 380.5,641.4 377.8,647.9 C375.2,654.5 371.3,658.8 371.3,658.8 L371.3,528.4 C371.3,528.4 382.6,517.5 386.5,506.6 C390.5,495.8 389.8,487.1 390.9,474.0 C392.0,461.0 391.5,451.0 392.0,441.4 C392.4,431.9 391.8,430.3 393.1,426.2Z" fill="#006cfc"/>
<path d="M392.0,426.2 C393.1,415.8 396.3,419.7 398.5,421.9 C400.7,424.0 401.8,428.8 402.8,437.1 C403.9,445.3 404.4,453.6 403.9,463.2 C403.5,472.7 402.2,477.9 400.7,484.9 C399.2,491.9 397.8,500.1 396.3,497.9 C394.8,495.8 393.9,488.4 393.1,474.0 C392.2,459.7 390.9,436.6 392.0,426.2Z" fill="#0020f4"/>
<path d="M-10.8,597.9 C-10.8,597.9 -3.5,598.4 0.0,597.9 C3.5,597.5 3.9,594.9 6.5,595.8 C9.2,596.6 10.9,598.4 13.1,602.3 C15.2,606.2 15.7,608.4 17.4,615.3 C19.2,622.3 20.7,628.4 21.8,637.1 C22.8,645.8 23.3,650.5 22.8,658.8 C22.4,667.1 21.5,673.4 19.6,678.4 C17.6,683.4 15.9,683.8 13.1,683.8 C10.2,683.8 8.1,681.6 5.5,678.4 C2.8,675.1 3.3,669.7 0.0,667.5 C-3.2,665.3 -10.8,667.5 -10.8,667.5 L-10.8,597.9Z" fill="#006cfc"/>
<path d="M33.7,574.0 C35.9,569.2 39.4,570.5 43.5,569.7 C47.6,568.8 50.9,567.9 54.4,569.7 C57.8,571.4 58.7,573.2 60.9,578.4 C63.1,583.6 63.5,592.7 65.2,595.8 C67.0,598.8 67.8,598.4 69.6,593.6 C71.3,588.8 72.2,579.2 73.9,571.9 C75.7,564.5 76.5,557.9 78.3,556.6 C80.0,555.3 80.9,562.3 82.6,565.3 C84.4,568.4 84.8,573.2 87.0,571.9 C89.2,570.5 91.3,562.3 93.5,558.8 C95.7,555.3 95.7,554.0 97.8,554.5 C100.0,554.9 101.8,560.5 104.4,561.0 C107.0,561.4 108.3,558.8 110.9,556.6 C113.5,554.5 114.4,551.9 117.4,550.1 C120.5,548.4 122.6,548.8 126.1,547.9 C129.6,547.1 131.3,545.8 134.8,545.8 C138.3,545.8 140.5,546.6 143.5,547.9 C146.5,549.2 147.4,551.0 150.0,552.3 C152.6,553.6 153.9,552.3 156.5,554.5 C159.2,556.6 160.9,559.7 163.1,563.2 C165.2,566.6 165.9,568.4 167.4,571.9 C168.9,575.3 170.7,577.5 170.7,580.5 C170.7,583.6 169.4,584.9 167.4,587.1 C165.5,589.2 163.1,587.9 160.9,591.4 C158.7,594.9 158.1,598.8 156.5,604.5 C155.0,610.1 154.6,613.2 153.3,619.7 C152.0,626.2 151.1,630.1 150.0,637.1 C148.9,644.0 150.5,650.5 147.8,654.5 C145.2,658.4 141.3,655.8 137.0,656.6 C132.6,657.5 130.5,656.6 126.1,658.8 C121.8,661.0 120.0,664.0 115.2,667.5 C110.5,671.0 107.4,673.6 102.2,676.2 C97.0,678.8 93.9,679.2 89.2,680.5 C84.4,681.9 82.2,683.2 78.3,682.7 C74.4,682.3 72.2,681.4 69.6,678.4 C67.0,675.3 67.8,670.5 65.2,667.5 C62.6,664.5 60.0,664.9 56.5,663.2 C53.1,661.4 51.1,661.4 47.8,658.8 C44.6,656.2 42.6,654.5 40.2,650.1 C37.8,645.8 37.2,644.0 35.9,637.1 C34.6,630.1 34.4,624.0 33.7,615.3 C33.1,606.6 32.6,601.9 32.6,593.6 C32.6,585.3 31.5,578.8 33.7,574.0Z" fill="#006cfc"/>
<path d="M51.1,613.2 C52.4,609.2 54.2,606.2 56.5,606.6 C58.9,607.1 60.7,612.3 63.1,615.3 C65.5,618.4 66.3,624.0 68.5,621.9 C70.7,619.7 72.2,612.3 73.9,604.5 C75.7,596.6 76.1,588.8 77.2,582.7 C78.3,576.6 78.1,573.6 79.4,574.0 C80.7,574.5 82.0,581.0 83.7,584.9 C85.5,588.8 86.3,594.5 88.1,593.6 C89.8,592.7 90.7,584.7 92.4,580.5 C94.2,576.4 94.8,573.4 96.8,572.9 C98.7,572.5 99.8,577.3 102.2,578.4 C104.6,579.5 106.1,580.1 108.7,578.4 C111.3,576.6 112.6,573.2 115.2,569.7 C117.8,566.2 119.2,562.3 121.8,561.0 C124.4,559.7 125.7,563.6 128.3,563.2 C130.9,562.7 131.8,559.2 134.8,558.8 C137.8,558.4 140.0,559.2 143.5,561.0 C147.0,562.7 149.2,565.3 152.2,567.5 C155.2,569.7 157.8,568.8 158.7,571.9 C159.6,574.9 158.3,578.4 156.5,582.7 C154.8,587.1 152.2,587.9 150.0,593.6 C147.8,599.2 147.0,604.0 145.7,611.0 C144.4,617.9 144.4,621.9 143.5,628.4 C142.6,634.9 143.5,639.7 141.3,643.6 C139.2,647.5 136.5,646.6 132.6,647.9 C128.7,649.2 126.1,648.4 121.8,650.1 C117.4,651.9 115.7,654.5 110.9,656.6 C106.1,658.8 103.1,659.7 97.8,661.0 C92.6,662.3 89.2,661.9 84.8,663.2 C80.5,664.5 79.2,668.4 76.1,667.5 C73.1,666.6 72.6,662.7 69.6,658.8 C66.5,654.9 63.9,652.3 60.9,647.9 C57.8,643.6 56.5,641.4 54.4,637.1 C52.2,632.7 50.7,631.0 50.0,626.2 C49.4,621.4 49.8,617.1 51.1,613.2Z" fill="#0020f4"/>
<path d="M76.1,621.9 C77.4,619.7 80.0,617.9 82.6,617.5 C85.2,617.1 86.8,621.0 89.2,619.7 C91.5,618.4 92.6,613.6 94.6,611.0 C96.5,608.4 97.0,606.6 98.9,606.6 C100.9,606.6 101.8,611.4 104.4,611.0 C107.0,610.5 109.4,607.9 112.0,604.5 C114.6,601.0 115.5,598.4 117.4,593.6 C119.4,588.8 120.5,584.9 121.8,580.5 C123.1,576.2 122.6,573.2 123.9,571.9 C125.2,570.5 126.5,574.0 128.3,574.0 C130.0,574.0 131.8,569.7 132.6,571.9 C133.5,574.0 132.8,578.8 132.6,584.9 C132.4,591.0 132.2,596.2 131.5,602.3 C130.9,608.4 130.5,610.5 129.4,615.3 C128.3,620.1 128.1,622.3 126.1,626.2 C124.2,630.1 122.6,632.3 119.6,634.9 C116.5,637.5 114.8,637.9 110.9,639.2 C107.0,640.5 104.4,641.4 100.0,641.4 C95.7,641.4 93.1,640.5 89.2,639.2 C85.2,637.9 83.1,637.1 80.5,634.9 C77.8,632.7 77.0,631.0 76.1,628.4 C75.2,625.8 74.8,624.0 76.1,621.9Z" fill="#2200d0"/>
<path d="M213.1,626.2 C213.1,620.1 215.2,619.2 217.4,613.2 C219.6,607.1 221.8,601.9 223.9,595.8 C226.1,589.7 227.0,588.4 228.3,582.7 C229.6,577.1 229.8,568.8 230.5,567.5 C231.1,566.2 230.9,571.0 231.5,576.2 C232.2,581.4 232.2,588.4 233.7,593.6 C235.2,598.8 236.8,602.7 239.2,602.3 C241.5,601.9 242.6,594.0 245.7,591.4 C248.7,588.8 251.3,588.8 254.4,589.2 C257.4,589.7 258.3,593.6 260.9,593.6 C263.5,593.6 265.0,591.4 267.4,589.2 C269.8,587.1 270.7,581.9 272.8,582.7 C275.0,583.6 276.3,589.2 278.3,593.6 C280.2,597.9 280.9,604.5 282.6,604.5 C284.4,604.5 285.0,597.9 287.0,593.6 C288.9,589.2 290.2,587.1 292.4,582.7 C294.6,578.4 295.9,576.2 297.8,571.9 C299.8,567.5 300.5,565.3 302.2,561.0 C303.9,556.6 304.8,555.8 306.5,550.1 C308.3,544.5 309.2,539.2 310.9,532.7 C312.6,526.2 313.7,517.5 315.2,517.5 C316.8,517.5 316.8,527.9 318.5,532.7 C320.2,537.5 321.5,540.5 323.9,541.4 C326.3,542.3 327.8,540.5 330.5,537.1 C333.1,533.6 334.8,530.1 337.0,524.0 C339.2,517.9 340.0,511.4 341.3,506.6 C342.6,501.9 342.2,499.7 343.5,500.1 C344.8,500.5 346.1,506.2 347.8,508.8 C349.6,511.4 350.0,514.0 352.2,513.2 C354.4,512.3 356.1,507.9 358.7,504.5 C361.3,501.0 362.6,498.4 365.2,495.8 C367.8,493.2 369.2,491.4 371.8,491.4 C374.4,491.4 376.1,491.9 378.3,495.8 C380.5,499.7 380.9,504.5 382.6,511.0 C384.4,517.5 384.8,527.1 387.0,528.4 C389.2,529.7 391.8,526.2 393.5,517.5 C395.2,508.8 395.0,497.9 395.7,484.9 C396.3,471.9 396.8,463.2 396.8,452.3 C396.8,441.4 395.0,437.1 395.7,430.5 C396.3,424.0 398.3,419.7 400.0,419.7 C401.8,419.7 403.1,421.9 404.4,430.5 C405.7,439.2 406.3,447.9 406.5,463.2 C406.8,478.4 406.3,491.4 405.5,506.6 C404.6,521.9 403.7,528.4 402.2,539.2 C400.7,550.1 399.6,552.3 397.8,561.0 C396.1,569.7 395.2,575.3 393.5,582.7 C391.8,590.1 390.9,591.4 389.2,597.9 C387.4,604.5 386.8,607.5 384.8,615.3 C382.8,623.2 381.8,629.2 379.4,637.1 C377.0,644.9 374.8,649.7 372.8,654.5 C370.9,659.2 370.9,662.3 369.6,661.0 C368.3,659.7 367.6,654.9 366.3,647.9 C365.0,641.0 364.6,633.6 363.1,626.2 C361.5,618.8 360.9,615.3 358.7,611.0 C356.5,606.6 354.4,603.6 352.2,604.5 C350.0,605.3 350.0,609.7 347.8,615.3 C345.7,621.0 343.9,625.8 341.3,632.7 C338.7,639.7 337.8,645.8 334.8,650.1 C331.8,654.5 329.6,651.9 326.1,654.5 C322.6,657.1 320.9,661.0 317.4,663.2 C313.9,665.3 311.8,665.8 308.7,665.3 C305.7,664.9 304.8,660.5 302.2,661.0 C299.6,661.4 298.7,665.8 295.7,667.5 C292.6,669.2 290.5,668.4 287.0,669.7 C283.5,671.0 281.3,671.9 278.3,674.0 C275.2,676.2 274.4,678.4 271.8,680.5 C269.2,682.7 267.8,684.9 265.2,684.9 C262.6,684.9 261.3,683.2 258.7,680.5 C256.1,677.9 255.2,672.3 252.2,671.9 C249.2,671.4 247.0,678.4 243.5,678.4 C240.0,678.4 237.8,674.9 234.8,671.9 C231.8,668.8 230.9,666.2 228.3,663.2 C225.7,660.1 223.9,660.5 221.8,656.6 C219.6,652.7 219.2,649.7 217.4,643.6 C215.7,637.5 213.1,632.3 213.1,626.2Z" fill="#006cfc"/>
<path d="M289.2,626.2 C290.5,623.2 295.5,624.5 297.8,619.7 C300.2,614.9 300.0,603.2 301.1,602.3 C302.2,601.4 302.6,610.1 303.3,615.3 C303.9,620.5 305.5,624.9 304.4,628.4 C303.3,631.9 300.5,631.4 297.8,632.7 C295.2,634.0 293.1,636.2 291.3,634.9 C289.6,633.6 287.8,629.2 289.2,626.2Z" fill="#0020f4"/>
<path d="M363.1,561.0 C363.3,555.3 365.7,552.7 367.4,550.1 C369.2,547.5 370.7,543.6 371.8,547.9 C372.8,552.3 372.8,562.7 372.8,571.9 C372.8,581.0 372.6,589.7 371.8,593.6 C370.9,597.5 369.6,594.5 368.5,591.4 C367.4,588.4 367.4,584.5 366.3,578.4 C365.2,572.3 362.8,566.6 363.1,561.0Z" fill="#0020f4"/>
<path d="M382.6,572.9 L387.0,569.7 L391.3,574.0 L387.0,578.4Z" fill="#0020f4"/>
<path d="M245.7,626.2 L250.0,626.2 L250.0,630.5 L245.7,630.5Z" fill="#0020f4"/>
<path d="M229.6,595.8 L231.3,595.8 L231.3,629.5 L230.0,629.5Z" fill="#0020f4"/>
<path d="M-2.0,790.0 L-2.0,758.7 L577.1,758.7 L577.1,732.6 L583.7,732.6 L583.7,758.7 L635.8,758.7 L635.8,732.6 L702.7,732.6 L702.7,706.5 L736.9,706.5 L736.9,732.6 L740.2,732.6 L740.2,706.5 L785.0,706.5 L790.0,706.5 L790.0,790.0Z" fill="#fff"/>
<path d="M0.0,758.7 L577.1,758.7 L577.1,732.6 L583.7,732.6 L583.7,758.7 L635.8,758.7 L635.8,732.6 L702.7,732.6 L702.7,706.5 L736.9,706.5 L736.9,732.6 L740.2,732.6 L740.2,706.5 L785.0,706.5" fill="none" stroke="#000" stroke-width="1.0"/>
<path d="M-0.0,117.0 C5.6,116.5 22.7,115.0 33.9,114.1 C45.1,113.1 58.1,111.8 67.0,111.2 C76.0,110.6 80.1,109.2 87.7,110.3 C95.3,111.5 103.6,115.3 112.6,118.2 C121.6,121.1 130.5,124.8 141.6,127.7 C152.6,130.7 165.0,135.1 178.8,136.0 C192.6,137.0 210.6,133.3 224.4,133.5 C238.2,133.8 252.0,137.8 261.7,137.7 C271.3,137.5 273.4,133.5 282.4,132.7 C291.3,131.9 303.1,131.8 315.5,132.7 C327.9,133.6 343.1,138.4 356.9,138.1 C370.7,137.8 385.9,131.5 398.3,131.1 C410.7,130.6 419.7,134.9 431.4,135.2 C443.2,135.5 457.6,134.0 468.7,132.7 C479.7,131.5 489.4,129.6 497.7,127.7 C506.0,125.9 510.8,121.7 518.4,121.5 C526.0,121.3 535.6,124.5 543.2,126.5 C550.8,128.5 557.7,133.0 563.9,133.5 C570.1,134.1 575.7,129.3 580.5,129.8 C585.3,130.4 588.8,134.1 592.9,136.8 C597.1,139.6 600.5,145.1 605.3,146.4 C610.2,147.6 616.4,145.2 621.9,144.3 C627.4,143.4 633.6,141.2 638.5,141.0 C643.3,140.8 646.1,141.1 650.9,143.1 C655.7,145.0 660.5,149.8 667.4,152.6 C674.3,155.3 685.4,158.7 692.3,159.6 C699.2,160.6 701.3,158.0 708.9,158.4 C716.4,158.7 728.9,161.3 737.8,161.7 C746.8,162.1 754.9,160.7 762.7,160.9 C770.5,161.0 781.0,162.2 784.6,162.5" fill="none" stroke="#000" stroke-width="0.65" stroke-linejoin="round"/>
<path d="M-0.0,156.7 C4.9,157.2 20.0,160.2 29.8,159.6 C39.6,159.1 49.1,155.0 58.8,153.4 C68.4,151.8 78.1,149.4 87.7,150.1 C97.4,150.8 107.1,154.8 116.7,157.6 C126.4,160.3 135.4,164.2 145.7,166.7 C156.1,169.1 165.7,171.4 178.8,172.0 C191.9,172.7 210.6,170.0 224.4,170.8 C238.2,171.6 250.6,176.8 261.7,177.0 C272.7,177.2 280.3,172.5 290.6,172.0 C301.0,171.6 312.7,172.7 323.8,174.1 C334.8,175.6 345.8,180.1 356.9,180.7 C367.9,181.4 378.3,179.0 390.0,178.3 C401.7,177.5 415.6,177.2 427.3,176.2 C439.0,175.2 450.1,173.6 460.4,172.0 C470.8,170.5 480.4,168.2 489.4,166.7 C498.4,165.1 506.0,162.1 514.2,162.5 C522.5,162.9 530.8,167.4 539.1,169.1 C547.4,170.9 556.3,172.5 563.9,173.3 C571.5,174.1 579.1,172.3 584.6,174.1 C590.2,176.0 592.9,181.8 597.1,184.5 C601.2,187.1 604.0,189.6 609.5,189.9 C615.0,190.1 623.3,186.6 630.2,185.7 C637.1,184.8 644.0,182.6 650.9,184.5 C657.8,186.3 664.7,193.8 671.6,196.9 C678.5,200.0 686.1,202.6 692.3,203.1 C698.5,203.6 702.6,199.7 708.9,199.8 C715.1,199.9 722.7,203.7 729.6,203.9 C736.5,204.1 741.1,201.2 750.3,201.0 C759.4,200.9 778.9,202.8 784.6,203.1" fill="none" stroke="#000" stroke-width="0.65" stroke-linejoin="round"/>
<path d="M-0.0,197.3 C4.2,199.1 16.5,207.1 25.6,208.1 C34.7,209.0 44.3,204.5 54.6,203.1 C65.0,201.7 80.1,200.6 87.7,199.8 C95.3,199.0 93.3,197.4 100.2,198.1 C107.1,198.8 119.5,202.4 129.1,203.9 C138.8,205.4 147.8,207.2 158.1,207.2 C168.5,207.3 180.2,204.1 191.3,204.3 C202.3,204.6 212.7,207.0 224.4,208.5 C236.1,210.0 250.6,212.3 261.7,213.5 C272.7,214.6 280.3,214.8 290.6,215.5 C301.0,216.2 312.7,216.0 323.8,217.6 C334.8,219.2 345.8,224.0 356.9,225.0 C367.9,226.1 379.0,225.2 390.0,223.8 C401.1,222.4 412.8,219.2 423.1,216.8 C433.5,214.4 442.5,211.9 452.1,209.3 C461.8,206.7 472.1,203.3 481.1,201.0 C490.1,198.8 497.7,196.1 506.0,195.6 C514.2,195.2 522.5,196.2 530.8,198.1 C539.1,200.1 548.7,204.3 555.6,207.2 C562.5,210.1 567.4,212.1 572.2,215.5 C577.0,219.0 579.1,224.8 584.6,227.9 C590.2,231.1 598.4,234.5 605.3,234.2 C612.2,233.8 619.8,226.2 626.0,225.9 C632.3,225.5 637.1,231.4 642.6,232.1 C648.1,232.8 653.0,228.6 659.2,230.0 C665.4,231.4 673.7,238.3 679.9,240.4 C686.1,242.4 690.2,241.2 696.4,242.4 C702.6,243.7 710.2,246.4 717.1,247.8 C724.0,249.2 730.9,250.9 737.8,250.7 C744.7,250.5 750.7,247.5 758.5,246.6 C766.3,245.7 780.3,245.5 784.6,245.3" fill="none" stroke="#000" stroke-width="0.65" stroke-linejoin="round"/>
<path d="M-0.0,236.2 C4.2,239.5 16.5,253.5 25.6,256.1 C34.7,258.7 44.3,253.8 54.6,252.0 C65.0,250.2 77.4,246.9 87.7,245.3 C98.1,243.7 107.1,242.2 116.7,242.4 C126.4,242.6 136.0,246.1 145.7,246.6 C155.4,247.1 165.7,245.8 174.7,245.3 C183.7,244.9 191.3,243.0 199.5,243.7 C207.8,244.4 215.4,247.8 224.4,249.5 C233.4,251.1 243.7,251.7 253.4,253.6 C263.0,255.6 272.0,259.6 282.4,261.1 C292.7,262.5 303.1,260.4 315.5,262.3 C327.9,264.2 344.5,271.4 356.9,272.7 C369.3,274.0 379.0,272.0 390.0,270.2 C401.1,268.4 412.8,264.7 423.1,261.9 C433.5,259.1 442.5,256.4 452.1,253.6 C461.8,250.9 472.1,247.4 481.1,245.3 C490.1,243.3 497.7,241.2 506.0,241.2 C514.2,241.2 523.2,242.7 530.8,245.3 C538.4,248.0 544.6,254.4 551.5,256.9 C558.4,259.4 566.7,258.9 572.2,260.2 C577.7,261.6 580.5,262.7 584.6,265.2 C588.8,267.8 592.2,274.3 597.1,275.6 C601.9,276.8 608.1,273.6 613.6,272.7 C619.1,271.8 624.0,269.5 630.2,270.2 C636.4,270.9 644.0,274.7 650.9,276.8 C657.8,278.9 664.7,281.2 671.6,282.6 C678.5,284.0 685.4,283.8 692.3,285.1 C699.2,286.3 706.1,288.0 713.0,290.1 C719.9,292.1 726.1,296.8 733.7,297.5 C741.3,298.2 750.1,295.3 758.5,294.2 C767.0,293.1 780.3,291.4 784.6,290.9" fill="none" stroke="#000" stroke-width="0.65" stroke-linejoin="round"/>
<path d="M-0.0,292.1 C4.2,294.4 15.8,304.4 25.6,305.8 C35.4,307.2 47.7,302.3 58.8,300.4 C69.8,298.5 81.5,295.6 91.9,294.2 C102.2,292.8 111.2,291.8 120.9,292.1 C130.5,292.5 140.2,295.7 149.8,296.3 C159.5,296.8 170.6,295.8 178.8,295.4 C187.1,295.1 191.9,293.4 199.5,294.2 C207.1,295.0 216.1,298.7 224.4,300.4 C232.7,302.1 239.6,300.9 249.2,304.6 C258.9,308.2 271.3,320.1 282.4,322.4 C293.4,324.6 306.5,319.0 315.5,318.2 C324.5,317.4 329.3,316.4 336.2,317.4 C343.1,318.4 347.9,323.5 356.9,324.0 C365.9,324.5 379.0,322.5 390.0,320.3 C401.1,318.1 412.8,313.9 423.1,310.8 C433.5,307.7 442.5,304.3 452.1,301.7 C461.8,299.0 472.8,295.9 481.1,295.0 C489.4,294.1 494.9,294.3 501.8,296.3 C508.7,298.2 515.6,305.2 522.5,306.6 C529.4,308.1 536.3,303.6 543.2,305.0 C550.1,306.3 557.0,311.5 563.9,314.9 C570.8,318.3 578.8,323.9 584.6,325.3 C590.5,326.6 594.3,324.4 599.1,323.2 C604.0,322.0 607.1,319.7 613.6,318.2 C620.2,316.7 631.6,314.1 638.5,314.1 C645.4,314.1 649.5,317.7 655.0,318.2 C660.5,318.7 665.4,315.5 671.6,317.0 C677.8,318.5 685.4,323.9 692.3,327.3 C699.2,330.8 706.8,334.1 713.0,337.7 C719.2,341.3 723.3,347.7 729.6,348.9 C735.8,350.0 744.1,346.4 750.3,344.7 C756.5,343.1 761.1,340.6 766.8,338.9 C772.6,337.3 781.7,335.5 784.6,334.8" fill="none" stroke="#000" stroke-width="0.65" stroke-linejoin="round"/>
<path d="M-0.0,360.5 C4.2,359.8 16.5,357.8 25.6,356.3 C34.7,354.8 43.6,352.4 54.6,351.3 C65.7,350.3 80.8,350.8 91.9,350.1 C102.9,349.4 111.2,346.7 120.9,347.2 C130.5,347.7 140.9,351.8 149.8,353.0 C158.8,354.2 166.4,354.4 174.7,354.2 C183.0,354.1 191.3,351.8 199.5,352.2 C207.8,352.5 216.1,354.9 224.4,356.3 C232.7,357.7 240.3,356.8 249.2,360.5 C258.2,364.1 268.6,376.2 278.2,378.3 C287.9,380.3 297.5,374.6 307.2,372.9 C316.9,371.1 327.9,367.9 336.2,367.9 C344.5,367.9 348.6,373.1 356.9,372.9 C365.2,372.7 376.2,369.4 385.9,366.7 C395.5,363.9 405.9,360.0 414.9,356.3 C423.8,352.7 432.8,346.0 439.7,344.7 C446.6,343.5 449.4,347.8 456.3,348.9 C463.2,350.0 472.8,349.5 481.1,351.3 C489.4,353.1 498.4,358.0 506.0,359.6 C513.5,361.3 521.1,360.5 526.7,361.3 C532.2,362.1 539.1,364.6 539.1,364.6 C539.1,364.6 541.7,376.3 542.4,389.4 C543.1,402.5 542.4,430.8 543.2,443.3 C544.1,455.7 545.3,461.9 547.4,464.0 C549.4,466.0 552.5,452.6 555.6,455.7 C558.8,458.8 563.2,481.2 566.0,482.6 C568.8,484.0 570.1,474.0 572.2,464.0 C574.3,454.0 576.4,435.0 578.4,422.6 C580.5,410.1 582.2,397.0 584.6,389.4 C587.0,381.8 589.5,380.5 592.9,377.0 C596.4,373.6 600.5,370.8 605.3,368.7 C610.2,366.7 616.4,366.1 621.9,364.6 C627.4,363.1 632.9,359.1 638.5,359.6 C644.0,360.2 649.5,365.0 655.0,367.9 C660.5,370.8 665.4,376.2 671.6,377.0 C677.8,377.8 686.1,371.8 692.3,372.9 C698.5,373.9 704.0,378.4 708.9,383.2 C713.7,388.1 718.2,396.8 721.3,401.9 C724.4,406.9 724.7,413.5 727.5,413.5 C730.3,413.5 734.0,404.1 737.8,401.9 C741.6,399.6 745.4,402.2 750.3,399.8 C755.1,397.4 761.1,390.5 766.8,387.4 C772.6,384.3 781.7,382.2 784.6,381.2" fill="none" stroke="#000" stroke-width="0.65" stroke-linejoin="round"/>
<path d="M-0.0,415.5 C4.2,414.8 16.5,411.5 25.6,411.0 C34.7,410.4 44.3,411.1 54.6,412.2 C65.0,413.3 78.8,415.0 87.7,417.6 C96.7,420.1 102.2,424.4 108.4,427.5 C114.7,430.6 118.1,436.0 125.0,436.2 C131.9,436.4 141.6,431.9 149.8,428.8 C158.1,425.7 166.4,420.0 174.7,417.6 C183.0,415.2 191.3,413.5 199.5,414.3 C207.8,415.1 216.1,421.9 224.4,422.6 C232.7,423.3 240.3,418.6 249.2,418.4 C258.2,418.3 268.6,422.4 278.2,421.7 C287.9,421.0 297.5,416.8 307.2,414.3 C316.9,411.8 327.9,407.8 336.2,406.8 C344.5,405.9 350.7,407.8 356.9,408.7 C363.1,409.6 367.9,410.1 373.5,412.0 C379.0,413.9 385.5,416.1 390.0,420.3 C394.5,424.4 398.0,430.6 400.4,436.8 C402.8,443.1 404.2,447.9 404.5,457.6 C404.9,467.2 403.6,483.8 402.4,494.8 C401.3,505.9 399.2,516.9 397.5,523.8 C395.7,530.7 393.9,532.8 392.1,536.2 C390.3,539.7 389.8,540.1 386.7,544.5 C383.6,548.9 377.9,557.8 373.5,562.7 C369.0,567.7 364.6,569.6 360.2,574.3 C355.8,579.0 351.6,587.6 347.0,590.9 C342.3,594.2 339.8,591.7 332.0,594.2 C324.3,596.7 311.3,602.5 300.6,605.8 C289.8,609.1 276.8,611.6 267.4,614.1 C258.1,616.6 251.4,619.3 244.3,620.7 C237.1,622.1 231.8,620.1 224.4,622.4 C216.9,624.6 206.4,630.1 199.5,634.0 C192.6,637.8 187.7,643.1 183.0,645.5 C178.3,648.0 175.5,649.1 171.4,648.9 C167.2,648.6 162.5,645.1 158.1,643.9 C153.7,642.6 149.8,641.0 144.9,641.4 C139.9,641.8 133.3,644.7 128.3,646.4 C123.3,648.0 119.8,651.5 115.1,651.3 C110.4,651.2 104.6,646.0 100.2,645.5 C95.7,645.1 92.2,646.4 88.6,648.9 C85.0,651.3 81.7,657.1 78.6,660.5 C75.6,663.8 73.4,668.0 70.3,668.7 C67.3,669.4 63.2,665.6 60.4,664.6 C57.6,663.6 56.8,662.2 53.8,662.9 C50.7,663.6 45.8,666.9 42.2,668.7 C38.6,670.5 35.6,673.1 32.3,673.7 C28.9,674.3 26.2,673.7 22.3,672.0 C18.4,670.4 12.8,665.6 9.1,663.8 C5.3,662.0 1.5,661.7 -0.0,661.3" fill="none" stroke="#000" stroke-width="0.65" stroke-linejoin="round"/>
<path d="M396.2,573.5 C395.5,582.5 396.9,595.8 398.3,602.5 C399.7,609.2 401.7,611.6 404.5,613.7 C407.3,615.7 410.4,615.4 414.9,614.9 C419.3,614.4 425.9,613.5 431.4,610.8 C436.9,608.0 442.5,602.5 448.0,598.3 C453.5,594.2 459.0,590.1 464.5,585.9 C470.1,581.8 476.3,578.3 481.1,573.5 C485.9,568.7 489.7,563.8 493.5,556.9 C497.3,550.0 501.1,537.7 503.9,532.1 C506.6,526.4 508.2,525.7 510.1,523.0 C512.0,520.2 513.0,516.8 515.1,515.5 C517.1,514.3 520.8,514.3 522.5,515.5 C524.2,516.8 526.0,520.9 525.4,523.0 C524.9,525.0 521.4,527.8 519.2,527.9 C517.0,528.1 514.7,526.6 512.2,523.8 C509.6,521.0 506.6,515.9 503.9,511.4 C501.1,506.9 498.4,502.8 495.6,496.9 C492.8,491.0 490.4,482.4 487.3,476.2 C484.2,470.0 480.1,460.0 477.0,459.6 C473.9,459.3 471.5,468.2 468.7,474.1 C465.9,480.0 463.2,488.6 460.4,494.8 C457.6,501.0 454.9,509.0 452.1,511.4 C449.4,513.8 447.3,511.4 443.8,509.3 C440.4,507.2 434.5,499.0 431.4,499.0 C428.3,499.0 427.3,505.2 425.2,509.3 C423.1,513.5 421.4,520.4 419.0,523.8 C416.6,527.3 413.5,525.9 410.7,530.0 C408.0,534.2 404.9,541.4 402.4,548.6 C400.0,555.9 396.9,564.5 396.2,573.5Z" fill="none" stroke="#000" stroke-width="0.65" stroke-linejoin="round"/>
<path d="M19.8,555.3 C21.2,550.4 21.1,547.7 25.6,545.3 C30.2,543.0 41.6,542.9 47.2,541.2 C52.7,539.5 54.6,537.5 58.8,535.4 C62.9,533.3 68.0,529.2 72.0,528.8 C76.0,528.4 80.0,531.7 82.8,532.9 C85.5,534.2 86.5,536.6 88.6,536.2 C90.6,535.8 92.4,534.2 95.2,530.4 C98.0,526.7 101.8,517.2 105.1,513.9 C108.4,510.6 112.0,511.4 115.1,510.6 C118.1,509.7 118.9,511.1 123.3,508.9 C127.8,506.7 135.8,500.2 141.6,497.3 C147.4,494.4 153.2,493.7 158.1,491.5 C163.1,489.3 167.2,486.5 171.4,484.1 C175.5,481.6 177.2,477.0 183.0,476.6 C188.8,476.2 199.3,481.2 206.2,481.6 C213.1,482.0 217.8,480.3 224.4,479.1 C231.0,477.8 239.3,475.8 245.9,474.1 C252.5,472.5 259.4,470.7 264.1,469.1 C268.8,467.6 270.8,466.9 274.1,465.0 C277.4,463.1 280.4,457.7 284.0,457.6 C287.6,457.4 290.8,462.2 295.6,464.2 C300.4,466.1 307.9,468.9 312.6,469.1 C317.3,469.4 320.5,468.5 323.8,465.8 C327.0,463.2 329.3,457.0 332.0,453.4 C334.8,449.8 336.9,446.0 340.3,444.3 C343.8,442.6 348.6,442.6 352.7,443.1 C356.9,443.5 361.0,444.8 365.2,447.2 C369.3,449.6 374.5,453.1 377.6,457.6 C380.7,462.0 382.4,467.9 383.8,474.1 C385.2,480.3 386.2,487.9 385.9,494.8 C385.5,501.7 384.1,509.0 381.7,515.5 C379.3,522.1 375.5,528.6 371.4,534.2 C367.2,539.7 361.4,545.9 356.9,548.6 C352.4,551.4 348.6,551.1 344.5,550.7 C340.3,550.4 336.2,548.4 332.0,546.6 C327.9,544.7 322.9,540.2 319.6,539.5 C316.4,538.9 316.0,540.9 312.6,542.9 C309.1,544.8 304.0,547.0 298.9,551.1 C293.9,555.3 289.3,562.5 282.4,567.7 C275.5,572.9 264.4,579.0 257.5,582.6 C250.6,586.2 247.8,587.6 240.9,589.2 C234.0,590.9 224.4,590.1 216.1,592.5 C207.8,595.0 198.2,601.0 191.3,604.1 C184.4,607.3 180.2,611.2 174.7,611.6 C169.2,612.0 164.2,607.6 158.1,606.6 C152.1,605.7 143.8,605.2 138.3,605.8 C132.7,606.3 128.9,608.8 125.0,609.9 C121.1,611.0 118.4,613.4 115.1,612.4 C111.8,611.5 108.4,606.5 105.1,604.1 C101.8,601.8 98.0,599.2 95.2,598.3 C92.4,597.5 91.3,597.1 88.6,599.2 C85.8,601.2 81.8,606.8 78.6,610.8 C75.5,614.8 72.0,622.1 69.5,623.2 C67.0,624.3 65.8,619.3 63.7,617.4 C61.7,615.5 59.3,611.9 57.1,611.6 C54.9,611.3 52.4,613.1 50.5,615.7 C48.5,618.4 48.0,624.7 45.5,627.3 C43.0,629.9 39.3,631.5 35.6,631.5 C31.8,631.5 25.9,632.7 23.1,627.3 C20.4,621.9 20.0,608.0 19.0,599.2 C18.0,590.3 17.2,581.6 17.3,574.3 C17.5,567.0 18.4,560.1 19.8,555.3Z" fill="none" stroke="#000" stroke-width="0.65" stroke-linejoin="round"/>
<path d="M-0.0,695.2 C2.0,695.1 7.5,695.1 12.4,694.4 C17.2,693.7 24.0,691.1 28.9,691.1 C33.9,691.1 37.2,693.0 42.2,694.4 C47.2,695.8 54.3,698.8 58.8,699.4 C63.2,699.9 64.3,697.2 68.7,697.7 C73.1,698.3 78.6,701.3 85.3,702.7 C91.9,704.1 99.1,705.0 108.4,706.0 C117.8,707.0 130.5,708.0 141.6,708.5 C152.6,709.0 163.7,708.9 174.7,708.9 C185.7,708.9 196.8,708.5 207.8,708.5 C218.9,708.5 229.9,709.5 240.9,708.9 C252.0,708.3 264.1,706.6 274.1,705.2 C284.0,703.7 292.0,701.6 300.6,700.2 C309.1,698.8 317.1,699.4 325.4,696.9 C333.7,694.4 342.0,689.2 350.3,685.3 C358.5,681.4 366.8,676.7 375.1,673.7 C383.4,670.7 391.7,669.8 400.0,667.1 C408.2,664.3 416.5,660.5 424.8,657.1 C433.1,653.8 441.4,650.8 449.6,647.2 C457.9,643.6 466.2,640.6 474.5,635.6 C482.8,630.6 491.1,623.5 499.3,617.4 C507.6,611.3 515.9,605.2 524.2,599.2 C532.5,593.1 542.1,584.3 549.0,580.9 C555.9,577.6 560.9,581.8 565.6,579.3 C570.3,576.8 574.1,571.8 577.2,566.0 C580.2,560.2 582.0,551.5 583.8,544.5 C585.6,537.5 586.8,531.4 587.9,523.8 C589.0,516.2 589.7,507.2 590.4,499.0 C591.1,490.7 591.5,483.1 592.1,474.1 C592.6,465.1 592.8,451.3 593.7,445.1 C594.7,438.9 596.0,439.3 597.9,436.8 C599.8,434.4 602.0,432.4 605.3,430.6 C608.6,428.9 612.2,428.2 617.8,426.5 C623.3,424.8 632.3,423.0 638.5,420.3 C644.7,417.5 650.9,411.9 655.0,409.9 C659.2,408.0 661.2,407.7 663.3,408.7 C665.4,409.7 667.1,412.1 667.4,416.1 C667.8,420.1 666.1,424.4 665.4,432.7 C664.7,441.0 663.5,455.1 663.3,465.8 C663.1,476.5 663.4,493.4 664.1,496.9 C664.8,500.3 666.3,493.8 667.4,486.5 C668.6,479.3 669.7,463.1 670.8,453.4 C671.8,443.7 672.7,431.3 673.7,428.6 C674.6,425.8 675.4,433.7 676.6,436.8 C677.7,440.0 679.3,447.2 680.7,447.2 C682.1,447.2 683.5,441.7 684.8,436.8 C686.2,432.0 687.4,421.7 689.0,418.2 C690.6,414.8 692.8,413.7 694.4,416.1 C696.0,418.6 696.8,424.4 698.5,432.7 C700.2,441.0 702.3,455.5 704.7,465.8 C707.1,476.2 710.2,487.9 713.0,494.8 C715.8,501.7 717.1,507.2 721.3,507.2 C725.4,507.2 732.3,500.3 737.8,494.8 C743.4,489.3 748.9,481.0 754.4,474.1 C759.9,467.2 765.9,457.9 771.0,453.4 C776.0,448.9 782.4,448.2 784.6,447.2" fill="none" stroke="#000" stroke-width="0.65" stroke-linejoin="round"/>
<path d="M-0.0,726.7 C7.0,727.4 26.9,729.5 42.2,730.8 C57.5,732.2 75.3,733.5 91.9,735.0 C108.4,736.5 127.8,738.7 141.6,740.0 C155.4,741.2 160.9,741.7 174.7,742.4 C188.5,743.1 207.8,743.3 224.4,744.1 C240.9,744.9 261.4,746.9 274.1,747.4 C286.8,748.0 290.6,747.5 300.6,747.4 C310.5,747.3 324.0,748.6 333.7,746.6 C343.4,744.5 351.6,738.6 358.5,735.0 C365.4,731.4 369.9,727.7 375.1,725.0 C380.4,722.4 386.2,719.3 390.0,719.3 C393.9,719.3 396.2,721.6 398.3,725.0 C400.4,728.5 401.6,734.4 402.4,740.0 C403.3,745.5 403.1,755.1 403.3,758.2" fill="none" stroke="#000" stroke-width="0.65" stroke-linejoin="round"/>
<path d="M784.6,515.5 C782.4,516.9 775.3,519.7 771.0,523.8 C766.6,527.9 762.7,534.2 758.5,540.4 C754.4,546.6 751.0,556.2 746.1,561.1 C741.3,565.9 734.4,567.3 729.6,569.4 C724.7,571.4 721.3,573.8 717.1,573.5 C713.0,573.1 708.9,568.0 704.7,567.3 C700.6,566.6 696.3,571.1 692.3,569.4 C688.3,567.6 684.1,556.9 680.7,556.9 C677.2,556.9 675.9,564.5 671.6,569.4 C667.3,574.2 661.2,581.8 655.0,585.9 C648.8,590.1 641.2,592.1 634.3,594.2 C627.4,596.3 619.8,596.3 613.6,598.3 C607.4,600.4 601.6,603.6 597.1,606.6 C592.5,609.7 591.8,612.6 586.3,616.6 C580.8,620.6 570.1,628.7 563.9,630.6 C557.7,632.6 555.6,625.9 549.0,628.2 C542.4,630.4 532.5,639.1 524.2,643.9 C515.9,648.7 507.6,652.2 499.3,657.1 C491.1,662.1 482.8,668.7 474.5,673.7 C466.2,678.7 457.6,682.7 449.6,687.0 C441.6,691.2 432.0,697.2 426.5,699.4 C420.9,701.6 419.6,699.0 416.5,700.2 C413.5,701.4 409.8,703.1 408.2,706.8 C406.7,710.6 407.3,717.9 407.4,722.6 C407.5,727.3 407.8,730.4 409.1,735.0 C410.3,739.5 412.5,749.2 414.9,749.9 C417.2,750.6 421.1,741.6 423.1,739.1 C425.2,736.6 425.6,734.0 427.3,735.0 C428.9,736.0 431.0,741.9 433.1,744.9 C435.2,748.0 436.9,752.7 439.7,753.2 C442.5,753.8 445.8,750.0 449.6,748.2 C453.5,746.4 458.8,743.1 462.9,742.4 C467.0,741.7 471.2,743.1 474.5,744.1 C477.8,745.1 479.2,747.7 482.8,748.2 C486.4,748.8 491.9,748.8 496.0,747.4 C500.2,746.0 503.7,741.5 507.6,740.0 C511.5,738.4 515.1,739.7 519.2,738.3 C523.3,736.9 527.5,735.5 532.5,731.7 C537.4,727.8 544.6,720.6 549.0,715.1 C553.4,709.6 555.9,702.4 559.0,698.5 C562.0,694.7 564.2,692.2 567.2,691.9 C570.3,691.6 573.8,697.2 577.2,696.9 C580.6,696.6 583.5,689.1 587.5,690.3 C591.5,691.4 596.8,704.1 601.2,703.9 C605.5,703.8 608.1,692.9 613.6,689.4 C619.1,686.0 628.8,685.3 634.3,683.2 C639.8,681.2 641.9,681.5 646.7,677.0 C651.6,672.5 657.8,661.8 663.3,656.3 C668.8,650.8 675.0,647.0 679.9,643.9 C684.7,640.8 688.2,640.1 692.3,637.7 C696.4,635.3 700.9,631.8 704.7,629.4 C708.5,627.0 712.7,626.3 715.1,623.2 C717.5,620.1 717.5,610.1 719.2,610.8 C720.9,611.5 723.0,624.0 725.4,627.3 C727.8,630.6 731.1,630.3 733.7,630.6 C736.3,631.0 739.2,631.7 741.2,629.4 C743.1,627.1 743.8,617.0 745.3,617.0 C746.8,617.0 748.1,626.6 750.3,629.4 C752.5,632.2 755.1,632.4 758.5,633.5 C762.0,634.7 766.6,636.4 771.0,636.4 C775.3,636.4 782.4,634.0 784.6,633.5" fill="none" stroke="#000" stroke-width="0.65" stroke-linejoin="round"/>
<path d="M784.6,650.1 C782.4,651.1 775.3,656.3 771.0,656.3 C766.6,656.3 764.1,650.1 758.5,650.1 C753.0,650.1 744.1,656.1 737.8,656.3 C731.6,656.5 726.8,651.3 721.3,651.3 C715.8,651.3 709.5,654.1 704.7,656.3 C699.9,658.5 696.4,662.5 692.3,664.6 C688.2,666.7 684.0,664.6 679.9,668.7 C675.7,672.9 671.6,684.3 667.4,689.4 C663.3,694.6 659.9,697.7 655.0,699.8 C650.2,701.9 643.3,698.8 638.5,701.9 C633.6,705.0 630.2,715.0 626.0,718.4 C621.9,721.9 617.1,722.2 613.6,722.6 C610.2,722.9 608.8,718.4 605.3,720.5 C601.9,722.6 597.1,734.6 592.9,735.0 C588.8,735.3 584.6,725.0 580.5,722.6 C576.4,720.1 571.9,719.1 568.1,720.5 C564.3,721.9 560.1,724.6 557.7,730.8 C555.3,737.1 554.3,753.6 553.6,758.2" fill="none" stroke="#000" stroke-width="0.65" stroke-linejoin="round"/>
<path d="M784.6,667.9 C782.4,668.7 776.0,672.9 771.0,672.9 C765.9,672.9 759.9,668.5 754.4,667.9 C748.9,667.4 743.4,669.8 737.8,669.6 C732.3,669.4 726.8,666.1 721.3,666.7 C715.8,667.2 708.9,669.1 704.7,672.9 C700.6,676.7 698.4,683.8 696.4,689.4 C694.5,695.1 691.9,701.7 693.1,706.8 C694.3,712.0 701.7,718.2 703.5,720.5" fill="none" stroke="#000" stroke-width="0.65" stroke-linejoin="round"/>
<path d="M784.6,683.2 C782.4,684.8 775.3,690.7 771.0,692.7 C766.6,694.8 762.7,696.5 758.5,695.6 C754.4,694.8 751.0,689.0 746.1,687.4 C741.3,685.8 735.1,685.8 729.6,686.1 C724.0,686.5 717.3,687.5 713.0,689.4 C708.6,691.4 705.1,696.3 703.5,697.7" fill="none" stroke="#000" stroke-width="0.65" stroke-linejoin="round"/>
<path d="M408.2,758.2 C408.2,752.2 407.8,730.6 407.8,722.6 C407.8,714.6 408.2,712.2 408.2,710.1" fill="none" stroke="#000" stroke-width="0.65" stroke-linejoin="round"/>
<path d="M-0.0,754.0 C2.9,754.2 11.7,754.8 17.3,755.3 C23.0,755.8 27.8,756.3 33.9,756.9 C40.0,757.6 50.5,758.7 53.8,759.0" fill="none" stroke="#000" stroke-width="2.60" stroke-linejoin="round"/>
<path d="M178.8,567.3 L183.4,571.4 L184.6,576.8 L178.8,578.5 L173.5,576.4 L175.5,571.0Z" fill="none" stroke="#000" stroke-width="2.20" stroke-linejoin="round"/>
<path d="M635.6,649.3 L638.5,653.0 L635.6,657.1 L632.7,653.0Z" fill="none" stroke="#000" stroke-width="1.80" stroke-linejoin="round"/>
<g transform="translate(710.5,159.8) rotate(4.0)">
<rect x="-21.0" y="-13.0" width="42.0" height="26.0" fill="#fff"/>
<text x="0" y="7.5" font-family="Liberation Sans, Arial, Helvetica, sans-serif" font-size="21" text-anchor="middle">-16</text>
</g>
<g transform="translate(517.6,206.3) rotate(3.0)">
<rect x="-20.0" y="-13.0" width="40.0" height="26.0" fill="#fff"/>
<text x="0" y="7.5" font-family="Liberation Sans, Arial, Helvetica, sans-serif" font-size="21" text-anchor="middle">-12</text>
</g>
<g transform="translate(591.0,322.4) rotate(25.0)">
<rect x="-15.0" y="-13.0" width="30.0" height="26.0" fill="#fff"/>
<text x="0" y="7.5" font-family="Liberation Sans, Arial, Helvetica, sans-serif" font-size="21" text-anchor="middle">-8</text>
</g>
<g transform="translate(365.0,571.9) rotate(-35.0)">
<rect x="-15.0" y="-13.0" width="30.0" height="26.0" fill="#fff"/>
<text x="0" y="7.5" font-family="Liberation Sans, Arial, Helvetica, sans-serif" font-size="21" text-anchor="middle">-4</text>
</g>
<g transform="translate(485.4,627.7) rotate(-35.0)">
<rect x="-15.0" y="-13.0" width="30.0" height="26.0" fill="#fff"/>
<text x="0" y="7.5" font-family="Liberation Sans, Arial, Helvetica, sans-serif" font-size="21" text-anchor="middle">-4</text>
</g>
<g transform="translate(736.9,491.4) rotate(-35.0)">
<rect x="-15.0" y="-13.0" width="30.0" height="26.0" fill="#fff"/>
<text x="0" y="7.5" font-family="Liberation Sans, Arial, Helvetica, sans-serif" font-size="21" text-anchor="middle">-4</text>
</g>
</g>
</g>
<rect x="1391.5" y="1272.8" width="785.0" height="785.0" fill="none" stroke="#000" stroke-width="1.3"/>
<line x1="1370.0" y1="2057.8" x2="1397.0" y2="2057.8" stroke="#000" stroke-width="1.5"/>
<text x="1352.0" y="2067.8" font-family="Liberation Sans, Arial, Helvetica, sans-serif" font-size="28" text-anchor="end">0.0</text>
<line x1="1370.0" y1="1927.0" x2="1397.0" y2="1927.0" stroke="#000" stroke-width="1.5"/>
<text x="1352.0" y="1937.0" font-family="Liberation Sans, Arial, Helvetica, sans-serif" font-size="28" text-anchor="end">1.0</text>
<line x1="1370.0" y1="1796.1" x2="1397.0" y2="1796.1" stroke="#000" stroke-width="1.5"/>
<text x="1352.0" y="1806.1" font-family="Liberation Sans, Arial, Helvetica, sans-serif" font-size="28" text-anchor="end">2.0</text>
<line x1="1370.0" y1="1665.3" x2="1397.0" y2="1665.3" stroke="#000" stroke-width="1.5"/>
<text x="1352.0" y="1675.3" font-family="Liberation Sans, Arial, Helvetica, sans-serif" font-size="28" text-anchor="end">3.0</text>
<line x1="1370.0" y1="1534.5" x2="1397.0" y2="1534.5" stroke="#000" stroke-width="1.5"/>
<text x="1352.0" y="1544.5" font-family="Liberation Sans, Arial, Helvetica, sans-serif" font-size="28" text-anchor="end">4.0</text>
<line x1="1370.0" y1="1403.6" x2="1397.0" y2="1403.6" stroke="#000" stroke-width="1.5"/>
<text x="1352.0" y="1413.6" font-family="Liberation Sans, Arial, Helvetica, sans-serif" font-size="28" text-anchor="end">5.0</text>
<line x1="1370.0" y1="1272.8" x2="1397.0" y2="1272.8" stroke="#000" stroke-width="1.5"/>
<text x="1352.0" y="1282.8" font-family="Liberation Sans, Arial, Helvetica, sans-serif" font-size="28" text-anchor="end">6.0</text>
<line x1="1391.5" y1="2052.3" x2="1391.5" y2="2079.3" stroke="#000" stroke-width="1.5"/>
<text x="1391.5" y="2118.3" font-family="Liberation Sans, Arial, Helvetica, sans-serif" font-size="28" text-anchor="middle">39.5</text>
<line x1="1653.2" y1="2052.3" x2="1653.2" y2="2079.3" stroke="#000" stroke-width="1.5"/>
<text x="1653.2" y="2118.3" font-family="Liberation Sans, Arial, Helvetica, sans-serif" font-size="28" text-anchor="middle">40.3</text>
<line x1="1914.8" y1="2052.3" x2="1914.8" y2="2079.3" stroke="#000" stroke-width="1.5"/>
<text x="1914.8" y="2118.3" font-family="Liberation Sans, Arial, Helvetica, sans-serif" font-size="28" text-anchor="middle">41.2</text>
<line x1="2176.5" y1="2052.3" x2="2176.5" y2="2079.3" stroke="#000" stroke-width="1.5"/>
<text x="2176.5" y="2118.3" font-family="Liberation Sans, Arial, Helvetica, sans-serif" font-size="28" text-anchor="middle">42.1</text>
<text x="1784.0" y="2169.8" font-family="Liberation Sans, Arial, Helvetica, sans-serif" font-size="37" text-anchor="middle">latitude</text>
<text transform="translate(1285.5,1665.3) rotate(-90)" font-family="Liberation Sans, Arial, Helvetica, sans-serif" font-size="36" text-anchor="middle">Height (km)</text>
<text x="1388.9" y="1251.8" font-family="Liberation Sans, Arial, Helvetica, sans-serif" font-size="28.9">Radar Reflectivity of Hail</text>
<text x="2178.5" y="1257.1" font-family="Liberation Sans, Arial, Helvetica, sans-serif" font-size="28.5" text-anchor="end">dBZ</text>
<rect x="643.20" y="2194.6" width="50.53" height="46.5" fill="#ffffff" stroke="#777" stroke-width="0.7"/>
<rect x="693.73" y="2194.6" width="50.53" height="46.5" fill="#2e0040" stroke="#000" stroke-width="0.7"/>
<rect x="744.26" y="2194.6" width="50.53" height="46.5" fill="#3a0058" stroke="#000" stroke-width="0.7"/>
<rect x="794.79" y="2194.6" width="50.53" height="46.5" fill="#440078" stroke="#000" stroke-width="0.7"/>
<rect x="845.32" y="2194.6" width="50.53" height="46.5" fill="#3a00a8" stroke="#000" stroke-width="0.7"/>
<rect x="895.85" y="2194.6" width="50.53" height="46.5" fill="#2200d0" stroke="#000" stroke-width="0.7"/>
<rect x="946.38" y="2194.6" width="50.53" height="46.5" fill="#0020f4" stroke="#000" stroke-width="0.7"/>
<rect x="996.91" y="2194.6" width="50.53" height="46.5" fill="#006cfc" stroke="#000" stroke-width="0.7"/>
<rect x="1047.44" y="2194.6" width="50.53" height="46.5" fill="#00bcfc" stroke="#000" stroke-width="0.7"/>
<rect x="1097.97" y="2194.6" width="50.53" height="46.5" fill="#00f4e4" stroke="#000" stroke-width="0.7"/>
<rect x="1148.50" y="2194.6" width="50.53" height="46.5" fill="#00f084" stroke="#000" stroke-width="0.7"/>
<rect x="1199.03" y="2194.6" width="50.53" height="46.5" fill="#00c024" stroke="#000" stroke-width="0.7"/>
<rect x="1249.56" y="2194.6" width="50.53" height="46.5" fill="#24c000" stroke="#000" stroke-width="0.7"/>
<rect x="1300.09" y="2194.6" width="50.53" height="46.5" fill="#84f000" stroke="#000" stroke-width="0.7"/>
<rect x="1350.62" y="2194.6" width="50.53" height="46.5" fill="#e4f800" stroke="#000" stroke-width="0.7"/>
<rect x="1401.15" y="2194.6" width="50.53" height="46.5" fill="#fcc000" stroke="#000" stroke-width="0.7"/>
<rect x="1451.68" y="2194.6" width="50.53" height="46.5" fill="#fc6c00" stroke="#000" stroke-width="0.7"/>
<rect x="1502.21" y="2194.6" width="50.53" height="46.5" fill="#f42400" stroke="#000" stroke-width="0.7"/>
<rect x="1552.74" y="2194.6" width="50.53" height="46.5" fill="#d40020" stroke="#000" stroke-width="0.7"/>
<rect x="1603.27" y="2194.6" width="50.53" height="46.5" fill="#a80040" stroke="#000" stroke-width="0.7"/>
<rect x="1653.80" y="2194.6" width="50.53" height="46.5" fill="#7c0044" stroke="#000" stroke-width="0.7"/>
<rect x="1704.33" y="2194.6" width="50.53" height="46.5" fill="#58003c" stroke="#000" stroke-width="0.7"/>
<rect x="1754.86" y="2194.6" width="50.53" height="46.5" fill="#400030" stroke="#000" stroke-width="0.7"/>
<rect x="1805.39" y="2194.6" width="50.53" height="46.5" fill="#380028" stroke="#000" stroke-width="0.7"/>
<rect x="643.20" y="2194.6" width="1212.72" height="46.5" fill="none" stroke="#666" stroke-width="1.0"/>
<text x="744.3" y="2314.5" font-family="Liberation Sans, Arial, Helvetica, sans-serif" font-size="51" text-anchor="middle">-6</text>
<text x="845.3" y="2314.5" font-family="Liberation Sans, Arial, Helvetica, sans-serif" font-size="51" text-anchor="middle">0</text>
<text x="946.4" y="2314.5" font-family="Liberation Sans, Arial, Helvetica, sans-serif" font-size="51" text-anchor="middle">6</text>
<text x="1047.4" y="2314.5" font-family="Liberation Sans, Arial, Helvetica, sans-serif" font-size="51" text-anchor="middle">12</text>
<text x="1148.5" y="2314.5" font-family="Liberation Sans, Arial, Helvetica, sans-serif" font-size="51" text-anchor="middle">18</text>
<text x="1249.6" y="2314.5" font-family="Liberation Sans, Arial, Helvetica, sans-serif" font-size="51" text-anchor="middle">24</text>
<text x="1350.6" y="2314.5" font-family="Liberation Sans, Arial, Helvetica, sans-serif" font-size="51" text-anchor="middle">30</text>
<text x="1451.7" y="2314.5" font-family="Liberation Sans, Arial, Helvetica, sans-serif" font-size="51" text-anchor="middle">36</text>
<text x="1552.7" y="2314.5" font-family="Liberation Sans, Arial, Helvetica, sans-serif" font-size="51" text-anchor="middle">42</text>
<text x="1653.8" y="2314.5" font-family="Liberation Sans, Arial, Helvetica, sans-serif" font-size="51" text-anchor="middle">48</text>
<text x="1754.9" y="2314.5" font-family="Liberation Sans, Arial, Helvetica, sans-serif" font-size="51" text-anchor="middle">54</text>
<text x="1250" y="2381" font-family="Liberation Sans, Arial, Helvetica, sans-serif" font-size="55" text-anchor="middle">dBZ</text>
</svg></body></html>
